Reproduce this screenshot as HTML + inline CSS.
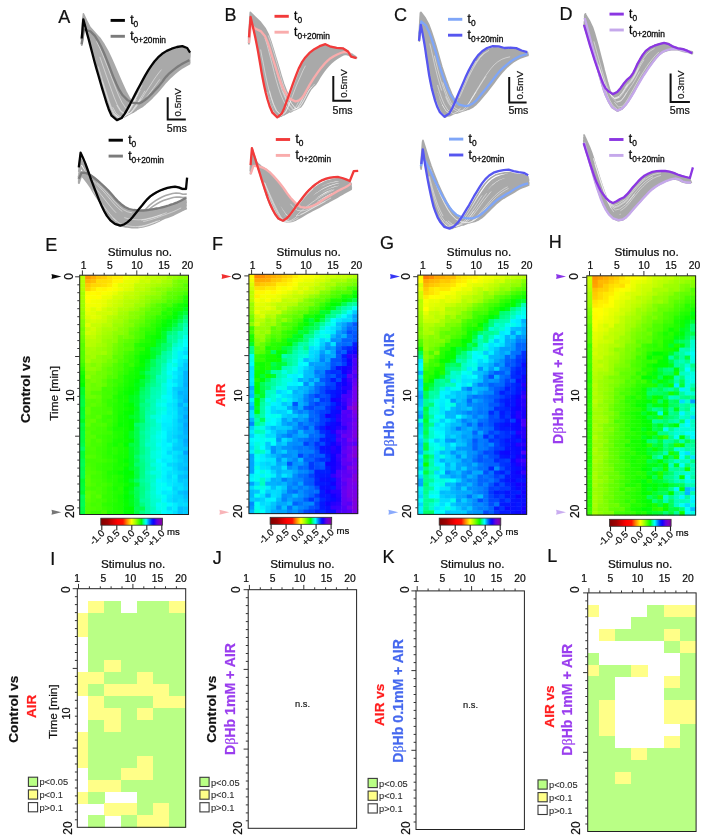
<!DOCTYPE html>
<html><head><meta charset="utf-8"><title>figure</title>
<style>
html,body{margin:0;padding:0;background:#fff}
svg{display:block;font-family:"Liberation Sans", sans-serif;will-change:transform}
text{stroke-width:.22px}
.h rect{width:5.94px;height:4.44px}
</style></head><body>
<svg width="706" height="840" viewBox="0 0 706 840">
<path d="M82 39.2L82.5 32.8L83.1 26.2L83.6 19.6L85.5 26.5L87.4 33.2L89.3 40L91.2 46.7L93.1 53.4L94.9 60.2L96.8 67L98.7 73.9L100.7 80.8L102.7 87.7L104.7 94.7L106.9 101.8L109.2 108.8L112.2 115.5L117.4 120L122.1 118.1L125.3 113.8L128 109.2L130.7 104.5L133.2 99.6L135.8 94.7L138.3 89.8L140.9 84.9L143.5 80L146.2 75.1L149 70.4L152 65.9L155.3 61.6L158.8 57.6L162.8 54.2L167.4 51.5L172.2 49.4L177.3 47.9L182.5 47.2L187.3 49.1L190.1 53.5M81.7 39L82.2 32.2L82.7 25.3L83.2 18.5L85.2 25.4L87.1 32.4L89.2 39.2L91.3 46.1L93.3 53.1L95.3 60.2L97.3 67.2L99.4 74.2L101.5 81.2L103.6 88.1L105.8 95L108 101.8L110.5 108.5L113.6 114.9L118.9 119.1L123.6 116.9L126.7 112.6L129.4 108L132 103.4L134.4 98.8L136.9 94.1L139.4 89.6L141.8 85L144.4 80.5L146.9 76L149.6 71.6L152.5 67.3L155.6 63.2L159.1 59.3L163 55.8L167.4 53L172.1 50.7L177.1 48.9L182.2 47.9L187 49.3L189.9 53.3M81.7 39.4L82.3 32.4L82.8 25.5L83.3 18.6L85.3 25.5L87.4 32.4L89.6 39.2L91.9 45.9L94 52.8L96 59.7L98.1 66.6L100.1 73.5L102.3 80.5L104.4 87.3L106.6 94.2L108.8 101.1L111.3 107.8L114.5 114.3L119.8 118.5L124.4 116.5L127.4 112.3L130.1 108L132.7 103.5L135.2 99L137.6 94.5L140.1 89.9L142.6 85.4L145.1 80.9L147.6 76.5L150.3 72.1L153.2 67.8L156.3 63.7L159.8 59.9L163.6 56.4L167.9 53.7L172.6 51.5L177.4 49.8L182.5 48.7L187.1 50.2L190 54M81.7 39.7L82.3 32.6L82.8 25.5L83.4 18.4L85.5 25.4L87.6 32.2L90 38.9L92.4 45.6L94.6 52.4L96.7 59.2L98.8 66.1L100.9 73L103.1 79.8L105.3 86.7L107.5 93.6L109.8 100.5L112.3 107.2L115.5 113.7L120.9 117.9L125.3 115.9L128.4 111.9L131 107.7L133.6 103.4L136.1 99L138.5 94.6L141 90.2L143.5 85.8L146 81.4L148.5 77L151.1 72.6L154 68.5L157.1 64.5L160.5 60.7L164.2 57.3L168.5 54.6L173 52.4L177.7 50.8L182.6 49.7L187.1 51L190 54.6M81.7 39.8L82.2 32.6L82.8 25.4L83.3 18.2L85.5 25.1L87.7 32L90.2 38.7L92.7 45.3L95 52.1L97.2 59L99.4 65.9L101.5 72.7L103.7 79.6L106 86.4L108.2 93.2L110.5 100.1L113.1 106.8L116.4 113.1L121.8 117.3L126.2 115.3L129.2 111.5L131.8 107.3L134.4 103.1L136.8 98.9L139.2 94.6L141.7 90.3L144.1 86.1L146.6 81.8L149.1 77.5L151.7 73.3L154.5 69.2L157.6 65.2L160.9 61.5L164.6 58.1L168.8 55.4L173.2 53.2L177.9 51.5L182.7 50.4L187.1 51.5L190 54.9M81.4 39.5L81.9 32L82.4 24.5L82.9 17.2L85.1 24.2L87.4 31.2L90 38.1L92.6 44.9L95 52L97.4 59.1L99.6 66.2L101.9 73.2L104.2 80.1L106.6 86.9L109 93.6L111.4 100.2L114 106.7L117.5 112.8L122.9 116.6L127.2 114.5L130.2 110.5L132.8 106.3L135.3 102.2L137.7 98.1L140 94L142.4 90L144.7 86.1L147.1 82.1L149.5 78.2L152 74.2L154.7 70.4L157.7 66.5L160.9 62.9L164.6 59.5L168.6 56.5L173 54.1L177.6 52.1L182.4 50.7L186.8 51.6L189.7 54.5M82 41L82.5 33.2L82.9 25.3L83.4 17.5L85.5 24.1L87.7 30.8L90.4 37.2L93 43.7L95.4 50.5L97.7 57.5L99.9 64.6L102.2 71.8L104.4 79L106.8 86.1L109.1 93.2L111.6 100.2L114.3 107L117.9 113.3L123.5 117.2L127.8 115.1L130.8 111.1L133.5 106.9L136.1 102.5L138.6 98.2L141.1 93.9L143.5 89.6L145.9 85.5L148.4 81.4L150.8 77.5L153.3 73.7L156 70L158.9 66.5L162 63.3L165.5 60.3L169.4 57.8L173.6 55.7L177.9 54L182.4 52.7L186.7 53.4L189.4 56M81.6 40.3L82.2 32.8L82.8 25.3L83.3 17.7L85.6 24.7L88 31.6L90.8 38.2L93.6 44.7L96.1 51.4L98.5 58.2L100.7 65L103 71.8L105.3 78.6L107.6 85.4L109.9 92.2L112.4 99L115 105.6L118.5 111.9L124 116L128.1 114.1L131 110.5L133.6 106.7L136.1 102.8L138.5 98.8L140.9 94.8L143.3 90.8L145.7 86.7L148.2 82.7L150.6 78.6L153.2 74.5L155.9 70.6L158.9 66.8L162.1 63.2L165.7 59.9L169.7 57.2L173.9 55L178.3 53.3L182.9 52.1L187.1 53L190 55.8M81.8 41L82.4 33.3L83 25.6L83.5 17.8L85.8 24.7L88.2 31.4L91.1 37.8L93.9 44.2L96.5 50.8L98.9 57.5L101.1 64.3L103.4 71.1L105.7 78L108 84.9L110.4 91.8L112.8 98.7L115.5 105.4L119 111.8L124.6 115.9L128.7 114.1L131.6 110.6L134.2 106.8L136.7 102.9L139.2 98.9L141.6 94.8L144 90.8L146.5 86.7L148.9 82.6L151.4 78.6L153.9 74.5L156.6 70.7L159.6 67L162.8 63.6L166.3 60.5L170.1 58L174.2 55.9L178.5 54.3L183 53.2L187.1 54L189.9 56.6M82 41.6L82.5 33.7L83.1 25.7L83.7 17.7L86 24.5L88.4 31.2L91.4 37.4L94.4 43.6L97 50.1L99.4 56.8L101.8 63.5L104.1 70.4L106.4 77.3L108.7 84.3L111.1 91.2L113.6 98.2L116.3 105.1L119.9 111.5L125.5 115.5L129.6 113.8L132.5 110.4L135.1 106.7L137.7 102.8L140.1 98.9L142.5 94.9L145 90.8L147.4 86.8L149.9 82.8L152.3 78.8L154.8 74.9L157.5 71.1L160.4 67.6L163.5 64.4L166.9 61.4L170.7 59L174.7 57.1L178.8 55.5L183.1 54.4L187.1 55L189.8 57.4M81.9 41.6L82.4 33.4L82.9 25.3L83.4 17.1L85.8 23.8L88.2 30.5L91.3 36.7L94.3 43L97 49.7L99.5 56.5L101.9 63.5L104.3 70.5L106.7 77.5L109.1 84.6L111.5 91.5L114.1 98.5L117 105.2L120.7 111.4L126.3 115.3L130.4 113.4L133.3 109.9L135.9 106.1L138.4 102.2L140.9 98.2L143.3 94.3L145.7 90.4L148.1 86.6L150.4 82.8L152.8 79L155.2 75.4L157.9 71.9L160.7 68.5L163.7 65.4L167 62.5L170.7 60.1L174.6 58L178.6 56.3L182.8 55L186.8 55.4L189.6 57.3M81.8 41.4L82.3 33.4L82.9 25.3L83.5 17.3L85.9 24.1L88.4 30.9L91.6 37.2L94.7 43.5L97.5 50.1L100 56.8L102.4 63.6L104.8 70.4L107.2 77.2L109.6 84.1L112 90.9L114.5 97.7L117.3 104.5L121 110.7L126.6 114.7L130.6 113L133.4 109.6L136 106.1L138.5 102.4L140.9 98.6L143.3 94.9L145.6 91.1L148 87.2L150.4 83.4L152.8 79.6L155.3 75.8L158 72.1L160.8 68.6L163.9 65.3L167.2 62.3L170.9 59.8L174.8 57.7L178.9 56L183.1 54.9L187.1 55.3L189.8 57.4M81.8 41.8L82.3 33.4L82.9 25.1L83.4 16.7L85.8 23.5L88.4 30.2L91.6 36.5L94.9 42.7L97.7 49.4L100.3 56.2L102.8 63.1L105.3 70.1L107.7 77L110.2 84L112.7 90.9L115.3 97.7L118.2 104.4L122 110.5L127.7 114.3L131.6 112.5L134.5 109.1L137.1 105.5L139.6 101.9L142 98.2L144.3 94.5L146.7 90.8L149 87.1L151.4 83.5L153.7 79.9L156.1 76.3L158.7 72.9L161.4 69.6L164.4 66.5L167.6 63.6L171.2 61.2L175 59.1L178.9 57.3L183 55.9L186.8 56.1L189.6 57.8M81.8 41.9L82.3 33.4L82.8 25L83.4 16.6L85.8 23.4L88.4 30.1L91.8 36.3L95.1 42.6L98 49.2L100.7 56L103.2 62.9L105.7 69.9L108.2 76.8L110.6 83.7L113.2 90.6L115.8 97.4L118.8 104.1L122.6 110.2L128.4 113.9L132.2 112.1L135 108.8L137.6 105.3L140.1 101.7L142.5 98.1L144.8 94.5L147.1 90.9L149.5 87.3L151.8 83.8L154.1 80.2L156.5 76.7L159.1 73.3L161.8 70.1L164.7 67L167.9 64.2L171.4 61.7L175.1 59.6L179 57.8L183 56.4L186.8 56.5L189.6 58M81.6 41.8L82.2 33.3L82.8 24.9L83.3 16.4L85.9 23.3L88.6 30.1L92 36.4L95.5 42.6L98.5 49.2L101.2 56L103.8 62.9L106.3 69.7L108.9 76.5L111.4 83.4L113.9 90.1L116.6 96.9L119.6 103.4L123.4 109.5L129.2 113.2L132.9 111.5L135.7 108.3L138.2 105L140.6 101.6L143 98.2L145.3 94.7L147.6 91.3L149.9 87.8L152.2 84.4L154.5 80.9L156.9 77.4L159.4 74L162.1 70.7L165.1 67.6L168.2 64.7L171.7 62.2L175.4 60L179.2 58.1L183.2 56.8L186.9 56.8L189.7 58.2M81.7 42L82.2 33.2L82.7 24.5L83.2 15.8L85.7 22.5L88.3 29.3L91.8 35.5L95.4 41.8L98.4 48.6L101.2 55.6L103.8 62.7L106.4 69.8L109 76.8L111.6 83.7L114.2 90.6L117 97.3L120 103.8L124 109.8L129.8 113.2L133.6 111.3L136.4 108L139 104.5L141.4 101L143.7 97.5L146 94L148.3 90.7L150.6 87.4L152.8 84.1L155.1 80.9L157.3 77.7L159.8 74.6L162.4 71.5L165.2 68.6L168.3 65.8L171.7 63.3L175.2 61.1L179 59.1L182.9 57.5L186.6 57.2L189.3 58.3M82.2 43.2L82.7 34.4L83.2 25.6L83.7 16.6L86.2 23.2L88.9 29.6L92.4 35.4L96 41.3L99 47.8L101.7 54.4L104.2 61.3L106.7 68.3L109.2 75.4L111.7 82.5L114.3 89.6L117.1 96.7L120.1 103.6L124.1 109.8L130 113.6L133.7 111.9L136.5 108.8L139.2 105.4L141.7 101.8L144.1 98.2L146.5 94.5L148.9 90.9L151.3 87.3L153.6 83.8L155.9 80.3L158.3 77L160.8 73.9L163.4 71L166.2 68.2L169.2 65.8L172.5 63.6L175.9 61.8L179.5 60.2L183.2 58.9L186.8 58.7L189.4 59.7M81.9 42.8L82.4 33.8L82.9 24.9L83.4 16L85.9 22.6L88.6 29.2L92.2 35.2L95.9 41.3L98.9 47.9L101.7 54.8L104.3 61.8L106.9 68.8L109.5 75.9L112.1 83L114.8 89.9L117.5 96.8L120.6 103.5L124.6 109.5L130.5 113.1L134.2 111.3L137.1 108.1L139.6 104.7L142.1 101.2L144.5 97.7L146.8 94.2L149.1 90.8L151.4 87.4L153.7 84.1L155.9 80.9L158.2 77.7L160.7 74.7L163.3 71.8L166 69L169 66.4L172.3 64.1L175.7 62L179.3 60.2L183 58.7L186.6 58.4L189.3 59.2M81.7 42.6L82.3 33.8L82.9 24.9L83.4 16.1L86.1 22.9L88.9 29.6L92.6 35.7L96.4 41.7L99.5 48.3L102.4 55L105 61.8L107.6 68.6L110.2 75.5L112.8 82.3L115.5 89.2L118.2 95.9L121.3 102.6L125.3 108.6L131.1 112.3L134.7 110.6L137.4 107.7L140 104.6L142.4 101.3L144.7 98.1L147 94.8L149.3 91.5L151.6 88.2L153.9 84.9L156.1 81.6L158.5 78.3L160.9 75.1L163.6 72.1L166.4 69.1L169.4 66.4L172.6 64L176.1 62L179.6 60.2L183.3 58.8L186.9 58.5L189.6 59.4M81.5 42.3L82.1 33.4L82.7 24.5L83.3 15.7L86 22.7L88.9 29.5L92.8 35.7L96.7 41.8L100 48.4L103 55.1L105.8 61.9L108.4 68.6L111.1 75.4L113.7 82.1L116.4 88.7L119.2 95.3L122.3 101.8L126.3 107.7L132.2 111.3L135.6 109.6L138.3 106.9L140.8 103.9L143.1 101L145.4 98L147.6 94.9L149.8 91.9L152.1 88.8L154.3 85.7L156.5 82.5L158.8 79.3L161.3 76.1L163.9 73L166.7 70L169.6 67.2L172.9 64.7L176.2 62.4L179.8 60.5L183.4 59L186.9 58.6L189.7 59.3M82 43.6L82.6 34.4L83.1 25.2L83.6 15.9L86.3 22.5L89.1 29L93 34.8L96.9 40.6L100.1 47L103.1 53.7L105.8 60.6L108.4 67.5L111.1 74.5L113.7 81.6L116.4 88.6L119.2 95.6L122.4 102.3L126.5 108.4L132.5 112L136 110.4L138.8 107.5L141.3 104.4L143.8 101.2L146.2 97.9L148.5 94.6L150.8 91.3L153.1 88.1L155.4 84.9L157.6 81.7L159.9 78.6L162.3 75.7L164.8 73L167.5 70.4L170.3 68L173.4 65.8L176.6 63.9L179.9 62.2L183.4 60.8L186.7 60.2L189.4 60.6M81.6 43L82.2 33.7L82.7 24.5L83.3 15.3L86 22.1L89 28.8L93 34.9L97 40.9L100.3 47.5L103.4 54.3L106.2 61.2L108.9 68.1L111.6 75L114.3 81.8L117.1 88.6L119.9 95.3L123.1 101.8L127.3 107.7L133.3 111.1L136.7 109.4L139.4 106.6L141.9 103.6L144.2 100.6L146.5 97.6L148.8 94.5L151 91.6L153.2 88.6L155.4 85.6L157.6 82.6L159.8 79.6L162.2 76.7L164.7 73.9L167.4 71.1L170.2 68.5L173.3 66.1L176.5 64L179.8 62.1L183.3 60.4L186.7 59.8L189.5 60M81.7 43.2L82.3 34.1L82.9 25L83.5 15.8L86.4 22.7L89.4 29.4L93.5 35.3L97.6 41.2L101 47.5L104.1 54L106.9 60.7L109.6 67.4L112.3 74.1L115 80.8L117.7 87.5L120.5 94.3L123.7 100.9L127.8 106.9L133.7 110.5L137 109.1L139.7 106.6L142.1 103.9L144.4 101.1L146.7 98.2L149 95.3L151.3 92.3L153.5 89.3L155.8 86.2L158 83L160.3 79.9L162.7 76.8L165.3 73.8L168 71L170.8 68.4L173.9 66.1L177 64L180.4 62.3L183.8 60.8L187.1 60.3L189.8 60.6M81.8 43.7L82.5 34.6L83.1 25.3L83.7 16.1L86.6 22.9L89.6 29.5L93.8 35.2L97.9 40.9L101.3 47.1L104.4 53.5L107.2 60.1L109.9 66.7L112.5 73.5L115.2 80.3L117.9 87.1L120.7 94L123.9 100.7L128 106.8L134 110.5L137.3 109.2L139.9 106.8L142.4 104.2L144.7 101.4L147 98.5L149.3 95.5L151.7 92.4L154 89.3L156.2 86.1L158.5 82.9L160.8 79.7L163.2 76.6L165.8 73.8L168.4 71L171.3 68.6L174.2 66.4L177.4 64.5L180.6 62.9L183.9 61.5L187.1 61L189.8 61.3M81.7 43.6L82.4 34.4L83 25.2L83.7 15.9L86.6 22.8L89.7 29.5L94 35.3L98.2 41L101.7 47.2L104.8 53.6L107.7 60.1L110.4 66.7L113.1 73.3L115.7 80L118.4 86.7L121.3 93.5L124.4 100.2L128.6 106.3L134.6 109.9L137.8 108.6L140.4 106.4L142.8 103.9L145.1 101.3L147.4 98.5L149.7 95.7L152 92.8L154.2 89.7L156.5 86.6L158.7 83.4L161 80.2L163.4 77.2L166 74.2L168.7 71.5L171.5 68.9L174.4 66.7L177.5 64.7L180.7 63L184 61.7L187.2 61.2L189.9 61.3M81.9 44.1L82.5 34.5L83 24.8L83.5 15.1L86.3 21.7L89.3 28.2L93.5 33.9L97.8 39.7L101.3 46.1L104.4 52.8L107.2 59.7L110 66.7L112.8 73.7L115.5 80.8L118.4 87.7L121.3 94.6L124.7 101.2L129 107.2L135.1 110.6L138.4 108.9L141.1 106.3L143.6 103.4L146 100.5L148.3 97.5L150.6 94.5L152.9 91.5L155.1 88.6L157.3 85.8L159.4 82.9L161.6 80.2L163.9 77.5L166.3 75L168.8 72.6L171.5 70.4L174.3 68.2L177.2 66.3L180.3 64.4L183.5 62.8L186.6 61.9L189.3 61.5M81.7 43.9L82.3 34.3L82.9 24.7L83.5 15.1L86.3 21.8L89.4 28.5L93.7 34.2L98.1 40L101.6 46.4L104.8 53L107.7 59.9L110.5 66.7L113.3 73.6L116 80.5L118.9 87.3L121.8 94L125.1 100.6L129.5 106.5L135.5 109.9L138.8 108.4L141.4 105.9L143.8 103.2L146.2 100.4L148.5 97.6L150.7 94.8L152.9 92L155.2 89.2L157.3 86.4L159.5 83.5L161.7 80.7L164 78L166.4 75.4L168.9 72.8L171.6 70.4L174.4 68.2L177.4 66.2L180.5 64.3L183.6 62.7L186.8 61.8L189.4 61.4M81.9 44.3L82.5 34.8L83.2 25.3L83.8 15.7L86.7 22.5L89.9 29.1L94.3 34.7L98.7 40.2L102.3 46.4L105.5 52.7L108.4 59.3L111.1 65.9L113.9 72.6L116.5 79.4L119.3 86.2L122.2 93.1L125.5 99.8L129.8 105.9L135.8 109.5L138.9 108.3L141.5 106.1L143.9 103.7L146.3 101.1L148.6 98.4L150.9 95.6L153.1 92.7L155.4 89.8L157.7 86.8L159.9 83.7L162.1 80.7L164.5 77.8L167 75.1L169.5 72.5L172.2 70.1L175 68L178 66.2L181 64.5L184.1 63.2L187.1 62.4L189.8 62.2M81.9 44.5L82.5 34.8L83.1 25L83.6 15.1L86.6 21.8L89.7 28.3L94.1 33.9L98.6 39.5L102.2 45.7L105.5 52.3L108.4 59L111.2 65.9L114 72.8L116.8 79.7L119.6 86.6L122.6 93.5L126 100.1L130.4 106.1L136.5 109.5L139.6 108.1L142.2 105.7L144.7 103.2L147.1 100.5L149.4 97.8L151.6 95L153.9 92.2L156.1 89.4L158.3 86.6L160.4 83.7L162.6 81L164.9 78.4L167.3 75.9L169.8 73.5L172.3 71.2L175.1 69.2L177.9 67.3L180.8 65.5L183.8 64L186.8 62.9L189.4 62.3M81.8 44.6L82.5 34.8L83.1 25L83.7 15.1L86.7 21.9L90 28.4L94.5 34L99.1 39.5L102.9 45.7L106.2 52.1L109.2 58.7L112 65.4L114.8 72.2L117.6 79L120.5 85.8L123.5 92.7L126.8 99.3L131.3 105.3L137.4 108.7L140.4 107.4L143 105.3L145.4 103L147.7 100.5L150 98L152.2 95.4L154.5 92.7L156.7 90L158.9 87.2L161 84.4L163.2 81.6L165.5 78.9L167.8 76.4L170.3 74L172.9 71.8L175.5 69.7L178.3 67.8L181.1 66L184.1 64.6L187 63.5L189.6 62.7M81.5 44L82.1 34.3L82.8 24.6L83.5 14.8L86.6 21.8L89.9 28.6L94.6 34.3L99.3 40L103.2 46.2L106.6 52.7L109.6 59.2L112.5 65.8L115.4 72.4L118.2 79L121.1 85.6L124.1 92.2L127.5 98.6L131.9 104.4L137.9 107.8L140.9 106.6L143.4 104.6L145.7 102.5L147.9 100.3L150.1 98L152.3 95.6L154.5 93.2L156.7 90.7L158.8 88L160.9 85.3L163.1 82.5L165.3 79.7L167.7 77L170.2 74.4L172.8 71.9L175.5 69.6L178.3 67.5L181.2 65.7L184.1 64.1L187.1 63L189.8 62.3M81.9 45.1L82.5 35L83.1 24.8L83.7 14.6L86.7 21.3L90 27.7L94.6 33.2L99.3 38.7L103.2 44.9L106.5 51.4L109.6 58.2L112.5 65L115.4 71.9L118.2 78.9L121.2 85.8L124.2 92.6L127.7 99.3L132.3 105.2L138.5 108.5L141.5 107.1L144 104.9L146.5 102.6L148.8 100.1L151.1 97.6L153.3 95L155.5 92.4L157.7 89.8L159.9 87.2L162 84.6L164.1 82.1L166.3 79.7L168.5 77.4L170.9 75.2L173.3 73.1L175.9 71.1L178.4 69.2L181.1 67.4L183.9 65.8L186.7 64.4L189.3 63.3M81.4 44.2L82.1 34.3L82.8 24.5L83.5 14.7L86.6 21.7L90.1 28.5L94.9 34.2L99.7 39.7L103.7 46L107.2 52.4L110.3 58.9L113.2 65.4L116.1 72L119 78.5L121.9 85.1L124.9 91.6L128.3 98.1L132.8 103.9L138.9 107.2L141.7 106L144.2 104.2L146.5 102.2L148.7 100.1L150.8 98L153 95.8L155.2 93.4L157.3 91L159.5 88.5L161.5 85.8L163.7 83L165.9 80.3L168.3 77.7L170.8 75.1L173.3 72.7L175.9 70.4L178.6 68.3L181.4 66.4L184.3 64.8L187.1 63.6L189.8 62.7M81.8 45.1L82.4 34.9L83 24.8L83.6 14.5L86.7 21.2L90.1 27.8L94.8 33.2L99.7 38.7L103.5 44.9L107 51.4L110.1 58.1L113 64.9L115.9 71.7L118.8 78.5L121.7 85.4L124.8 92.2L128.3 98.7L132.9 104.6L139.1 107.9L142 106.6L144.5 104.5L146.9 102.3L149.2 100L151.5 97.6L153.7 95.2L155.9 92.7L158.1 90.2L160.2 87.7L162.3 85.1L164.4 82.6L166.6 80.1L168.9 77.8L171.2 75.6L173.6 73.5L176.1 71.4L178.7 69.5L181.3 67.7L184 66.1L186.8 64.7L189.4 63.4M81.8 45.1L82.3 34.7L82.8 24.2L83.4 13.8L86.5 20.5L89.8 27L94.7 32.5L99.6 38.1L103.5 44.5L107 51.2L110.2 58.1L113.2 65L116.2 72L119.1 78.9L122.2 85.7L125.3 92.5L128.9 98.9L133.6 104.6L139.9 107.7L142.8 106.2L145.3 104L147.7 101.7L150 99.3L152.3 96.9L154.4 94.6L156.6 92.3L158.7 90L160.8 87.7L162.8 85.4L164.8 83.1L166.9 80.9L169.1 78.8L171.3 76.7L173.7 74.6L176.1 72.5L178.5 70.5L181.1 68.5L183.8 66.7L186.5 65L189.1 63.4M81.7 45.2L82.4 35L83 24.7L83.7 14.5L86.8 21.2L90.3 27.8L95.2 33.2L100.2 38.6L104.2 44.8L107.8 51.2L110.9 57.7L113.9 64.4L116.8 71.1L119.7 77.9L122.7 84.6L125.8 91.4L129.3 97.9L133.9 103.8L140.2 107.1L143 105.8L145.4 104L147.8 102L150 99.9L152.2 97.8L154.4 95.5L156.6 93.2L158.8 90.8L160.9 88.3L163 85.8L165 83.3L167.2 80.9L169.5 78.5L171.8 76.3L174.2 74.1L176.6 72.1L179.1 70.2L181.6 68.4L184.3 66.8L186.9 65.3L189.6 63.8" fill="none" stroke="#a9a9a9" stroke-width="1.6" stroke-linejoin="round" stroke-linecap="round"/>
<path d="M116.7 105L120.3 111.2L125.9 115.1L129.9 113.3L132.8 109.8L135.4 106.1L137.9 102.4L140.3 98.5L142.7 94.7L145 90.8M143.9 101L146.2 98L148.5 94.9L150.8 91.8L153 88.7L155.3 85.6L157.5 82.4L159.8 79.3M127.8 114.1L131.7 112.3L134.5 109.1L137.1 105.6L139.5 102L141.9 98.4L144.2 94.7L146.6 91.1L148.9 87.4L151.3 83.8L153.6 80.1L156.1 76.5L158.7 73L161.5 69.6M99.8 56.9L102.2 63.7L104.6 70.6L107 77.5L109.4 84.3L111.9 91.2L114.4 98L117.2 104.7L120.9 110.9L126.5 114.8L130.5 113L133.4 109.6L136 105.9L138.4 102.2L140.8 98.5M96.6 41.5L99.8 48L102.7 54.7L105.4 61.5L108.1 68.3L110.7 75.2L113.3 82L115.9 88.8L118.7 95.6L121.8 102.2L125.8 108.3M101.9 80.7L104 87.6L106.2 94.4L108.4 101.3L110.8 108.1L114 114.5L119.3 118.8L123.8 116.8L126.9 112.6L129.6 108.1L132.2 103.6L134.7 99.1L137.2 94.5L139.6 89.9L142.1 85.3M112.6 107.1L116 113.5L121.4 117.6L125.8 115.7L128.8 111.7L131.4 107.5L134 103.2L136.5 98.9M98.2 66.5L100.3 73.4L102.4 80.3L104.6 87.2L106.8 94.1L109 100.9L111.5 107.7L114.7 114.1L120 118.3L124.5 116.4L127.6 112.3L130.3 107.9L132.9 103.5L135.3 99L137.8 94.5L140.3 90M114.7 114.1L120 118.4L124.5 116.4L127.6 112.3L130.3 107.9L132.8 103.5L135.3 99L137.8 94.5" fill="none" stroke="#fff" stroke-opacity="0.75" stroke-width="0.6" stroke-linejoin="round"/>
<path d="M81.7 44.2L82.5 39.3L83.2 34.4L84 29.5L90.3 31.3L94.9 35.9L98.4 41.5L101.4 47.3L104.1 53.3L106.6 59.4L109 65.5L111.3 71.6L113.7 77.8L116.3 83.8L119.1 89.7L122.7 95.3L127.3 99.9L133.1 102.9L139.5 103.3L142.3 101.9L144.9 100L147.4 98L149.7 95.8L151.9 93.6L154.1 91.3L156.3 88.9L158.4 86.6L160.4 84.1L162.4 81.6L164.2 79L166.2 76.6L168.4 74.2L170.8 72.1L173.2 70.1L175.7 68.2L178.3 66.3L181 64.6L183.7 63L186.6 61.5L189.4 60.1" fill="none" stroke="#7b7b7b" stroke-width="2.3" stroke-linejoin="round" stroke-linecap="butt"/>
<path d="M81.7 38.5L82.3 32.1L82.8 25.7L83.3 19.3L85.2 26.2L87 33.2L88.9 40.1L90.7 47.1L92.5 54L94.3 61L96.2 67.9L98.2 74.8L100.2 81.7L102.2 88.6L104.3 95.5L106.4 102.4L108.7 109.2L111.6 115.7L116.9 120.1L121.6 118L124.8 113.6L127.5 108.9L130.1 104.1L132.6 99.2L135.1 94.4L137.6 89.5L140.2 84.7L142.8 79.9L145.4 75.1L148.2 70.4L151.2 65.9L154.4 61.5L158 57.4L162.1 53.8L166.7 50.9L171.7 48.7L176.9 47L182.3 46.1L187.2 48L190.1 52.6" fill="none" stroke="#050505" stroke-width="2.3" stroke-linejoin="round" stroke-linecap="butt"/>
<path d="M78.9 167.9L79.6 163.1L80.2 158.2L80.8 153.2L83.2 158.3L85.4 163.5L87.3 168.7L89.2 174L91.1 179.2L93.1 184.5L95.1 189.8L97.2 195.1L99.3 200.4L101.5 205.8L104 211L106.9 216L110.4 220.6L114.9 224.2L120.2 225.9L123.9 224.8L127.2 222.8L130.1 220.3L132.7 217.4L135.2 214.3L137.6 211.2L140.1 208.1L142.6 205.1L145.1 202L147.6 199.1L150.5 196.4L153.6 194.2L156.9 192.2L160.4 190.6L164 189.3L167.6 188.3L171.4 187.5L175.1 187.2L178.9 188L182.4 189.5L186 189.5M78.7 171.3L79.4 167.1L80.1 163L80.9 158.8L83.5 163.7L86 168.7L88.2 173.7L90.2 178.8L92.3 183.8L94.5 188.6L96.7 193.5L99 198.2L101.3 203L103.7 207.8L106.4 212.5L109.3 217L112.9 221.1L117.3 224.2L122.5 225.8L125.9 225.1L129 223.8L131.9 222.1L134.5 220L137 217.7L139.5 215.3L142 212.8L144.5 210.3L147.1 207.7L149.7 205.2L152.5 202.8L155.6 200.6L158.8 198.7L162.1 197L165.5 195.6L169 194.4L172.5 193.5L176.1 193L179.6 193.3L182.9 194.3L186.2 194.1M78.9 173.8L79.7 169.9L80.4 165.9L81.1 161.9L83.8 166.4L86.3 171.1L88.5 175.8L90.6 180.6L92.7 185.4L95 190.1L97.3 194.8L99.6 199.5L102 204.3L104.5 209L107.2 213.7L110.2 218.2L113.9 222.1L118.4 225L123.5 226.5L126.9 226L130 224.9L132.9 223.4L135.6 221.5L138.2 219.4L140.8 217.1L143.4 214.8L146 212.4L148.6 210.1L151.2 207.7L154 205.6L157 203.7L160.1 202L163.3 200.6L166.5 199.4L169.8 198.4L173.1 197.5L176.5 197L179.8 197.1L182.9 197.6L186.1 197.2M78.8 177.2L79.5 173.6L80.2 170L80.9 166.5L83.8 170.7L86.5 175.1L88.9 179.6L91.1 184.4L93.4 189.1L95.8 193.7L98.4 198.3L100.9 202.9L103.6 207.4L106.4 211.8L109.3 216.1L112.5 220.2L116.3 223.6L120.9 225.8L125.9 226.9L129.1 226.5L132.2 225.7L135.1 224.6L137.8 223.2L140.5 221.7L143.1 220L145.7 218.3L148.3 216.6L150.9 214.9L153.5 213.2L156.2 211.6L159 210.2L161.8 208.8L164.8 207.6L167.8 206.5L170.8 205.4L173.9 204.3L176.9 203.3L179.9 202.7L182.9 202.4L185.8 201.5M78.4 177L79.2 173.6L80 170.3L80.8 167L83.7 171.5L86.5 176L89 180.7L91.3 185.6L93.7 190.3L96.2 194.9L98.8 199.4L101.5 203.7L104.2 208L107 212.1L109.9 216.2L113.1 220L116.9 223.2L121.5 225.2L126.4 226.2L129.5 225.9L132.5 225.3L135.3 224.5L138 223.4L140.6 222.2L143.1 220.8L145.7 219.3L148.2 217.9L150.8 216.3L153.4 214.7L156.1 213L158.9 211.5L161.8 209.9L164.8 208.5L167.8 207.1L170.9 205.8L174 204.5L177.1 203.4L180.1 202.7L183.1 202.4L186.1 201.5M78.6 180.5L79.4 177.5L80.1 174.6L81 171.7L84 175.7L86.9 179.9L89.6 184.3L91.9 188.9L94.4 193.3L97.1 197.7L99.8 201.9L102.6 206.1L105.5 210.1L108.5 214.1L111.5 217.9L114.8 221.5L118.8 224.4L123.4 226.1L128.2 226.8L131.2 226.9L134.1 226.6L136.9 226.2L139.7 225.6L142.4 224.7L145.1 223.7L147.7 222.6L150.3 221.5L152.9 220.4L155.5 219.2L158.2 217.9L160.9 216.6L163.6 215.4L166.4 214.2L169.3 213L172.1 211.7L174.9 210.5L177.7 209.2L180.5 208.1L183.2 207.1L186 205.9M78.7 182.7L79.6 180.1L80.4 177.5L81.3 174.9L84.4 178.7L87.5 182.6L90.2 186.7L92.6 191L95.1 195.1L97.8 199.1L100.6 203.1L103.4 207L106.3 210.8L109.3 214.6L112.4 218.3L115.7 221.9L119.6 224.7L124.2 226.4L129 227.2L131.9 227.6L134.7 227.7L137.6 227.6L140.4 227.3L143.2 226.7L145.9 225.9L148.6 224.9L151.3 223.9L154 222.8L156.7 221.6L159.4 220.3L162.1 219.1L164.8 217.9L167.6 216.8L170.3 215.7L173 214.5L175.7 213.4L178.3 212.2L181 211L183.6 209.9L186.1 208.7M78.6 182.7L79.5 180.3L80.4 177.9L81.3 175.5L84.6 179.3L87.7 183.2L90.5 187.3L93 191.5L95.6 195.5L98.4 199.4L101.2 203.2L104.1 206.9L107 210.6L110 214.2L113.1 217.7L116.4 221.1L120.3 223.9L124.9 225.4L129.6 226.3L132.4 226.7L135.2 227.1L138 227.2L140.8 227.1L143.5 226.7L146.2 226L148.9 225.2L151.6 224.2L154.3 223.2L157 222L159.7 220.7L162.4 219.4L165.1 218.1L167.8 216.9L170.6 215.7L173.3 214.5L176 213.3L178.6 212.1L181.2 211L183.8 209.8L186.3 208.7M78.7 182.9L79.6 180.3L80.4 177.7L81.3 175.1L84.5 178.7L87.6 182.4L90.3 186.4L92.8 190.6L95.4 194.7L98.2 198.8L101 202.8L103.9 206.7L106.9 210.6L109.9 214.4L113.1 218.1L116.5 221.5L120.4 224.3L125.1 225.7L129.9 226.4L132.7 226.7L135.5 226.8L138.4 226.7L141.2 226.4L144 225.8L146.7 225L149.4 224.2L152.1 223.3L154.7 222.3L157.4 221.3L160 220.2L162.6 219.2L165.2 218.1L167.9 217.1L170.6 216.1L173.2 215L175.8 213.8L178.3 212.5L180.9 211.2L183.4 209.9L186 208.6M78.7 182.7L79.5 179.9L80.3 177.1L81 174.3L84.3 177.7L87.4 181.3L90.2 185.3L92.7 189.6L95.3 193.9L98.2 198.1L101 202.3L104 206.5L107 210.5L110.2 214.4L113.4 218.2L116.9 221.6L121 224.2L125.7 225.4L130.5 225.9L133.4 225.9L136.2 225.8L139.1 225.4L141.9 224.9L144.6 224.3L147.3 223.5L150 222.7L152.6 222L155.2 221.3L157.7 220.5L160.2 219.7L162.8 218.9L165.3 218.1L167.9 217.2L170.4 216.3L173 215.2L175.5 213.9L178 212.5L180.6 210.9L183.1 209.4L185.6 207.8M79 183.2L79.9 180.6L80.7 178L81.5 175.3L84.8 178.6L88 182L90.8 185.8L93.3 189.7L95.9 193.6L98.6 197.5L101.4 201.4L104.2 205.3L107.2 209.3L110.2 213.2L113.3 217L116.7 220.6L120.7 223.4L125.3 225.1L130.2 225.9L133 226.2L135.8 226.3L138.7 226.1L141.5 225.7L144.3 225L147.1 224.1L149.8 223.1L152.5 222L155.2 221L157.9 219.9L160.5 218.8L163.1 217.8L165.7 216.9L168.4 216L171 215.1L173.6 214.2L176.1 213.2L178.6 212.1L181 211L183.5 209.8L185.9 208.5M78.6 182.2L79.4 179.5L80.2 176.9L81.1 174.4L84.4 177.7L87.7 181.4L90.5 185.4L93.2 189.6L95.9 193.8L98.8 197.9L101.7 201.9L104.7 205.9L107.7 209.7L110.8 213.5L114 217L117.5 220.3L121.5 222.8L126.2 224.1L131 224.6L133.7 224.7L136.5 224.7L139.3 224.6L142 224.3L144.7 223.8L147.4 223.2L150 222.5L152.6 221.8L155.1 221L157.7 220.2L160.2 219.3L162.8 218.3L165.4 217.3L168 216.3L170.6 215.2L173.2 214L175.7 212.7L178.3 211.3L180.8 209.9L183.3 208.5L185.9 207.1M78.7 182.2L79.6 179.7L80.4 177.2L81.3 174.7L84.7 177.9L88 181.5L90.9 185.3L93.6 189.4L96.3 193.4L99.2 197.3L102.1 201.2L105 205L108 208.8L111.1 212.5L114.3 216.1L117.7 219.4L121.7 222L126.3 223.4L131.1 224.1L133.9 224.3L136.6 224.4L139.4 224.3L142.1 224L144.8 223.6L147.5 222.9L150.1 222.1L152.7 221.3L155.3 220.4L157.9 219.5L160.5 218.5L163.1 217.4L165.7 216.4L168.3 215.4L170.9 214.3L173.5 213.2L176 212.1L178.5 210.8L181 209.6L183.5 208.3L186 207M79 182.8L79.8 180L80.6 177.3L81.4 174.5L84.7 177.4L87.9 180.7L90.8 184.4L93.4 188.4L96.1 192.4L98.9 196.4L101.8 200.5L104.7 204.6L107.7 208.6L110.8 212.6L114 216.4L117.5 219.9L121.6 222.6L126.3 224L131.2 224.6L134 224.7L136.8 224.5L139.7 224.2L142.5 223.6L145.2 222.9L147.9 222L150.6 221.1L153.2 220.2L155.8 219.4L158.4 218.6L160.9 217.8L163.4 217L165.9 216.2L168.5 215.5L171 214.7L173.5 213.8L175.9 212.7L178.4 211.5L180.8 210.2L183.2 208.7L185.6 207.2M78.8 182.2L79.6 179.5L80.4 176.8L81.2 174.2L84.6 177.1L87.9 180.5L90.8 184.2L93.5 188.3L96.3 192.4L99.2 196.4L102.1 200.5L105 204.6L108.1 208.6L111.2 212.4L114.5 216.1L118 219.4L122.1 222L126.8 223.3L131.6 223.7L134.4 223.8L137.2 223.7L140 223.3L142.7 222.9L145.4 222.2L148.1 221.5L150.7 220.7L153.3 220L155.8 219.3L158.3 218.5L160.8 217.8L163.3 217L165.8 216.2L168.4 215.3L170.9 214.4L173.4 213.4L175.9 212.2L178.3 210.9L180.8 209.5L183.2 208L185.7 206.5M78.6 181.6L79.5 179.1L80.4 176.8L81.3 174.4L84.9 177.4L88.3 180.9L91.3 184.7L94.1 188.6L97 192.5L100 196.4L102.9 200.2L105.9 203.9L108.9 207.6L112 211.2L115.2 214.6L118.7 217.8L122.7 220.2L127.3 221.6L132 222.2L134.7 222.4L137.4 222.6L140.1 222.5L142.7 222.3L145.4 222L148 221.4L150.5 220.8L153.1 220L155.7 219.2L158.2 218.3L160.8 217.3L163.3 216.3L165.9 215.2L168.5 214.2L171.1 213L173.6 211.9L176.2 210.7L178.7 209.5L181.2 208.2L183.6 206.9L186.1 205.7M78.7 181.7L79.5 179.2L80.4 176.7L81.3 174.2L84.8 177.1L88.2 180.4L91.2 184.2L94 188.1L96.9 192.1L99.8 196L102.8 199.9L105.7 203.8L108.8 207.6L111.9 211.3L115.1 214.8L118.6 218.1L122.7 220.5L127.3 221.8L132.1 222.4L134.8 222.6L137.6 222.5L140.3 222.4L143 222L145.6 221.6L148.2 220.9L150.8 220.2L153.4 219.5L155.9 218.8L158.4 217.9L161 217.1L163.5 216.2L166 215.2L168.5 214.3L171.1 213.3L173.6 212.2L176.1 211L178.6 209.8L181 208.4L183.5 207.1L185.9 205.8M78.6 181.4L79.5 179L80.4 176.6L81.3 174.2L85 176.9L88.4 180.3L91.5 184L94.4 187.9L97.3 191.8L100.3 195.6L103.2 199.4L106.2 203.2L109.2 206.9L112.4 210.5L115.6 214L119.1 217.1L123.2 219.6L127.8 220.8L132.5 221.4L135.2 221.6L137.9 221.7L140.5 221.6L143.2 221.3L145.8 220.9L148.4 220.3L151 219.7L153.5 219L156 218.2L158.6 217.4L161.1 216.5L163.6 215.5L166.1 214.6L168.7 213.5L171.2 212.5L173.7 211.4L176.2 210.2L178.7 209L181.1 207.7L183.6 206.4L186 205.2M78.8 181.6L79.7 179.2L80.6 176.8L81.5 174.4L85.2 176.9L88.7 180.1L91.8 183.7L94.6 187.4L97.5 191.1L100.5 194.8L103.5 198.6L106.4 202.3L109.4 206.1L112.5 209.8L115.7 213.3L119.2 216.6L123.3 219.1L127.9 220.4L132.7 221.1L135.3 221.4L138 221.4L140.7 221.3L143.4 221L146 220.5L148.6 219.9L151.2 219.1L153.8 218.3L156.3 217.5L158.9 216.6L161.4 215.6L163.9 214.7L166.4 213.7L169 212.8L171.5 211.9L174 210.9L176.4 209.9L178.9 208.8L181.3 207.6L183.6 206.4L186 205.2M79 181.9L79.8 179.4L80.7 176.8L81.5 174.3L85.2 176.6L88.6 179.7L91.7 183.1L94.6 186.8L97.5 190.5L100.4 194.3L103.4 198.1L106.3 202L109.3 205.9L112.4 209.7L115.7 213.4L119.2 216.7L123.3 219.3L128 220.6L132.8 221.3L135.5 221.4L138.2 221.4L140.9 221.1L143.6 220.7L146.3 220.1L148.9 219.3L151.5 218.5L154.1 217.6L156.6 216.8L159.1 216L161.6 215.1L164.1 214.3L166.6 213.5L169.1 212.8L171.6 212L174 211.1L176.4 210.1L178.8 209L181.1 207.8L183.5 206.5L185.8 205.2M78.8 181.3L79.7 178.9L80.6 176.5L81.5 174.1L85.3 176.5L88.8 179.6L92 183.1L94.9 186.8L97.9 190.5L100.9 194.1L103.9 197.9L106.9 201.6L109.9 205.4L113 209L116.3 212.5L119.8 215.7L123.9 218.1L128.5 219.5L133.3 220.1L135.9 220.3L138.5 220.3L141.2 220.2L143.8 219.9L146.4 219.4L149 218.8L151.6 218.1L154.1 217.4L156.6 216.6L159.1 215.7L161.6 214.9L164.1 213.9L166.6 213L169.1 212.1L171.6 211.2L174.1 210.2L176.5 209.2L178.9 208.1L181.3 206.9L183.6 205.6L186 204.4M79 181.6L79.9 179.2L80.7 176.6L81.6 174.1L85.4 176.1L88.9 179L92 182.3L94.9 185.9L97.9 189.6L100.9 193.3L103.9 197.1L106.8 201L109.8 204.9L112.9 208.7L116.2 212.4L119.8 215.7L124 218.2L128.6 219.6L133.4 220.2L136.1 220.3L138.8 220.2L141.5 219.9L144.2 219.4L146.8 218.8L149.4 218L152 217.2L154.5 216.4L157.1 215.6L159.6 214.8L162 214L164.5 213.3L166.9 212.6L169.3 211.9L171.8 211.1L174.2 210.3L176.5 209.4L178.9 208.3L181.2 207.1L183.4 205.8L185.7 204.5M78.9 181.3L79.8 179L80.8 176.7L81.7 174.3L85.5 176.5L89.1 179.4L92.4 182.7L95.4 186.2L98.3 189.7L101.4 193.3L104.4 196.9L107.3 200.6L110.3 204.3L113.4 207.9L116.6 211.4L120.2 214.7L124.3 217.2L128.8 218.6L133.6 219.3L136.2 219.6L138.8 219.7L141.5 219.6L144.1 219.3L146.7 218.8L149.3 218.1L151.8 217.3L154.4 216.5L156.9 215.7L159.5 214.7L162 213.8L164.5 212.9L167 212L169.4 211.1L171.9 210.2L174.4 209.3L176.8 208.4L179.1 207.4L181.5 206.4L183.8 205.2L186.1 204.1M79.2 181.7L80.1 179.4L81 177L81.9 174.6L85.8 176.4L89.3 179.1L92.6 182.3L95.5 185.6L98.5 189L101.5 192.4L104.5 196L107.4 199.8L110.3 203.5L113.4 207.3L116.6 211L120.1 214.4L124.3 217L128.8 218.5L133.6 219.3L136.2 219.7L138.9 219.7L141.6 219.5L144.2 219.1L146.9 218.5L149.5 217.6L152.1 216.7L154.7 215.8L157.3 214.8L159.8 213.8L162.3 212.9L164.8 212L167.3 211.2L169.8 210.5L172.2 209.8L174.6 209.1L176.9 208.4L179.2 207.5L181.5 206.5L183.7 205.5L186 204.3M78.8 180.8L79.7 178.4L80.6 176.1L81.5 173.8L85.4 175.8L89.1 178.7L92.4 182.1L95.5 185.7L98.5 189.3L101.6 192.9L104.7 196.6L107.7 200.3L110.7 204L113.9 207.6L117.2 211.1L120.8 214.2L124.9 216.5L129.5 217.7L134.2 218.3L136.8 218.5L139.4 218.5L142 218.3L144.6 218L147.1 217.6L149.7 217L152.2 216.4L154.7 215.7L157.1 215L159.6 214.3L162.1 213.5L164.5 212.6L166.9 211.7L169.4 210.9L171.8 209.9L174.3 209L176.7 207.9L179 206.8L181.3 205.6L183.7 204.4L186 203.2M78.6 180.2L79.5 177.9L80.4 175.7L81.4 173.5L85.4 175.5L89.1 178.4L92.5 181.8L95.7 185.5L98.8 189.1L102 192.7L105.1 196.4L108.2 200.1L111.2 203.7L114.4 207.2L117.7 210.5L121.3 213.4L125.5 215.6L130.1 216.7L134.8 217.2L137.3 217.3L139.9 217.3L142.4 217.2L144.9 217L147.4 216.7L149.9 216.3L152.3 215.8L154.8 215.3L157.2 214.7L159.7 214L162.1 213.2L164.5 212.3L166.9 211.4L169.4 210.4L171.8 209.4L174.2 208.4L176.6 207.2L179 206L181.4 204.8L183.7 203.5L186 202.3M78.8 180.6L79.8 178.3L80.7 176.1L81.6 173.8L85.7 175.6L89.4 178.4L92.8 181.6L95.9 185L99 188.5L102.2 192L105.3 195.6L108.3 199.2L111.3 202.9L114.4 206.5L117.7 209.9L121.3 213L125.4 215.3L130 216.6L134.7 217.2L137.3 217.4L139.9 217.5L142.4 217.3L145 217L147.5 216.6L150 216.1L152.5 215.4L155 214.7L157.5 214L160 213.2L162.4 212.3L164.8 211.5L167.3 210.6L169.7 209.7L172.1 208.9L174.5 208L176.9 207L179.2 206L181.5 204.9L183.8 203.7L186 202.6M78.8 180.4L79.8 178.3L80.8 176.2L81.8 174.1L85.9 175.8L89.7 178.5L93.1 181.6L96.3 184.9L99.5 188.3L102.6 191.6L105.7 195L108.7 198.5L111.7 202.1L114.8 205.6L118 208.9L121.6 212L125.7 214.4L130.3 215.7L134.9 216.4L137.5 216.8L140 217L142.5 216.9L145 216.7L147.6 216.4L150.1 215.8L152.6 215.2L155.1 214.4L157.6 213.6L160.1 212.7L162.5 211.7L165 210.8L167.5 209.8L169.9 208.9L172.3 208L174.8 207.1L177.1 206.2L179.5 205.3L181.7 204.3L184 203.3L186.2 202.3M78.6 179.8L79.5 177.5L80.4 175.2L81.3 173L85.4 174.8L89.2 177.6L92.7 181L96 184.5L99.2 188.2L102.4 191.8L105.6 195.5L108.7 199.2L111.8 202.9L115 206.3L118.4 209.6L122 212.5L126.2 214.5L130.8 215.6L135.5 216L138.1 216L140.6 215.9L143.1 215.7L145.6 215.5L148 215.2L150.5 214.8L152.9 214.4L155.3 213.9L157.7 213.4L160 212.9L162.4 212.2L164.8 211.4L167.2 210.6L169.5 209.7L171.9 208.7L174.3 207.6L176.7 206.5L179 205.2L181.3 203.9L183.6 202.6L185.9 201.4M78.9 180.3L79.7 177.8L80.5 175.3L81.4 172.8L85.5 174.2L89.3 176.8L92.7 179.9L95.9 183.4L99.1 187L102.3 190.7L105.5 194.6L108.6 198.5L111.7 202.4L114.9 206.1L118.3 209.6L122 212.6L126.3 214.8L131 215.8L135.8 216.1L138.4 216L140.9 215.7L143.5 215.3L146.1 214.8L148.6 214.2L151 213.7L153.4 213.1L155.8 212.6L158.2 212.2L160.6 211.7L162.9 211.2L165.2 210.7L167.5 210.1L169.8 209.5L172.1 208.7L174.4 207.9L176.6 206.8L178.9 205.6L181.1 204.3L183.3 202.8L185.6 201.4M78.8 180L79.7 177.8L80.7 175.6L81.6 173.4L85.8 174.9L89.6 177.5L93.1 180.6L96.4 183.9L99.6 187.4L102.9 190.8L106 194.4L109 198L112.1 201.6L115.3 205.2L118.6 208.5L122.3 211.5L126.4 213.7L131 214.9L135.7 215.4L138.3 215.6L140.8 215.6L143.3 215.4L145.8 215.1L148.3 214.7L150.7 214.2L153.2 213.7L155.6 213.1L158 212.4L160.4 211.7L162.8 211L165.2 210.2L167.6 209.4L170 208.6L172.3 207.7L174.7 206.8L177 205.9L179.3 204.8L181.5 203.7L183.7 202.5L186 201.3M78.7 179.7L79.7 177.6L80.6 175.4L81.6 173.2L85.9 174.6L89.8 177.1L93.3 180.2L96.7 183.5L100 186.9L103.2 190.3L106.4 193.8L109.5 197.4L112.5 201L115.7 204.5L119.1 207.8L122.7 210.8L126.9 212.9L131.5 214L136.2 214.5L138.7 214.7L141.2 214.6L143.6 214.5L146.1 214.2L148.6 213.9L151 213.4L153.4 212.9L155.8 212.4L158.2 211.8L160.6 211.1L163 210.4L165.4 209.6L167.7 208.8L170.1 208L172.4 207.1L174.7 206.2L177.1 205.2L179.3 204.1L181.6 203L183.8 201.8L186 200.7M79.1 180.4L80.1 178.4L81.1 176.3L82.1 174L86.4 175.1L90.3 177.4L93.8 180.2L97.1 183.1L100.4 186.2L103.6 189.3L106.7 192.6L109.6 196.1L112.6 199.7L115.7 203.3L119 206.8L122.6 210L126.7 212.4L131.3 213.8L136 214.6L138.5 214.9L141 215.1L143.5 214.9L146 214.6L148.5 214.1L151 213.5L153.5 212.7L156 211.8L158.5 211L161 210L163.4 209.1L165.9 208.3L168.3 207.5L170.6 206.8L173 206.1L175.3 205.4L177.6 204.8L179.8 204L181.9 203.2L184 202.3L186.1 201.3M78.8 179.6L79.7 177.5L80.7 175.3L81.6 173.2L86 174.4L89.9 176.8L93.5 179.8L96.9 183L100.2 186.4L103.5 189.7L106.7 193.2L109.8 196.8L112.8 200.4L116 203.9L119.4 207.2L123.1 210.1L127.3 212.2L131.9 213.3L136.6 213.9L139 214L141.5 214L143.9 213.8L146.4 213.5L148.8 213.2L151.3 212.7L153.7 212.2L156.1 211.7L158.5 211.1L160.8 210.4L163.2 209.7L165.6 209L167.9 208.2L170.2 207.4L172.6 206.5L174.9 205.6L177.2 204.7L179.4 203.7L181.6 202.6L183.8 201.4L186 200.3M78.8 179.5L79.7 177.1L80.6 174.8L81.4 172.5L85.8 173.5L89.7 175.9L93.3 178.9L96.7 182.2L100.1 185.7L103.4 189.2L106.6 192.9L109.8 196.7L112.9 200.5L116.1 204.1L119.6 207.4L123.3 210.3L127.6 212.3L132.3 213.3L137 213.6L139.5 213.5L142 213.2L144.5 212.9L147 212.4L149.4 212L151.8 211.5L154.1 211.1L156.5 210.7L158.8 210.3L161.1 209.8L163.4 209.4L165.7 208.9L167.9 208.3L170.2 207.6L172.4 206.8L174.7 206L176.9 204.9L179.1 203.8L181.3 202.5L183.5 201.1L185.7 199.7M78.7 179.1L79.6 176.8L80.5 174.5L81.4 172.3L85.8 173.2L89.8 175.6L93.4 178.6L96.9 182L100.3 185.5L103.7 189L106.9 192.7L110.1 196.5L113.2 200.2L116.5 203.8L119.9 207L123.7 209.8L128 211.7L132.7 212.6L137.4 212.9L139.9 212.7L142.4 212.5L144.8 212.1L147.2 211.7L149.6 211.3L152 211L154.3 210.6L156.6 210.3L158.9 209.9L161.2 209.5L163.5 209.1L165.7 208.6L168 208L170.2 207.3L172.4 206.5L174.7 205.5L176.9 204.5L179.1 203.2L181.3 201.9L183.5 200.5L185.7 199.2M78.4 178.4L79.3 176.4L80.3 174.4L81.3 172.4L85.9 173.6L90 176.2L93.7 179.3L97.3 182.6L100.8 186.1L104.2 189.5L107.5 192.9L110.7 196.4L113.8 199.8L117.1 203.1L120.5 206.1L124.2 208.7L128.5 210.5L133 211.3L137.7 211.7L140 211.7L142.4 211.7L144.7 211.7L147.1 211.6L149.4 211.4L151.7 211.3L154 211.1L156.3 210.8L158.6 210.4L160.9 209.9L163.2 209.3L165.5 208.5L167.8 207.6L170.1 206.7L172.5 205.6L174.8 204.5L177.1 203.3L179.4 202.1L181.6 200.9L183.9 199.7L186.1 198.5M78.6 178.6L79.6 176.6L80.6 174.7L81.6 172.7L86.2 173.6L90.3 176L94.1 178.9L97.7 182.1L101.2 185.3L104.6 188.6L107.9 191.9L111 195.3L114.1 198.8L117.3 202L120.7 205.1L124.5 207.8L128.7 209.7L133.2 210.7L137.9 211.2L140.2 211.3L142.6 211.3L144.9 211.3L147.3 211.1L149.6 211L151.9 210.7L154.3 210.4L156.6 210L158.9 209.5L161.2 208.9L163.6 208.2L165.9 207.4L168.2 206.6L170.5 205.7L172.8 204.7L175.1 203.7L177.4 202.7L179.6 201.7L181.8 200.6L184 199.5L186.1 198.4M78.7 178.8L79.7 176.8L80.7 174.8L81.7 172.7L86.3 173.4L90.5 175.6L94.3 178.4L97.9 181.4L101.3 184.6L104.8 187.8L108 191.1L111.1 194.6L114.2 198.1L117.4 201.5L120.9 204.7L124.6 207.5L128.8 209.4L133.4 210.4L138.1 210.9L140.4 211.1L142.8 211L145.2 210.9L147.5 210.7L149.9 210.4L152.2 210L154.6 209.6L156.9 209.2L159.3 208.6L161.6 208.1L163.9 207.4L166.2 206.7L168.5 205.9L170.7 205.2L173 204.3L175.3 203.5L177.5 202.6L179.7 201.6L181.8 200.5L183.9 199.4L186 198.3M78.8 178.8L79.7 176.5L80.6 174.2L81.5 172L86 172.5L90.1 174.7L93.9 177.5L97.5 180.7L101 184L104.4 187.5L107.7 191.1L110.9 194.8L114 198.6L117.3 202.1L120.8 205.4L124.7 208.2L129 210L133.7 210.8L138.4 211.1L140.8 210.9L143.3 210.6L145.7 210.2L148 209.8L150.4 209.4L152.7 209L155 208.6L157.3 208.3L159.6 208L161.8 207.7L164 207.4L166.2 206.9L168.4 206.4L170.6 205.8L172.8 205.1L175 204.2L177.1 203.2L179.3 202L181.4 200.7L183.5 199.4L185.6 198" fill="none" stroke="#a9a9a9" stroke-width="1.6" stroke-linejoin="round" stroke-linecap="round"/>
<path d="M93.1 180.6L96.4 183.9L99.6 187.4L102.9 190.8L106 194.3L109.1 198L112.1 201.6L115.3 205.2L118.6 208.5L122.3 211.5M138.3 227L141.1 226.6L143.9 226.1L146.6 225.3L149.3 224.4L152 223.4L154.7 222.4L157.3 221.4L160 220.3M124.2 217.6L128.8 218.9L133.6 219.5L136.2 219.7L138.8 219.8L141.4 219.6L144.1 219.3L146.7 218.8L149.2 218.2L151.8 217.6L154.3 216.8L156.8 216.1L159.3 215.2L161.8 214.4L164.3 213.5L166.7 212.6M141.2 220.1L143.9 219.8L146.5 219.3L149 218.7L151.6 218L154.1 217.3L156.7 216.5L159.2 215.7L161.7 214.8M97 182.7L100.4 186L103.7 189.4L106.9 192.8L110 196.4L113 200L116.2 203.5L119.6 206.8L123.3 209.7L127.5 211.8L132.1 212.9M92.9 190.5L95.5 194.6L98.3 198.6L101.1 202.6L104 206.5L106.9 210.4L110 214.1L113.1 217.9L116.5 221.3M91.9 183.2L94.8 187L97.7 190.7L100.8 194.4L103.8 198.1L106.7 201.9L109.7 205.6L112.8 209.3L116.1 212.8M143.2 221.5L145.8 221L148.4 220.3L151 219.6L153.6 218.8L156.2 218L158.7 217.1L161.2 216.1L163.8 215.2L166.3 214.3L168.8 213.3L171.4 212.4L173.9 211.4L176.3 210.3L178.8 209.1L181.2 207.9M113.2 217.7L116.6 221.2L120.6 223.9L125.2 225.4L130 226.2L132.8 226.5L135.7 226.6L138.5 226.4L141.3 226.1L144.1 225.5L146.8 224.8L149.5 223.9L152.2 223L154.8 222L157.5 221" fill="none" stroke="#fff" stroke-opacity="0.75" stroke-width="0.6" stroke-linejoin="round"/>
<path d="M78.8 178.7L79.8 176.7L80.7 174.6L81.7 172.6L86.4 173.1L90.6 175.2L94.4 178L98 180.9L101.5 184L105 187.3L108.3 190.6L111.4 194.1L114.4 197.6L117.7 201.1L121.1 204.2L124.9 207L129.1 209L133.7 210L138.4 210.5L140.8 210.5L143.1 210.5L145.5 210.3L147.8 210L150.2 209.7L152.5 209.4L154.9 208.9L157.2 208.5L159.5 208L161.8 207.4L164.1 206.8L166.4 206.2L168.6 205.5L170.9 204.7L173.1 204L175.3 203.1L177.5 202.3L179.7 201.3L181.8 200.2L183.9 199.1L186 198" fill="none" stroke="#7b7b7b" stroke-width="2.3" stroke-linejoin="round" stroke-linecap="butt"/>
<path d="M78.8 167.4L79.4 162.5L80 157.6L80.6 152.7L83 157.9L85.2 163.1L87.2 168.5L89.1 173.9L91 179.3L93 184.6L95.1 190L97.2 195.3L99.3 200.6L101.6 205.8L104.1 211L106.9 215.9L110.4 220.4L114.9 223.9L120.3 225.6L123.9 224.5L127.2 222.4L130.1 219.9L132.7 217L135.1 214L137.5 211L139.9 207.9L142.4 205L144.8 202L147.4 199.1L150.2 196.4L153.3 194.2L156.6 192.2L160.1 190.5L163.7 189.1L167.4 187.9L171.2 187.1L175 186.7L178.8 187.4L182.4 188.9L186 188.9L187.1 177.6" fill="none" stroke="#050505" stroke-width="2.3" stroke-linejoin="round" stroke-linecap="butt"/>
<path d="M248.8 37.2L249.3 30.4L249.9 23.5L250.5 16.7L252.2 23.7L254 30.6L255.7 37.5L257.3 44.4L258.7 51.4L259.9 58.3L261.2 65.2L262.4 72L263.7 78.8L265.1 85.5L266.7 92.2L268.5 98.9L270.6 105.5L273.4 111.8L278.2 116.6L282.5 113L285 107.6L287.1 102.1L289 96.5L291 91L293 85.5L295.1 80L297.2 74.4L299.5 68.9L302.3 63.5L305.7 58.5L309.8 54L314.6 50.2L319.8 47L325.5 44.9L330.9 46.9L336.7 47.8L342.7 48.2L347.9 51.2L351.2 56.1L356.6 57.7M248.9 37.9L249.4 30.5L249.8 23.2L250.3 16L252.2 22.6L254 29.3L255.8 36.1L257.4 43.1L258.8 50.2L260.1 57.4L261.4 64.6L262.7 71.7L264 78.8L265.6 85.8L267.3 92.7L269.2 99.4L271.4 106L274.4 112.2L279.3 116.8L283.6 113L286.2 107.4L288.3 101.7L290.3 96L292.3 90.3L294.3 84.8L296.4 79.3L298.5 74L300.8 68.8L303.4 63.7L306.7 59.1L310.6 55L315.2 51.5L320.2 48.6L325.6 46.6L330.8 48.5L336.4 49.3L342.2 49.4L347.3 51.9L350.6 56.3L355.9 57.6M248.8 38L249.4 30.9L250 23.9L250.6 16.8L252.8 23.6L255 30.3L257.1 37.1L258.8 43.8L260.3 50.6L261.7 57.3L263 64L264.3 70.7L265.6 77.3L267 84L268.6 90.7L270.4 97.4L272.5 104L275.4 110.5L280.1 115.5L284.3 112.4L286.7 107.4L288.7 102.3L290.7 97.1L292.6 91.8L294.7 86.6L296.8 81.3L299 75.9L301.3 70.5L304.1 65.2L307.4 60.2L311.3 55.6L315.9 51.7L320.9 48.5L326.3 46.2L331.5 47.8L337.1 48.5L342.8 48.7L347.8 51.3L351.2 55.8L356.3 57.6M249.1 38.7L249.5 31.1L250 23.6L250.5 16.1L252.7 22.6L254.9 29L256.8 35.7L258.6 42.5L260.1 49.4L261.4 56.5L262.7 63.5L264.1 70.5L265.4 77.6L267 84.6L268.7 91.5L270.6 98.3L272.8 105L275.8 111.3L280.7 116.1L284.9 112.7L287.4 107.5L289.6 102L291.6 96.5L293.6 91L295.6 85.6L297.8 80.3L300 75.1L302.3 69.8L304.9 64.8L308.1 60.2L311.9 56L316.3 52.6L321.1 49.6L326.3 47.6L331.3 49.3L336.8 49.8L342.3 49.9L347.3 52.2L350.6 56.2L355.7 57.7M249.3 39.4L249.8 31.7L250.3 24L250.7 16.3L253 22.6L255.3 28.8L257.4 35.3L259.2 41.9L260.7 48.7L262 55.7L263.3 62.7L264.6 69.7L266 76.8L267.5 83.9L269.2 90.9L271.1 97.9L273.4 104.7L276.4 111.2L281.3 116.1L285.5 112.9L288 107.7L290.2 102.3L292.2 96.8L294.3 91.3L296.4 85.9L298.6 80.6L300.9 75.3L303.2 70.1L305.8 65.1L309 60.5L312.7 56.4L317 52.9L321.7 50.1L326.8 48.2L331.7 49.8L336.9 50.4L342.4 50.5L347.2 52.7L350.5 56.5L355.4 58M249.1 39.3L249.7 31.7L250.2 24L250.7 16.3L253.2 22.6L255.6 28.9L257.8 35.3L259.7 42L261.3 48.8L262.7 55.7L264 62.6L265.4 69.5L266.8 76.4L268.3 83.4L270 90.3L271.9 97.2L274.2 103.9L277.2 110.4L282 115.4L286.1 112.4L288.6 107.4L290.7 102.2L292.7 96.9L294.7 91.7L296.8 86.4L299.1 81.2L301.3 76.1L303.6 70.9L306.2 65.9L309.4 61.3L313 57.1L317.3 53.6L322 50.6L327 48.6L331.8 49.9L337 50.3L342.4 50.3L347.2 52.4L350.5 56.1L355.5 57.7M248.6 38.4L249.1 30.7L249.7 23.1L250.3 15.6L252.9 22.2L255.6 28.8L258 35.6L260 42.6L261.7 49.6L263.2 56.5L264.7 63.4L266.2 70.2L267.7 76.9L269.3 83.5L271 90.1L272.9 96.6L275.2 103L278.2 109.3L282.9 114.1L286.9 111.1L289.3 106.3L291.3 101.3L293.2 96.4L295.1 91.5L297.1 86.7L299.2 81.9L301.4 77.2L303.6 72.3L306.1 67.4L309.2 62.8L312.9 58.5L317.1 54.8L321.7 51.5L326.7 49.1L331.6 49.9L336.8 49.9L342.3 49.6L347.1 51.4L350.6 54.9L355.6 56.6M249.1 39.7L249.6 31.7L250.1 23.7L250.6 15.8L253.3 21.9L256 28.1L258.4 34.6L260.5 41.3L262.1 48.1L263.6 55.1L265 62L266.5 69L267.9 76L269.5 82.9L271.3 89.9L273.3 96.7L275.6 103.4L278.7 109.8L283.4 114.8L287.5 111.8L290 106.9L292.1 101.9L294.1 96.7L296.1 91.6L298.1 86.5L300.4 81.6L302.7 76.8L304.9 71.8L307.4 67.1L310.5 62.6L314 58.6L318.1 55.1L322.5 52.2L327.3 50.1L331.9 51L337 51.2L342.2 50.9L346.9 52.6L350.2 55.8L355.1 57.3M249.1 39.8L249.5 31.6L250 23.4L250.4 15.3L253.2 21.3L255.9 27.5L258.4 34L260.4 40.7L262.1 47.7L263.6 54.8L265.1 62L266.6 69.1L268.1 76.2L269.8 83.2L271.6 90.2L273.6 97L276.1 103.6L279.2 109.9L284 114.8L288.1 111.6L290.6 106.7L292.7 101.5L294.7 96.3L296.6 91.2L298.7 86.1L300.9 81.3L303.2 76.6L305.4 71.9L307.9 67.3L310.8 63L314.2 59.2L318.2 55.9L322.5 53L327.2 50.9L331.8 51.7L336.8 51.7L341.9 51.4L346.5 52.8L349.9 55.7L354.7 57.1M248.9 39.7L249.5 31.7L250 23.7L250.6 15.7L253.5 21.9L256.4 28.1L259 34.5L261.1 41.2L262.9 48L264.4 54.9L265.9 61.8L267.4 68.7L268.9 75.5L270.5 82.4L272.3 89.2L274.3 95.9L276.7 102.6L279.7 109L284.4 114L288.4 111.2L290.8 106.6L292.9 101.7L294.8 96.8L296.8 91.9L298.8 87.1L301.1 82.4L303.4 77.7L305.6 72.8L308.1 68.1L311.1 63.6L314.5 59.6L318.5 56L322.8 53L327.5 50.7L332.1 51.3L337.1 51.3L342.2 50.9L346.8 52.4L350.2 55.4L355 57M249.3 40.7L249.8 32.5L250.4 24.2L250.9 15.9L253.9 21.8L256.9 27.7L259.5 33.9L261.7 40.3L263.4 47L264.9 53.8L266.4 60.7L267.8 67.6L269.3 74.6L270.9 81.7L272.7 88.7L274.7 95.7L277.1 102.6L280.2 109.1L284.9 114.3L288.9 111.7L291.5 107.1L293.6 102.2L295.6 97.3L297.6 92.2L299.7 87.2L302 82.4L304.4 77.6L306.7 72.8L309.2 68L312.1 63.7L315.5 59.7L319.4 56.3L323.6 53.5L328.1 51.4L332.5 52L337.3 52.1L342.2 51.8L346.7 53.2L350.1 56L354.7 57.5M249.1 40.6L249.6 32.1L250.1 23.6L250.6 15.2L253.7 21.1L256.9 27L259.6 33.3L261.9 39.9L263.7 46.8L265.3 53.8L266.8 60.8L268.4 67.8L270 74.9L271.7 81.9L273.5 88.8L275.6 95.7L278.1 102.3L281.2 108.7L285.9 113.7L289.9 111L292.4 106.4L294.5 101.6L296.5 96.7L298.4 91.8L300.5 87L302.8 82.5L305.1 78L307.3 73.4L309.7 68.9L312.5 64.7L315.8 60.9L319.5 57.6L323.6 54.7L328 52.5L332.3 52.8L337 52.6L341.9 52L346.4 53.1L349.8 55.5L354.4 56.9M249.1 40.6L249.6 32.3L250.2 24L250.7 15.6L254 21.6L257.2 27.5L260 33.8L262.3 40.3L264.1 47L265.7 53.8L267.3 60.6L268.8 67.5L270.4 74.3L272 81.2L273.8 88.1L275.8 95L278.3 101.7L281.3 108.2L286 113.4L289.9 110.9L292.4 106.5L294.5 101.9L296.4 97.2L298.3 92.4L300.4 87.7L302.7 83.1L305.1 78.6L307.4 73.9L309.8 69.3L312.7 64.9L316 60.9L319.7 57.4L323.8 54.4L328.2 52.1L332.6 52.4L337.3 52.2L342.1 51.7L346.6 52.9L350 55.4L354.6 57M249.1 40.8L249.5 32.1L250 23.4L250.5 14.7L253.7 20.6L257 26.4L259.8 32.7L262.2 39.4L264.1 46.3L265.7 53.4L267.3 60.5L268.9 67.6L270.6 74.7L272.3 81.8L274.2 88.8L276.3 95.6L278.9 102.2L282.1 108.5L286.8 113.4L290.8 110.7L293.3 106.1L295.4 101.3L297.3 96.4L299.2 91.6L301.3 87L303.6 82.5L306 78.2L308.1 73.8L310.5 69.5L313.2 65.5L316.3 61.8L319.9 58.6L323.9 55.7L328.1 53.5L332.3 53.6L336.9 53.2L341.7 52.5L346.1 53.2L349.5 55.3L354.1 56.6M249 40.8L249.5 32.1L250 23.5L250.5 14.8L253.9 20.7L257.3 26.6L260.3 32.9L262.7 39.5L264.6 46.4L266.3 53.4L267.9 60.4L269.6 67.4L271.2 74.4L272.9 81.3L274.8 88.2L276.9 94.9L279.5 101.5L282.6 107.8L287.3 112.9L291.2 110.3L293.7 105.9L295.7 101.3L297.7 96.6L299.6 92L301.6 87.5L303.9 83.2L306.3 78.9L308.5 74.5L310.8 70.2L313.5 66.1L316.6 62.3L320.2 59L324.1 56L328.3 53.7L332.5 53.6L337 53.1L341.8 52.3L346.1 53L349.6 55L354.1 56.4M249.3 41.6L249.9 33.1L250.4 24.4L251 15.7L254.5 21.5L258.1 27.1L261.2 33.1L263.7 39.4L265.6 46L267.2 52.6L268.8 59.3L270.3 66.1L271.9 72.9L273.6 79.9L275.3 86.8L277.4 93.8L279.9 100.7L283 107.3L287.6 112.8L291.4 110.6L293.9 106.6L296 102.2L297.9 97.7L299.9 93.1L302 88.5L304.4 84.1L306.9 79.7L309.2 75L311.6 70.4L314.3 66.1L317.5 62.2L321.1 58.7L324.9 55.7L329 53.5L333.2 53.4L337.6 53L342.2 52.5L346.5 53.4L349.9 55.4L354.3 57.1M249 41.1L249.5 32.4L250 23.6L250.6 14.9L254.2 20.7L257.8 26.5L260.9 32.8L263.4 39.3L265.4 46.1L267.1 53L268.8 59.9L270.5 66.8L272.1 73.7L273.9 80.6L275.7 87.4L277.8 94.2L280.4 100.8L283.6 107.1L288.2 112.3L292 110L294.4 105.8L296.5 101.4L298.4 96.9L300.3 92.4L302.3 88L304.6 83.8L307.1 79.7L309.3 75.3L311.6 71L314.2 66.9L317.3 63.1L320.8 59.7L324.6 56.7L328.7 54.2L332.8 53.9L337.2 53.3L341.8 52.5L346.1 53L349.7 54.8L354.1 56.3M248.9 41.2L249.5 32.4L250 23.6L250.6 14.8L254.3 20.6L258 26.4L261.2 32.6L263.8 39.2L265.8 46L267.6 52.8L269.2 59.7L270.9 66.5L272.6 73.4L274.3 80.2L276.2 87.1L278.4 93.8L280.9 100.4L284.1 106.8L288.7 112L292.5 109.7L294.9 105.7L296.9 101.3L298.8 97L300.7 92.6L302.7 88.2L305.1 84.1L307.5 80.1L309.7 75.8L312 71.5L314.6 67.4L317.7 63.6L321.1 60.2L324.8 57.1L328.8 54.6L332.9 54.2L337.3 53.4L341.8 52.6L346.1 53L349.6 54.7L354 56.2M248.6 40.9L249.2 32L249.8 23.3L250.4 14.5L254.3 20.5L258.2 26.4L261.6 32.7L264.3 39.4L266.4 46.2L268.3 53.1L270 59.9L271.8 66.6L273.5 73.3L275.3 80L277.2 86.6L279.3 93.1L281.9 99.6L285.1 105.9L289.6 111.1L293.3 108.9L295.6 105L297.6 100.9L299.4 96.8L301.2 92.7L303.2 88.7L305.5 84.8L307.9 81L310.1 76.9L312.3 72.7L314.9 68.6L317.9 64.7L321.3 61.1L324.9 57.9L328.9 55.2L332.9 54.4L337.2 53.3L341.7 52.3L346 52.5L349.6 54L354 55.6M248.9 41.6L249.5 32.7L250.1 23.7L250.6 14.8L254.6 20.5L258.5 26.2L261.9 32.3L264.6 38.8L266.7 45.5L268.5 52.3L270.2 59.1L272 65.9L273.7 72.7L275.4 79.5L277.3 86.3L279.5 93L282.1 99.6L285.3 106.1L289.8 111.4L293.5 109.3L295.9 105.4L297.9 101.3L299.8 97.1L301.7 92.9L303.7 88.8L306.1 84.8L308.6 80.9L310.7 76.7L313 72.5L315.6 68.4L318.5 64.6L321.8 61.2L325.4 58.1L329.2 55.5L333.2 54.8L337.4 53.8L341.8 52.9L346 53.1L349.6 54.5L353.8 56.1M249 41.8L249.5 32.5L249.9 23.3L250.4 14.1L254.4 19.6L258.3 25.2L261.7 31.4L264.5 38L266.6 44.9L268.4 51.9L270.2 59L272 66L273.8 73L275.6 80L277.6 86.9L279.8 93.6L282.6 100.2L285.8 106.4L290.4 111.6L294.2 109.3L296.6 105.2L298.6 100.9L300.5 96.6L302.4 92.3L304.4 88.1L306.8 84.2L309.3 80.5L311.4 76.5L313.6 72.6L316 68.8L318.8 65.3L322 62.1L325.4 59.1L329.2 56.7L333 55.8L337.1 54.7L341.4 53.6L345.5 53.5L349.1 54.5L353.3 55.8M249.3 42.7L249.9 33.4L250.3 24.1L250.8 14.7L254.8 20L258.8 25.3L262.2 31.2L264.9 37.5L266.9 44.2L268.7 51L270.4 58L272.2 65L273.9 72.1L275.7 79.2L277.6 86.3L279.8 93.3L282.5 100.1L285.8 106.6L290.4 112L294.1 109.9L296.6 105.9L298.7 101.6L300.7 97.2L302.7 92.8L304.7 88.4L307.2 84.4L309.8 80.4L312 76.3L314.2 72.2L316.7 68.3L319.5 64.8L322.6 61.7L326 58.9L329.7 56.6L333.4 55.9L337.4 55.1L341.6 54.1L345.6 54.2L349.2 55.2L353.3 56.6M248.9 42L249.5 32.8L250 23.6L250.6 14.4L254.7 20L258.9 25.6L262.4 31.6L265.3 38.1L267.4 44.9L269.3 51.7L271.1 58.6L272.9 65.4L274.7 72.2L276.5 79.1L278.4 85.9L280.6 92.6L283.3 99.2L286.5 105.5L291 110.9L294.7 108.9L297.1 105.1L299.1 101.1L300.9 97L302.8 93L304.8 88.9L307.2 85.2L309.7 81.5L311.9 77.4L314.1 73.4L316.5 69.5L319.4 65.8L322.5 62.4L325.9 59.3L329.5 56.7L333.3 55.7L337.4 54.5L341.6 53.4L345.7 53.3L349.3 54.3L353.4 55.8M249.1 42.4L249.6 33.1L250.1 23.8L250.7 14.5L254.9 20L259.1 25.4L262.7 31.4L265.5 37.8L267.7 44.5L269.5 51.3L271.3 58.1L273.1 65L274.9 71.9L276.7 78.8L278.6 85.7L280.8 92.5L283.6 99.1L286.8 105.6L291.3 111L295 109L297.4 105.3L299.4 101.3L301.3 97.2L303.2 93.1L305.2 89L307.7 85.2L310.2 81.5L312.4 77.5L314.5 73.4L317 69.5L319.8 65.9L322.9 62.6L326.2 59.6L329.8 57.1L333.5 56L337.5 54.9L341.6 53.7L345.6 53.6L349.2 54.5L353.3 56M249.1 42.7L249.6 33.3L250.2 23.8L250.7 14.3L255 19.6L259.3 25L263 30.9L265.9 37.2L268.1 44L270 50.8L271.8 57.7L273.6 64.6L275.4 71.5L277.2 78.5L279.2 85.4L281.5 92.3L284.2 99L287.5 105.4L292 110.8L295.7 108.9L298.1 105.2L300.1 101.2L302 97.2L303.9 93.1L306 89.1L308.4 85.4L311 81.7L313.1 77.8L315.3 73.9L317.7 70.1L320.4 66.6L323.3 63.3L326.5 60.4L330 57.9L333.6 56.7L337.5 55.4L341.5 54.2L345.4 53.9L349 54.5L353 55.9M249 42.6L249.6 33.4L250.3 24.2L250.9 14.8L255.3 20.4L259.7 25.7L263.5 31.6L266.4 37.9L268.7 44.4L270.6 51L272.4 57.6L274.2 64.2L275.9 70.9L277.7 77.7L279.6 84.5L281.8 91.3L284.5 98L287.6 104.6L292.1 110.2L295.6 108.6L298 105.3L300 101.6L301.8 97.8L303.7 93.9L305.7 90L308.2 86.3L310.8 82.6L313 78.5L315.2 74.3L317.7 70.3L320.4 66.5L323.5 63.1L326.7 59.9L330.2 57.3L333.9 56L337.8 54.7L341.9 53.6L345.8 53.5L349.4 54.2L353.4 56M248.9 42.5L249.4 33.1L250 23.6L250.6 14.2L255.1 19.7L259.7 25.1L263.5 31.1L266.6 37.5L268.9 44.2L270.8 51L272.7 57.7L274.6 64.4L276.5 71.2L278.3 77.9L280.2 84.7L282.5 91.4L285.3 97.9L288.5 104.3L292.9 109.8L296.4 108.1L298.8 104.7L300.8 101L302.6 97.2L304.4 93.5L306.4 89.7L308.9 86.3L311.4 82.9L313.6 79L315.7 75.1L318 71.2L320.7 67.6L323.6 64.2L326.8 61L330.2 58.2L333.7 56.7L337.6 55.2L341.6 53.8L345.5 53.4L349.2 53.8L353.1 55.4M248.6 42.1L249.1 32.4L249.6 22.8L250.2 13.3L254.7 18.8L259.3 24.4L263.2 30.6L266.4 37.2L268.7 44.2L270.8 51.3L272.8 58.2L274.8 65.1L276.7 71.9L278.6 78.6L280.7 85.3L283 91.8L285.9 98.1L289.1 104.2L293.6 109.4L297.1 107.5L299.5 103.9L301.4 100.1L303.2 96.4L305 92.7L306.9 89.2L309.3 86L311.8 82.8L313.8 79.3L315.8 75.7L318.1 72.1L320.6 68.6L323.4 65.3L326.5 62.1L329.8 59.2L333.3 57.4L337.1 55.6L341.1 54L345.1 53.1L348.8 53.3L352.8 54.7M249.1 43.3L249.6 33.5L250.1 23.7L250.6 13.8L255.3 19L260 24.2L263.9 30L267.1 36.3L269.4 43.1L271.4 49.9L273.3 56.8L275.2 63.7L277.1 70.7L279 77.6L281 84.6L283.4 91.4L286.2 98L289.6 104.4L294 109.8L297.6 108.2L300 104.7L302 100.9L303.9 97.1L305.7 93.3L307.8 89.5L310.3 86.1L312.9 82.8L315 79.2L317 75.4L319.2 71.8L321.7 68.5L324.5 65.3L327.4 62.4L330.5 59.7L333.9 58L337.5 56.4L341.3 54.9L345.1 54.1L348.7 54.1L352.6 55.5M248.8 43L249.3 33L249.8 23.1L250.3 13.2L255.1 18.4L259.9 23.7L263.9 29.7L267.1 36.2L269.5 43.1L271.6 50.2L273.6 57.2L275.6 64.1L277.6 71L279.5 77.9L281.6 84.7L284 91.4L286.9 97.8L290.3 104L294.7 109.3L298.2 107.5L300.6 104L302.6 100.3L304.4 96.6L306.2 92.9L308.2 89.4L310.7 86.2L313.2 83.2L315.3 79.7L317.2 76.2L319.4 72.8L321.8 69.5L324.4 66.3L327.3 63.3L330.4 60.5L333.7 58.5L337.3 56.7L341 54.9L344.8 53.8L348.5 53.5L352.4 54.9M249.1 43.6L249.6 33.4L250 23.3L250.5 13.3L255.2 18.3L259.9 23.4L263.9 29.2L267.1 35.6L269.4 42.5L271.5 49.5L273.4 56.6L275.4 63.7L277.4 70.8L279.3 77.9L281.4 84.9L283.8 91.7L286.8 98.2L290.2 104.5L294.7 109.8L298.2 108L300.7 104.5L302.7 100.6L304.6 96.7L306.5 92.8L308.5 89.1L311 85.8L313.6 82.7L315.6 79.2L317.6 75.7L319.7 72.3L322.1 69.2L324.7 66.2L327.5 63.3L330.5 60.8L333.8 58.9L337.3 57.2L341 55.5L344.7 54.4L348.4 54.1L352.2 55.3M248.6 42.7L249.1 32.8L249.7 23L250.3 13.3L255.2 18.8L260.2 24.2L264.4 30.2L267.8 36.8L270.2 43.6L272.4 50.5L274.4 57.3L276.5 64L278.4 70.7L280.4 77.3L282.4 83.9L284.8 90.4L287.6 96.7L290.9 102.9L295.3 108.3L298.7 106.8L301 103.6L302.9 100.2L304.6 96.8L306.4 93.5L308.3 90.2L310.8 87.2L313.3 84.3L315.4 80.8L317.4 77.2L319.5 73.6L321.9 70.1L324.6 66.7L327.4 63.4L330.5 60.4L333.8 58.2L337.4 56.1L341.2 54.3L345 53.2L348.8 52.9L352.6 54.5M249 43.7L249.6 33.8L250.2 23.8L250.7 13.9L255.7 19.1L260.6 24.1L264.8 29.9L268.1 36.1L270.5 42.8L272.5 49.5L274.5 56.2L276.5 63L278.4 69.8L280.3 76.6L282.3 83.5L284.6 90.3L287.5 96.9L290.8 103.4L295.2 109L298.6 107.6L301 104.5L303 101L304.8 97.5L306.7 93.9L308.7 90.3L311.2 87.1L313.9 84L316 80.3L318 76.6L320.2 73L322.6 69.5L325.2 66.3L328 63.2L331 60.5L334.2 58.4L337.7 56.6L341.4 55.1L345.1 54L348.8 53.8L352.5 55.3M249 43.9L249.5 33.6L250 23.4L250.5 13.1L255.5 18.1L260.6 23.1L264.9 28.9L268.3 35.3L270.7 42.1L272.9 49L274.9 56L277 62.9L279 69.9L280.9 76.8L283 83.7L285.5 90.5L288.5 97L291.9 103.3L296.3 108.8L299.7 107.2L302.1 104L304.1 100.5L305.9 96.9L307.8 93.3L309.8 89.9L312.3 86.9L314.9 84L317 80.7L318.9 77.3L320.9 73.9L323.2 70.7L325.6 67.7L328.2 64.7L331 62L334.1 59.7L337.5 57.6L341 55.8L344.6 54.3L348.3 53.6L352 54.9M248.7 43.5L249.3 33.2L249.8 22.9L250.3 12.7L255.4 17.9L260.5 23L264.9 28.9L268.3 35.4L270.8 42.4L273 49.4L275.1 56.4L277.2 63.3L279.3 70.2L281.3 77.1L283.4 83.8L285.9 90.4L288.9 96.8L292.3 102.9L296.7 108.3L300.1 106.7L302.4 103.5L304.4 100L306.2 96.6L307.9 93.1L309.9 89.9L312.4 87L315 84.3L317 81.1L318.9 77.8L320.9 74.5L323.1 71.3L325.5 68.2L328.1 65.1L330.9 62.3L334 59.8L337.3 57.5L340.8 55.5L344.5 54L348.3 53.1L352 54.4M248.9 43.9L249.3 33.4L249.8 22.8L250.3 12.4L255.4 17.4L260.6 22.4L265 28.2L268.4 34.7L270.9 41.7L273.1 48.8L275.2 55.9L277.4 63L279.5 70.1L281.5 77.1L283.7 84L286.2 90.6L289.3 97L292.8 103.1L297.2 108.4L300.7 106.8L303.1 103.5L305 99.9L306.8 96.3L308.7 92.9L310.6 89.6L313.1 86.7L315.7 84.1L317.7 81L319.5 77.9L321.5 74.8L323.6 71.8L325.9 68.8L328.3 65.9L331 63.1L334 60.6L337.2 58.3L340.6 56.2L344.2 54.4L348 53.3L351.6 54.4" fill="none" stroke="#a9a9a9" stroke-width="1.6" stroke-linejoin="round" stroke-linecap="round"/>
<path d="M285 90.5L287.9 97.1L291.3 103.4L295.7 108.9L299.2 107.4L301.5 104.2L303.5 100.7L305.4 97.1L307.2 93.5L309.2 90L311.7 86.9M288.1 97L291.5 103.3L295.9 108.8L299.4 107.4L301.7 104.1L303.7 100.7L305.6 97.1L307.4 93.5L309.4 90L311.9 87L314.6 84M272.6 57.4L274.6 64.3L276.4 71.2L278.3 78.1L280.3 85L282.6 91.8L285.4 98.3L288.7 104.7L293.2 110.1L296.8 108.3L299.2 104.7L301.2 100.9L303 97L304.9 93.1M268.3 35.5L270.7 42.3L272.8 49.1L274.9 56L276.9 62.9L278.9 69.8L280.8 76.7L282.9 83.6L285.3 90.4L288.3 96.9M266.7 92.2L268.5 99L270.6 105.7L273.5 112.1L278.4 116.9L282.7 113.4L285.2 107.9L287.3 102.3L289.3 96.7L291.3 91L293.4 85.3L295.5 79.7L297.7 74.1L300 68.6M260.6 49.5L261.9 56.4L263.3 63.3L264.6 70.3L266 77.2L267.5 84.1L269.2 90.9L271.1 97.7L273.3 104.4L276.2 110.8L281.1 115.7L285.2 112.4L287.7 107.4L289.8 102.1M283.3 91.4L286.1 98L289.4 104.3L293.9 109.8L297.4 108.1L299.8 104.6L301.8 100.8L303.7 97L305.5 93.2L307.5 89.5L310 86.1M265 38.1L267.1 44.9L268.9 51.7L270.7 58.6L272.5 65.5L274.2 72.4L276 79.4L278 86.2L280.2 93L282.9 99.6L286.1 106L290.7 111.3L294.4 109.2L296.8 105.3L298.8 101.2M269.5 90.7L271.4 97.5L273.7 104.2L276.7 110.6L281.5 115.5L285.6 112.3L288.1 107.3L290.2 102L292.2 96.7L294.2 91.4L296.2 86.2L298.4 81L300.7 75.9L302.9 70.7L305.5 65.7" fill="none" stroke="#fff" stroke-opacity="0.75" stroke-width="0.6" stroke-linejoin="round"/>
<path d="M249 43.1L249.6 37L250.2 31L250.8 24.9L255.6 28.8L261.1 31.4L265 36.2L267.5 41.9L269.5 47.7L271.3 53.6L273.1 59.5L275 65.4L276.9 71.3L278.8 77.2L280.9 83L283.2 88.8L286.2 94.2L290.1 98.9L295.5 101.5L299 100.3L301.9 97.9L304.1 94.8L305.9 91.5L307.7 88.2L309.6 84.9L311.6 81.6L313.6 78.4L315.7 75.3L317.9 72.2L320.1 69.1L322.5 66.2L325 63.3L327.7 60.6L330.6 58.2L333.8 56.2L337.2 54.5L340.7 53L344.3 51.9L348 52.1L351 54.4" fill="none" stroke="#f9acac" stroke-width="2.3" stroke-linejoin="round" stroke-linecap="butt"/>
<path d="M249 37.4L249.5 30.6L250.1 23.8L250.6 17L252.2 23.8L253.8 30.7L255.3 37.5L256.7 44.4L258 51.3L259.2 58.2L260.4 65.2L261.5 72.1L262.8 79L264.2 85.9L265.7 92.7L267.5 99.5L269.6 106.2L272.4 112.7L277.3 117.4L281.7 113.7L284.2 108.2L286.3 102.4L288.4 96.6L290.4 90.8L292.4 85.1L294.5 79.3L296.7 73.6L299 67.9L301.8 62.4L305.3 57.4L309.4 52.9L314.3 49.2L319.6 46.2L325.4 44.2L330.8 46.7L336.7 47.8L342.8 48.3L348 51.5L351.2 56.6L356.6 58.2" fill="none" stroke="#f23a3a" stroke-width="2.3" stroke-linejoin="round" stroke-linecap="butt"/>
<path d="M250.7 165.4L251.1 159.6L251.6 153.9L252 148.1L253.5 153.2L255.1 158.2L256.6 163.3L258.2 168.5L259.8 173.6L261.4 178.8L263 184L264.6 189.2L266.3 194.5L268.1 199.7L270.1 204.8L272.5 209.7L275.1 214.4L278.3 218.8L283 220.9L286.4 218.8L289.3 215.8L291.9 212.5L294.3 209.1L296.6 205.6L299.1 202.2L301.6 198.9L304.1 195.6L306.7 192.5L309.4 189.5L312.4 186.8L315.5 184.3L318.9 182.1L322.5 180.2L326.2 178.9L330.2 178L334.2 177.4L338.2 177.3L342.2 178.3L346 179.7L349.7 181.2M250.6 165.7L251.1 160.1L251.6 154.4L252 148.8L253.7 153.9L255.3 159L257 164.2L258.6 169.3L260.2 174.4L261.9 179.5L263.6 184.7L265.3 189.8L267.1 194.9L268.9 199.9L270.9 205L273.3 209.8L275.9 214.5L279.1 218.9L283.8 220.8L287.2 218.9L290 216.1L292.7 213.1L295.1 209.9L297.5 206.8L299.9 203.6L302.5 200.6L305 197.5L307.7 194.6L310.5 191.8L313.4 189.1L316.6 186.7L319.9 184.5L323.4 182.6L327.1 181.1L331 180.1L334.9 179.3L338.8 179L342.6 179.7L346.3 180.8L350 181.9M250.7 166.1L251.2 160.5L251.6 154.8L252.1 149.2L253.8 154.3L255.5 159.4L257.1 164.4L258.8 169.5L260.4 174.6L262.1 179.6L263.8 184.7L265.5 189.8L267.3 194.9L269.2 200L271.2 205.1L273.5 210L276.2 214.7L279.3 219.1L284.1 221L287.5 219.2L290.4 216.5L293 213.5L295.5 210.4L297.9 207.3L300.4 204.2L303 201.2L305.6 198.2L308.2 195.3L311.1 192.6L314 190L317.2 187.6L320.5 185.4L324 183.6L327.6 182.1L331.4 181.1L335.2 180.4L339.1 180L342.8 180.6L346.4 181.5L350 182.5M250.6 166.2L251.2 160.6L251.7 155.1L252.2 149.5L253.9 154.6L255.6 159.7L257.3 164.7L258.9 169.8L260.6 174.8L262.3 179.8L264 184.9L265.7 189.9L267.5 194.9L269.4 200L271.4 205L273.7 209.9L276.3 214.6L279.5 219L284.2 220.9L287.6 219.2L290.5 216.6L293.1 213.8L295.6 210.8L298 207.7L300.5 204.7L303.1 201.7L305.7 198.8L308.4 195.9L311.3 193.1L314.3 190.5L317.4 188.1L320.8 185.9L324.2 184L327.9 182.6L331.6 181.5L335.4 180.7L339.3 180.3L343 180.9L346.6 181.8L350.2 182.8M250.9 167.1L251.4 161.5L251.9 155.8L252.4 150.1L254.1 155L255.8 159.8L257.4 164.7L259.1 169.6L260.7 174.6L262.4 179.6L264.1 184.6L265.8 189.8L267.6 195L269.5 200.2L271.6 205.4L273.9 210.4L276.6 215.3L279.8 219.8L284.6 221.6L288 220L291 217.4L293.7 214.6L296.2 211.5L298.8 208.4L301.4 205.3L304.1 202.3L306.7 199.4L309.5 196.5L312.4 193.9L315.4 191.4L318.5 189.2L321.7 187.3L325.1 185.6L328.6 184.3L332.3 183.4L335.9 182.7L339.6 182.3L343.1 182.6L346.6 183.2L350 183.9M250.5 166.4L251.1 160.9L251.6 155.3L252.1 149.8L253.9 155L255.6 160.1L257.4 165.2L259.1 170.3L260.9 175.4L262.7 180.5L264.5 185.5L266.3 190.6L268.1 195.6L270.1 200.6L272.2 205.5L274.5 210.3L277.1 214.9L280.3 219.2L285.1 220.9L288.5 219.2L291.3 216.8L294 214.1L296.5 211.3L298.9 208.4L301.5 205.7L304.1 203L306.7 200.3L309.4 197.7L312.3 195.2L315.2 192.7L318.4 190.5L321.6 188.3L325 186.5L328.5 184.9L332.2 183.7L335.9 182.7L339.6 182.1L343.2 182.3L346.7 182.7L350.2 183.3M250.7 167.1L251.2 161.5L251.7 155.9L252.2 150.3L254 155.3L255.7 160.3L257.5 165.3L259.2 170.4L261 175.4L262.8 180.5L264.6 185.7L266.5 190.8L268.4 195.9L270.4 201L272.5 206L274.9 210.9L277.6 215.6L280.8 219.9L285.6 221.3L289 219.7L292 217.3L294.7 214.7L297.2 211.8L299.8 209L302.4 206.3L305 203.7L307.7 201.2L310.5 198.7L313.3 196.3L316.3 194.1L319.4 192.1L322.5 190.1L325.8 188.4L329.3 187L332.8 185.8L336.3 184.7L339.9 184L343.4 183.9L346.8 184L350.2 184.2M250.8 167.6L251.4 162.3L252 157L252.6 151.6L254.5 156.6L256.3 161.5L258.1 166.4L259.9 171.2L261.7 175.9L263.5 180.7L265.2 185.5L267 190.3L268.9 195.2L270.8 200.2L272.9 205.2L275.1 210.2L277.7 215.1L280.9 219.7L285.7 221.3L289 220.2L291.9 218.1L294.6 215.8L297.2 213.2L299.8 210.6L302.5 207.9L305.3 205.2L308.1 202.6L310.9 199.9L313.9 197.3L317 194.9L320.1 192.6L323.4 190.5L326.7 188.7L330.1 187.3L333.6 186.1L337.1 185.2L340.6 184.7L344 184.7L347.4 185L350.6 185.2M250.9 168.2L251.5 162.8L252.1 157.4L252.7 151.9L254.5 156.7L256.4 161.6L258.2 166.4L260 171.1L261.8 175.9L263.5 180.7L265.3 185.6L267.2 190.6L269.1 195.6L271.1 200.6L273.2 205.7L275.5 210.7L278.1 215.7L281.3 220.2L286.2 221.7L289.5 220.6L292.5 218.6L295.3 216.2L297.9 213.6L300.5 211L303.3 208.3L306.1 205.8L308.9 203.2L311.8 200.7L314.8 198.3L317.8 196L320.9 194L324.1 192.1L327.4 190.4L330.7 189L334.1 187.9L337.5 187L340.8 186.3L344.1 186.1L347.4 186L350.5 185.9M250.4 167.4L250.9 161.8L251.5 156.2L252 150.7L253.9 155.8L255.8 160.9L257.6 166.1L259.6 171.4L261.5 176.6L263.4 181.8L265.4 187L267.4 192.2L269.5 197.2L271.7 202.2L273.9 207L276.4 211.7L279 216.1L282.3 220.2L287.3 221.1L290.6 219.7L293.5 217.5L296.3 215.1L298.9 212.6L301.4 210.2L304.1 208L306.8 205.9L309.5 203.9L312.2 202L315 200.1L318 198.3L321 196.5L324 194.7L327.2 192.9L330.4 191.3L333.7 189.8L337.1 188.3L340.4 187L343.8 186.2L347 185.6L350.3 185.1M250.6 168L251.2 162.5L251.7 157L252.3 151.5L254.2 156.5L256.1 161.5L258 166.5L259.9 171.6L261.8 176.7L263.7 181.7L265.7 186.8L267.7 191.9L269.7 196.9L271.9 201.9L274.1 206.8L276.5 211.6L279.2 216.3L282.4 220.5L287.4 221.5L290.7 220.2L293.7 218.2L296.5 215.9L299.1 213.5L301.7 211.1L304.5 208.9L307.2 206.7L310 204.7L312.8 202.7L315.7 200.7L318.7 198.9L321.7 197.1L324.8 195.3L327.9 193.6L331.1 192.1L334.3 190.7L337.6 189.3L340.9 188.1L344.1 187.3L347.3 186.6L350.4 186M250.9 168.8L251.5 163.6L252.2 158.2L252.8 152.7L254.7 157.6L256.6 162.5L258.5 167.2L260.4 172L262.3 176.7L264.2 181.5L266.1 186.4L268 191.3L270 196.2L272 201.2L274.2 206.2L276.5 211.2L279.1 216.1L282.4 220.6L287.3 221.8L290.6 220.9L293.6 219.2L296.4 217.1L299.1 214.8L301.8 212.4L304.7 210.1L307.6 207.8L310.5 205.6L313.4 203.4L316.4 201.2L319.4 199.2L322.5 197.3L325.6 195.5L328.8 193.9L332 192.4L335.1 191.2L338.3 190L341.5 189L344.7 188.4L347.7 187.8L350.7 187.2M250.6 168.5L251.2 163L251.7 157.5L252.3 152.1L254.3 157L256.2 162L258.2 167L260.1 172.1L262.1 177.2L264.1 182.3L266.1 187.4L268.2 192.4L270.3 197.5L272.5 202.4L274.8 207.3L277.3 212.1L279.9 216.7L283.2 220.8L288.3 221.6L291.6 220.5L294.6 218.6L297.4 216.5L300.1 214.2L302.7 212L305.5 210L308.3 208.1L311.2 206.3L314 204.5L316.9 202.8L319.9 201.1L322.9 199.5L325.9 197.9L328.9 196.2L332 194.7L335.1 193.1L338.2 191.6L341.3 190.2L344.4 189L347.5 187.9L350.5 186.8M250.6 168.8L251.1 163.2L251.7 157.6L252.2 152L254.2 156.9L256.1 161.9L258.1 166.9L260.1 172L262.1 177.2L264.1 182.4L266.2 187.7L268.3 192.9L270.5 198L272.8 203L275.1 207.9L277.6 212.7L280.3 217.2L283.7 221.3L288.8 221.8L292.1 220.7L295.2 218.7L298 216.6L300.7 214.3L303.4 212.1L306.2 210.2L309 208.4L311.9 206.8L314.7 205.2L317.6 203.7L320.5 202.3L323.4 200.9L326.4 199.4L329.3 197.9L332.3 196.3L335.3 194.7L338.3 193.1L341.4 191.5L344.4 190.1L347.4 188.6L350.4 187.2M250.4 168.8L251 163.3L251.6 157.8L252.2 152.4L254.2 157.3L256.2 162.4L258.3 167.5L260.3 172.6L262.4 177.8L264.5 183L266.6 188.2L268.7 193.3L271 198.3L273.3 203.2L275.7 208L278.1 212.7L280.8 217.1L284.2 221.1L289.3 221.6L292.6 220.5L295.6 218.8L298.4 216.8L301.1 214.7L303.8 212.7L306.6 211L309.5 209.4L312.3 208L315.2 206.5L318.1 205.1L321 203.7L323.9 202.3L326.8 200.8L329.8 199.1L332.7 197.5L335.7 195.8L338.7 194L341.7 192.3L344.6 190.6L347.6 189L350.6 187.5M250.3 168.5L250.9 163.1L251.5 157.8L252.2 152.6L254.3 157.7L256.3 162.9L258.4 168.1L260.5 173.2L262.6 178.4L264.8 183.5L266.9 188.5L269.1 193.5L271.3 198.3L273.6 203L276 207.7L278.4 212.2L281.1 216.7L284.4 220.7L289.4 221.1L292.7 220.2L295.6 218.6L298.4 216.9L301.1 215L303.8 213.2L306.5 211.6L309.4 210.1L312.2 208.7L315.1 207.3L318 205.8L320.9 204.3L323.9 202.8L326.9 201.1L329.8 199.3L332.8 197.5L335.8 195.7L338.8 193.8L341.9 192.1L344.9 190.4L347.9 188.9L350.8 187.4M250.5 169.5L251.2 164.4L252 159.3L252.7 154.1L254.9 159.2L257 164.2L259.1 169.1L261.3 174L263.4 178.8L265.4 183.6L267.5 188.3L269.7 193L271.9 197.7L274.1 202.4L276.4 207.1L278.8 211.8L281.4 216.5L284.6 220.8L289.6 221.4L292.8 221L295.8 219.8L298.7 218.3L301.4 216.6L304.2 215L307.1 213.4L310 211.9L313 210.4L316 208.8L319.1 207.2L322.1 205.6L325.1 203.9L328.1 202.2L331.1 200.4L334 198.6L337 196.9L339.9 195.3L342.8 193.6L345.6 192L348.4 190.5L351.3 188.9M250.7 169.9L251.4 164.8L252.1 159.7L252.9 154.5L255 159.4L257.1 164.2L259.3 169L261.4 173.8L263.5 178.5L265.6 183.2L267.6 188L269.8 192.7L272 197.4L274.2 202.2L276.5 207L278.9 211.8L281.4 216.6L284.7 220.9L289.8 221.6L293 221.1L296 219.9L298.8 218.4L301.6 216.7L304.4 215L307.3 213.3L310.3 211.7L313.3 210.1L316.4 208.5L319.4 206.9L322.4 205.2L325.4 203.6L328.4 202L331.4 200.3L334.3 198.6L337.1 197L340 195.4L342.9 193.9L345.7 192.3L348.5 190.8L351.2 189.2M250.7 170.4L251.4 165.2L252.1 160L252.7 154.8L255 159.2L257.3 163.7L259.5 168.3L261.7 173L263.9 177.8L266 182.7L268.2 187.6L270.4 192.5L272.7 197.4L275.1 202.2L277.5 207L280 211.8L282.7 216.4L286.1 220.4L291.2 220.9L294.4 220.2L297.4 218.7L300.3 217.1L303.1 215.2L305.8 213.3L308.7 211.6L311.6 210.1L314.5 208.6L317.4 207.2L320.3 205.8L323.2 204.4L326 203.1L328.8 201.7L331.6 200.3L334.4 198.8L337.2 197.2L339.9 195.6L342.7 194L345.4 192.3L348.1 190.5L350.8 188.6M250.6 170.2L251.4 165.3L252.1 160.4L252.9 155.4L255.2 159.9L257.6 164.5L259.9 169.1L262.1 173.7L264.3 178.4L266.5 183L268.7 187.6L270.9 192.3L273.1 196.9L275.4 201.6L277.7 206.2L280.2 210.9L282.8 215.5L286.1 219.7L291.2 220.3L294.3 219.9L297.2 218.7L300.1 217.3L302.8 215.6L305.5 213.9L308.3 212.3L311.2 210.8L314.2 209.3L317.1 207.7L320.1 206.1L323 204.5L325.9 202.9L328.9 201.3L331.7 199.6L334.6 198L337.4 196.4L340.2 194.8L343 193.3L345.8 191.8L348.5 190.2L351.2 188.6M250.8 170.7L251.5 165.8L252.2 160.8L252.9 155.8L255.3 159.9L257.7 164.2L260.1 168.6L262.4 173.1L264.6 177.7L266.8 182.4L269 187.1L271.2 191.9L273.5 196.7L275.8 201.5L278.3 206.2L280.8 210.9L283.5 215.5L286.9 219.5L292 220.1L295.1 219.5L298.1 218.2L300.9 216.6L303.7 214.8L306.4 213L309.3 211.3L312.1 209.7L315 208.1L317.9 206.6L320.7 205.1L323.6 203.7L326.5 202.3L329.3 200.9L332 199.5L334.8 198L337.5 196.5L340.2 195.1L342.9 193.5L345.6 191.9L348.3 190.2L350.9 188.5M250.4 170.2L251.2 165.6L252 161L252.9 156.4L255.5 160.7L258.1 165.1L260.6 169.6L263.1 174.1L265.4 178.6L267.7 183.1L270 187.5L272.2 191.9L274.5 196.3L276.8 200.8L279.2 205.2L281.7 209.6L284.4 214L287.7 218L292.6 218.6L295.6 218.3L298.5 217.3L301.2 216L303.8 214.6L306.5 213.1L309.2 211.7L312 210.3L314.8 208.8L317.7 207.3L320.6 205.7L323.4 204L326.3 202.3L329.2 200.5L332 198.8L334.9 197L337.7 195.3L340.5 193.8L343.3 192.2L346 190.8L348.7 189.3L351.4 187.8M250.5 170.6L251.2 165.7L251.9 160.8L252.6 155.9L255.2 159.8L257.8 163.9L260.3 168.3L262.8 172.9L265.2 177.7L267.5 182.5L269.8 187.3L272.2 192.1L274.6 196.9L277.1 201.6L279.6 206.1L282.3 210.5L285.1 214.8L288.6 218.4L293.7 218.7L296.8 217.9L299.7 216.5L302.4 214.8L305.1 213L307.7 211.3L310.4 209.8L313.1 208.4L315.9 207.2L318.6 205.9L321.3 204.7L324 203.5L326.7 202.3L329.4 201L332.1 199.5L334.7 198L337.4 196.4L340.1 194.7L342.8 193L345.4 191.2L348.1 189.3L350.7 187.3M250.2 170.3L251 165.8L251.8 161.4L252.7 157.1L255.6 160.9L258.4 165.1L261.1 169.5L263.8 174L266.3 178.5L268.7 183L271.1 187.4L273.5 191.8L275.9 196.2L278.3 200.4L280.8 204.7L283.4 208.8L286.2 212.9L289.7 216.5L294.6 217L297.5 216.5L300.2 215.4L302.9 214.2L305.4 212.8L308 211.4L310.6 210.2L313.2 208.9L315.9 207.7L318.6 206.3L321.3 204.9L324.1 203.4L326.8 201.8L329.6 200.2L332.3 198.4L335 196.6L337.8 194.9L340.5 193.2L343.3 191.5L346 189.9L348.6 188.3L351.2 186.7M250.5 170.9L251.3 166.4L252 162L252.8 157.5L255.7 161.1L258.6 165L261.3 169.1L264 173.4L266.5 177.8L268.9 182.3L271.3 186.8L273.7 191.3L276.1 195.8L278.5 200.2L281 204.6L283.7 208.8L286.6 213L290 216.6L295 217.1L297.9 216.5L300.7 215.4L303.4 214L306 212.5L308.5 210.9L311.2 209.5L313.8 208.1L316.5 206.8L319.2 205.4L321.9 204L324.6 202.6L327.3 201.2L330 199.7L332.6 198.1L335.3 196.6L337.9 195L340.6 193.4L343.3 191.9L345.9 190.3L348.5 188.6L351 186.9M250.7 171.6L251.4 167L252.1 162.4L252.8 157.9L255.8 160.9L258.7 164.4L261.5 168.3L264.2 172.5L266.7 177L269.2 181.6L271.6 186.2L274.1 190.9L276.5 195.6L279 200.2L281.7 204.7L284.4 209L287.4 213.1L291 216.5L296 216.9L299 216.1L301.8 214.7L304.5 213.1L307.1 211.4L309.7 209.7L312.3 208.1L314.9 206.7L317.5 205.3L320.1 204.1L322.7 202.9L325.3 201.8L327.9 200.6L330.4 199.4L332.9 198.1L335.5 196.7L338 195.3L340.6 193.8L343.1 192.3L345.7 190.5L348.1 188.7L350.6 186.7M250.5 171.3L251.3 167.1L252.2 162.9L253 158.7L256.1 161.9L259.2 165.5L262.1 169.3L264.8 173.4L267.4 177.7L269.9 182L272.4 186.3L274.8 190.6L277.2 195L279.6 199.3L282.2 203.6L284.9 207.8L287.8 211.9L291.3 215.4L296.1 216L299 215.5L301.8 214.4L304.4 213.2L306.9 211.7L309.4 210.3L312 208.9L314.6 207.5L317.3 206.1L319.9 204.6L322.5 203.2L325.2 201.8L327.8 200.3L330.5 198.7L333.1 197.2L335.7 195.7L338.3 194.2L341 192.7L343.6 191.3L346.2 189.8L348.7 188.2L351.1 186.6M250.5 171.5L251.3 167.3L252.1 163.1L252.9 158.9L256.1 161.9L259.3 165.3L262.2 169.1L265 173.2L267.7 177.4L270.2 181.8L272.7 186.1L275.2 190.5L277.7 194.9L280.1 199.3L282.8 203.5L285.5 207.7L288.5 211.6L292 215L296.9 215.5L299.8 214.9L302.5 213.8L305.1 212.5L307.6 211L310.1 209.5L312.7 208.1L315.2 206.7L317.8 205.4L320.4 204L323 202.7L325.5 201.4L328.1 200L330.7 198.6L333.2 197.1L335.8 195.6L338.4 194.2L340.9 192.7L343.5 191.2L346.1 189.6L348.5 188L350.9 186.3M250.8 172.5L251.6 168.3L252.4 164.2L253.2 159.9L256.5 162.3L259.7 165.3L262.8 168.7L265.6 172.5L268.2 176.6L270.8 180.8L273.3 185.2L275.8 189.6L278.3 194.1L280.7 198.6L283.4 203L286.2 207.2L289.2 211.3L292.8 214.7L297.7 215.2L300.6 214.6L303.4 213.5L306 212.1L308.6 210.4L311.1 208.8L313.7 207.2L316.2 205.6L318.8 204.1L321.3 202.7L323.8 201.4L326.4 200.1L328.9 198.9L331.4 197.6L333.8 196.4L336.3 195.2L338.7 193.9L341.2 192.7L343.7 191.4L346.1 189.9L348.5 188.2L350.8 186.4M250.5 172.1L251.4 168.2L252.2 164.3L253.1 160.3L256.6 162.7L259.9 165.8L263.1 169.2L266.1 173.1L268.9 177.1L271.5 181.3L274.1 185.5L276.7 189.7L279.2 194L281.7 198.2L284.4 202.4L287.2 206.4L290.2 210.2L293.8 213.4L298.7 213.9L301.5 213.4L304.1 212.4L306.7 211.1L309.1 209.7L311.6 208.3L314 206.9L316.5 205.5L319 204.2L321.4 202.9L323.9 201.5L326.4 200.2L328.9 198.9L331.4 197.5L333.8 196L336.3 194.6L338.8 193.2L341.3 191.9L343.8 190.5L346.3 189L348.6 187.4L350.9 185.7M250.6 172.4L251.4 168.3L252.2 164.2L252.9 160.2L256.4 162.3L259.8 165.1L263.1 168.5L266 172.3L268.8 176.5L271.5 180.9L274.2 185.3L276.8 189.7L279.4 194.2L281.9 198.6L284.7 202.8L287.6 206.8L290.8 210.5L294.5 213.6L299.4 213.9L302.2 213.1L304.9 211.8L307.5 210.3L310 208.8L312.4 207.2L314.8 205.7L317.2 204.4L319.7 203.1L322 202L324.4 200.9L326.8 199.8L329.2 198.7L331.6 197.6L333.9 196.4L336.3 195.1L338.7 193.8L341.1 192.4L343.5 190.9L345.9 189.2L348.3 187.3L350.6 185.4M250.8 172.9L251.7 169.1L252.5 165.4L253.4 161.5L257 163.5L260.5 166.2L263.8 169.3L266.8 172.8L269.6 176.6L272.2 180.6L274.8 184.6L277.4 188.8L279.9 193L282.4 197.3L285 201.6L287.9 205.7L290.9 209.6L294.6 212.9L299.4 213.5L302.1 213.1L304.8 212.1L307.3 210.9L309.8 209.4L312.3 207.9L314.8 206.4L317.2 204.9L319.7 203.3L322.2 201.9L324.6 200.4L327.1 199.1L329.6 197.7L332 196.4L334.4 195.1L336.8 193.9L339.3 192.7L341.7 191.5L344.1 190.3L346.5 189L348.7 187.5L350.9 185.9M250.8 173.2L251.7 169.5L252.5 165.9L253.4 162.2L257.2 163.8L260.8 166.2L264.2 169.2L267.3 172.6L270.2 176.4L272.9 180.3L275.6 184.3L278.2 188.4L280.7 192.7L283.3 196.9L286 201.1L288.9 205.1L292 208.9L295.8 212L300.5 212.6L303.2 212.1L305.9 211.1L308.4 209.9L310.8 208.5L313.2 207L315.6 205.5L318 204L320.4 202.5L322.8 201.1L325.2 199.8L327.6 198.4L330 197.2L332.4 195.9L334.7 194.7L337.1 193.5L339.4 192.3L341.8 191.2L344.2 190L346.5 188.6L348.7 187.1L350.9 185.4M250.6 173L251.5 169.6L252.5 166.3L253.4 163L257.4 164.6L261.2 167L264.8 170L268 173.3L271 176.9L273.8 180.6L276.5 184.4L279.2 188.2L281.7 192.2L284.2 196.2L286.9 200.1L289.8 203.9L292.9 207.6L296.6 210.7L301.2 211.3L303.9 211L306.4 210.3L308.8 209.3L311.2 208.2L313.5 206.9L315.8 205.6L318.2 204.2L320.5 202.8L322.9 201.3L325.3 199.8L327.7 198.3L330.1 196.8L332.5 195.4L334.9 193.9L337.2 192.5L339.7 191.3L342.1 190.1L344.5 189L346.9 187.7L349.1 186.4L351.2 184.9M250.7 173.3L251.6 170L252.6 166.7L253.5 163.3L257.5 164.7L261.4 167L264.9 169.8L268.2 173L271.1 176.6L274 180.3L276.7 184.1L279.4 187.9L281.9 191.9L284.4 196L287.1 200L290 203.8L293.2 207.5L296.9 210.6L301.6 211.3L304.2 210.9L306.7 210.2L309.1 209.1L311.5 207.9L313.9 206.6L316.2 205.2L318.6 203.7L320.9 202.3L323.3 200.8L325.6 199.3L328 197.9L330.4 196.5L332.7 195.1L335.1 193.7L337.4 192.4L339.8 191.3L342.2 190.2L344.5 189.1L346.8 187.9L349 186.5L351.1 185M250.7 173.5L251.6 170.3L252.6 167.1L253.5 163.8L257.7 165.1L261.6 167.2L265.3 169.9L268.6 173L271.6 176.5L274.5 180.1L277.2 183.8L279.9 187.6L282.5 191.6L285 195.6L287.8 199.5L290.7 203.3L293.9 206.9L297.6 210L302.2 210.6L304.8 210.3L307.3 209.6L309.7 208.6L312.1 207.5L314.4 206.2L316.7 204.8L319 203.3L321.3 201.9L323.6 200.4L326 198.9L328.3 197.5L330.6 196L333 194.6L335.3 193.3L337.6 192L340 190.9L342.3 189.8L344.7 188.7L346.9 187.6L349.1 186.2L351.1 184.7M250.6 173.6L251.6 170.6L252.5 167.6L253.5 164.5L257.8 165.5L262 167.5L265.8 170L269.2 173.1L272.4 176.5L275.3 180.1L278.2 183.7L280.9 187.4L283.5 191.3L286.1 195.1L288.9 198.9L291.9 202.5L295.1 206L298.9 208.8L303.5 209.4L306 209.1L308.4 208.4L310.8 207.5L313.1 206.5L315.3 205.3L317.6 204L319.8 202.6L322 201.2L324.2 199.8L326.5 198.4L328.7 197L331 195.6L333.3 194.2L335.5 192.8L337.8 191.5L340.1 190.3L342.5 189.2L344.8 188.1L347 186.9L349.1 185.6L351.1 184.1M250.6 173.8L251.5 170.8L252.5 167.8L253.5 164.8L257.9 165.5L262.1 167.3L266 169.8L269.5 172.9L272.6 176.3L275.6 179.9L278.5 183.6L281.4 187.3L284 191.2L286.6 195.1L289.5 198.8L292.5 202.4L295.8 205.7L299.6 208.4L304.2 209L306.7 208.6L309.1 207.8L311.5 206.8L313.7 205.7L316 204.5L318.2 203.3L320.3 201.9L322.5 200.6L324.7 199.3L326.9 198L329.1 196.6L331.3 195.3L333.4 194L335.7 192.7L337.9 191.4L340.2 190.3L342.4 189.1L344.7 188L346.9 186.8L349 185.3L351 183.8M250.5 173.6L251.4 170.6L252.4 167.6L253.4 164.7L257.8 165.5L262 167.3L266 169.8L269.5 172.9L272.7 176.4L275.7 180.1L278.7 183.7L281.5 187.5L284.2 191.3L286.8 195.1L289.7 198.8L292.7 202.3L296 205.5L299.9 208.2L304.5 208.7L306.9 208.2L309.3 207.5L311.6 206.5L313.9 205.5L316.1 204.3L318.3 203.1L320.4 201.9L322.5 200.6L324.7 199.3L326.9 198.1L329 196.8L331.2 195.4L333.4 194.1L335.6 192.8L337.8 191.4L340.1 190.2L342.4 189L344.7 187.8L346.9 186.6L349 185.1L351 183.5M250.4 173.7L251.3 170.7L252.3 167.8L253.2 164.9L257.8 165.4L262.1 167.1L266.2 169.5L269.8 172.6L273 176.2L276.2 179.9L279.2 183.6L282.1 187.4L284.8 191.3L287.5 195.1L290.5 198.7L293.6 202.1L297 205.2L300.9 207.6L305.5 207.9L308 207.4L310.3 206.5L312.6 205.5L314.9 204.4L317 203.3L319.1 202.1L321.2 200.9L323.2 199.8L325.3 198.7L327.4 197.5L329.4 196.4L331.5 195.2L333.6 194L335.7 192.7L337.9 191.4L340.1 190.2L342.3 188.9L344.6 187.7L346.8 186.3L348.8 184.7L350.8 183" fill="none" stroke="#a9a9a9" stroke-width="1.6" stroke-linejoin="round" stroke-linecap="round"/>
<path d="M264.1 182.1L266.1 187.1L268.1 192.1L270.2 197L272.3 201.9L274.5 206.8L276.9 211.6L279.6 216.2L282.8 220.5L287.8 221.5L291.1 220.4L294.1 218.6L296.9 216.5M296.1 215.9L298.7 213.4L301.3 211L304 208.7L306.8 206.5L309.6 204.4L312.4 202.2L315.3 200.2L318.3 198.2L321.4 196.3L324.5 194.4L327.6 192.7L330.9 191.1L334.2 189.7M257 164.3L258.7 169.5L260.4 174.6L262.1 179.7L263.8 184.8L265.5 189.9L267.3 195L269.1 200.1L271.2 205L273.5 209.9L276.1 214.6L279.3 218.9L284 220.8L287.4 218.9L290.3 216.2M296.5 215.8L299.4 215.3L302.2 214.2L304.8 212.8L307.4 211.3L309.9 209.8L312.5 208.4L315 206.9L317.6 205.6L320.3 204.2L322.9 202.8L325.5 201.4M300.5 214.3L303.2 213.2L305.8 211.9L308.3 210.5L310.8 209L313.3 207.6L315.8 206.2L318.4 204.8L320.9 203.4L323.5 202L326 200.7L328.6 199.3L331.1 197.9M264.9 183L266.9 187.9L269.1 192.9L271.3 197.7L273.5 202.6L275.8 207.4L278.2 212.2L280.9 216.9L284.2 221.1L289.2 221.7L292.5 220.9L295.5 219.4L298.4 217.7M275.8 214.4L279 218.8L283.7 220.8L287.1 218.8L289.9 216L292.5 213L294.9 209.8L297.3 206.6L299.8 203.5L302.3 200.4L304.8 197.3L307.5 194.3L310.3 191.5L313.3 188.8M268.3 195.7L270.3 200.7L272.4 205.7L274.8 210.5L277.4 215.2L280.6 219.5L285.4 221.1L288.8 219.5M290.5 203.9L293.6 207.4L297.4 210.4L302.1 210.9L304.7 210.4L307.2 209.6L309.6 208.5L312 207.3L314.3 206L316.6 204.6L318.9 203.3L321.2 201.9" fill="none" stroke="#fff" stroke-opacity="0.75" stroke-width="0.6" stroke-linejoin="round"/>
<path d="M250.6 174.2L251.6 171.4L252.5 168.6L253.5 165.8L258.2 166.1L262.6 167.6L266.6 169.8L270.3 172.7L273.5 176L276.6 179.5L279.6 183.1L282.5 186.7L285.2 190.5L287.8 194.3L290.7 198L293.9 201.4L297.2 204.6L301.1 207.2L305.7 207.7L308.1 207.3L310.4 206.6L312.7 205.7L315 204.7L317.2 203.5L319.3 202.2L321.4 200.9L323.4 199.6L325.5 198.3L327.7 197L329.8 195.7L331.9 194.4L334 193.2L336.1 191.9L338.3 190.7L340.5 189.6L342.7 188.5L344.9 187.5L347.1 186.3L349.1 184.8L351 183.3" fill="none" stroke="#f9acac" stroke-width="2.3" stroke-linejoin="round" stroke-linecap="butt"/>
<path d="M250.6 165.1L251 159.5L251.5 153.8L251.9 148.1L253.5 153.3L255.1 158.4L256.7 163.6L258.3 168.8L259.9 173.9L261.5 179.1L263.1 184.2L264.8 189.3L266.5 194.5L268.3 199.6L270.3 204.6L272.6 209.5L275.2 214.2L278.4 218.5L283 220.7L286.4 218.6L289.3 215.6L291.8 212.4L294.2 209.1L296.5 205.7L298.9 202.4L301.4 199.2L303.9 195.9L306.5 192.8L309.3 189.8L312.3 187L315.4 184.4L318.8 182.1L322.4 180.1L326.2 178.7L330.2 177.7L334.2 177.1L338.3 177L342.2 178L346.1 179.4L349.8 181L353.7 171.2L358.2 170.8" fill="none" stroke="#f23a3a" stroke-width="2.3" stroke-linejoin="round" stroke-linecap="butt"/>
<path d="M419.3 41.1L419.8 35.4L420.3 29.7L420.8 24L422.1 30L423.4 36.1L424.5 42.3L425.5 48.7L426.4 55.1L427.3 61.6L428.3 68.2L429.4 74.9L430.6 81.5L432 88.1L433.7 94.6L435.5 101L437.8 107.1L440.8 112.8L445.4 117.1L450.1 114.1L453.2 108.9L455.8 103.3L458.2 97.7L460.6 92.1L463 86.5L465.4 81L467.7 75.7L470.3 70.5L473 65.5L476 60.7L479.3 56.3L483.3 52.4L488.1 49.5L493.5 47.9L499.2 48.1L504.7 49.6L510.4 49.2L516.1 49.4L521.3 51.4L526.9 52.6M419.2 40.6L419.8 34.9L420.3 29.1L420.9 23.4L422.4 29.5L423.9 35.7L425.1 42L426.2 48.4L427.3 54.8L428.3 61.3L429.3 67.8L430.4 74.3L431.7 80.8L433.2 87.3L434.9 93.7L436.8 100L439 106.2L442.1 112L446.8 116.2L451.4 113.5L454.5 108.6L457.1 103.4L459.5 98.1L461.8 92.8L464.2 87.5L466.6 82.3L469 77L471.5 71.9L474.3 67L477.3 62.2L480.6 57.7L484.6 53.7L489.2 50.6L494.5 48.9L500 48.8L505.4 50L511 49.5L516.5 49.6L521.7 51.5L527.2 52.7M419.1 40.1L419.7 34.4L420.3 28.7L420.8 23L422.6 29.2L424.2 35.5L425.5 41.9L426.7 48.3L427.8 54.7L428.9 61.2L430 67.6L431.2 74L432.5 80.4L434 86.8L435.7 93.1L437.6 99.4L439.9 105.5L443 111.3L447.7 115.5L452.2 113L455.3 108.4L457.9 103.5L460.2 98.4L462.6 93.3L465 88.2L467.3 83.1L469.7 78L472.3 72.9L475 68L478 63.2L481.3 58.6L485.3 54.5L489.9 51.3L495.1 49.4L500.6 49.2L505.9 50.1L511.4 49.6L516.9 49.7L522 51.5L527.4 52.7M419.5 40.7L420 34.7L420.6 28.6L421.1 22.4L422.9 28.4L424.5 34.4L425.9 40.6L427.1 46.9L428.2 53.3L429.2 59.7L430.3 66.3L431.5 72.9L432.8 79.6L434.4 86.3L436.1 92.9L438.1 99.5L440.5 105.9L443.8 111.8L448.7 116L453.3 113.5L456.4 109L459.1 104L461.6 98.8L464 93.6L466.5 88.3L469 83.1L471.4 78L474 73L476.7 68.1L479.7 63.5L482.9 59.2L486.7 55.4L491.2 52.5L496.2 50.8L501.4 50.7L506.5 51.6L511.7 51.1L517 51.1L522 52.6L527.2 53.5M419.3 40.2L419.9 34.2L420.4 28.1L421 22L422.9 28.1L424.6 34.3L426.1 40.6L427.3 47L428.5 53.4L429.6 59.9L430.8 66.4L432 73L433.3 79.5L434.9 86.1L436.7 92.6L438.7 99.1L441.1 105.4L444.4 111.2L449.4 115.4L453.9 113L457 108.6L459.7 103.8L462.1 98.8L464.5 93.8L467 88.7L469.4 83.7L471.8 78.7L474.4 73.7L477.1 69L480 64.3L483.3 60L487.1 56.1L491.5 53.1L496.4 51.2L501.6 50.9L506.7 51.6L511.9 51L517.2 50.9L522.1 52.4L527.3 53.3M419.4 40.2L419.9 33.9L420.4 27.5L420.9 21.2L422.9 27.1L424.6 33.2L426.1 39.6L427.3 46L428.5 52.6L429.7 59.2L430.9 66L432.1 72.8L433.6 79.5L435.3 86.3L437.1 92.9L439.2 99.5L441.7 105.8L445.1 111.5L450.2 115.5L454.8 113L458 108.5L460.7 103.6L463.2 98.5L465.6 93.5L468.1 88.4L470.5 83.5L472.9 78.6L475.4 73.9L478.1 69.3L481 64.9L484.1 60.8L487.8 57.2L492 54.3L496.8 52.5L501.9 52.1L506.8 52.7L511.9 51.9L517 51.6L521.9 52.8L527.1 53.4M418.9 38.8L419.5 32.7L420.1 26.6L420.7 20.6L423 26.9L425 33.4L426.6 40.1L428.1 46.8L429.5 53.4L430.8 60L432.1 66.5L433.5 72.9L435 79.3L436.7 85.6L438.5 91.9L440.6 98.1L443.1 104.2L446.5 109.8L451.6 113.7L455.9 111.6L459 107.6L461.6 103.2L464 98.8L466.3 94.2L468.7 89.7L471 85.2L473.4 80.6L475.9 76L478.6 71.5L481.5 66.9L484.6 62.5L488.3 58.5L492.6 55.2L497.4 52.9L502.4 52L507.3 52.2L512.5 51.2L517.6 50.8L522.5 52L527.7 52.7M419.1 39L419.7 32.8L420.3 26.7L420.9 20.5L423.3 26.8L425.4 33.2L427 39.8L428.5 46.3L429.9 52.8L431.2 59.3L432.5 65.8L433.9 72.2L435.4 78.6L437.1 85L438.9 91.4L441 97.7L443.5 103.9L447 109.7L452.1 113.7L456.4 111.7L459.6 107.9L462.2 103.7L464.6 99.3L467 94.8L469.4 90.2L471.8 85.7L474.2 81L476.8 76.4L479.5 71.7L482.4 67.2L485.5 62.8L489.2 58.8L493.4 55.6L498.1 53.4L503 52.5L507.8 52.6L512.8 51.7L517.9 51.4L522.7 52.5L527.7 53.2M419.3 39.3L419.9 33.1L420.5 26.8L421.1 20.5L423.6 26.7L425.7 33L427.3 39.4L428.8 45.8L430.2 52.3L431.5 58.7L432.8 65.1L434.1 71.5L435.6 78L437.3 84.5L439.2 91L441.3 97.5L443.8 103.8L447.3 109.7L452.5 113.8L456.8 112L460 108.3L462.6 104.1L465.1 99.7L467.5 95.2L470 90.6L472.5 85.9L474.9 81.2L477.5 76.5L480.2 71.9L483.1 67.3L486.3 63L489.9 59.1L494.1 55.9L498.7 53.7L503.5 52.9L508.2 53.1L513.2 52.2L518.1 51.9L522.8 53L527.8 53.7M418.9 38.4L419.4 31.9L420 25.6L420.6 19.2L423.2 25.5L425.3 32.1L427.1 38.9L428.7 45.6L430.2 52.4L431.6 59.1L433 65.7L434.5 72.3L436.1 78.8L437.9 85.2L439.9 91.5L442.1 97.7L444.7 103.8L448.2 109.4L453.5 113.1L457.8 111.1L461 107.3L463.6 103.2L466 98.8L468.3 94.5L470.7 90.2L473.1 85.9L475.4 81.6L477.9 77.3L480.6 72.9L483.4 68.6L486.4 64.4L489.9 60.6L494 57.3L498.5 54.9L503.3 53.8L508 53.5L512.9 52.3L517.8 51.7L522.6 52.4L527.6 52.9M419.3 39.1L419.9 32.8L420.5 26.4L421.1 20L423.8 26.2L426 32.5L427.8 38.9L429.3 45.3L430.7 51.7L432.1 58.1L433.4 64.5L434.8 71L436.3 77.4L438 83.9L439.9 90.5L442.1 97L444.6 103.4L448.2 109.4L453.5 113.4L457.8 111.7L461 108.3L463.7 104.3L466.1 100.1L468.6 95.7L471.1 91.2L473.6 86.6L476 82L478.6 77.3L481.4 72.7L484.3 68.2L487.4 63.9L490.9 60L495 56.8L499.5 54.6L504.2 53.7L508.8 53.7L513.6 52.8L518.4 52.4L523 53.4L527.9 54M419.2 38.8L419.7 32.1L420.2 25.4L420.7 18.7L423.4 24.7L425.6 31.1L427.4 37.7L429 44.4L430.4 51.1L431.9 57.9L433.3 64.6L434.8 71.4L436.4 78.2L438.3 84.8L440.3 91.4L442.6 97.9L445.3 104.1L449 109.8L454.4 113.4L458.8 111.4L462 107.7L464.8 103.5L467.3 99.1L469.7 94.7L472.1 90.3L474.6 85.9L477 81.6L479.5 77.3L482.1 73.1L484.8 69L487.8 65.1L491.2 61.5L495.1 58.5L499.4 56.3L504 55.2L508.5 54.9L513.2 53.6L517.9 52.9L522.6 53.4L527.4 53.5M418.8 37.7L419.3 31L419.9 24.4L420.4 17.9L423.3 24.3L425.7 31L427.6 37.8L429.3 44.8L430.9 51.7L432.5 58.5L434 65.2L435.6 71.8L437.3 78.3L439.2 84.7L441.3 91L443.6 97.2L446.3 103.2L450 108.7L455.4 112.2L459.7 110.3L462.9 106.9L465.5 102.9L467.9 98.9L470.2 94.9L472.6 90.9L475 86.9L477.3 82.8L479.8 78.7L482.3 74.6L485.1 70.5L488 66.5L491.4 62.7L495.3 59.3L499.6 56.8L504.1 55.3L508.7 54.6L513.4 53.2L518.1 52.2L522.8 52.6L527.7 52.8M419.1 38.2L419.6 31.4L420.1 24.6L420.7 17.9L423.6 24L426 30.5L427.8 37.2L429.5 43.9L431.1 50.7L432.6 57.5L434.1 64.3L435.6 71.1L437.4 77.7L439.3 84.3L441.4 90.9L443.7 97.3L446.5 103.5L450.3 109.1L455.8 112.7L460 110.8L463.3 107.4L466 103.4L468.5 99.3L470.9 95.1L473.4 90.9L475.8 86.8L478.2 82.6L480.7 78.5L483.3 74.4L486 70.4L488.9 66.5L492.2 62.9L496 59.7L500.2 57.4L504.6 56L509 55.4L513.6 54.1L518.2 53.1L522.8 53.4L527.5 53.5M419.3 38.4L419.8 31.5L420.3 24.5L420.8 17.6L423.8 23.6L426.2 30L428.1 36.6L429.8 43.3L431.4 50.1L432.9 56.9L434.4 63.7L436 70.5L437.7 77.2L439.6 83.9L441.8 90.6L444.1 97.1L446.9 103.4L450.8 109.1L456.4 112.7L460.6 111L464 107.6L466.7 103.7L469.3 99.6L471.7 95.4L474.2 91.2L476.6 87.1L479.1 82.9L481.6 78.8L484.2 74.7L486.9 70.7L489.8 66.9L493.1 63.4L496.8 60.3L500.9 58.1L505.2 56.7L509.4 56.1L513.9 54.7L518.4 53.8L522.9 54L527.5 53.9M419.6 39L420.2 32.1L420.7 25.1L421.2 18.1L424.2 23.9L426.6 30.1L428.5 36.5L430.1 42.9L431.7 49.4L433.1 56.1L434.6 62.8L436.1 69.5L437.7 76.4L439.6 83.2L441.7 90L444 96.8L446.8 103.4L450.7 109.4L456.4 113.1L460.6 111.6L464 108.4L466.9 104.5L469.4 100.3L472 96L474.5 91.7L477.1 87.3L479.6 82.9L482.1 78.6L484.8 74.4L487.6 70.3L490.5 66.5L493.8 63L497.4 60.1L501.5 58L505.7 56.8L509.9 56.4L514.3 55.2L518.7 54.5L523 54.8L527.6 54.7M419.7 38.9L420.2 31.9L420.7 24.8L421.2 17.6L424.3 23.4L426.8 29.6L428.7 36L430.4 42.5L432 49L433.5 55.7L434.9 62.4L436.5 69.3L438.2 76.1L440.1 83L442.2 89.9L444.6 96.7L447.4 103.3L451.4 109.2L457.1 112.9L461.4 111.4L464.8 108.3L467.6 104.5L470.2 100.4L472.8 96.2L475.3 91.9L477.9 87.6L480.4 83.3L483 79.1L485.6 74.9L488.3 71L491.2 67.2L494.4 63.8L498 60.9L502 58.8L506.1 57.5L510.2 56.9L514.4 55.7L518.8 54.8L523.1 55L527.5 54.8M419.3 37.9L419.8 30.8L420.3 23.6L420.8 16.4L424.1 22.4L426.7 28.8L428.7 35.5L430.5 42.3L432.2 49.1L433.8 56L435.4 62.9L437.1 69.7L438.9 76.5L440.9 83.3L443.1 90L445.6 96.5L448.5 102.9L452.5 108.6L458.3 112L462.5 110.5L465.9 107.4L468.7 103.8L471.3 99.9L473.7 95.9L476.2 92L478.7 88L481.1 84.1L483.6 80.1L486.2 76.3L488.8 72.5L491.6 68.8L494.8 65.3L498.3 62.3L502.1 59.9L506.2 58.3L510.2 57.3L514.4 55.8L518.8 54.6L523.1 54.5L527.6 54.2M419.4 38L419.9 31L420.4 23.9L421 16.7L424.3 22.8L426.9 29.1L428.9 35.8L430.7 42.5L432.4 49.1L434.1 55.9L435.6 62.6L437.2 69.4L439 76.1L441 82.8L443.2 89.5L445.6 96.2L448.5 102.6L452.5 108.4L458.3 112L462.4 110.5L465.8 107.6L468.6 104.1L471.2 100.3L473.7 96.3L476.2 92.4L478.7 88.4L481.1 84.3L483.7 80.3L486.3 76.3L489 72.4L491.8 68.6L495 65.1L498.5 62L502.4 59.7L506.4 58.1L510.5 57.1L514.7 55.7L519 54.6L523.3 54.6L527.7 54.4M419.4 38L419.9 30.8L420.4 23.5L420.9 16.3L424.3 22.2L427 28.6L429 35.2L430.8 42L432.5 48.7L434.2 55.5L435.8 62.4L437.4 69.2L439.2 76.1L441.3 82.9L443.5 89.6L445.9 96.3L448.9 102.7L453 108.5L458.8 111.9L463 110.5L466.4 107.6L469.2 104L471.8 100.2L474.3 96.2L476.8 92.3L479.3 88.4L481.8 84.4L484.3 80.5L486.9 76.6L489.5 72.8L492.3 69.1L495.4 65.7L498.9 62.7L502.7 60.4L506.6 58.7L510.6 57.7L514.7 56.2L519 55L523.2 54.8L527.6 54.5M419.1 37.2L419.6 30L420.2 23L420.8 15.9L424.3 22.1L427.2 28.7L429.4 35.5L431.3 42.4L433.1 49.1L434.9 55.9L436.5 62.6L438.3 69.3L440.1 75.9L442.2 82.4L444.4 88.9L446.9 95.4L449.8 101.7L453.9 107.4L459.7 110.9L463.8 109.6L467.1 107L469.9 103.8L472.4 100.3L474.8 96.8L477.3 93.1L479.7 89.5L482.2 85.7L484.7 81.8L487.3 78L489.9 74.1L492.7 70.2L495.8 66.6L499.3 63.4L503.1 60.7L507 58.8L511 57.4L515.1 55.8L519.3 54.6L523.6 54.3L528 54.1M419.4 37.8L419.9 30.2L420.3 22.7L420.8 15.2L424.3 21.1L427.1 27.4L429.2 34.1L431 41L432.8 47.9L434.5 54.9L436.2 61.9L437.9 68.9L439.9 75.9L442 82.8L444.3 89.6L446.9 96.3L449.9 102.8L454.1 108.4L460.1 111.7L464.3 110.2L467.7 107.4L470.7 103.8L473.3 100L475.8 96.2L478.3 92.3L480.8 88.6L483.2 84.8L485.7 81.1L488.2 77.5L490.8 73.9L493.5 70.4L496.5 67.2L499.8 64.3L503.3 62L507.1 60.2L510.9 58.9L514.9 57.1L519 55.7L523.1 55.2L527.4 54.5M419.4 37.5L419.8 30L420.3 22.6L420.8 15.1L424.4 21.1L427.3 27.5L429.5 34.3L431.4 41.1L433.2 48L435 54.9L436.7 61.8L438.4 68.7L440.4 75.6L442.5 82.4L444.8 89.1L447.3 95.8L450.4 102.2L454.6 107.9L460.6 111.2L464.7 109.9L468.1 107.3L471 103.9L473.6 100.3L476.1 96.6L478.6 92.9L481.1 89.2L483.5 85.5L486 81.8L488.6 78.1L491.2 74.5L493.9 70.9L496.9 67.6L500.1 64.6L503.7 62.1L507.4 60.2L511.2 58.8L515.2 57L519.2 55.6L523.4 55.1L527.6 54.5M419.3 37.3L419.8 29.8L420.3 22.4L420.8 14.9L424.5 20.9L427.5 27.4L429.7 34.2L431.6 41L433.5 47.9L435.3 54.7L437 61.6L438.8 68.5L440.7 75.3L442.8 82.1L445.2 88.9L447.7 95.5L450.8 101.9L455 107.6L461 110.9L465.1 109.7L468.5 107.2L471.4 104L474 100.5L476.5 96.8L479 93.2L481.5 89.6L483.9 85.9L486.4 82.2L489 78.6L491.6 74.9L494.3 71.4L497.2 68L500.5 65L504 62.4L507.7 60.4L511.5 58.9L515.4 57.1L519.4 55.7L523.5 55.2L527.7 54.6M419.1 36.6L419.5 28.9L420 21.3L420.4 13.7L424.2 19.8L427.2 26.4L429.5 33.4L431.5 40.6L433.5 47.7L435.3 54.9L437.2 62L439 69L441.1 75.9L443.4 82.7L445.8 89.3L448.4 95.8L451.6 102L456 107.5L462.1 110.4L466.1 109L469.5 106.4L472.4 103.2L475 99.7L477.4 96.2L479.9 92.9L482.3 89.5L484.7 86.1L487.1 82.8L489.5 79.5L492 76.1L494.6 72.7L497.5 69.4L500.6 66.4L504 63.7L507.6 61.5L511.3 59.6L515.2 57.5L519.2 55.7L523.3 54.8L527.5 53.9M419.5 37.3L419.9 29.7L420.4 22L420.9 14.4L424.7 20.3L427.7 26.6L429.9 33.4L431.9 40.2L433.8 47.1L435.6 54L437.4 61L439.2 68L441.1 74.9L443.3 81.8L445.7 88.7L448.3 95.4L451.5 101.9L455.8 107.7L461.9 110.9L466 109.7L469.5 107.3L472.4 104.1L475 100.6L477.6 97L480.1 93.4L482.6 89.8L485.1 86.2L487.6 82.6L490.1 79.1L492.7 75.5L495.4 72.1L498.2 68.9L501.3 66L504.7 63.5L508.3 61.4L511.9 59.8L515.6 58L519.5 56.4L523.5 55.7L527.6 54.9M419.5 37.3L419.9 29.3L420.3 21.3L420.7 13.4L424.5 19.2L427.5 25.5L429.8 32.3L431.7 39.3L433.7 46.4L435.5 53.5L437.3 60.8L439.2 68L441.3 75.2L443.5 82.3L446 89.2L448.7 96L452 102.5L456.5 108L462.7 111L466.8 109.7L470.4 107.1L473.4 103.7L476 100.1L478.6 96.5L481.1 92.9L483.6 89.4L486 85.9L488.5 82.6L490.9 79.3L493.4 76.1L496 73L498.7 70L501.7 67.2L504.9 64.8L508.3 62.7L511.8 60.9L515.4 58.8L519.2 57L523.2 55.9L527.3 54.8M419.4 36.8L419.9 29.1L420.3 21.3L420.8 13.5L424.8 19.4L428 25.9L430.3 32.8L432.4 39.7L434.4 46.6L436.3 53.6L438.1 60.6L440 67.6L442.1 74.5L444.3 81.4L446.7 88.2L449.4 95L452.6 101.4L457.1 107.1L463.3 110.2L467.3 109.2L470.8 107L473.8 104L476.4 100.7L478.9 97.4L481.4 94L483.9 90.6L486.4 87.2L488.9 83.7L491.4 80.3L493.9 76.9L496.5 73.5L499.3 70.3L502.3 67.3L505.5 64.7L508.9 62.4L512.4 60.5L516 58.5L519.8 56.8L523.7 55.8L527.7 54.9M419 36.1L419.5 28.2L419.9 20.5L420.4 12.9L424.5 19L427.7 25.7L430.1 32.8L432.3 40L434.4 47.2L436.3 54.3L438.2 61.4L440.2 68.4L442.3 75.2L444.7 81.9L447.1 88.5L449.8 95L453.1 101.2L457.5 106.6L463.7 109.5L467.7 108.4L471.1 106.2L474 103.3L476.6 100.1L479 97L481.4 93.8L483.9 90.7L486.3 87.5L488.7 84.3L491.1 81.1L493.6 77.7L496.2 74.4L498.9 71.1L501.9 67.9L505.2 65L508.6 62.5L512.1 60.3L515.8 58.1L519.6 56.2L523.6 55.1L527.8 54.1M419.4 36.7L419.9 28.8L420.3 20.9L420.8 13L424.9 19L428.2 25.4L430.6 32.3L432.7 39.3L434.7 46.2L436.6 53.2L438.5 60.3L440.4 67.3L442.5 74.3L444.8 81.2L447.3 88L450 94.8L453.2 101.2L457.7 106.9L464.1 109.9L468 109L471.5 106.9L474.5 104.1L477.2 100.9L479.7 97.5L482.2 94.2L484.7 90.9L487.2 87.6L489.7 84.2L492.2 80.9L494.7 77.6L497.2 74.3L500 71.1L502.9 68.1L506 65.4L509.3 63.1L512.7 61L516.2 58.9L519.9 57.2L523.8 56L527.7 55M419.2 36.3L419.8 28.6L420.3 20.9L420.9 13.2L425.1 19.3L428.5 25.9L431 32.8L433.1 39.7L435.2 46.6L437.2 53.5L439.1 60.3L441 67.1L443.1 73.8L445.4 80.5L447.8 87.2L450.5 93.9L453.7 100.4L458.1 106.1L464.4 109.3L468.3 108.6L471.8 106.8L474.7 104.2L477.3 101.3L479.8 98.2L482.3 95.1L484.8 91.9L487.3 88.6L489.8 85.1L492.3 81.7L494.9 78.2L497.5 74.6L500.2 71.3L503.2 68.1L506.4 65.2L509.7 62.7L513.1 60.5L516.6 58.5L520.3 56.8L524.2 55.8L528.1 54.9M419.4 36.4L419.9 28.5L420.4 20.5L420.9 12.5L425.2 18.5L428.5 25L431 31.9L433.2 38.8L435.3 45.8L437.3 52.8L439.2 59.8L441.1 66.8L443.3 73.7L445.6 80.6L448.1 87.4L450.8 94.2L454.1 100.7L458.7 106.4L465.1 109.4L469.1 108.7L472.6 106.8L475.6 104.2L478.2 101.2L480.8 98L483.3 94.9L485.8 91.7L488.3 88.4L490.8 85.2L493.3 81.9L495.8 78.6L498.3 75.3L501 72.1L503.8 69.1L506.8 66.3L510 63.8L513.3 61.5L516.7 59.4L520.2 57.6L524 56.3L527.9 55.2M419.6 36.8L420.1 28.9L420.6 20.8L421 12.8L425.3 18.6L428.7 24.9L431.1 31.7L433.3 38.5L435.3 45.4L437.3 52.3L439.1 59.3L441.1 66.3L443.2 73.3L445.5 80.3L448 87.3L450.7 94.2L454 100.9L458.6 106.7L465 109.8L469 109.1L472.5 107.3L475.6 104.6L478.2 101.5L480.8 98.2L483.4 94.9L486 91.6L488.5 88.2L491 84.9L493.6 81.5L496.1 78.2L498.6 74.9L501.2 71.8L504.1 68.9L507.1 66.3L510.2 63.9L513.4 61.8L516.8 59.7L520.3 58L524 56.7L527.8 55.6M419.3 36.1L419.8 28.1L420.4 20.2L420.9 12.2L425.4 18.3L428.9 24.9L431.4 31.8L433.7 38.8L435.9 45.7L437.9 52.6L439.8 59.5L441.8 66.4L444 73.2L446.3 80L448.8 86.8L451.6 93.5L454.9 100.1L459.5 105.8L465.9 108.9L469.8 108.3L473.3 106.7L476.2 104.3L478.9 101.5L481.4 98.6L483.9 95.6L486.5 92.5L489 89.3L491.5 86.1L494 82.8L496.5 79.4L499 76L501.7 72.8L504.5 69.7L507.4 66.8L510.5 64.1L513.7 61.6L517.1 59.5L520.6 57.6L524.3 56.3L528.1 55.2" fill="none" stroke="#a9a9a9" stroke-width="1.6" stroke-linejoin="round" stroke-linecap="round"/>
<path d="M465.7 107.4L468.5 103.8L471.1 99.9L473.6 96L476 92L478.5 88.1L480.9 84.1L483.4 80.2L486 76.3M429.8 43.6L431.4 50.3L432.9 57L434.4 63.8L436 70.5L437.7 77.2L439.6 83.9L441.7 90.5M442.7 82.3L445 89L447.6 95.7L450.6 102.1L454.9 107.8L460.9 111L465 109.8L468.4 107.2M445.5 96.5L448.4 102.8L452.4 108.5L458.2 112L462.3 110.4L465.7 107.4L468.5 103.8L471.1 99.9L473.5 96L476 92M470.7 99.9L473.1 95.9L475.6 91.9L478 87.9L480.5 83.9L483 79.9L485.6 75.9L488.3 72L491.1 68.3L494.3 64.7L497.9 61.7L501.8 59.3L505.9 57.8L510.1 56.8M434.3 55.6L436 62.5L437.7 69.3L439.5 76.1L441.6 82.9L443.8 89.5L446.3 96.2L449.3 102.5L453.4 108.2M459.1 98.1L461.5 92.9L463.8 87.7L466.2 82.5L468.6 77.3L471.1 72.2L473.9 67.1L476.9 62.2L480.2 57.6L484.2 53.5L489 50.3M437.5 85L439.4 91.5L441.6 98L444.2 104.2L447.7 109.9L453 113.7L457.4 111.7L460.6 107.9M435.8 100.1L438 106.2L440.9 112L445.5 116.3L450.1 113.5L453.1 108.6L455.6 103.3L457.9 97.9L460.2 92.6L462.6 87.3L464.9 81.9L467.3 76.6L469.8 71.3L472.6 66.2L475.6 61.2" fill="none" stroke="#fff" stroke-opacity="0.75" stroke-width="0.6" stroke-linejoin="round"/>
<path d="M419.4 34L420.1 29.8L420.7 25.7L421.3 21.5L426.2 25.9L429 31.9L431.3 38.1L433.4 44.4L435.4 50.8L437.2 57.2L438.9 63.6L440.8 70L443 76.3L445.2 82.5L447.7 88.7L450.5 94.7L454.1 100.2L459.1 104.6L465.5 106.1L469.3 105.3L472.8 103.5L475.8 100.9L478.4 97.9L480.9 94.8L483.4 91.8L485.9 88.7L488.3 85.6L490.8 82.5L493.2 79.4L495.6 76.2L498.1 73.1L500.7 70.1L503.5 67.4L506.5 64.8L509.6 62.3L512.8 60.1L516.2 58L519.7 56.2L523.5 55L527.3 53.9" fill="none" stroke="#7fa6f8" stroke-width="2.3" stroke-linejoin="round" stroke-linecap="butt"/>
<path d="M419 40.8L419.6 35.5L420.2 30.2L420.8 24.9L422.1 31.2L423.3 37.5L424.4 43.8L425.4 50.1L426.3 56.5L427.3 62.8L428.2 69.2L429.2 75.5L430.4 81.8L431.7 88.1L433.3 94.3L435 100.4L437.1 106.5L439.9 112.2L444.4 116.7L449 113.8L452 108.7L454.5 103.2L456.8 97.8L459.1 92.3L461.4 86.9L463.8 81.4L466.1 75.9L468.7 70.6L471.5 65.3L474.5 60.2L478 55.4L482.2 51.2L487.1 48L492.8 46.2L498.7 46.4L504.4 48L510.3 47.7L516.2 48.1L521.6 50.5L527.3 52.1" fill="none" stroke="#5656f0" stroke-width="2.3" stroke-linejoin="round" stroke-linecap="butt"/>
<path d="M421.6 165.2L422.1 159.6L422.6 154.1L423 148.4L423.9 154L424.8 159.6L425.7 165.2L426.7 170.9L427.9 176.6L429 182.4L430.3 188.3L431.6 194.2L433 200.1L434.6 206L436.7 211.8L439.1 217.4L442.3 222.5L446.3 226.9L451.9 228.5L456.4 226.4L460 222.8L463.1 218.8L465.9 214.4L468.7 210L471.3 205.6L473.9 201.1L476.4 196.7L479.1 192.4L481.8 188.3L484.6 184.3L487.7 180.7L491.3 177.6L495.4 175.1L500 173.7L504.8 172.9L509.6 172.5L514.2 173.7L518.9 174.5L523.8 174.9L528 176.9M421.1 164.8L421.6 158.9L422.2 152.9L422.7 147L423.7 152.9L424.7 158.8L425.8 164.7L427 170.7L428.4 176.7L429.7 182.6L431.2 188.6L432.7 194.5L434.4 200.4L436.2 206.1L438.4 211.7L441.1 217.1L444.4 221.9L448.7 225.8L454.4 227.2L458.7 225.1L462.2 221.7L465.2 218L468 214L470.6 210L473.1 206L475.6 202L478 198L480.6 194.2L483.2 190.4L485.9 186.7L489 183.3L492.5 180.2L496.5 177.7L500.9 176L505.5 174.9L510.1 174.1L514.6 174.8L519.2 175.2L523.9 175.3L528.1 177M421.3 165.5L421.8 159.2L422.3 152.9L422.8 146.7L423.9 152.4L425 158.3L426.1 164.1L427.3 170L428.7 176L430.1 181.9L431.6 187.9L433.2 193.9L435 199.9L436.9 205.8L439.2 211.5L442 216.9L445.4 221.9L449.9 225.7L455.7 227.1L459.9 225.1L463.4 221.9L466.5 218.2L469.2 214.3L471.9 210.3L474.4 206.3L476.9 202.3L479.4 198.4L481.9 194.6L484.5 190.9L487.3 187.4L490.3 184.1L493.7 181.3L497.6 178.9L501.8 177.4L506.2 176.3L510.7 175.5L515 176.1L519.4 176.5L524 176.5L528.1 177.9M421.5 166.2L422.1 159.9L422.7 153.5L423.2 147.1L424.4 152.8L425.5 158.6L426.7 164.3L428 169.9L429.4 175.6L430.8 181.3L432.3 187.1L433.9 192.9L435.7 198.8L437.6 204.7L439.9 210.5L442.7 216.1L446.2 221.2L450.7 225.3L456.5 226.8L460.7 225.2L464.1 222.4L467.2 219L470 215.3L472.6 211.4L475.2 207.4L477.8 203.3L480.3 199.3L483 195.4L485.7 191.5L488.5 187.8L491.5 184.5L495 181.6L498.8 179.3L503 177.8L507.3 176.9L511.6 176.2L515.8 176.9L520.1 177.5L524.4 177.7L528.4 179.1M421.1 165.8L421.7 159.2L422.3 152.7L422.9 146.1L424.2 152.1L425.5 158L426.8 164L428.2 169.9L429.7 175.8L431.4 181.6L433 187.5L434.8 193.3L436.7 199.1L438.8 204.8L441.2 210.4L444.1 215.8L447.8 220.7L452.4 224.4L458.3 225.8L462.3 224.2L465.7 221.5L468.6 218.3L471.3 214.9L473.9 211.3L476.4 207.7L478.9 204L481.4 200.3L483.9 196.7L486.6 193.1L489.3 189.6L492.3 186.3L495.7 183.5L499.5 181.1L503.5 179.4L507.7 178.2L511.9 177.2L516 177.6L520.2 177.8L524.6 177.8L528.5 179.1M421.2 166.2L421.8 159.3L422.3 152.4L422.9 145.4L424.1 151.3L425.4 157.3L426.7 163.2L428.2 169.2L429.7 175.1L431.4 181.1L433.1 187.1L434.9 193.1L436.9 199.1L439.1 205L441.6 210.7L444.7 216.2L448.5 221.1L453.3 224.7L459.2 225.9L463.3 224.2L466.6 221.4L469.6 218.2L472.3 214.7L474.9 211.1L477.5 207.4L479.9 203.8L482.4 200.2L484.9 196.7L487.5 193.3L490.2 190.1L493.1 187.1L496.4 184.5L500 182.3L504 180.7L508 179.5L512 178.5L516.1 178.7L520.2 178.8L524.4 178.6L528.2 179.5M420.9 165.8L421.5 158.8L422.1 151.8L422.7 144.8L424.1 151L425.5 157.2L426.9 163.3L428.5 169.5L430.2 175.5L431.9 181.6L433.8 187.5L435.7 193.4L437.8 199.2L440.1 204.9L442.7 210.4L445.8 215.7L449.7 220.3L454.5 223.7L460.5 224.9L464.4 223.3L467.7 220.7L470.6 217.8L473.2 214.6L475.7 211.3L478.2 208L480.6 204.7L483 201.3L485.5 198L488 194.7L490.7 191.5L493.7 188.5L496.9 185.8L500.5 183.4L504.4 181.6L508.4 180.2L512.4 179L516.4 178.9L520.5 178.8L524.6 178.5L528.5 179.4M421 166.2L421.7 159.2L422.3 152.1L422.9 145L424.3 151.2L425.7 157.2L427.2 163.3L428.8 169.3L430.5 175.2L432.3 181.1L434.1 187L436.1 192.8L438.1 198.6L440.4 204.3L443.1 209.9L446.1 215.3L450 220.1L455 223.6L461 224.8L464.8 223.4L468.1 221.1L471 218.2L473.7 215.1L476.2 211.8L478.7 208.5L481.1 205.1L483.6 201.7L486.1 198.3L488.7 194.9L491.4 191.7L494.4 188.7L497.7 185.9L501.2 183.6L505 181.9L508.9 180.6L512.9 179.5L516.8 179.5L520.8 179.4L524.8 179.3L528.6 180.1M421.1 166.6L421.8 159.4L422.4 152.1L423 144.8L424.5 151L426 157L427.5 163L429.1 169L430.8 174.9L432.6 180.7L434.5 186.6L436.5 192.4L438.7 198.2L441 204L443.7 209.6L446.8 215.1L450.8 219.9L455.9 223.4L461.9 224.6L465.7 223.3L469 221.1L471.9 218.4L474.5 215.4L477.1 212.2L479.6 208.9L482 205.5L484.5 202.2L487 198.8L489.6 195.5L492.4 192.3L495.3 189.3L498.5 186.7L502 184.5L505.8 182.8L509.5 181.5L513.3 180.4L517.1 180.3L521 180.2L525 180L528.6 180.7M420.9 166.3L421.5 158.9L422.2 151.5L422.8 144.1L424.3 150.3L425.7 156.5L427.3 162.7L428.9 168.8L430.7 174.9L432.6 180.9L434.6 186.9L436.7 192.8L438.9 198.7L441.4 204.4L444.1 210L447.3 215.3L451.4 220L456.5 223.2L462.6 224.3L466.4 222.9L469.6 220.6L472.5 217.9L475.1 214.9L477.6 211.8L480.1 208.6L482.5 205.5L484.9 202.3L487.4 199.1L489.9 196L492.6 193L495.5 190.2L498.6 187.6L502.1 185.4L505.7 183.6L509.5 182.1L513.2 180.9L517 180.6L520.9 180.3L524.8 179.9L528.5 180.5M421.4 167.5L422 159.8L422.6 152.1L423.1 144.3L424.6 150.2L426 156.1L427.5 162L429.1 167.9L430.9 173.8L432.7 179.8L434.7 185.8L436.7 191.8L439 197.9L441.4 203.9L444.2 209.8L447.5 215.5L451.7 220.4L457 223.8L463.2 224.9L466.9 223.6L470.2 221.3L473.2 218.6L475.9 215.4L478.5 212.1L481 208.7L483.5 205.3L486 202L488.5 198.7L491.1 195.6L493.8 192.7L496.6 190.1L499.8 187.8L503.1 185.9L506.6 184.5L510.2 183.3L513.8 182.2L517.3 182L521 181.8L524.8 181.4L528.3 181.7M420.8 166.4L421.4 158.6L422 150.8L422.6 143.1L424.1 149.4L425.6 155.7L427.3 162L429 168.3L430.9 174.5L432.9 180.7L435 186.9L437.3 192.9L439.6 198.9L442.2 204.6L445.1 210.2L448.5 215.5L452.7 219.9L458 222.9L464.2 223.7L467.9 222.3L471.1 220.1L474 217.4L476.6 214.5L479 211.6L481.4 208.6L483.8 205.7L486.1 202.8L488.5 199.9L491 197.1L493.6 194.3L496.4 191.8L499.5 189.4L502.8 187.2L506.3 185.4L509.9 183.8L513.5 182.3L517.1 181.7L520.9 181.1L524.8 180.5L528.4 180.7M421 167.1L421.5 158.9L422.1 150.7L422.6 142.6L424.2 148.7L425.7 154.8L427.3 161.1L429 167.3L431 173.6L433 180L435.2 186.3L437.4 192.5L439.9 198.6L442.6 204.6L445.6 210.4L449.1 215.8L453.5 220.3L459 223.3L465.3 224L469 222.5L472.2 220.2L475.1 217.5L477.8 214.5L480.2 211.4L482.7 208.4L485 205.5L487.4 202.7L489.8 199.9L492.2 197.3L494.8 194.8L497.5 192.5L500.5 190.4L503.7 188.5L507 186.8L510.4 185.4L513.8 183.9L517.3 183.2L520.9 182.4L524.6 181.6L528.1 181.5M420.7 166.6L421.3 158.4L421.9 150.3L422.5 142.3L424 148.6L425.6 154.9L427.3 161.3L429.1 167.8L431.1 174.1L433.2 180.5L435.4 186.7L437.8 192.9L440.3 198.9L443 204.7L446 210.3L449.5 215.5L453.9 219.9L459.4 222.7L465.7 223.3L469.3 221.9L472.5 219.7L475.3 217.1L477.9 214.3L480.3 211.5L482.7 208.6L485 205.9L487.3 203.2L489.7 200.6L492.1 198L494.7 195.5L497.4 193.1L500.4 190.8L503.6 188.8L507 187L510.4 185.3L513.8 183.7L517.3 182.8L521 182L524.7 181.2L528.3 181.1M421 167.2L421.7 159.3L422.4 151.4L423 143.4L424.7 149.7L426.3 155.9L428 162.1L429.9 168.1L431.8 174.1L433.9 180L436.1 185.9L438.3 191.7L440.7 197.5L443.3 203.3L446.3 208.9L449.7 214.4L454 219.1L459.5 222.2L465.7 223.2L469.3 222.3L472.4 220.5L475.2 218.3L477.8 215.7L480.3 212.9L482.7 210L485.2 207.1L487.6 204.1L490.1 201L492.6 198.1L495.3 195.2L498.2 192.6L501.3 190.2L504.5 188.1L507.9 186.3L511.3 184.8L514.7 183.5L518.2 182.9L521.7 182.5L525.4 182.1L528.8 182.2M420.8 167.2L421.5 158.9L422.1 150.7L422.8 142.5L424.4 148.8L426.1 155.1L427.9 161.4L429.7 167.6L431.8 173.8L433.9 180L436.2 186L438.6 192L441.1 198L443.8 203.8L446.9 209.4L450.4 214.8L454.9 219.3L460.5 222.2L466.8 223L470.3 221.8L473.4 220L476.3 217.7L478.9 215.1L481.3 212.4L483.7 209.6L486.1 206.9L488.4 204.2L490.8 201.4L493.3 198.7L495.9 196.2L498.7 193.7L501.7 191.5L504.8 189.5L508.1 187.7L511.4 186.1L514.7 184.6L518.1 183.7L521.6 183L525.1 182.3L528.6 182.2M420.8 167.2L421.4 158.8L422.1 150.5L422.7 142.2L424.4 148.5L426.1 154.9L427.9 161.2L429.8 167.5L431.9 173.8L434.1 179.9L436.4 186L438.9 192L441.4 198L444.2 203.7L447.4 209.4L450.9 214.7L455.5 219.1L461.1 221.9L467.5 222.7L470.9 221.6L474.1 219.8L476.9 217.6L479.4 215.1L481.8 212.4L484.2 209.8L486.6 207.2L488.9 204.5L491.3 201.8L493.8 199.2L496.4 196.7L499.1 194.4L502.1 192.2L505.2 190.1L508.4 188.3L511.6 186.6L514.9 185.1L518.2 184.1L521.7 183.3L525.2 182.5L528.6 182.3M420.9 167.6L421.6 159.2L422.3 150.8L422.9 142.4L424.6 148.6L426.3 154.9L428.1 161.1L430 167.3L432.1 173.4L434.3 179.5L436.6 185.6L439 191.6L441.6 197.5L444.4 203.4L447.5 209.1L451.1 214.5L455.6 219.1L461.3 222L467.7 222.8L471.1 221.8L474.2 220.1L477.1 217.9L479.7 215.4L482.1 212.8L484.5 210.1L486.9 207.3L489.3 204.6L491.7 201.9L494.2 199.2L496.8 196.7L499.6 194.3L502.6 192.2L505.6 190.2L508.8 188.5L512 186.9L515.2 185.4L518.5 184.5L521.8 183.8L525.3 183.1L528.6 182.8M420.7 167.3L421.3 158.6L422 150.1L422.6 141.5L424.4 147.9L426.1 154.3L428 160.8L429.9 167.2L432.1 173.5L434.4 179.8L436.8 185.9L439.3 192L442 198L444.9 203.8L448.1 209.4L451.8 214.7L456.4 219.1L462.2 221.7L468.6 222.3L472 221.2L475.1 219.4L477.9 217.3L480.4 214.9L482.8 212.4L485.1 209.8L487.5 207.4L489.8 204.9L492.2 202.4L494.6 200L497.2 197.6L499.9 195.4L502.8 193.3L505.8 191.4L508.9 189.5L512 187.8L515.1 186.1L518.4 184.9L521.7 183.9L525.2 183L528.5 182.5M421.2 168.4L421.8 159.6L422.4 150.7L423 141.8L424.7 147.9L426.4 154L428.2 160.2L430.1 166.3L432.2 172.5L434.4 178.6L436.8 184.8L439.3 191L441.9 197.2L444.8 203.3L448.1 209.2L451.8 214.8L456.5 219.4L462.4 222.3L468.9 223L472.3 222L475.5 220.3L478.4 218.1L481 215.5L483.5 212.8L485.9 210L488.3 207.3L490.8 204.6L493.2 201.9L495.6 199.5L498.2 197.2L500.9 195.1L503.8 193.3L506.7 191.6L509.7 190.1L512.7 188.6L515.7 187.2L518.7 186.2L521.9 185.3L525.2 184.4L528.4 183.8M420.8 167.9L421.5 159.2L422.3 150.5L422.9 141.7L424.8 148.1L426.6 154.5L428.5 160.8L430.6 167L432.8 173.1L435.1 179.2L437.5 185.2L440.1 191.1L442.8 197L445.7 202.8L448.9 208.5L452.7 213.9L457.4 218.4L463.3 221.2L469.7 221.9L473 221.2L476 219.8L478.8 217.9L481.4 215.7L483.8 213.3L486.1 210.9L488.5 208.4L490.9 205.8L493.3 203.2L495.8 200.7L498.4 198.3L501.2 196.1L504.1 194L507 192L510 190.2L513 188.5L516 187L519.1 185.8L522.3 184.9L525.6 184.1L528.8 183.7M420.9 168L421.5 159.1L422.2 150.3L422.9 141.4L424.7 147.8L426.5 154.1L428.4 160.4L430.4 166.7L432.6 172.9L435 179L437.4 185.2L440 191.2L442.7 197.2L445.7 203.1L449 208.8L452.7 214.2L457.5 218.7L463.4 221.4L469.9 222.1L473.2 221.2L476.3 219.7L479.1 217.8L481.6 215.5L484.1 213.1L486.4 210.6L488.8 208.1L491.2 205.6L493.6 203.1L496 200.7L498.6 198.4L501.3 196.3L504.2 194.3L507.1 192.4L510 190.7L513 189L516 187.4L519 186.2L522.2 185.2L525.5 184.3L528.6 183.7M420.7 167.8L421.4 158.9L422.1 150L422.8 141.2L424.7 147.7L426.6 154.2L428.6 160.7L430.7 167L433 173.2L435.4 179.3L437.9 185.3L440.5 191.3L443.3 197.1L446.3 202.8L449.6 208.4L453.4 213.7L458.2 218.1L464.2 220.7L470.7 221.4L473.9 220.7L476.9 219.4L479.6 217.7L482.1 215.6L484.5 213.4L486.8 211.1L489.2 208.8L491.5 206.4L493.9 203.9L496.4 201.5L499 199.2L501.7 197L504.5 194.9L507.4 193L510.4 191.1L513.3 189.2L516.3 187.5L519.3 186.2L522.5 185.2L525.7 184.3L528.9 183.7M421.1 168.7L421.7 159.4L422.3 150L422.9 140.6L424.7 146.8L426.5 153.1L428.4 159.3L430.5 165.6L432.7 171.9L435.1 178.2L437.6 184.5L440.3 190.8L443.1 197.1L446.2 203.2L449.6 209.1L453.5 214.7L458.5 219.2L464.7 221.7L471.3 222.2L474.6 221.3L477.7 219.8L480.5 217.7L483.1 215.4L485.6 212.8L488 210.3L490.4 207.9L492.7 205.5L495.1 203.2L497.5 201L500 199.1L502.6 197.3L505.3 195.7L508.1 194.1L510.8 192.5L513.6 190.9L516.3 189.3L519.2 187.9L522.2 186.7L525.3 185.5L528.3 184.5M420.8 168.2L421.5 159L422.1 149.9L422.8 140.7L424.7 147.1L426.6 153.5L428.6 159.9L430.7 166.3L433 172.6L435.5 178.8L438 184.9L440.7 191L443.6 197L446.7 202.9L450.1 208.6L454 214L458.9 218.4L465 220.9L471.6 221.4L474.8 220.7L477.8 219.4L480.6 217.6L483.1 215.5L485.5 213.3L487.8 211L490.2 208.7L492.5 206.4L494.9 204.1L497.3 201.8L499.9 199.7L502.6 197.8L505.3 195.9L508.1 194.1L510.9 192.3L513.7 190.5L516.5 188.8L519.4 187.3L522.5 186.2L525.6 185.1L528.7 184.2M421 168.9L421.7 159.6L422.4 150.2L423.1 140.8L425 147.1L426.9 153.4L428.9 159.6L431 165.8L433.3 172L435.7 178.1L438.2 184.2L440.9 190.3L443.8 196.4L446.9 202.4L450.3 208.3L454.3 213.9L459.2 218.5L465.4 221.1L472.1 221.7L475.3 221L478.3 219.8L481.1 218.1L483.7 216L486.1 213.6L488.5 211.2L490.9 208.9L493.3 206.4L495.7 204.1L498.1 201.8L500.7 199.7L503.4 197.8L506.1 196.1L508.8 194.4L511.6 192.8L514.3 191.2L517 189.6L519.7 188.2L522.7 187.1L525.7 186.1L528.7 185.1M421.1 169.1L421.8 159.6L422.4 150L423 140.4L424.9 146.6L426.8 152.8L428.7 159.1L430.8 165.3L433.1 171.6L435.6 177.8L438.1 184.1L440.9 190.4L443.8 196.6L447 202.8L450.5 208.7L454.4 214.3L459.5 218.9L465.8 221.4L472.5 221.9L475.7 221.1L478.8 219.7L481.6 217.9L484.2 215.7L486.6 213.3L489 210.9L491.4 208.5L493.8 206.2L496.1 203.9L498.6 201.8L501.1 199.9L503.7 198.2L506.4 196.6L509 195.1L511.7 193.6L514.3 192L516.9 190.3L519.6 188.8L522.5 187.6L525.5 186.4L528.4 185.2" fill="none" stroke="#a9a9a9" stroke-width="1.6" stroke-linejoin="round" stroke-linecap="round"/>
<path d="M464.6 223.5L467.9 221L470.8 218.1L473.5 214.8L476 211.5L478.5 208.1L480.9 204.7L483.4 201.3L485.9 198L488.5 194.7L491.2 191.5M468 222.7L471.4 221.7L474.5 220L477.3 217.8L479.9 215.3L482.3 212.7L484.7 210L487.1 207.3M466 221.3L468.9 218.2L471.6 214.7L474.2 211.2L476.7 207.6L479.1 204L481.6 200.4L484.1 196.8L486.7 193.3M430 167.3L432.1 173.4L434.2 179.6L436.6 185.6L439 191.7L441.6 197.6L444.4 203.5L447.5 209.2L451.1 214.6L455.7 219.1L461.4 222L467.8 222.8M428.7 176.7L430.1 182.5L431.6 188.3L433.1 194.1L434.7 199.9L436.6 205.6L438.8 211.2L441.4 216.5L444.8 221.4L449 225.4L454.7 226.9L459 225L462.4 221.9M447.8 220.8L452.5 224.5L458.3 225.8L462.3 224.1L465.7 221.4L468.7 218.2L471.4 214.7L473.9 211.1M446 221.2L450.4 225.1L456.2 226.5L460.3 224.7L463.7 221.7L466.7 218.2L469.4 214.6L472.1 210.8L474.6 207L477.1 203.1L479.5 199.2L482.1 195.4M429.3 176.2L430.8 182L432.4 187.9L434.1 193.7L435.9 199.5L437.9 205.2L440.3 210.8L443.1 216.2M434.4 179.5L436.7 185.5L439.2 191.6L441.8 197.6L444.7 203.4L447.8 209.1L451.5 214.5L456.1 219.1L461.9 221.9L468.3 222.6L471.7 221.6L474.8 219.9L477.6 217.8L480.2 215.3L482.6 212.7M472.6 220.3L475.5 217.9L478.1 215.2L480.5 212.3L482.9 209.5L485.4 206.6L487.8 203.7L490.2 200.8L492.7 198L495.3 195.4L498.1 192.9L501.2 190.6L504.3 188.5L507.7 186.8M470.9 221.8L474.1 220L476.9 217.8L479.5 215.3L481.9 212.6L484.3 209.9L486.7 207.2L489.1 204.4L491.5 201.7L494 199.1L496.6 196.5L499.4 194.2L502.3 192.1L505.4 190.1L508.6 188.3M464.2 218.3L467 214.4L469.6 210.3L472.2 206.2L474.7 202.1L477.2 198L479.8 193.9L482.5 189.9L485.3 185.9L488.4 182.3" fill="none" stroke="#fff" stroke-opacity="0.75" stroke-width="0.6" stroke-linejoin="round"/>
<path d="M420.8 166.3L421.6 163.2L422.3 160.2L423.1 157.2L425.8 162.1L428.4 167L430.8 172L433.1 177L435.5 182.1L437.9 187.1L440.4 192.1L443 197L445.8 201.8L448.9 206.5L452.3 210.9L456.3 214.7L461.3 217.1L466.7 218.4L472.3 218.4L475.3 217.5L478.2 216.2L480.9 214.5L483.3 212.5L485.7 210.3L488 208.2L490.4 206L492.7 203.9L495.1 201.7L497.5 199.7L500.1 197.9L502.9 196.2L505.6 194.6L508.4 193.1L511.1 191.4L513.7 189.6L516.4 187.9L519.2 186.4L522.2 185.2L525.2 184.2L528.2 183.3" fill="none" stroke="#7fa6f8" stroke-width="2.3" stroke-linejoin="round" stroke-linecap="butt"/>
<path d="M421.3 164L421.8 159.1L422.3 154.2L422.8 149.3L423.7 155L424.5 160.8L425.4 166.5L426.4 172.3L427.4 178L428.5 183.7L429.6 189.4L430.8 195.1L432.1 200.8L433.5 206.4L435.4 211.9L437.6 217.3L440.5 222.3L444.2 226.8L449.6 228.6L454.2 226.3L457.8 222.6L460.8 218.5L463.6 214.1L466.3 209.7L469 205.3L471.5 200.8L474 196.2L476.7 191.8L479.4 187.4L482.2 183.1L485.4 179.1L489.2 175.5L493.6 172.7L498.4 171.1L503.5 170.2L508.6 169.7L513.6 171.1L518.6 172.2L523.7 172.8L528.2 175.3" fill="none" stroke="#5656f0" stroke-width="2.3" stroke-linejoin="round" stroke-linecap="butt"/>
<path d="M584 24.8L584.2 25.5L584.4 26.2L584.6 26.9L586 31.7L587.4 36.5L588.8 41.3L590.2 46.1L591.7 50.8L593.2 55.5L594.7 60.1L596.3 64.8L598 69.4L599.6 74L601.3 78.6L603.1 83.2L605.4 87.6L608.6 91.4L612.8 93.9L617.1 91.9L620.4 88.2L623.3 84.2L626.5 80.4L630.3 77.1L633.2 73L635.4 68.5L637.5 63.9L640 59.4L642.6 55.1L645.7 51L649.7 47.8L654.3 45.6L659.2 44.1L664.1 42.7L668.9 43.9L673.3 46.5L678.1 48L683.1 48.9L687.8 50.8L692.3 53.2M584.3 24.1L584.4 24.8L584.6 25.4L584.7 25.9L586.3 30.8L587.8 35.6L589.2 40.4L590.7 45.2L592.1 50L593.6 54.9L595.2 59.7L596.7 64.5L598.3 69.3L600 74.2L601.7 79.1L603.5 83.9L605.8 88.5L609 92.5L613.2 95.2L617.6 93.3L620.9 89.6L623.8 85.4L626.9 81.5L630.6 78L633.5 73.8L635.7 69.2L637.9 64.6L640.4 60.1L643.1 55.8L646.2 51.7L650.1 48.6L654.5 46.2L659.3 44.6L664.1 43.3L668.9 44.4L673.3 46.8L678.1 48.4L683.1 49.3L687.7 51.1L692.2 53.4M584.4 23.5L584.4 23.8L584.5 24.2L584.6 24.6L586.2 29.3L587.7 34.2L589.2 39.2L590.6 44.2L592.1 49.3L593.6 54.5L595.2 59.7L596.8 64.9L598.5 70L600.2 75.1L602 80.1L603.9 85L606.2 89.6L609.5 93.5L613.8 96.2L618.2 94.1L621.5 90.1L624.4 85.7L627.6 81.6L631.2 77.9L634 73.7L636.2 69.2L638.4 64.7L640.8 60.4L643.4 56.3L646.4 52.5L650.2 49.6L654.5 47.4L659.1 45.8L663.8 44.4L668.5 45.4L672.9 47.5L677.7 48.9L682.6 49.6L687.3 51.2L691.8 53.2M584.3 22.9L584.4 23.3L584.5 23.8L584.7 24.3L586.4 29.2L588 34.2L589.5 39.2L591 44.3L592.5 49.5L594 54.6L595.6 59.7L597.2 64.8L598.9 69.9L600.6 75L602.3 79.9L604.2 84.8L606.5 89.5L609.8 93.5L614 96.4L618.4 94.4L621.7 90.5L624.5 86.2L627.6 82.2L631.1 78.6L633.9 74.4L636.2 70L638.3 65.5L640.8 61.2L643.4 57L646.4 53.1L650.2 50L654.5 47.6L659 45.8L663.7 44.3L668.5 45.1L673 47.2L677.8 48.5L682.8 49.3L687.5 51L692 53.1M584.5 22.9L584.6 23.3L584.7 23.7L584.8 24.1L586.5 28.8L588.2 33.7L589.7 38.7L591.1 43.8L592.6 48.9L594.1 54.1L595.7 59.4L597.2 64.6L598.9 69.8L600.6 75L602.3 80.2L604.2 85.2L606.6 90L609.8 94.2L614.1 97.1L618.5 95.2L621.8 91.2L624.7 86.8L627.8 82.6L631.3 78.9L634.1 74.6L636.4 70L638.6 65.5L641 61.2L643.7 57L646.7 53.1L650.4 50.1L654.7 47.7L659.2 46L663.8 44.6L668.6 45.4L673 47.5L677.8 48.9L682.7 49.7L687.4 51.3L691.9 53.4M584.4 21.8L584.6 22.3L584.7 22.8L584.8 23.4L586.8 28.4L588.5 33.4L590.1 38.6L591.7 43.9L593.2 49.1L594.7 54.3L596.3 59.5L597.9 64.7L599.6 69.9L601.3 75L603 80.1L604.8 85.2L607.1 90L610.3 94.3L614.5 97.5L618.8 95.7L622.1 91.8L624.9 87.6L627.9 83.6L631.3 79.9L634 75.7L636.3 71.3L638.5 66.8L641 62.4L643.7 58.2L646.7 54.2L650.4 50.9L654.6 48.3L659.1 46.3L663.7 44.6L668.5 45.2L673.1 47.1L677.9 48.4L682.8 49.3L687.6 51L692.1 53.1M584.5 21.3L584.7 21.9L584.8 22.5L585 23L587 28L588.9 33.2L590.5 38.4L592 43.6L593.6 48.8L595.1 54.1L596.7 59.3L598.3 64.5L599.9 69.7L601.6 74.9L603.3 80.1L605.1 85.3L607.4 90.3L610.5 94.7L614.6 98.1L619 96.4L622.2 92.6L625 88.4L628 84.4L631.3 80.7L634.1 76.5L636.4 72L638.7 67.4L641.2 63L643.8 58.7L646.9 54.7L650.6 51.3L654.7 48.6L659.1 46.5L663.7 44.7L668.6 45.2L673.1 47L678 48.4L682.9 49.3L687.6 51.1L692.2 53.2M584.8 21L584.9 21.5L585.1 22.1L585.2 22.5L587.4 27.5L589.3 32.6L590.9 37.8L592.4 43L593.9 48.3L595.5 53.5L597 58.8L598.5 64.2L600.1 69.5L601.8 74.9L603.5 80.3L605.3 85.7L607.6 90.9L610.7 95.5L614.8 99.1L619.2 97.6L622.5 93.7L625.2 89.5L628.2 85.3L631.5 81.5L634.3 77.2L636.6 72.6L638.9 68L641.5 63.5L644.2 59.1L647.2 55.1L650.9 51.7L654.9 48.9L659.3 46.7L663.8 44.9L668.6 45.4L673.2 47.2L678 48.6L682.9 49.7L687.6 51.4L692.2 53.6M584.7 19.8L584.8 20.4L585 21L585.2 21.6L587.5 26.7L589.5 32L591.2 37.4L592.8 42.8L594.4 48.3L596 53.7L597.6 59.1L599.1 64.4L600.8 69.8L602.4 75.2L604.1 80.6L606 85.9L608.2 91.1L611.3 95.8L615.4 99.6L619.7 98.1L622.9 94.3L625.6 90.1L628.5 86L631.7 82.2L634.3 78L636.7 73.5L639 69.1L641.5 64.7L644.2 60.4L647.2 56.3L650.8 52.7L654.8 49.8L659.1 47.3L663.6 45.3L668.4 45.5L673.1 47L678 48.3L682.9 49.3L687.7 51.1L692.3 53.2M584.8 19.9L584.9 20.2L584.9 20.5L585 20.8L587.2 25.8L589.2 31L590.9 36.4L592.4 41.9L594 47.6L595.6 53.2L597.2 59L598.8 64.7L600.4 70.4L602.2 76L604 81.5L605.9 86.9L608.3 92.1L611.4 96.7L615.6 100.2L620 98.5L623.3 94.3L626.1 89.8L629 85.5L632.2 81.5L634.8 77.2L637.1 72.7L639.4 68.3L641.9 64.1L644.5 60.1L647.5 56.3L650.9 53L654.8 50.4L659 48.1L663.4 46.2L668.2 46.5L672.8 47.9L677.6 49L682.5 49.9L687.2 51.3L691.8 53.1M584.7 19L584.8 19.3L584.9 19.6L585 20L587.3 25.2L589.4 30.6L591.2 36.2L592.8 41.9L594.4 47.6L596 53.4L597.6 59.2L599.3 64.9L601 70.6L602.7 76.2L604.5 81.7L606.5 87.1L608.8 92.2L611.9 96.9L616 100.5L620.4 98.9L623.6 94.8L626.3 90.3L629.1 86.1L632.2 82.2L634.9 77.9L637.2 73.6L639.4 69.3L641.9 65.1L644.6 61.1L647.4 57.3L650.9 53.9L654.7 51L658.8 48.6L663.2 46.5L668 46.5L672.7 47.7L677.6 48.7L682.5 49.5L687.2 51L691.9 52.8M584.7 18L584.9 18.6L585.1 19.1L585.2 19.7L587.8 25L590.1 30.5L591.9 36.2L593.6 42L595.2 47.7L596.8 53.3L598.5 59L600.1 64.6L601.7 70.2L603.4 75.7L605.1 81.3L607 86.8L609.3 92.1L612.2 97.1L616.3 101.1L620.6 99.8L623.8 95.9L626.4 91.7L629.1 87.6L632.1 83.7L634.7 79.5L637 75.1L639.4 70.8L641.9 66.5L644.6 62.2L647.6 58.2L651 54.5L654.8 51.3L658.9 48.5L663.3 46.2L668.2 46L673 47.1L677.9 48.2L682.8 49.3L687.6 50.9L692.2 52.9M585 18.2L585.2 18.7L585.3 19.2L585.4 19.6L588.1 24.8L590.3 30.2L592.1 35.7L593.7 41.4L595.3 47L596.9 52.7L598.5 58.5L600 64.2L601.7 69.9L603.3 75.7L605.1 81.4L606.9 87.1L609.2 92.7L612.2 97.8L616.3 101.9L620.6 100.6L623.8 96.7L626.5 92.4L629.2 88.1L632.2 84.1L634.9 79.7L637.3 75.2L639.7 70.7L642.2 66.3L645 62.1L647.9 58L651.3 54.4L655.1 51.3L659.1 48.6L663.5 46.4L668.3 46.2L673 47.5L677.9 48.6L682.8 49.8L687.5 51.4L692.1 53.3M585 17.5L585.1 17.9L585.3 18.4L585.4 18.8L588.1 24.1L590.5 29.6L592.3 35.3L594 41.1L595.6 46.9L597.2 52.7L598.8 58.5L600.4 64.4L602 70.2L603.7 76L605.5 81.8L607.4 87.5L609.6 93L612.6 98.2L616.6 102.4L621 101.1L624.2 97.2L626.8 92.8L629.5 88.5L632.4 84.5L635 80.2L637.4 75.7L639.8 71.3L642.4 67L645.1 62.8L648 58.8L651.4 55.1L655 51.9L659 49.1L663.3 46.8L668.1 46.5L672.9 47.5L677.8 48.6L682.7 49.7L687.4 51.3L692.1 53.1M585.4 17.7L585.6 18.1L585.7 18.4L585.8 18.7L588.5 23.7L590.9 29L592.7 34.6L594.3 40.2L595.8 46L597.4 51.8L598.9 57.7L600.4 63.7L602 69.7L603.7 75.8L605.4 81.9L607.3 88L609.6 93.8L612.6 99.2L616.6 103.7L621.1 102.5L624.3 98.5L627 94.1L629.7 89.6L632.6 85.2L635.3 80.7L637.7 76L640.2 71.4L642.8 66.9L645.6 62.7L648.5 58.6L651.8 55L655.4 51.9L659.3 49.1L663.5 47L668.3 46.8L673.1 48L677.9 49.2L682.7 50.4L687.4 52L692 53.8M585.2 16.4L585.3 17L585.5 17.5L585.7 18L588.6 23.4L591.1 29L593 34.8L594.7 40.6L596.3 46.5L598 52.4L599.6 58.2L601.1 64.1L602.7 70L604.4 75.9L606.1 81.8L608 87.7L610.2 93.5L613.1 98.9L617.1 103.5L621.4 102.5L624.6 98.6L627.1 94.4L629.7 90.1L632.5 86L635.1 81.6L637.5 77.2L640 72.7L642.6 68.3L645.3 64L648.3 59.8L651.6 56L655.2 52.5L659 49.5L663.3 47L668.2 46.5L673 47.3L678 48.4L682.8 49.7L687.6 51.3L692.3 53.2M585.1 15.6L585.2 15.9L585.3 16.3L585.4 16.6L588.4 22L591 27.7L592.9 33.7L594.6 39.8L596.3 46L597.9 52.2L599.6 58.4L601.2 64.6L602.9 70.8L604.7 76.8L606.5 82.8L608.4 88.7L610.7 94.4L613.7 99.8L617.7 104.3L622.1 103L625.2 98.9L627.8 94.4L630.4 90L633.1 85.8L635.6 81.4L638 77.1L640.4 72.9L642.9 68.7L645.6 64.7L648.4 60.8L651.6 57.1L655 53.7L658.8 50.6L662.9 48.1L667.8 47.3L672.6 48L677.5 48.8L682.4 49.8L687.2 51.2L691.9 52.8M585.2 15.2L585.4 15.7L585.5 16.2L585.7 16.6L588.8 22.1L591.4 27.8L593.4 33.8L595.1 39.8L596.8 45.9L598.5 52L600.1 58.1L601.7 64.2L603.3 70.3L605 76.4L606.8 82.5L608.6 88.5L610.9 94.4L613.8 99.9L617.7 104.7L622.1 103.7L625.2 99.8L627.8 95.4L630.3 91.1L632.9 86.8L635.4 82.5L637.9 78.1L640.4 73.7L643 69.4L645.7 65.2L648.6 61.1L651.8 57.3L655.2 53.7L658.9 50.4L663.1 47.7L668 47L672.9 47.6L677.8 48.5L682.7 49.7L687.5 51.3L692.2 53.1M585.2 14.6L585.4 15.1L585.6 15.6L585.7 16.2L589 21.7L591.7 27.5L593.7 33.6L595.5 39.8L597.2 45.9L598.9 52L600.5 58.1L602.1 64.2L603.7 70.3L605.4 76.4L607.1 82.5L609 88.5L611.2 94.5L614.1 100.2L618 105.1L622.3 104.2L625.4 100.3L627.9 96L630.4 91.7L633 87.5L635.4 83.2L637.9 78.8L640.4 74.5L643 70.2L645.7 65.9L648.6 61.8L651.8 57.8L655.2 54.1L658.9 50.6L663.1 47.8L667.9 46.9L672.9 47.4L677.9 48.3L682.8 49.6L687.6 51.2L692.3 53M585.7 14.5L585.8 14.7L585.8 14.9L585.9 15.1L589.2 20.4L591.9 26.1L593.9 32.1L595.6 38.3L597.2 44.6L598.9 50.9L600.5 57.4L602 63.9L603.6 70.5L605.4 77L607.2 83.4L609.1 89.8L611.4 96L614.3 101.8L618.3 106.9L622.8 105.9L625.9 101.7L628.5 97.1L631 92.4L633.6 87.8L636.1 83.2L638.6 78.7L641.1 74.3L643.7 70.1L646.4 66L649.3 62L652.3 58.3L655.5 54.7L659 51.5L663 48.9L667.8 48L672.7 48.5L677.6 49.3L682.4 50.5L687.1 51.9L691.8 53.4M585.5 13.8L585.7 14.4L585.9 15L586.1 15.5L589.5 21.1L592.4 27L594.4 33.1L596.2 39.2L597.9 45.3L599.5 51.5L601.1 57.6L602.7 63.8L604.2 70L605.9 76.3L607.6 82.6L609.5 88.9L611.7 95.2L614.4 101.2L618.3 106.6L622.6 105.9L625.7 102.1L628.2 97.8L630.6 93.5L633.1 89.1L635.6 84.7L638.1 80.2L640.7 75.8L643.4 71.3L646.2 66.9L649.1 62.6L652.2 58.5L655.5 54.5L659 50.9L663.2 48L668.1 47L673.1 47.4L678.1 48.4L682.9 49.8L687.7 51.5L692.4 53.3M585.4 14.1L585.5 14.5L585.7 15L585.8 15.4L589.1 21L591.8 26.9L593.9 33.1L595.6 39.4L597.3 45.7L599 52L600.6 58.3L602.2 64.6L603.8 71L605.5 77.3L607.3 83.6L609.2 89.8L611.5 96L614.4 101.9L618.4 106.9L622.8 106L625.9 102.1L628.4 97.7L630.9 93.3L633.4 88.9L635.8 84.5L638.3 80.1L640.8 75.8L643.5 71.5L646.2 67.2L649.1 63.1L652.2 59.1L655.4 55.3L658.9 51.7L663 48.8L667.8 47.6L672.8 47.8L677.8 48.6L682.6 49.9L687.4 51.4L692.2 53.1M585.6 14.7L585.8 15.1L585.9 15.6L586 16L589.2 21.5L591.9 27.3L593.9 33.3L595.6 39.4L597.2 45.6L598.9 51.8L600.4 58L602 64.4L603.5 70.7L605.2 77.1L607 83.5L608.9 90L611.2 96.2L614 102.3L618.1 107.4L622.5 106.5L625.7 102.7L628.3 98.3L630.8 93.9L633.3 89.4L635.8 84.8L638.3 80.3L640.9 75.8L643.6 71.3L646.4 67L649.3 62.8L652.4 58.8L655.6 54.9L659.1 51.4L663.2 48.6L668 47.6L673 47.9L677.9 48.8L682.7 50.3L687.5 51.9L692.2 53.5M585.3 14.4L585.4 14.9L585.6 15.3L585.7 15.8L588.8 21.5L591.4 27.4L593.4 33.7L595.2 40L596.9 46.3L598.5 52.6L600.2 59L601.8 65.3L603.4 71.6L605.1 77.9L606.9 84.2L608.9 90.5L611.2 96.6L614.2 102.4L618.3 107.3L622.7 106.2L625.9 102.3L628.5 98L630.9 93.6L633.4 89.3L635.9 84.9L638.3 80.5L640.9 76.2L643.5 71.9L646.3 67.7L649.1 63.5L652.2 59.5L655.4 55.7L658.9 52L662.9 49.1L667.8 47.9L672.8 47.9L677.7 48.6L682.6 50L687.4 51.4L692.2 52.9M585.1 14.3L585.3 14.8L585.4 15.2L585.5 15.7L588.6 21.6L591.2 27.6L593.2 34L595 40.4L596.7 46.8L598.4 53.2L600 59.5L601.6 65.9L603.3 72.2L605.1 78.4L606.9 84.6L608.9 90.7L611.3 96.7L614.2 102.5L618.4 107.2L622.8 106L626 102.2L628.5 97.9L631 93.6L633.4 89.3L635.9 85L638.3 80.7L640.8 76.5L643.4 72.3L646.2 68.1L649 64L652 60L655.2 56.1L658.7 52.4L662.8 49.4L667.6 48L672.6 47.9L677.6 48.5L682.5 49.7L687.4 51.1L692.2 52.6M585.3 14.8L585.4 15.2L585.5 15.6L585.7 16L588.6 21.8L591.2 27.8L593.2 34L594.9 40.3L596.6 46.6L598.2 53L599.9 59.3L601.5 65.7L603.1 72L604.8 78.3L606.7 84.6L608.7 90.9L611 97L614 102.8L618.2 107.6L622.7 106.4L625.8 102.6L628.5 98.3L630.9 93.9L633.4 89.5L635.9 85.1L638.4 80.7L640.9 76.4L643.6 72.1L646.3 67.9L649.2 63.8L652.2 59.8L655.4 55.9L658.9 52.3L662.9 49.3L667.8 48.1L672.7 48L677.7 48.7L682.6 50L687.4 51.4L692.2 52.9M585.3 15.3L585.5 16L585.6 16.5L585.8 17.1L588.7 23L591.2 29L593.1 35.1L594.9 41.3L596.5 47.4L598.1 53.5L599.7 59.7L601.2 65.9L602.8 72.1L604.5 78.3L606.3 84.6L608.2 90.9L610.6 97.1L613.6 103.1L617.9 107.9L622.3 106.8L625.5 103.2L628.1 99.1L630.6 94.9L633.2 90.5L635.7 86.1L638.2 81.6L640.8 77.1L643.5 72.7L646.3 68.3L649.2 63.9L652.3 59.7L655.6 55.7L659.1 51.9L663.2 49L668 47.7L673 47.6L678 48.4L682.9 50L687.7 51.6L692.5 53.2M584.8 14.7L585 15.3L585.2 15.9L585.3 16.5L588.1 22.7L590.6 28.9L592.6 35.4L594.4 41.9L596.2 48.3L597.9 54.6L599.5 60.8L601.2 67L602.9 73.2L604.6 79.2L606.5 85.3L608.5 91.3L610.9 97.2L613.9 102.9L618.3 107.4L622.6 106.1L625.8 102.5L628.4 98.4L630.9 94.3L633.3 90.2L635.7 86L638.1 81.8L640.6 77.6L643.3 73.4L646 69.2L648.9 65L651.9 60.8L655.2 56.7L658.6 52.8L662.7 49.5L667.6 47.9L672.7 47.6L677.7 48L682.6 49.4L687.5 50.8L692.4 52.3M585.3 15.9L585.4 16.2L585.5 16.4L585.6 16.7L588.2 22.4L590.5 28.3L592.4 34.5L594.1 40.8L595.7 47.1L597.3 53.6L598.8 60L600.4 66.6L602.1 73.1L603.9 79.6L605.8 86L607.9 92.4L610.4 98.5L613.5 104.3L618 108.7L622.5 107.3L625.8 103.4L628.6 99L631.2 94.4L633.7 89.9L636.2 85.4L638.7 80.9L641.3 76.5L643.9 72.2L646.7 68.1L649.5 64.1L652.5 60.2L655.6 56.5L659 53L663 50.2L667.7 48.9L672.6 48.7L677.5 49.3L682.3 50.6L687.1 51.9L691.9 53.1M585.2 15.7L585.3 16.3L585.5 16.8L585.6 17.3L588.3 23.3L590.7 29.4L592.6 35.6L594.3 41.8L595.9 48L597.5 54.2L599.1 60.4L600.7 66.7L602.3 72.9L604.1 79.2L605.9 85.4L607.9 91.7L610.3 97.8L613.4 103.7L617.8 108.3L622.3 107.1L625.5 103.4L628.2 99.3L630.8 95.1L633.3 90.7L635.8 86.3L638.3 81.9L640.9 77.4L643.6 73L646.4 68.7L649.3 64.4L652.3 60.3L655.6 56.3L659 52.5L663.1 49.5L667.9 48.1L672.9 47.9L677.9 48.6L682.7 50.1L687.6 51.5L692.4 53M585.3 16.4L585.3 16.6L585.4 16.7L585.4 16.9L587.8 22.7L590 28.7L591.8 34.9L593.5 41.2L595.1 47.7L596.7 54.2L598.3 60.7L599.9 67.3L601.6 73.9L603.4 80.4L605.3 86.9L607.5 93.2L610.1 99.3L613.3 105L617.9 109.2L622.5 107.6L625.9 103.6L628.7 99.2L631.3 94.6L633.9 90.1L636.4 85.6L638.8 81.1L641.4 76.7L644 72.5L646.7 68.5L649.6 64.5L652.5 60.7L655.6 57L658.9 53.6L662.9 50.7L667.6 49.4L672.5 49L677.4 49.5L682.2 50.7L687 51.9L691.8 53M585.2 16.6L585.4 17.1L585.5 17.5L585.6 17.9L588 23.9L590.2 29.9L592 36L593.7 42.2L595.3 48.4L596.8 54.7L598.4 60.9L600 67.3L601.6 73.6L603.3 80L605.2 86.4L607.3 92.7L609.8 98.9L612.9 104.8L617.6 109.2L622.1 107.8L625.5 104.1L628.3 99.9L630.9 95.6L633.5 91.2L636 86.7L638.5 82.1L641.1 77.6L643.8 73.2L646.6 68.8L649.5 64.6L652.6 60.5L655.7 56.6L659.1 53L663.1 50L667.9 48.7L672.8 48.3L677.8 49L682.6 50.5L687.4 51.9L692.2 53.2M585.1 16.6L585.2 16.9L585.2 17.3L585.3 17.6L587.6 23.6L589.7 29.7L591.5 36L593.2 42.3L594.8 48.7L596.4 55.1L598 61.6L599.7 68L601.4 74.4L603.1 80.8L605.1 87.2L607.2 93.4L609.8 99.5L613 105.2L617.8 109.3L622.3 107.7L625.7 103.9L628.5 99.6L631.1 95.2L633.7 90.8L636.2 86.4L638.6 82L641.2 77.6L643.9 73.4L646.6 69.2L649.5 65.1L652.5 61.2L655.6 57.3L658.9 53.7L662.9 50.7L667.6 49.2L672.6 48.7L677.5 49.1L682.4 50.4L687.2 51.7L692.1 52.8M584.8 16.4L584.9 16.8L585 17.2L585.1 17.6L587.3 23.8L589.4 30.1L591.2 36.6L592.9 43L594.6 49.5L596.2 56L597.9 62.4L599.5 68.8L601.3 75.2L603.1 81.4L605 87.6L607.2 93.7L609.8 99.6L613.1 105.2L617.9 109.1L622.4 107.4L625.8 103.7L628.6 99.5L631.2 95.2L633.7 91L636.1 86.7L638.5 82.4L641 78.2L643.7 74L646.4 69.9L649.3 65.9L652.2 61.8L655.4 57.9L658.7 54.1L662.7 50.9L667.5 49.2L672.4 48.5L677.4 48.8L682.3 50L687.2 51.2L692.1 52.3M584.6 16L584.7 16.4L584.8 16.9L584.9 17.5L587.2 23.9L589.3 30.4L591.2 36.9L593 43.5L594.7 50.1L596.3 56.5L598 62.9L599.7 69.2L601.5 75.4L603.3 81.5L605.2 87.5L607.4 93.5L610 99.3L613.2 104.8L618.1 108.6L622.5 106.9L625.8 103.3L628.6 99.2L631.1 95.1L633.6 91L636 86.9L638.4 82.8L640.8 78.6L643.5 74.5L646.2 70.4L649 66.3L652 62.2L655.1 58.1L658.5 54.1L662.6 50.8L667.4 49L672.4 48.1L677.5 48.3L682.4 49.5L687.3 50.7L692.3 51.9M584.9 17.2L585.1 17.8L585.3 18.4L585.4 18.9L587.6 25.1L589.6 31.4L591.4 37.6L593.1 43.8L594.7 50L596.2 56.2L597.8 62.3L599.4 68.5L601 74.7L602.8 80.9L604.6 87.2L606.7 93.4L609.3 99.5L612.5 105.4L617.4 109.5L621.9 108L625.3 104.6L628.1 100.6L630.7 96.5L633.3 92.2L635.8 87.8L638.3 83.3L640.9 78.8L643.6 74.4L646.5 70L649.4 65.6L652.5 61.3L655.7 57.2L659.1 53.4L663.1 50.3L667.9 48.6L672.9 48L677.9 48.6L682.7 50.2L687.6 51.6L692.5 53M584.7 17.1L584.8 17.5L584.9 17.8L584.9 18.2L586.9 24.5L588.8 30.9L590.6 37.3L592.3 43.8L593.9 50.3L595.6 56.8L597.2 63.3L598.9 69.7L600.6 76L602.5 82.3L604.4 88.5L606.7 94.6L609.4 100.5L612.7 106.1L617.7 109.8L622.3 107.9L625.7 104.2L628.6 100L631.2 95.8L633.8 91.5L636.2 87.2L638.6 82.9L641.1 78.7L643.8 74.5L646.5 70.4L649.4 66.3L652.3 62.3L655.4 58.4L658.7 54.6L662.7 51.4L667.4 49.6L672.4 48.7L677.4 48.9L682.3 50.2L687.2 51.3L692.1 52.3M584.8 17.4L584.9 17.9L585 18.4L585.1 18.9L587.1 25.3L589 31.6L590.8 38L592.5 44.3L594.1 50.7L595.7 57L597.3 63.2L598.9 69.5L600.6 75.7L602.4 81.9L604.3 88.1L606.5 94.3L609.1 100.3L612.4 106L617.5 109.8L622 108.1L625.4 104.6L628.3 100.6L630.9 96.5L633.5 92.2L636 87.9L638.4 83.5L641 79.1L643.7 74.8L646.5 70.5L649.4 66.2L652.4 62.1L655.6 58L658.9 54.1L662.9 50.9L667.7 49.1L672.6 48.3L677.7 48.6L682.5 50.1L687.4 51.4L692.4 52.6M584.8 17.8L584.9 18.2L585 18.6L585.1 19L587 25.2L588.8 31.5L590.5 37.9L592.2 44.2L593.8 50.6L595.3 56.9L596.9 63.3L598.6 69.7L600.3 76L602.1 82.4L604 88.7L606.2 94.9L609 100.9L612.3 106.6L617.5 110.3L622 108.4L625.5 104.8L628.4 100.7L631.1 96.5L633.7 92.1L636.2 87.7L638.6 83.3L641.2 78.9L643.9 74.6L646.7 70.4L649.5 66.2L652.5 62.2L655.6 58.2L659 54.4L662.9 51.3L667.6 49.6L672.6 48.7L677.6 49L682.4 50.4L687.3 51.6L692.2 52.7M585 18.6L585.1 18.8L585.1 18.9L585.1 19.1L586.8 25.2L588.4 31.4L590 37.6L591.6 43.9L593.2 50.3L594.7 56.8L596.2 63.4L597.9 69.9L599.6 76.5L601.5 83.1L603.4 89.6L605.8 95.9L608.6 102L612 107.6L617.3 111.2L621.9 109.1L625.6 105.3L628.6 101L631.4 96.6L634 92L636.5 87.4L639 82.9L641.6 78.5L644.2 74.2L647 70.1L649.9 66.1L652.8 62.3L655.8 58.5L659.1 54.9L662.9 52L667.6 50.4L672.4 49.5L677.4 49.7L682.1 51.1L687 52.2L691.9 52.9" fill="none" stroke="#a9a9a9" stroke-width="1.6" stroke-linejoin="round" stroke-linecap="round"/>
<path d="M592 43.6L593.5 48.9L595.1 54.1L596.7 59.3L598.2 64.6L599.9 69.8L601.6 75L603.3 80.2L605.1 85.3L607.4 90.3L610.5 94.7L614.7 98L619 96.4L622.3 92.5L625 88.3L628 84.3M614.8 98.3L619.1 96.7L622.4 92.8L625.1 88.6L628.1 84.6L631.4 80.9L634.2 76.7L636.5 72.2L638.7 67.7M614.3 102.1L618.4 107.1L622.8 106.1L625.9 102.1L628.5 97.8L630.9 93.4L633.4 89.1L635.8 84.7L638.3 80.3L640.8 75.9L643.5 71.7L646.2 67.5L649.1 63.3L652.2 59.3L655.4 55.5L658.9 51.9M611 95.4L615.1 99L619.5 97.4L622.7 93.6L625.4 89.3L628.3 85.2L631.6 81.5L634.3 77.3L636.6 72.8L638.9 68.3L641.4 63.9L644.1 59.7M598.6 64.5L600.2 69.8L601.9 75.1L603.6 80.4L605.5 85.7L607.8 90.7L610.9 95.3L615 98.8L619.4 97.2M624.8 87.8L627.8 83.8L631.2 80.1L634 75.9L636.3 71.4L638.5 66.9L641 62.5L643.7 58.3L646.7 54.2L650.4 50.9L654.6 48.3M593.9 41.4L595.5 47.1L597.1 52.9L598.7 58.6L600.3 64.4L601.9 70.1L603.6 75.8L605.3 81.5L607.2 87.2L609.5 92.7L612.4 97.8L616.5 102L620.8 100.7L624 96.8L626.6 92.5M616.6 102.3L621 101L624.1 97.1L626.7 92.8L629.4 88.6L632.3 84.6L634.9 80.3L637.3 75.8L639.7 71.4M599.3 68.7L601 75.1L602.8 81.4L604.7 87.7L606.9 93.9L609.5 99.9L612.8 105.6L617.7 109.5L622.2 107.9L625.6 104.2L628.4 100" fill="none" stroke="#fff" stroke-opacity="0.75" stroke-width="0.6" stroke-linejoin="round"/>
<path d="M584.8 18.1L584.8 18.5L584.9 18.9L585 19.3L586.7 25.6L588.4 32L590.1 38.4L591.8 44.7L593.3 51.1L594.9 57.5L596.5 63.9L598.1 70.3L599.9 76.7L601.7 83L603.7 89.3L605.9 95.5L608.7 101.5L612.1 107.1L617.4 110.6L621.9 108.6L625.5 105L628.4 101L631.2 96.7L633.8 92.4L636.2 88L638.7 83.6L641.2 79.3L643.9 75L646.7 70.8L649.6 66.7L652.5 62.6L655.6 58.6L658.9 54.8L662.9 51.7L667.5 49.8L672.5 48.8L677.5 49L682.3 50.5L687.2 51.6L692.2 52.6" fill="none" stroke="#c5a8eb" stroke-width="2.3" stroke-linejoin="round" stroke-linecap="butt"/>
<path d="M584.1 24.9L584.2 25.5L584.4 26.1L584.5 26.7L585.9 31.5L587.3 36.3L588.7 41.1L590.1 45.8L591.6 50.6L593.1 55.3L594.6 60.1L596.2 64.8L597.8 69.5L599.5 74.2L601.2 78.8L603 83.5L605.3 87.9L608.6 91.6L612.9 94.1L617.2 92L620.5 88.2L623.4 84.1L626.6 80.2L630.4 76.9L633.3 72.8L635.5 68.2L637.6 63.6L640.1 59.2L642.7 54.9L645.8 50.9L649.8 47.8L654.4 45.7L659.2 44.2L664.1 42.9L668.9 44.2L673.2 46.7L678 48.3L683 49.1L687.7 50.9L692.2 53.3" fill="none" stroke="#8b36e2" stroke-width="2.3" stroke-linejoin="round" stroke-linecap="butt"/>
<path d="M583.8 142.8L583.9 143.3L583.9 143.8L584 144.3L585.4 148.6L586.7 152.9L588.1 157.2L589.5 161.5L590.9 165.9L592.3 170.2L593.7 174.5L595.2 178.7L596.9 182.9L598.8 187L600.9 190.9L603.3 194.7L606 198.2L609.2 201.3L613.1 203.3L616.9 201.6L620.5 199.4L624.3 197.4L627.4 194.5L630.1 191.2L632.8 187.9L635.6 184.7L638.5 181.6L641.5 178.6L644.8 176L648.5 174L652.5 172.4L656.6 171.5L660.9 171.2L665.2 171.3L669.4 171.9L673.5 173.1L677.5 174.6L681.5 175.9L685.7 177L689.9 178M583.9 142.5L584 143L584 143.6L584.1 144.1L585.5 148.4L586.9 152.7L588.3 157.1L589.7 161.4L591.1 165.7L592.5 170.1L594 174.4L595.5 178.7L597.1 182.9L599 187.1L601.1 191.1L603.5 195L606.2 198.6L609.4 201.8L613.3 204L617.1 202.4L620.7 200.1L624.4 198.2L627.5 195.2L630.2 191.9L632.9 188.6L635.7 185.3L638.6 182.2L641.6 179.2L644.9 176.5L648.6 174.3L652.6 172.7L656.7 171.8L660.9 171.4L665.2 171.5L669.4 172L673.5 173.2L677.5 174.8L681.6 176.1L685.7 177.2L689.9 178.2M584 142.2L584.2 142.8L584.2 143.3L584.3 143.8L585.8 148.1L587.3 152.5L588.7 156.8L590.1 161.1L591.5 165.4L592.9 169.8L594.4 174.1L595.9 178.5L597.5 182.9L599.4 187.1L601.4 191.4L603.7 195.5L606.4 199.4L609.6 202.8L613.5 205.3L617.3 203.8L620.9 201.6L624.6 199.5L627.7 196.5L630.4 193.1L633.1 189.7L635.9 186.4L638.8 183.1L641.9 180L645.2 177.2L648.9 174.9L652.8 173.1L656.9 172.1L661.1 171.6L665.4 171.7L669.6 172.2L673.7 173.5L677.6 175.2L681.7 176.5L685.8 177.7L689.9 178.7M583.9 141.7L584 142.5L584.2 143.2L584.3 143.9L585.9 148.5L587.5 153L589 157.4L590.4 161.7L591.9 166L593.3 170.3L594.8 174.5L596.3 178.6L597.9 182.8L599.7 186.9L601.8 190.9L604 194.9L606.6 198.8L609.7 202.3L613.6 204.9L617.3 203.6L620.8 201.6L624.5 199.7L627.5 196.9L630.2 193.7L632.8 190.5L635.7 187.2L638.6 183.9L641.6 180.7L644.9 177.8L648.6 175.3L652.6 173.4L656.8 172.1L661 171.4L665.4 171.2L669.7 171.7L673.8 172.8L677.8 174.5L681.9 176L686.1 177.3L690.3 178.5M583.7 140.9L583.8 141.6L584 142.4L584.2 143.2L585.8 147.9L587.4 152.5L589 157.1L590.5 161.7L592.1 166.2L593.6 170.6L595.1 174.9L596.6 179.2L598.3 183.3L600.2 187.4L602.2 191.5L604.5 195.5L607.1 199.3L610.2 202.8L614.1 205.3L617.8 204.1L621.3 202L624.8 200.1L627.8 197.3L630.4 194.2L633.1 191L635.8 187.9L638.7 184.8L641.7 181.7L644.9 178.8L648.6 176.3L652.5 174.3L656.6 172.9L660.8 172.1L665.2 171.7L669.5 172L673.7 173L677.7 174.5L681.9 175.9L686.1 177L690.3 178.2M583.8 140.6L583.9 141.1L584 141.6L584.1 142.1L585.8 146.7L587.4 151.4L589 156L590.5 160.8L592 165.5L593.5 170.2L595.1 174.8L596.7 179.4L598.4 184L600.3 188.4L602.4 192.7L604.8 196.8L607.4 200.8L610.6 204.3L614.6 206.8L618.4 205.5L622 203.1L625.5 200.8L628.4 197.8L631.1 194.5L633.7 191.3L636.4 188.1L639.2 185L642.2 182L645.4 179.3L648.9 177L652.7 175.2L656.7 173.9L660.8 173.2L665 172.9L669.3 173.1L673.4 174L677.4 175.4L681.5 176.6L685.7 177.5L689.9 178.4M584.1 140.7L584.1 141L584.1 141.3L584.2 141.6L585.8 146L587.4 150.5L588.9 155.1L590.4 159.9L591.9 164.7L593.3 169.6L594.9 174.5L596.5 179.4L598.3 184.2L600.2 188.9L602.4 193.5L604.7 197.8L607.5 201.9L610.7 205.5L614.8 208L618.7 206.5L622.3 203.9L625.9 201.4L628.8 198.1L631.5 194.6L634.2 191.2L636.9 187.9L639.7 184.8L642.7 181.8L645.8 179.2L649.2 177.1L652.9 175.4L656.8 174.3L660.9 173.8L665 173.6L669.2 174L673.2 174.9L677.2 176.3L681.2 177.4L685.4 178.1L689.5 178.8M583.9 139.8L584 140.2L584.1 140.7L584.2 141.2L586 145.9L587.7 150.7L589.4 155.5L590.9 160.4L592.5 165.2L594 170.1L595.6 174.9L597.2 179.6L599 184.3L600.9 188.9L603 193.4L605.3 197.8L608 201.9L611.2 205.6L615.2 208.4L619.1 207.1L622.6 204.7L626 202.3L628.9 199.2L631.5 196L634.1 192.7L636.8 189.5L639.6 186.4L642.5 183.4L645.7 180.6L649.1 178.2L652.8 176.3L656.7 174.9L660.8 174L665 173.5L669.2 173.6L673.4 174.5L677.4 175.9L681.5 177L685.7 177.8L689.9 178.7M584.1 140L584.2 140.4L584.3 140.8L584.4 141.2L586.1 145.8L587.8 150.4L589.5 155.1L591 159.9L592.5 164.7L594 169.6L595.6 174.5L597.2 179.4L598.9 184.2L600.8 189L602.9 193.6L605.3 198.2L607.9 202.5L611.1 206.3L615.2 209.2L619.1 208L622.6 205.5L626.1 203L629 199.7L631.7 196.3L634.3 192.9L637.1 189.6L639.9 186.3L642.8 183.3L645.9 180.5L649.4 178.1L653 176.2L656.9 174.8L661 174L665.1 173.7L669.3 173.9L673.4 174.9L677.4 176.3L681.5 177.5L685.6 178.3L689.8 179.1M584.1 139.3L584.2 139.8L584.3 140.3L584.4 140.7L586.3 145.5L588.1 150.3L589.8 155.1L591.4 160L592.9 164.9L594.5 169.8L596.1 174.7L597.7 179.6L599.5 184.4L601.4 189.1L603.4 193.8L605.7 198.4L608.3 202.8L611.5 206.8L615.5 209.8L619.4 208.7L622.9 206.3L626.3 203.8L629.1 200.7L631.8 197.3L634.4 194L637.1 190.7L639.9 187.5L642.8 184.4L646 181.5L649.4 179L653 176.9L656.9 175.4L661 174.4L665.1 173.8L669.3 173.9L673.5 174.8L677.5 176.2L681.6 177.4L685.7 178.3L689.9 179.1M584.1 138.8L584.2 139.1L584.3 139.5L584.4 139.9L586.3 144.6L588.1 149.5L589.9 154.4L591.5 159.4L593.1 164.5L594.6 169.6L596.3 174.7L597.9 179.8L599.7 184.9L601.7 189.9L603.8 194.7L606.1 199.4L608.7 203.9L611.9 208L616 211L620 210L623.5 207.4L626.8 204.7L629.6 201.4L632.2 198L634.9 194.6L637.6 191.3L640.3 188.1L643.2 185.1L646.3 182.3L649.6 179.8L653.1 177.8L656.9 176.3L660.9 175.2L665 174.7L669.2 174.7L673.3 175.5L677.3 176.8L681.4 177.8L685.5 178.6L689.7 179.3M583.8 137.7L583.9 138.3L584.1 139L584.3 139.7L586.3 144.9L588.4 150L590.2 155.2L591.9 160.4L593.6 165.5L595.2 170.5L596.9 175.4L598.6 180.3L600.4 185L602.3 189.7L604.4 194.3L606.6 198.9L609.2 203.3L612.3 207.4L616.3 210.5L620.2 209.7L623.6 207.4L626.7 205L629.4 202L632 198.9L634.6 195.8L637.2 192.7L639.9 189.6L642.8 186.5L645.9 183.6L649.2 180.9L652.8 178.5L656.6 176.6L660.7 175.2L664.9 174.2L669.2 174L673.4 174.6L677.5 175.9L681.7 177L685.9 177.9L690.2 178.8M584.2 138L584.3 138.4L584.4 138.9L584.5 139.3L586.6 144.3L588.5 149.3L590.4 154.3L592 159.4L593.6 164.5L595.2 169.7L596.9 174.8L598.6 179.9L600.4 185L602.3 190L604.4 195L606.6 199.9L609.2 204.6L612.3 208.9L616.5 212.2L620.4 211.3L623.9 208.9L627.1 206.1L629.8 202.9L632.4 199.5L635.1 196.2L637.8 192.9L640.5 189.6L643.4 186.5L646.4 183.5L649.7 180.9L653.2 178.7L657 176.9L661 175.6L665.1 174.9L669.3 174.8L673.4 175.5L677.4 176.9L681.5 178L685.7 178.8L689.9 179.5M584.4 138.2L584.5 138.5L584.6 138.8L584.6 139L586.6 143.8L588.6 148.6L590.4 153.6L592 158.6L593.5 163.8L595.1 169.1L596.7 174.4L598.4 179.7L600.2 185.1L602.1 190.4L604.2 195.6L606.5 200.7L609.1 205.5L612.4 209.9L616.6 213.2L620.6 212.3L624.1 209.7L627.3 206.7L630.1 203.2L632.8 199.6L635.5 196.1L638.2 192.7L640.9 189.3L643.8 186.2L646.8 183.3L650 180.8L653.5 178.7L657.2 177.1L661.1 176L665.1 175.4L669.3 175.5L673.4 176.3L677.3 177.7L681.3 178.7L685.5 179.4L689.6 179.9M584.2 137.2L584.3 137.7L584.4 138.1L584.5 138.6L586.7 143.7L588.8 148.8L590.7 153.9L592.4 159.2L594 164.4L595.7 169.7L597.4 174.9L599.1 180.2L600.9 185.4L602.8 190.5L604.9 195.6L607.1 200.6L609.7 205.4L612.8 209.9L617 213.3L621 212.6L624.4 210.1L627.5 207.3L630.1 204L632.7 200.7L635.4 197.4L638 194.1L640.7 190.8L643.6 187.7L646.6 184.7L649.8 182L653.3 179.6L657 177.7L660.9 176.3L665 175.4L669.2 175.2L673.4 175.8L677.4 177.1L681.5 178.2L685.7 178.9L689.9 179.7M584.1 136.8L584.3 137.4L584.4 138L584.6 138.5L586.8 143.7L589 148.8L590.9 154.1L592.7 159.3L594.3 164.6L596 169.8L597.7 175L599.4 180.2L601.2 185.3L603.1 190.5L605.1 195.5L607.3 200.6L609.9 205.5L613 210L617.1 213.6L621.1 213L624.5 210.6L627.5 207.8L630.1 204.6L632.7 201.3L635.3 198.1L638 194.8L640.7 191.5L643.6 188.3L646.6 185.2L649.8 182.4L653.3 179.9L657 177.8L660.9 176.3L665.1 175.3L669.3 175L673.5 175.6L677.5 177L681.7 178.1L685.9 178.9L690 179.7M584.4 136.7L584.6 137.3L584.8 137.9L584.9 138.4L587.2 143.6L589.5 148.7L591.4 153.8L593.2 159L594.8 164.2L596.4 169.4L598.1 174.6L599.8 179.8L601.6 185.1L603.4 190.4L605.4 195.7L607.5 201L610 206.2L613.1 211.1L617.3 215L621.3 214.7L624.7 212.4L627.6 209.5L630.3 206.2L632.9 202.9L635.6 199.4L638.2 196L641 192.5L643.9 189.1L646.9 185.8L650.1 182.8L653.6 180.2L657.3 178L661.2 176.4L665.3 175.4L669.5 175.2L673.7 175.9L677.8 177.4L681.9 178.6L686 179.6L690.1 180.4M584 135.3L584.1 135.6L584.2 136.1L584.3 136.6L586.7 141.9L589 147.4L591 153L592.9 158.7L594.6 164.4L596.4 170.1L598.2 175.7L600.1 181.2L602 186.6L604 192L606.1 197.2L608.3 202.3L610.9 207.2L614 211.8L618.3 215.3L622.3 214.7L625.7 212.1L628.5 209L631.1 205.7L633.6 202.4L636.1 199.3L638.7 196.2L641.3 193.1L644 190.1L646.8 187.3L649.9 184.5L653.2 182L656.8 179.9L660.6 178.1L664.6 176.8L668.9 176.2L673.1 176.5L677.1 177.6L681.3 178.3L685.6 178.9L689.8 179.4M584.4 136L584.6 136.6L584.7 137.2L584.9 137.7L587.3 143L589.6 148.2L591.6 153.5L593.4 158.8L595.1 164.1L596.7 169.4L598.4 174.7L600.2 180.1L602 185.4L603.8 190.8L605.8 196.2L608 201.6L610.4 206.9L613.5 211.9L617.7 215.9L621.7 215.6L625.1 213.3L628 210.3L630.6 207L633.2 203.6L635.8 200.3L638.5 196.8L641.2 193.4L644.1 190L647.1 186.8L650.2 183.7L653.6 181L657.2 178.7L661.1 177L665.2 175.9L669.5 175.5L673.7 176.2L677.7 177.6L681.8 178.8L686 179.7L690.1 180.5M584.3 135.2L584.5 135.7L584.6 136.1L584.8 136.6L587.2 141.9L589.6 147.3L591.7 152.7L593.5 158.3L595.2 163.9L597 169.5L598.7 175L600.5 180.6L602.4 186.2L604.3 191.7L606.3 197.2L608.5 202.7L611 208.1L614.1 213.1L618.4 217.1L622.4 216.8L625.8 214.3L628.6 211.1L631.1 207.7L633.7 204.3L636.3 201L638.9 197.6L641.6 194.2L644.4 191L647.3 187.9L650.3 184.9L653.6 182.2L657.2 179.9L661 178.1L665 176.8L669.2 176.3L673.4 176.8L677.5 178.1L681.6 179L685.8 179.7L689.9 180.4M584.7 136L584.8 136.4L584.9 136.7L585 136.9L587.3 142L589.6 147.2L591.6 152.5L593.4 157.9L595 163.5L596.7 169.1L598.4 174.8L600.2 180.5L602 186.3L603.9 192.1L605.9 197.9L608.1 203.5L610.7 209.1L613.9 214.1L618.3 218.1L622.4 217.8L625.9 215.1L628.7 211.8L631.3 208.2L634 204.6L636.7 201L639.3 197.5L642 194L644.8 190.7L647.7 187.6L650.8 184.6L654 182.1L657.5 180L661.3 178.3L665.3 177.3L669.4 176.9L673.5 177.5L677.5 178.8L681.5 179.9L685.6 180.5L689.8 181M584 135.1L584.1 135.5L584.3 135.9L584.4 136.5L586.8 142L589.1 147.6L591.3 153.3L593.1 159.1L594.9 164.9L596.7 170.7L598.5 176.4L600.4 182L602.3 187.6L604.3 193L606.4 198.4L608.7 203.6L611.3 208.7L614.5 213.4L618.8 217L622.9 216.6L626.2 214L629 210.8L631.5 207.5L634 204.3L636.5 201.2L639.1 198.1L641.7 195L644.4 192L647.2 189L650.2 186.1L653.5 183.5L657 181.1L660.8 179.2L664.8 177.7L669 176.8L673.2 176.9L677.3 177.9L681.5 178.8L685.7 179.4L690 179.9M584.1 135.3L584.2 135.9L584.4 136.5L584.6 137.1L587 142.7L589.4 148.3L591.5 153.9L593.3 159.6L595.1 165.3L596.8 170.9L598.7 176.4L600.5 181.9L602.4 187.3L604.3 192.7L606.3 198L608.5 203.3L611.1 208.5L614.3 213.3L618.6 217L622.7 216.8L626 214.3L628.7 211.3L631.2 208.1L633.7 204.9L636.3 201.8L638.9 198.6L641.6 195.4L644.3 192.2L647.2 189.1L650.3 186L653.6 183.2L657.2 180.8L661 178.7L665.1 177.2L669.3 176.4L673.5 176.6L677.7 177.7L681.8 178.8L686 179.5L690.2 180.2M584.5 136.7L584.7 137L584.8 137.3L584.8 137.6L587.1 142.8L589.3 148.1L591.2 153.5L593 159L594.6 164.6L596.3 170.2L598 175.9L599.8 181.6L601.6 187.4L603.6 193.1L605.6 198.8L607.9 204.4L610.6 209.7L613.9 214.6L618.4 218.3L622.5 217.9L626 215.2L628.8 211.9L631.5 208.4L634.1 204.9L636.8 201.4L639.5 197.9L642.2 194.5L645 191.3L647.9 188.2L650.9 185.4L654.1 182.8L657.7 180.7L661.4 179L665.4 177.8L669.5 177.3L673.6 177.6L677.6 178.9L681.6 180L685.7 180.7L689.9 181.1M584.3 136.9L584.4 137.2L584.5 137.6L584.7 138L586.9 143.3L589 148.8L591 154.3L592.7 159.9L594.4 165.6L596.1 171.3L597.9 176.9L599.7 182.6L601.5 188.2L603.5 193.8L605.6 199.4L607.9 204.8L610.6 210L614 214.7L618.6 218.1L622.7 217.6L626.1 215.1L628.9 211.8L631.5 208.4L634.1 205L636.8 201.7L639.4 198.4L642.1 195.2L644.9 192L647.8 189L650.8 186.1L654.1 183.5L657.6 181.3L661.4 179.5L665.4 178.2L669.5 177.4L673.7 177.5L677.7 178.6L681.7 179.8L685.9 180.5L690.1 180.9M584.3 137.3L584.4 137.5L584.5 137.8L584.6 138.1L586.7 143.4L588.8 148.9L590.7 154.4L592.4 160.1L594.1 165.8L595.8 171.6L597.5 177.4L599.4 183.1L601.3 188.8L603.2 194.5L605.4 200L607.7 205.4L610.5 210.6L614 215.2L618.7 218.4L622.8 217.8L626.2 215.1L629.1 211.8L631.7 208.3L634.3 204.9L637 201.6L639.7 198.3L642.3 195.1L645.1 192.1L648 189.1L650.9 186.4L654.2 183.9L657.7 181.8L661.5 180L665.4 178.7L669.5 177.9L673.6 177.9L677.7 178.9L681.6 180L685.8 180.6L690 180.9M584.5 137.8L584.6 138.2L584.7 138.6L584.8 138.9L586.9 144.3L589 149.6L590.9 155.1L592.6 160.6L594.2 166.1L595.9 171.7L597.6 177.3L599.4 182.9L601.2 188.5L603.1 194.1L605.2 199.7L607.5 205.2L610.2 210.4L613.7 215.2L618.4 218.5L622.5 218.1L625.9 215.6L628.8 212.5L631.5 209.1L634.1 205.6L636.8 202.2L639.5 198.8L642.3 195.5L645.1 192.3L648 189.1L651.1 186.2L654.4 183.5L658 181.3L661.8 179.5L665.7 178.2L669.8 177.5L674 177.6L678 178.8L682 180.2L686.1 181L690.2 181.4M584.5 138L584.5 138.3L584.6 138.5L584.7 138.7L586.7 144L588.7 149.4L590.6 154.8L592.3 160.4L593.9 166.1L595.6 171.8L597.3 177.6L599.1 183.3L600.9 189.1L602.9 194.8L605 200.4L607.4 205.9L610.2 211L613.8 215.6L618.5 218.8L622.7 218.2L626.2 215.6L629.1 212.2L631.7 208.7L634.4 205.3L637.1 201.9L639.8 198.5L642.5 195.2L645.3 192.1L648.2 189.1L651.2 186.4L654.5 183.9L658 181.8L661.7 180.1L665.6 178.8L669.7 178L673.8 178.1L677.8 179.1L681.7 180.4L685.9 181.1L690 181.3M584.5 138.4L584.5 138.7L584.6 139.1L584.7 139.4L586.8 144.7L588.7 150.1L590.6 155.6L592.3 161.1L593.9 166.7L595.5 172.3L597.2 178L599 183.6L600.9 189.3L602.8 194.9L604.9 200.5L607.3 205.9L610.1 211.1L613.7 215.7L618.4 218.8L622.6 218.3L626 215.8L628.9 212.6L631.6 209.1L634.3 205.7L637 202.4L639.7 199L642.5 195.7L645.3 192.5L648.2 189.4L651.2 186.6L654.5 184L658.1 181.9L661.9 180.1L665.8 178.7L669.9 177.9L674 177.9L678.1 179L682 180.4L686.1 181.2L690.3 181.5M584.6 139.3L584.7 139.7L584.8 140L584.9 140.2L586.8 145.5L588.7 150.7L590.5 156.1L592.1 161.5L593.7 167L595.3 172.5L596.9 178.1L598.7 183.8L600.5 189.5L602.4 195.2L604.5 200.8L606.8 206.4L609.7 211.7L613.4 216.3L618.3 219.4L622.4 218.9L625.9 216.4L628.9 213.2L631.6 209.7L634.3 206.2L637.1 202.7L639.9 199.2L642.7 195.8L645.5 192.5L648.5 189.4L651.6 186.5L654.9 183.9L658.5 181.9L662.2 180.1L666.1 178.9L670.2 178.1L674.3 178.1L678.3 179.3L682.1 180.9L686.2 181.8L690.3 182.1M584 138.1L584.1 138.7L584.3 139.4L584.5 140.1L586.6 145.8L588.6 151.6L590.5 157.3L592.3 163L594 168.6L595.7 174.1L597.5 179.5L599.3 184.8L601.1 190.1L603.1 195.3L605.2 200.5L607.5 205.6L610.3 210.5L613.9 214.9L618.6 217.9L622.6 217.6L626 215.3L628.8 212.5L631.4 209.5L634 206.5L636.6 203.4L639.3 200.3L642 197.2L644.8 194.1L647.8 190.9L650.9 187.8L654.2 184.9L657.9 182.4L661.8 180.2L665.8 178.4L670 177.2L674.2 176.9L678.4 177.9L682.4 179.5L686.6 180.4L690.8 181M584.3 139.2L584.3 139.4L584.4 139.6L584.4 139.9L586.3 145.4L588.1 150.9L589.9 156.5L591.5 162.2L593.2 168L594.9 173.8L596.6 179.6L598.4 185.3L600.3 191L602.3 196.6L604.5 202L607 207.3L610 212.2L613.8 216.5L618.7 219.1L622.9 218.3L626.4 215.7L629.3 212.5L632 209.1L634.6 205.7L637.3 202.5L640 199.3L642.7 196.2L645.5 193.3L648.4 190.4L651.4 187.7L654.7 185.2L658.2 183.2L661.9 181.3L665.8 179.8L669.8 178.7L674 178.3L678.1 179.1L681.9 180.6L686 181.2L690.3 181.3M584.5 140.3L584.6 140.7L584.7 141L584.8 141.3L586.6 146.6L588.4 152L590.1 157.4L591.7 162.9L593.2 168.4L594.8 173.9L596.5 179.5L598.2 185.1L600 190.7L602 196.3L604.1 201.9L606.5 207.3L609.5 212.5L613.3 216.9L618.3 219.6L622.5 219.1L626 216.7L628.9 213.5L631.7 210.1L634.4 206.7L637.2 203.3L640 199.9L642.8 196.6L645.7 193.3L648.6 190.2L651.7 187.3L655.1 184.8L658.7 182.6L662.5 180.8L666.3 179.4L670.4 178.4L674.5 178.2L678.5 179.3L682.3 181.1L686.4 182L690.6 182.2M584.1 139.8L584.2 140.2L584.3 140.7L584.5 141.2L586.3 146.8L588.1 152.4L589.8 158.1L591.5 163.8L593.1 169.4L594.8 175.1L596.5 180.6L598.3 186.2L600.2 191.6L602.2 197L604.3 202.3L606.8 207.5L609.8 212.3L613.6 216.5L618.7 219L622.8 218.4L626.2 216L629.1 213L631.8 209.8L634.4 206.6L637.2 203.5L639.9 200.4L642.6 197.3L645.5 194.2L648.4 191.2L651.4 188.3L654.8 185.7L658.4 183.4L662.2 181.4L666.1 179.7L670.2 178.4L674.4 177.9L678.5 178.7L682.3 180.4L686.5 181.3L690.7 181.6M584.3 140.5L584.4 140.8L584.5 141.2L584.6 141.5L586.4 147L588.1 152.5L589.8 158.1L591.4 163.6L593 169.2L594.6 174.8L596.3 180.4L598 186L599.9 191.6L601.9 197.1L604 202.5L606.5 207.8L609.5 212.8L613.4 217L618.5 219.5L622.6 218.9L626.1 216.5L629.1 213.4L631.8 210.1L634.5 206.8L637.3 203.5L640 200.3L642.8 197.1L645.7 193.9L648.6 190.9L651.7 188L655 185.5L658.7 183.3L662.4 181.4L666.3 179.8L670.3 178.7L674.5 178.2L678.6 179.1L682.4 180.9L686.4 181.8L690.7 182M584.4 140.8L584.5 141.3L584.6 141.7L584.7 142.1L586.4 147.6L588.1 153.2L589.8 158.7L591.4 164.2L593 169.7L594.6 175.2L596.2 180.7L598 186.2L599.8 191.7L601.7 197.2L603.9 202.6L606.3 207.9L609.4 212.8L613.3 217.1L618.4 219.5L622.5 219L626 216.7L629 213.7L631.7 210.4L634.4 207.2L637.2 204L640 200.7L642.8 197.4L645.7 194.2L648.6 191.1L651.8 188.2L655.1 185.5L658.8 183.3L662.6 181.4L666.5 179.7L670.5 178.5L674.7 178.1L678.8 179L682.5 180.9L686.6 182L690.8 182.2M584.3 141.1L584.4 141.6L584.5 142.1L584.6 142.5L586.3 148.1L588 153.7L589.6 159.3L591.2 164.9L592.8 170.4L594.4 175.9L596.1 181.4L597.8 186.8L599.7 192.2L601.6 197.6L603.8 203L606.2 208.2L609.3 213.1L613.3 217.3L618.5 219.5L622.6 219L626.1 216.7L629 213.8L631.7 210.6L634.5 207.4L637.2 204.3L640 201.1L642.8 197.9L645.7 194.7L648.7 191.5L651.8 188.6L655.2 185.9L658.8 183.7L662.6 181.6L666.5 179.9L670.6 178.6L674.8 178L678.9 178.9L682.6 180.9L686.7 182L691 182.2M584.7 142.3L584.7 142.6L584.8 142.8L584.8 142.9L586.3 148.1L587.9 153.4L589.4 158.8L590.8 164.2L592.4 169.7L593.9 175.3L595.5 180.9L597.2 186.6L599 192.4L600.9 198.1L603.1 203.8L605.7 209.3L608.9 214.3L613 218.5L618.3 220.7L622.5 220L626.1 217.5L629.1 214.3L632 210.8L634.8 207.3L637.7 203.8L640.5 200.3L643.4 197L646.3 193.8L649.3 190.8L652.4 188L655.7 185.6L659.3 183.7L663 182L666.8 180.6L670.7 179.5L674.8 179L678.8 180L682.5 182L686.5 183L690.6 183M584.1 141.7L584.3 142.3L584.4 143L584.6 143.6L586.3 149.4L587.9 155.1L589.5 160.7L591.1 166.3L592.7 171.7L594.3 177.1L596 182.4L597.7 187.7L599.5 192.9L601.5 198.1L603.6 203.3L606 208.4L609.2 213.2L613.2 217.3L618.4 219.5L622.5 219L626 216.9L628.8 214.2L631.6 211.2L634.3 208.2L637.1 205.2L639.9 202L642.7 198.8L645.6 195.6L648.6 192.4L651.8 189.2L655.3 186.4L659 184L662.8 181.8L666.8 179.9L670.9 178.4L675.1 177.6L679.3 178.5L683 180.8L687.1 182L691.4 182.3M584.2 142.2L584.3 142.6L584.4 143L584.4 143.4L586 149L587.5 154.7L589.1 160.3L590.6 166L592.2 171.6L593.8 177.1L595.5 182.7L597.2 188.2L599.1 193.7L601.1 199L603.3 204.3L605.8 209.5L609.1 214.2L613.2 218.1L618.6 220L622.7 219.3L626.2 217L629.2 214L631.9 210.8L634.7 207.7L637.5 204.6L640.3 201.4L643.1 198.3L646 195.3L648.9 192.2L652 189.4L655.4 186.8L659.1 184.6L662.8 182.6L666.7 180.8L670.7 179.3L674.9 178.4L679 179.2L682.7 181.3L686.8 182.3L691.1 182.4" fill="none" stroke="#a9a9a9" stroke-width="1.6" stroke-linejoin="round" stroke-linecap="round"/>
<path d="M620.3 210.9L623.7 208.5L626.9 205.8L629.7 202.6L632.3 199.2L634.9 195.9L637.6 192.6L640.4 189.3L643.3 186.2L646.3 183.3L649.6 180.7L653.2 178.4L657 176.6L660.9 175.4M593.5 158.4L595.2 164L596.9 169.7L598.7 175.3L600.5 180.9L602.4 186.5L604.3 192.1L606.4 197.6L608.6 203.1L611.1 208.4M593.5 158.3L595.2 163.9L596.9 169.5L598.7 175.1L600.5 180.7L602.4 186.3L604.3 191.8L606.3 197.3M609.9 203.1L613.9 205.5L617.7 204.1L621.3 201.8L624.9 199.7L627.9 196.7L630.6 193.4L633.3 190L636.1 186.8L638.9 183.6L641.9 180.5L645.2 177.8M610.4 204.3L614.4 206.9L618.2 205.6L621.8 203.3L625.3 201L628.3 198L631 194.6L633.6 191.3L636.4 188.1L639.3 184.9L642.2 181.8L645.5 179L649 176.7L652.8 174.8L656.8 173.6L661 172.9M605.8 198.6L608.4 203L611.6 207L615.6 210L619.5 209L623 206.6L626.4 204.1L629.2 200.9L631.8 197.6L634.5 194.2M626.2 203.6L629 200.4L631.7 197.1L634.3 193.7L637.1 190.5L639.8 187.2L642.8 184.1L645.9 181.3L649.3 178.8L653 176.7M600.5 188.4L602.6 192.8L604.9 197.1L607.5 201.3L610.7 205L614.7 207.7L618.6 206.4L622.1 204.1L625.6 201.8L628.5 198.7M594.9 164L596.6 169.6L598.3 175L600.1 180.5L602 186L603.9 191.4L605.9 196.8L608.1 202.1L610.6 207.3L613.8 212.1" fill="none" stroke="#fff" stroke-opacity="0.75" stroke-width="0.6" stroke-linejoin="round"/>
<path d="M584.3 142.5L584.4 142.8L584.5 143.2L584.5 143.6L586 149.2L587.5 154.8L589.1 160.4L590.6 165.9L592.2 171.5L593.8 177.1L595.4 182.6L597.1 188.1L599 193.6L600.9 199L603.1 204.4L605.7 209.6L608.9 214.4L613.1 218.3L618.5 220.2L622.7 219.5L626.2 217.2L629.2 214.2L631.9 211L634.7 207.8L637.6 204.6L640.4 201.4L643.2 198.3L646.1 195.2L649 192.1L652.2 189.2L655.6 186.7L659.2 184.5L663 182.6L666.8 180.8L670.8 179.4L675 178.5L679.1 179.3L682.7 181.5L686.8 182.5L691 182.6" fill="none" stroke="#c5a8eb" stroke-width="2.3" stroke-linejoin="round" stroke-linecap="butt"/>
<path d="M583.8 143.1L583.9 143.7L584 144.2L584.1 144.7L585.4 149L586.7 153.2L588.1 157.4L589.4 161.7L590.8 165.9L592.2 170.1L593.6 174.3L595.1 178.5L596.7 182.6L598.6 186.6L600.7 190.6L603.1 194.3L605.8 197.8L609 200.9L612.9 203L616.6 201.3L620.2 199L624.1 197.2L627.2 194.2L629.9 190.9L632.6 187.6L635.4 184.4L638.3 181.2L641.4 178.2L644.7 175.5L648.5 173.5L652.5 171.9L656.7 171.1L661 170.8L665.2 171L669.5 171.7L673.6 172.9L677.5 174.5L681.6 175.9L685.8 177L689.9 178L692.9 167.4" fill="none" stroke="#8b36e2" stroke-width="2.3" stroke-linejoin="round" stroke-linecap="butt"/>
<path d="M110.6 20.4h14.3" stroke="#050505" stroke-width="2.9"/>
<path d="M110.6 36.3h14.3" stroke="#7b7b7b" stroke-width="2.9"/>
<text x="130.2" y="24" font-size="12.2" fill="#0a0a0a" stroke="#0a0a0a" style="stroke-width:.3px">t<tspan font-size="8.4" dy="3.2">0</tspan></text>
<text x="130.2" y="39.9" font-size="12.2" fill="#0a0a0a" stroke="#0a0a0a" style="stroke-width:.3px">t<tspan font-size="8.4" dy="3.2">0+20min</tspan></text>
<path d="M108.6 140.2h14.3" stroke="#050505" stroke-width="2.9"/>
<path d="M108.6 156.1h14.3" stroke="#7b7b7b" stroke-width="2.9"/>
<text x="128.2" y="143.8" font-size="12.2" fill="#0a0a0a" stroke="#0a0a0a" style="stroke-width:.3px">t<tspan font-size="8.4" dy="3.2">0</tspan></text>
<text x="128.2" y="159.7" font-size="12.2" fill="#0a0a0a" stroke="#0a0a0a" style="stroke-width:.3px">t<tspan font-size="8.4" dy="3.2">0+20min</tspan></text>
<path d="M274.5 16.3h14.3" stroke="#f23a3a" stroke-width="2.9"/>
<path d="M274.5 32.2h14.3" stroke="#f9acac" stroke-width="2.9"/>
<text x="294.1" y="19.9" font-size="12.2" fill="#0a0a0a" stroke="#0a0a0a" style="stroke-width:.3px">t<tspan font-size="8.4" dy="3.2">0</tspan></text>
<text x="294.1" y="35.8" font-size="12.2" fill="#0a0a0a" stroke="#0a0a0a" style="stroke-width:.3px">t<tspan font-size="8.4" dy="3.2">0+20min</tspan></text>
<path d="M275.8 139.5h14.3" stroke="#f23a3a" stroke-width="2.9"/>
<path d="M275.8 155.4h14.3" stroke="#f9acac" stroke-width="2.9"/>
<text x="295.4" y="143.1" font-size="12.2" fill="#0a0a0a" stroke="#0a0a0a" style="stroke-width:.3px">t<tspan font-size="8.4" dy="3.2">0</tspan></text>
<text x="295.4" y="159" font-size="12.2" fill="#0a0a0a" stroke="#0a0a0a" style="stroke-width:.3px">t<tspan font-size="8.4" dy="3.2">0+20min</tspan></text>
<path d="M448 19.3h14.3" stroke="#7fa6f8" stroke-width="2.9"/>
<path d="M448 35.2h14.3" stroke="#5656f0" stroke-width="2.9"/>
<text x="467.6" y="22.9" font-size="12.2" fill="#0a0a0a" stroke="#0a0a0a" style="stroke-width:.3px">t<tspan font-size="8.4" dy="3.2">0</tspan></text>
<text x="467.6" y="38.8" font-size="12.2" fill="#0a0a0a" stroke="#0a0a0a" style="stroke-width:.3px">t<tspan font-size="8.4" dy="3.2">0+20min</tspan></text>
<path d="M449 139.1h14.3" stroke="#7fa6f8" stroke-width="2.9"/>
<path d="M449 155h14.3" stroke="#5656f0" stroke-width="2.9"/>
<text x="468.6" y="142.7" font-size="12.2" fill="#0a0a0a" stroke="#0a0a0a" style="stroke-width:.3px">t<tspan font-size="8.4" dy="3.2">0</tspan></text>
<text x="468.6" y="158.6" font-size="12.2" fill="#0a0a0a" stroke="#0a0a0a" style="stroke-width:.3px">t<tspan font-size="8.4" dy="3.2">0+20min</tspan></text>
<path d="M609.5 14.1h14.3" stroke="#8b36e2" stroke-width="2.9"/>
<path d="M609.5 30h14.3" stroke="#c5a8eb" stroke-width="2.9"/>
<text x="629.1" y="17.7" font-size="12.2" fill="#0a0a0a" stroke="#0a0a0a" style="stroke-width:.3px">t<tspan font-size="8.4" dy="3.2">0</tspan></text>
<text x="629.1" y="33.6" font-size="12.2" fill="#0a0a0a" stroke="#0a0a0a" style="stroke-width:.3px">t<tspan font-size="8.4" dy="3.2">0+20min</tspan></text>
<path d="M609.2 139.5h14.3" stroke="#8b36e2" stroke-width="2.9"/>
<path d="M609.2 155.4h14.3" stroke="#c5a8eb" stroke-width="2.9"/>
<text x="628.8" y="143.1" font-size="12.2" fill="#0a0a0a" stroke="#0a0a0a" style="stroke-width:.3px">t<tspan font-size="8.4" dy="3.2">0</tspan></text>
<text x="628.8" y="159" font-size="12.2" fill="#0a0a0a" stroke="#0a0a0a" style="stroke-width:.3px">t<tspan font-size="8.4" dy="3.2">0+20min</tspan></text>
<path d="M167.7 97.2V119.6H185.8" fill="none" stroke="#111" stroke-width="2"/>
<text transform="translate(181.3 116.6) rotate(-90)" font-size="9.9" fill="#111" stroke="#111">0.5mV</text>
<text x="166.8" y="131.7" font-size="10.6" fill="#111" stroke="#111">5ms</text>
<path d="M333.3 75.9V100.8H351" fill="none" stroke="#111" stroke-width="2"/>
<text transform="translate(346.9 97.8) rotate(-90)" font-size="9.9" fill="#111" stroke="#111">0.5mV</text>
<text x="332.6" y="113.6" font-size="10.6" fill="#111" stroke="#111">5ms</text>
<path d="M509.2 77V102.4H526.6" fill="none" stroke="#111" stroke-width="2"/>
<text transform="translate(522.8 99.4) rotate(-90)" font-size="9.9" fill="#111" stroke="#111">0.5mV</text>
<text x="508.4" y="113.6" font-size="10.6" fill="#111" stroke="#111">5ms</text>
<path d="M670.6 73.6V102H689.9" fill="none" stroke="#111" stroke-width="2"/>
<text transform="translate(684.2 99) rotate(-90)" font-size="9.9" fill="#111" stroke="#111">0.3mV</text>
<text x="669.8" y="113.6" font-size="10.6" fill="#111" stroke="#111">5ms</text>
<text x="58.3" y="23.2" font-size="18" fill="#111" stroke="#111">A</text>
<text x="224.4" y="21.4" font-size="18" fill="#111" stroke="#111">B</text>
<text x="394" y="20.9" font-size="18" fill="#111" stroke="#111">C</text>
<text x="559.4" y="20" font-size="18" fill="#111" stroke="#111">D</text>
<text x="45.3" y="251.1" font-size="18" fill="#111" stroke="#111">E</text>
<text x="212" y="249.6" font-size="18" fill="#111" stroke="#111">F</text>
<text x="380" y="248.8" font-size="18" fill="#111" stroke="#111">G</text>
<text x="548.7" y="247.9" font-size="18" fill="#111" stroke="#111">H</text>
<text x="50.3" y="564.6" font-size="18" fill="#111" stroke="#111">I</text>
<text x="212.8" y="563.8" font-size="18" fill="#111" stroke="#111">J</text>
<text x="382.5" y="562.8" font-size="18" fill="#111" stroke="#111">K</text>
<text x="547.2" y="561.9" font-size="18" fill="#111" stroke="#111">L</text>
<g class="h" transform="translate(79.7 275.20)"><rect x="0" fill="#bbff00"/><rect x="5.4" fill="#ff9500"/><rect x="10.9" fill="#ffac00"/><rect x="16.3" fill="#ffc300"/><rect x="21.8" fill="#ffcb00"/><rect x="27.2" fill="#ffe000"/><rect x="32.6" fill="#ffed00"/><rect x="38.1" fill="#ffef00"/><rect x="43.5" fill="#f2ff00"/><rect x="49" fill="#e9ff00"/><rect x="54.4" fill="#e5ff00"/><rect x="59.8" fill="#d8ff00"/><rect x="65.3" fill="#c9ff00"/><rect x="70.7" fill="#c4ff00"/><rect x="76.2" fill="#baff00"/><rect x="81.6" fill="#b7ff00"/><rect x="87" fill="#a0ff00"/><rect x="92.5" fill="#97ff00"/><rect x="97.9" fill="#89ff00"/><rect x="103.4" fill="#88ff00"/></g>
<g class="h" transform="translate(79.7 279.19)"><rect x="0" fill="#b4ff00"/><rect x="5.4" fill="#ffb100"/><rect x="10.9" fill="#ffbd00"/><rect x="16.3" fill="#ffdc00"/><rect x="21.8" fill="#ffdd00"/><rect x="27.2" fill="#ffe200"/><rect x="32.6" fill="#fff500"/><rect x="38.1" fill="#fff600"/><rect x="43.5" fill="#e9ff00"/><rect x="49" fill="#e6ff00"/><rect x="54.4" fill="#ddff00"/><rect x="59.8" fill="#c8ff00"/><rect x="65.3" fill="#cdff00"/><rect x="70.7" fill="#b5ff00"/><rect x="76.2" fill="#baff00"/><rect x="81.6" fill="#a8ff00"/><rect x="87" fill="#a0ff00"/><rect x="92.5" fill="#81ff00"/><rect x="97.9" fill="#71ff00"/><rect x="103.4" fill="#71ff00"/></g>
<g class="h" transform="translate(79.7 283.18)"><rect x="0" fill="#b1ff00"/><rect x="5.4" fill="#ffc600"/><rect x="10.9" fill="#ffd700"/><rect x="16.3" fill="#ffda00"/><rect x="21.8" fill="#ffe000"/><rect x="27.2" fill="#ffeb00"/><rect x="32.6" fill="#f9ff00"/><rect x="38.1" fill="#e4ff00"/><rect x="43.5" fill="#e4ff00"/><rect x="49" fill="#deff00"/><rect x="54.4" fill="#c5ff00"/><rect x="59.8" fill="#c3ff00"/><rect x="65.3" fill="#b9ff00"/><rect x="70.7" fill="#adff00"/><rect x="76.2" fill="#a5ff00"/><rect x="81.6" fill="#9aff00"/><rect x="87" fill="#95ff00"/><rect x="92.5" fill="#7bff00"/><rect x="97.9" fill="#70ff00"/><rect x="103.4" fill="#58ff00"/></g>
<g class="h" transform="translate(79.7 287.16)"><rect x="0" fill="#b1ff00"/><rect x="5.4" fill="#ffd300"/><rect x="10.9" fill="#ffe600"/><rect x="16.3" fill="#fff900"/><rect x="21.8" fill="#fff600"/><rect x="27.2" fill="#fffd00"/><rect x="32.6" fill="#f8ff00"/><rect x="38.1" fill="#edff00"/><rect x="43.5" fill="#dfff00"/><rect x="49" fill="#d9ff00"/><rect x="54.4" fill="#beff00"/><rect x="59.8" fill="#beff00"/><rect x="65.3" fill="#b0ff00"/><rect x="70.7" fill="#9cff00"/><rect x="76.2" fill="#8eff00"/><rect x="81.6" fill="#8dff00"/><rect x="87" fill="#7cff00"/><rect x="92.5" fill="#6cff00"/><rect x="97.9" fill="#63ff00"/><rect x="103.4" fill="#5dff00"/></g>
<g class="h" transform="translate(79.7 291.15)"><rect x="0" fill="#a4ff00"/><rect x="5.4" fill="#fffb00"/><rect x="10.9" fill="#fffc00"/><rect x="16.3" fill="#fff800"/><rect x="21.8" fill="#faff00"/><rect x="27.2" fill="#f5ff00"/><rect x="32.6" fill="#e9ff00"/><rect x="38.1" fill="#d6ff00"/><rect x="43.5" fill="#cbff00"/><rect x="49" fill="#c5ff00"/><rect x="54.4" fill="#bbff00"/><rect x="59.8" fill="#afff00"/><rect x="65.3" fill="#a8ff00"/><rect x="70.7" fill="#9cff00"/><rect x="76.2" fill="#91ff00"/><rect x="81.6" fill="#7fff00"/><rect x="87" fill="#62ff00"/><rect x="92.5" fill="#5fff00"/><rect x="97.9" fill="#56ff00"/><rect x="103.4" fill="#46ff00"/></g>
<g class="h" transform="translate(79.7 295.14)"><rect x="0" fill="#a8ff00"/><rect x="5.4" fill="#ffff00"/><rect x="10.9" fill="#fbff00"/><rect x="16.3" fill="#fffd00"/><rect x="21.8" fill="#edff00"/><rect x="27.2" fill="#ebff00"/><rect x="32.6" fill="#d5ff00"/><rect x="38.1" fill="#d3ff00"/><rect x="43.5" fill="#bfff00"/><rect x="49" fill="#c1ff00"/><rect x="54.4" fill="#b5ff00"/><rect x="59.8" fill="#a6ff00"/><rect x="65.3" fill="#94ff00"/><rect x="70.7" fill="#88ff00"/><rect x="76.2" fill="#85ff00"/><rect x="81.6" fill="#6dff00"/><rect x="87" fill="#60ff00"/><rect x="92.5" fill="#55ff00"/><rect x="97.9" fill="#45ff00"/><rect x="103.4" fill="#24ff00"/></g>
<g class="h" transform="translate(79.7 299.13)"><rect x="0" fill="#a0ff00"/><rect x="5.4" fill="#fffd00"/><rect x="10.9" fill="#f3ff00"/><rect x="16.3" fill="#f0ff00"/><rect x="21.8" fill="#e9ff00"/><rect x="27.2" fill="#daff00"/><rect x="32.6" fill="#d1ff00"/><rect x="38.1" fill="#c7ff00"/><rect x="43.5" fill="#b9ff00"/><rect x="49" fill="#b2ff00"/><rect x="54.4" fill="#acff00"/><rect x="59.8" fill="#9dff00"/><rect x="65.3" fill="#90ff00"/><rect x="70.7" fill="#7bff00"/><rect x="76.2" fill="#74ff00"/><rect x="81.6" fill="#69ff00"/><rect x="87" fill="#4dff00"/><rect x="92.5" fill="#48ff00"/><rect x="97.9" fill="#3bff00"/><rect x="103.4" fill="#1bff00"/></g>
<g class="h" transform="translate(79.7 303.12)"><rect x="0" fill="#9dff00"/><rect x="5.4" fill="#f4ff00"/><rect x="10.9" fill="#f3ff00"/><rect x="16.3" fill="#f1ff00"/><rect x="21.8" fill="#e7ff00"/><rect x="27.2" fill="#d9ff00"/><rect x="32.6" fill="#ccff00"/><rect x="38.1" fill="#c4ff00"/><rect x="43.5" fill="#b5ff00"/><rect x="49" fill="#b2ff00"/><rect x="54.4" fill="#9dff00"/><rect x="59.8" fill="#9aff00"/><rect x="65.3" fill="#7fff00"/><rect x="70.7" fill="#68ff00"/><rect x="76.2" fill="#55ff00"/><rect x="81.6" fill="#40ff00"/><rect x="87" fill="#47ff00"/><rect x="92.5" fill="#27ff00"/><rect x="97.9" fill="#14ff00"/><rect x="103.4" fill="#06ff00"/></g>
<g class="h" transform="translate(79.7 307.11)"><rect x="0" fill="#99ff00"/><rect x="5.4" fill="#efff00"/><rect x="10.9" fill="#dfff00"/><rect x="16.3" fill="#ecff00"/><rect x="21.8" fill="#d5ff00"/><rect x="27.2" fill="#c7ff00"/><rect x="32.6" fill="#c5ff00"/><rect x="38.1" fill="#b1ff00"/><rect x="43.5" fill="#afff00"/><rect x="49" fill="#a3ff00"/><rect x="54.4" fill="#96ff00"/><rect x="59.8" fill="#7eff00"/><rect x="65.3" fill="#6fff00"/><rect x="70.7" fill="#57ff00"/><rect x="76.2" fill="#53ff00"/><rect x="81.6" fill="#3cff00"/><rect x="87" fill="#24ff00"/><rect x="92.5" fill="#17ff00"/><rect x="97.9" fill="#13ff00"/><rect x="103.4" fill="#00ff1a"/></g>
<g class="h" transform="translate(79.7 311.09)"><rect x="0" fill="#90ff00"/><rect x="5.4" fill="#e8ff00"/><rect x="10.9" fill="#e1ff00"/><rect x="16.3" fill="#d4ff00"/><rect x="21.8" fill="#d0ff00"/><rect x="27.2" fill="#d0ff00"/><rect x="32.6" fill="#c1ff00"/><rect x="38.1" fill="#a9ff00"/><rect x="43.5" fill="#a3ff00"/><rect x="49" fill="#8cff00"/><rect x="54.4" fill="#84ff00"/><rect x="59.8" fill="#7aff00"/><rect x="65.3" fill="#5cff00"/><rect x="70.7" fill="#57ff00"/><rect x="76.2" fill="#4eff00"/><rect x="81.6" fill="#21ff00"/><rect x="87" fill="#29ff00"/><rect x="92.5" fill="#08ff00"/><rect x="97.9" fill="#00ff1d"/><rect x="103.4" fill="#00ff3c"/></g>
<g class="h" transform="translate(79.7 315.08)"><rect x="0" fill="#93ff00"/><rect x="5.4" fill="#ddff00"/><rect x="10.9" fill="#e4ff00"/><rect x="16.3" fill="#dcff00"/><rect x="21.8" fill="#ccff00"/><rect x="27.2" fill="#baff00"/><rect x="32.6" fill="#b1ff00"/><rect x="38.1" fill="#a1ff00"/><rect x="43.5" fill="#9cff00"/><rect x="49" fill="#8bff00"/><rect x="54.4" fill="#83ff00"/><rect x="59.8" fill="#6cff00"/><rect x="65.3" fill="#55ff00"/><rect x="70.7" fill="#48ff00"/><rect x="76.2" fill="#30ff00"/><rect x="81.6" fill="#26ff00"/><rect x="87" fill="#14ff00"/><rect x="92.5" fill="#00ff05"/><rect x="97.9" fill="#00ff31"/><rect x="103.4" fill="#00ff6e"/></g>
<g class="h" transform="translate(79.7 319.07)"><rect x="0" fill="#81ff00"/><rect x="5.4" fill="#d2ff00"/><rect x="10.9" fill="#d6ff00"/><rect x="16.3" fill="#cfff00"/><rect x="21.8" fill="#c8ff00"/><rect x="27.2" fill="#b7ff00"/><rect x="32.6" fill="#a7ff00"/><rect x="38.1" fill="#a3ff00"/><rect x="43.5" fill="#91ff00"/><rect x="49" fill="#7bff00"/><rect x="54.4" fill="#71ff00"/><rect x="59.8" fill="#63ff00"/><rect x="65.3" fill="#47ff00"/><rect x="70.7" fill="#3aff00"/><rect x="76.2" fill="#26ff00"/><rect x="81.6" fill="#0fff00"/><rect x="87" fill="#00ff0a"/><rect x="92.5" fill="#00ff23"/><rect x="97.9" fill="#00ff52"/><rect x="103.4" fill="#00ff8c"/></g>
<g class="h" transform="translate(79.7 323.06)"><rect x="0" fill="#7eff00"/><rect x="5.4" fill="#e0ff00"/><rect x="10.9" fill="#c6ff00"/><rect x="16.3" fill="#c6ff00"/><rect x="21.8" fill="#b7ff00"/><rect x="27.2" fill="#b7ff00"/><rect x="32.6" fill="#9cff00"/><rect x="38.1" fill="#9aff00"/><rect x="43.5" fill="#89ff00"/><rect x="49" fill="#81ff00"/><rect x="54.4" fill="#67ff00"/><rect x="59.8" fill="#56ff00"/><rect x="65.3" fill="#45ff00"/><rect x="70.7" fill="#2dff00"/><rect x="76.2" fill="#1dff00"/><rect x="81.6" fill="#04ff00"/><rect x="87" fill="#00ff11"/><rect x="92.5" fill="#00ff3d"/><rect x="97.9" fill="#00ff81"/><rect x="103.4" fill="#00ffac"/></g>
<g class="h" transform="translate(79.7 327.05)"><rect x="0" fill="#6fff00"/><rect x="5.4" fill="#c9ff00"/><rect x="10.9" fill="#d0ff00"/><rect x="16.3" fill="#bdff00"/><rect x="21.8" fill="#abff00"/><rect x="27.2" fill="#a9ff00"/><rect x="32.6" fill="#a0ff00"/><rect x="38.1" fill="#8cff00"/><rect x="43.5" fill="#83ff00"/><rect x="49" fill="#6aff00"/><rect x="54.4" fill="#5dff00"/><rect x="59.8" fill="#41ff00"/><rect x="65.3" fill="#35ff00"/><rect x="70.7" fill="#2aff00"/><rect x="76.2" fill="#0fff00"/><rect x="81.6" fill="#00ff0f"/><rect x="87" fill="#00ff2d"/><rect x="92.5" fill="#00ff67"/><rect x="97.9" fill="#00ff7c"/><rect x="103.4" fill="#00ffc5"/></g>
<g class="h" transform="translate(79.7 331.04)"><rect x="0" fill="#77ff00"/><rect x="5.4" fill="#d3ff00"/><rect x="10.9" fill="#c9ff00"/><rect x="16.3" fill="#b9ff00"/><rect x="21.8" fill="#a8ff00"/><rect x="27.2" fill="#a2ff00"/><rect x="32.6" fill="#90ff00"/><rect x="38.1" fill="#8dff00"/><rect x="43.5" fill="#80ff00"/><rect x="49" fill="#60ff00"/><rect x="54.4" fill="#51ff00"/><rect x="59.8" fill="#42ff00"/><rect x="65.3" fill="#26ff00"/><rect x="70.7" fill="#22ff00"/><rect x="76.2" fill="#0cff00"/><rect x="81.6" fill="#00ff2b"/><rect x="87" fill="#00ff73"/><rect x="92.5" fill="#00ff89"/><rect x="97.9" fill="#00ffbf"/><rect x="103.4" fill="#00ffc9"/></g>
<g class="h" transform="translate(79.7 335.02)"><rect x="0" fill="#6bff00"/><rect x="5.4" fill="#c0ff00"/><rect x="10.9" fill="#c1ff00"/><rect x="16.3" fill="#afff00"/><rect x="21.8" fill="#a0ff00"/><rect x="27.2" fill="#9bff00"/><rect x="32.6" fill="#8cff00"/><rect x="38.1" fill="#73ff00"/><rect x="43.5" fill="#77ff00"/><rect x="49" fill="#68ff00"/><rect x="54.4" fill="#51ff00"/><rect x="59.8" fill="#40ff00"/><rect x="65.3" fill="#1cff00"/><rect x="70.7" fill="#10ff00"/><rect x="76.2" fill="#05ff00"/><rect x="81.6" fill="#00ff29"/><rect x="87" fill="#00ff96"/><rect x="92.5" fill="#00ff97"/><rect x="97.9" fill="#00ffb9"/><rect x="103.4" fill="#00ffe8"/></g>
<g class="h" transform="translate(79.7 339.01)"><rect x="0" fill="#64ff00"/><rect x="5.4" fill="#b7ff00"/><rect x="10.9" fill="#b6ff00"/><rect x="16.3" fill="#b0ff00"/><rect x="21.8" fill="#9aff00"/><rect x="27.2" fill="#91ff00"/><rect x="32.6" fill="#8eff00"/><rect x="38.1" fill="#6cff00"/><rect x="43.5" fill="#61ff00"/><rect x="49" fill="#56ff00"/><rect x="54.4" fill="#45ff00"/><rect x="59.8" fill="#2dff00"/><rect x="65.3" fill="#1fff00"/><rect x="70.7" fill="#11ff00"/><rect x="76.2" fill="#00ff22"/><rect x="81.6" fill="#00ff36"/><rect x="87" fill="#00ff8d"/><rect x="92.5" fill="#00ffa2"/><rect x="97.9" fill="#00ffd5"/><rect x="103.4" fill="#00fff8"/></g>
<g class="h" transform="translate(79.7 343.00)"><rect x="0" fill="#57ff00"/><rect x="5.4" fill="#b8ff00"/><rect x="10.9" fill="#b3ff00"/><rect x="16.3" fill="#a7ff00"/><rect x="21.8" fill="#9fff00"/><rect x="27.2" fill="#8eff00"/><rect x="32.6" fill="#78ff00"/><rect x="38.1" fill="#67ff00"/><rect x="43.5" fill="#52ff00"/><rect x="49" fill="#51ff00"/><rect x="54.4" fill="#29ff00"/><rect x="59.8" fill="#1aff00"/><rect x="65.3" fill="#14ff00"/><rect x="70.7" fill="#0eff00"/><rect x="76.2" fill="#00ff31"/><rect x="81.6" fill="#00ff66"/><rect x="87" fill="#00ff7d"/><rect x="92.5" fill="#00ffc3"/><rect x="97.9" fill="#00ffe2"/><rect x="103.4" fill="#00fffe"/></g>
<g class="h" transform="translate(79.7 346.99)"><rect x="0" fill="#5aff00"/><rect x="5.4" fill="#a7ff00"/><rect x="10.9" fill="#a8ff00"/><rect x="16.3" fill="#9cff00"/><rect x="21.8" fill="#95ff00"/><rect x="27.2" fill="#89ff00"/><rect x="32.6" fill="#74ff00"/><rect x="38.1" fill="#61ff00"/><rect x="43.5" fill="#59ff00"/><rect x="49" fill="#53ff00"/><rect x="54.4" fill="#2fff00"/><rect x="59.8" fill="#29ff00"/><rect x="65.3" fill="#0aff00"/><rect x="70.7" fill="#00ff34"/><rect x="76.2" fill="#00ff47"/><rect x="81.6" fill="#00ff65"/><rect x="87" fill="#00ff96"/><rect x="92.5" fill="#00ffde"/><rect x="97.9" fill="#00fff0"/><rect x="103.4" fill="#00e9ff"/></g>
<g class="h" transform="translate(79.7 350.98)"><rect x="0" fill="#53ff00"/><rect x="5.4" fill="#a8ff00"/><rect x="10.9" fill="#a2ff00"/><rect x="16.3" fill="#9eff00"/><rect x="21.8" fill="#a0ff00"/><rect x="27.2" fill="#88ff00"/><rect x="32.6" fill="#6eff00"/><rect x="38.1" fill="#5eff00"/><rect x="43.5" fill="#4aff00"/><rect x="49" fill="#3cff00"/><rect x="54.4" fill="#2aff00"/><rect x="59.8" fill="#12ff00"/><rect x="65.3" fill="#08ff00"/><rect x="70.7" fill="#00ff26"/><rect x="76.2" fill="#00ff41"/><rect x="81.6" fill="#00ff95"/><rect x="87" fill="#00ffb4"/><rect x="92.5" fill="#00ffe4"/><rect x="97.9" fill="#00f1ff"/><rect x="103.4" fill="#00dbff"/></g>
<g class="h" transform="translate(79.7 354.97)"><rect x="0" fill="#55ff00"/><rect x="5.4" fill="#9dff00"/><rect x="10.9" fill="#a3ff00"/><rect x="16.3" fill="#8eff00"/><rect x="21.8" fill="#83ff00"/><rect x="27.2" fill="#82ff00"/><rect x="32.6" fill="#5dff00"/><rect x="38.1" fill="#5aff00"/><rect x="43.5" fill="#3fff00"/><rect x="49" fill="#36ff00"/><rect x="54.4" fill="#1cff00"/><rect x="59.8" fill="#06ff00"/><rect x="65.3" fill="#00ff00"/><rect x="70.7" fill="#00ff26"/><rect x="76.2" fill="#00ff6f"/><rect x="81.6" fill="#00ffa1"/><rect x="87" fill="#00ffbe"/><rect x="92.5" fill="#00ffe5"/><rect x="97.9" fill="#00f1ff"/><rect x="103.4" fill="#00f8ff"/></g>
<g class="h" transform="translate(79.7 358.95)"><rect x="0" fill="#4eff00"/><rect x="5.4" fill="#a5ff00"/><rect x="10.9" fill="#91ff00"/><rect x="16.3" fill="#90ff00"/><rect x="21.8" fill="#85ff00"/><rect x="27.2" fill="#73ff00"/><rect x="32.6" fill="#6aff00"/><rect x="38.1" fill="#4eff00"/><rect x="43.5" fill="#42ff00"/><rect x="49" fill="#2fff00"/><rect x="54.4" fill="#21ff00"/><rect x="59.8" fill="#02ff00"/><rect x="65.3" fill="#00ff1e"/><rect x="70.7" fill="#00ff5a"/><rect x="76.2" fill="#00ff88"/><rect x="81.6" fill="#00ff9a"/><rect x="87" fill="#00ffd4"/><rect x="92.5" fill="#00fffc"/><rect x="97.9" fill="#00e9ff"/><rect x="103.4" fill="#00d7ff"/></g>
<g class="h" transform="translate(79.7 362.94)"><rect x="0" fill="#3eff00"/><rect x="5.4" fill="#90ff00"/><rect x="10.9" fill="#7eff00"/><rect x="16.3" fill="#8aff00"/><rect x="21.8" fill="#74ff00"/><rect x="27.2" fill="#6dff00"/><rect x="32.6" fill="#54ff00"/><rect x="38.1" fill="#45ff00"/><rect x="43.5" fill="#2fff00"/><rect x="49" fill="#39ff00"/><rect x="54.4" fill="#1aff00"/><rect x="59.8" fill="#09ff00"/><rect x="65.3" fill="#00ff2e"/><rect x="70.7" fill="#00ff55"/><rect x="76.2" fill="#00ff85"/><rect x="81.6" fill="#00ffb5"/><rect x="87" fill="#00ffed"/><rect x="92.5" fill="#00ffe2"/><rect x="97.9" fill="#00e6ff"/><rect x="103.4" fill="#00c6ff"/></g>
<g class="h" transform="translate(79.7 366.93)"><rect x="0" fill="#2dff00"/><rect x="5.4" fill="#92ff00"/><rect x="10.9" fill="#90ff00"/><rect x="16.3" fill="#84ff00"/><rect x="21.8" fill="#6cff00"/><rect x="27.2" fill="#5dff00"/><rect x="32.6" fill="#52ff00"/><rect x="38.1" fill="#47ff00"/><rect x="43.5" fill="#30ff00"/><rect x="49" fill="#22ff00"/><rect x="54.4" fill="#0dff00"/><rect x="59.8" fill="#00ff0c"/><rect x="65.3" fill="#00ff34"/><rect x="70.7" fill="#00ff74"/><rect x="76.2" fill="#00ff8a"/><rect x="81.6" fill="#00ffc1"/><rect x="87" fill="#00fff0"/><rect x="92.5" fill="#00ffff"/><rect x="97.9" fill="#00d5ff"/><rect x="103.4" fill="#00caff"/></g>
<g class="h" transform="translate(79.7 370.92)"><rect x="0" fill="#19ff00"/><rect x="5.4" fill="#83ff00"/><rect x="10.9" fill="#82ff00"/><rect x="16.3" fill="#71ff00"/><rect x="21.8" fill="#6eff00"/><rect x="27.2" fill="#62ff00"/><rect x="32.6" fill="#50ff00"/><rect x="38.1" fill="#3cff00"/><rect x="43.5" fill="#2dff00"/><rect x="49" fill="#19ff00"/><rect x="54.4" fill="#0eff00"/><rect x="59.8" fill="#00ff27"/><rect x="65.3" fill="#00ff60"/><rect x="70.7" fill="#00ff78"/><rect x="76.2" fill="#00ff91"/><rect x="81.6" fill="#00ffca"/><rect x="87" fill="#00fff9"/><rect x="92.5" fill="#00ebff"/><rect x="97.9" fill="#00ddff"/><rect x="103.4" fill="#00b4ff"/></g>
<g class="h" transform="translate(79.7 374.91)"><rect x="0" fill="#09ff00"/><rect x="5.4" fill="#90ff00"/><rect x="10.9" fill="#77ff00"/><rect x="16.3" fill="#74ff00"/><rect x="21.8" fill="#6bff00"/><rect x="27.2" fill="#54ff00"/><rect x="32.6" fill="#50ff00"/><rect x="38.1" fill="#34ff00"/><rect x="43.5" fill="#1dff00"/><rect x="49" fill="#15ff00"/><rect x="54.4" fill="#0bff00"/><rect x="59.8" fill="#00ff08"/><rect x="65.3" fill="#00ff46"/><rect x="70.7" fill="#00ff6e"/><rect x="76.2" fill="#00ffbc"/><rect x="81.6" fill="#00ffc8"/><rect x="87" fill="#00ffe8"/><rect x="92.5" fill="#00f2ff"/><rect x="97.9" fill="#00d6ff"/><rect x="103.4" fill="#00b6ff"/></g>
<g class="h" transform="translate(79.7 378.90)"><rect x="0" fill="#0eff00"/><rect x="5.4" fill="#72ff00"/><rect x="10.9" fill="#7aff00"/><rect x="16.3" fill="#71ff00"/><rect x="21.8" fill="#5dff00"/><rect x="27.2" fill="#48ff00"/><rect x="32.6" fill="#39ff00"/><rect x="38.1" fill="#35ff00"/><rect x="43.5" fill="#20ff00"/><rect x="49" fill="#11ff00"/><rect x="54.4" fill="#00ff04"/><rect x="59.8" fill="#00ff35"/><rect x="65.3" fill="#00ff56"/><rect x="70.7" fill="#00ff81"/><rect x="76.2" fill="#00ffb3"/><rect x="81.6" fill="#00ffc4"/><rect x="87" fill="#00f7ff"/><rect x="92.5" fill="#00e2ff"/><rect x="97.9" fill="#00d5ff"/><rect x="103.4" fill="#00b6ff"/></g>
<g class="h" transform="translate(79.7 382.88)"><rect x="0" fill="#00ff00"/><rect x="5.4" fill="#78ff00"/><rect x="10.9" fill="#68ff00"/><rect x="16.3" fill="#70ff00"/><rect x="21.8" fill="#66ff00"/><rect x="27.2" fill="#4aff00"/><rect x="32.6" fill="#3eff00"/><rect x="38.1" fill="#2cff00"/><rect x="43.5" fill="#1bff00"/><rect x="49" fill="#0fff00"/><rect x="54.4" fill="#00ff13"/><rect x="59.8" fill="#00ff2c"/><rect x="65.3" fill="#00ff72"/><rect x="70.7" fill="#00ff8d"/><rect x="76.2" fill="#00ffab"/><rect x="81.6" fill="#00ffdf"/><rect x="87" fill="#00fbff"/><rect x="92.5" fill="#00f4ff"/><rect x="97.9" fill="#00d5ff"/><rect x="103.4" fill="#00b0ff"/></g>
<g class="h" transform="translate(79.7 386.87)"><rect x="0" fill="#00ff2b"/><rect x="5.4" fill="#76ff00"/><rect x="10.9" fill="#6bff00"/><rect x="16.3" fill="#6aff00"/><rect x="21.8" fill="#42ff00"/><rect x="27.2" fill="#44ff00"/><rect x="32.6" fill="#31ff00"/><rect x="38.1" fill="#24ff00"/><rect x="43.5" fill="#14ff00"/><rect x="49" fill="#06ff00"/><rect x="54.4" fill="#00ff0b"/><rect x="59.8" fill="#00ff52"/><rect x="65.3" fill="#00ff7c"/><rect x="70.7" fill="#00ffac"/><rect x="76.2" fill="#00ffb6"/><rect x="81.6" fill="#00ffd9"/><rect x="87" fill="#00f6ff"/><rect x="92.5" fill="#00d1ff"/><rect x="97.9" fill="#00c7ff"/><rect x="103.4" fill="#00baff"/></g>
<g class="h" transform="translate(79.7 390.86)"><rect x="0" fill="#00ff26"/><rect x="5.4" fill="#70ff00"/><rect x="10.9" fill="#57ff00"/><rect x="16.3" fill="#55ff00"/><rect x="21.8" fill="#45ff00"/><rect x="27.2" fill="#3fff00"/><rect x="32.6" fill="#36ff00"/><rect x="38.1" fill="#1cff00"/><rect x="43.5" fill="#0bff00"/><rect x="49" fill="#02ff00"/><rect x="54.4" fill="#00ff1a"/><rect x="59.8" fill="#00ff63"/><rect x="65.3" fill="#00ff7f"/><rect x="70.7" fill="#00ffad"/><rect x="76.2" fill="#00ffbd"/><rect x="81.6" fill="#00ffdb"/><rect x="87" fill="#00f3ff"/><rect x="92.5" fill="#00d9ff"/><rect x="97.9" fill="#00b4ff"/><rect x="103.4" fill="#00b6ff"/></g>
<g class="h" transform="translate(79.7 394.85)"><rect x="0" fill="#00ff38"/><rect x="5.4" fill="#6eff00"/><rect x="10.9" fill="#6bff00"/><rect x="16.3" fill="#62ff00"/><rect x="21.8" fill="#45ff00"/><rect x="27.2" fill="#44ff00"/><rect x="32.6" fill="#26ff00"/><rect x="38.1" fill="#16ff00"/><rect x="43.5" fill="#14ff00"/><rect x="49" fill="#00ff17"/><rect x="54.4" fill="#00ff29"/><rect x="59.8" fill="#00ff6e"/><rect x="65.3" fill="#00ff88"/><rect x="70.7" fill="#00ffb6"/><rect x="76.2" fill="#00ffc2"/><rect x="81.6" fill="#00fff4"/><rect x="87" fill="#00f9ff"/><rect x="92.5" fill="#00dbff"/><rect x="97.9" fill="#00c0ff"/><rect x="103.4" fill="#00b1ff"/></g>
<g class="h" transform="translate(79.7 398.84)"><rect x="0" fill="#00ff3f"/><rect x="5.4" fill="#5eff00"/><rect x="10.9" fill="#55ff00"/><rect x="16.3" fill="#5bff00"/><rect x="21.8" fill="#41ff00"/><rect x="27.2" fill="#34ff00"/><rect x="32.6" fill="#2fff00"/><rect x="38.1" fill="#1aff00"/><rect x="43.5" fill="#18ff00"/><rect x="49" fill="#00ff1a"/><rect x="54.4" fill="#00ff29"/><rect x="59.8" fill="#00ff61"/><rect x="65.3" fill="#00ff9e"/><rect x="70.7" fill="#00ffaf"/><rect x="76.2" fill="#00ffd8"/><rect x="81.6" fill="#00ffe6"/><rect x="87" fill="#00f7ff"/><rect x="92.5" fill="#00e7ff"/><rect x="97.9" fill="#00c8ff"/><rect x="103.4" fill="#00a9ff"/></g>
<g class="h" transform="translate(79.7 402.83)"><rect x="0" fill="#00ff44"/><rect x="5.4" fill="#5bff00"/><rect x="10.9" fill="#60ff00"/><rect x="16.3" fill="#56ff00"/><rect x="21.8" fill="#47ff00"/><rect x="27.2" fill="#33ff00"/><rect x="32.6" fill="#27ff00"/><rect x="38.1" fill="#1cff00"/><rect x="43.5" fill="#0bff00"/><rect x="49" fill="#00ff02"/><rect x="54.4" fill="#00ff31"/><rect x="59.8" fill="#00ff7e"/><rect x="65.3" fill="#00ff8e"/><rect x="70.7" fill="#00ffb7"/><rect x="76.2" fill="#00ffe7"/><rect x="81.6" fill="#00fff6"/><rect x="87" fill="#00e9ff"/><rect x="92.5" fill="#00dfff"/><rect x="97.9" fill="#00b3ff"/><rect x="103.4" fill="#00cbff"/></g>
<g class="h" transform="translate(79.7 406.81)"><rect x="0" fill="#00ff2d"/><rect x="5.4" fill="#67ff00"/><rect x="10.9" fill="#4cff00"/><rect x="16.3" fill="#4cff00"/><rect x="21.8" fill="#44ff00"/><rect x="27.2" fill="#3fff00"/><rect x="32.6" fill="#26ff00"/><rect x="38.1" fill="#1bff00"/><rect x="43.5" fill="#12ff00"/><rect x="49" fill="#07ff00"/><rect x="54.4" fill="#00ff22"/><rect x="59.8" fill="#00ff71"/><rect x="65.3" fill="#00ff9c"/><rect x="70.7" fill="#00ffb9"/><rect x="76.2" fill="#00ffd6"/><rect x="81.6" fill="#00ffe4"/><rect x="87" fill="#00efff"/><rect x="92.5" fill="#00e3ff"/><rect x="97.9" fill="#00c6ff"/><rect x="103.4" fill="#00b0ff"/></g>
<g class="h" transform="translate(79.7 410.80)"><rect x="0" fill="#00ff34"/><rect x="5.4" fill="#65ff00"/><rect x="10.9" fill="#4eff00"/><rect x="16.3" fill="#4aff00"/><rect x="21.8" fill="#46ff00"/><rect x="27.2" fill="#4aff00"/><rect x="32.6" fill="#28ff00"/><rect x="38.1" fill="#17ff00"/><rect x="43.5" fill="#06ff00"/><rect x="49" fill="#00ff00"/><rect x="54.4" fill="#00ff2e"/><rect x="59.8" fill="#00ff6b"/><rect x="65.3" fill="#00ffa6"/><rect x="70.7" fill="#00ffaf"/><rect x="76.2" fill="#00ffda"/><rect x="81.6" fill="#00fff0"/><rect x="87" fill="#00ebff"/><rect x="92.5" fill="#00e9ff"/><rect x="97.9" fill="#00c3ff"/><rect x="103.4" fill="#00baff"/></g>
<g class="h" transform="translate(79.7 414.79)"><rect x="0" fill="#00ff3c"/><rect x="5.4" fill="#58ff00"/><rect x="10.9" fill="#4cff00"/><rect x="16.3" fill="#57ff00"/><rect x="21.8" fill="#39ff00"/><rect x="27.2" fill="#31ff00"/><rect x="32.6" fill="#29ff00"/><rect x="38.1" fill="#11ff00"/><rect x="43.5" fill="#0bff00"/><rect x="49" fill="#00ff24"/><rect x="54.4" fill="#00ff33"/><rect x="59.8" fill="#00ff69"/><rect x="65.3" fill="#00ffaf"/><rect x="70.7" fill="#00ffd8"/><rect x="76.2" fill="#00ffe6"/><rect x="81.6" fill="#00f7ff"/><rect x="87" fill="#00f2ff"/><rect x="92.5" fill="#00e6ff"/><rect x="97.9" fill="#00caff"/><rect x="103.4" fill="#00a7ff"/></g>
<g class="h" transform="translate(79.7 418.78)"><rect x="0" fill="#00ff20"/><rect x="5.4" fill="#5eff00"/><rect x="10.9" fill="#5fff00"/><rect x="16.3" fill="#48ff00"/><rect x="21.8" fill="#39ff00"/><rect x="27.2" fill="#3dff00"/><rect x="32.6" fill="#29ff00"/><rect x="38.1" fill="#11ff00"/><rect x="43.5" fill="#0cff00"/><rect x="49" fill="#01ff00"/><rect x="54.4" fill="#00ff2b"/><rect x="59.8" fill="#00ff5a"/><rect x="65.3" fill="#00ffae"/><rect x="70.7" fill="#00ffbb"/><rect x="76.2" fill="#00ffee"/><rect x="81.6" fill="#00f5ff"/><rect x="87" fill="#00f2ff"/><rect x="92.5" fill="#00deff"/><rect x="97.9" fill="#00c0ff"/><rect x="103.4" fill="#00b5ff"/></g>
<g class="h" transform="translate(79.7 422.77)"><rect x="0" fill="#00ff45"/><rect x="5.4" fill="#64ff00"/><rect x="10.9" fill="#4aff00"/><rect x="16.3" fill="#4eff00"/><rect x="21.8" fill="#4dff00"/><rect x="27.2" fill="#37ff00"/><rect x="32.6" fill="#23ff00"/><rect x="38.1" fill="#0bff00"/><rect x="43.5" fill="#0dff00"/><rect x="49" fill="#01ff00"/><rect x="54.4" fill="#00ff6a"/><rect x="59.8" fill="#00ff83"/><rect x="65.3" fill="#00ffa6"/><rect x="70.7" fill="#00ffbb"/><rect x="76.2" fill="#00ffda"/><rect x="81.6" fill="#00ecff"/><rect x="87" fill="#00edff"/><rect x="92.5" fill="#00deff"/><rect x="97.9" fill="#00cdff"/><rect x="103.4" fill="#00a8ff"/></g>
<g class="h" transform="translate(79.7 426.76)"><rect x="0" fill="#00ff36"/><rect x="5.4" fill="#53ff00"/><rect x="10.9" fill="#4dff00"/><rect x="16.3" fill="#44ff00"/><rect x="21.8" fill="#42ff00"/><rect x="27.2" fill="#2eff00"/><rect x="32.6" fill="#1aff00"/><rect x="38.1" fill="#18ff00"/><rect x="43.5" fill="#10ff00"/><rect x="49" fill="#00ff01"/><rect x="54.4" fill="#00ff4d"/><rect x="59.8" fill="#00ff82"/><rect x="65.3" fill="#00ffac"/><rect x="70.7" fill="#00ffcb"/><rect x="76.2" fill="#00ffd8"/><rect x="81.6" fill="#00f1ff"/><rect x="87" fill="#00e7ff"/><rect x="92.5" fill="#00daff"/><rect x="97.9" fill="#00c6ff"/><rect x="103.4" fill="#00afff"/></g>
<g class="h" transform="translate(79.7 430.75)"><rect x="0" fill="#00ff41"/><rect x="5.4" fill="#5bff00"/><rect x="10.9" fill="#45ff00"/><rect x="16.3" fill="#47ff00"/><rect x="21.8" fill="#40ff00"/><rect x="27.2" fill="#3cff00"/><rect x="32.6" fill="#24ff00"/><rect x="38.1" fill="#1dff00"/><rect x="43.5" fill="#0dff00"/><rect x="49" fill="#00ff22"/><rect x="54.4" fill="#00ff4f"/><rect x="59.8" fill="#00ff94"/><rect x="65.3" fill="#00ffb5"/><rect x="70.7" fill="#00ffca"/><rect x="76.2" fill="#00ffe8"/><rect x="81.6" fill="#00fcff"/><rect x="87" fill="#00e1ff"/><rect x="92.5" fill="#00d9ff"/><rect x="97.9" fill="#00cdff"/><rect x="103.4" fill="#00b1ff"/></g>
<g class="h" transform="translate(79.7 434.73)"><rect x="0" fill="#00ff42"/><rect x="5.4" fill="#57ff00"/><rect x="10.9" fill="#55ff00"/><rect x="16.3" fill="#3fff00"/><rect x="21.8" fill="#38ff00"/><rect x="27.2" fill="#30ff00"/><rect x="32.6" fill="#26ff00"/><rect x="38.1" fill="#1bff00"/><rect x="43.5" fill="#0aff00"/><rect x="49" fill="#00ff22"/><rect x="54.4" fill="#00ff50"/><rect x="59.8" fill="#00ff8a"/><rect x="65.3" fill="#00ffb0"/><rect x="70.7" fill="#00ffd6"/><rect x="76.2" fill="#00fff1"/><rect x="81.6" fill="#00fcff"/><rect x="87" fill="#00dfff"/><rect x="92.5" fill="#00d1ff"/><rect x="97.9" fill="#00c1ff"/><rect x="103.4" fill="#00bbff"/></g>
<g class="h" transform="translate(79.7 438.72)"><rect x="0" fill="#00ff3d"/><rect x="5.4" fill="#5aff00"/><rect x="10.9" fill="#45ff00"/><rect x="16.3" fill="#50ff00"/><rect x="21.8" fill="#3bff00"/><rect x="27.2" fill="#32ff00"/><rect x="32.6" fill="#1dff00"/><rect x="38.1" fill="#15ff00"/><rect x="43.5" fill="#0eff00"/><rect x="49" fill="#00ff07"/><rect x="54.4" fill="#00ff49"/><rect x="59.8" fill="#00ff8f"/><rect x="65.3" fill="#00ffb9"/><rect x="70.7" fill="#00ffd2"/><rect x="76.2" fill="#00ffe9"/><rect x="81.6" fill="#00f5ff"/><rect x="87" fill="#00dcff"/><rect x="92.5" fill="#00e4ff"/><rect x="97.9" fill="#00caff"/><rect x="103.4" fill="#00aaff"/></g>
<g class="h" transform="translate(79.7 442.71)"><rect x="0" fill="#00ff49"/><rect x="5.4" fill="#56ff00"/><rect x="10.9" fill="#45ff00"/><rect x="16.3" fill="#46ff00"/><rect x="21.8" fill="#39ff00"/><rect x="27.2" fill="#26ff00"/><rect x="32.6" fill="#17ff00"/><rect x="38.1" fill="#20ff00"/><rect x="43.5" fill="#04ff00"/><rect x="49" fill="#00ff40"/><rect x="54.4" fill="#00ff4a"/><rect x="59.8" fill="#00ff90"/><rect x="65.3" fill="#00ffc8"/><rect x="70.7" fill="#00ffce"/><rect x="76.2" fill="#00fff5"/><rect x="81.6" fill="#00f4ff"/><rect x="87" fill="#00faff"/><rect x="92.5" fill="#00d6ff"/><rect x="97.9" fill="#00ccff"/><rect x="103.4" fill="#00b2ff"/></g>
<g class="h" transform="translate(79.7 446.70)"><rect x="0" fill="#00ff64"/><rect x="5.4" fill="#4eff00"/><rect x="10.9" fill="#4cff00"/><rect x="16.3" fill="#3eff00"/><rect x="21.8" fill="#37ff00"/><rect x="27.2" fill="#29ff00"/><rect x="32.6" fill="#2cff00"/><rect x="38.1" fill="#1dff00"/><rect x="43.5" fill="#15ff00"/><rect x="49" fill="#00ff29"/><rect x="54.4" fill="#00ff52"/><rect x="59.8" fill="#00ff85"/><rect x="65.3" fill="#00ffae"/><rect x="70.7" fill="#00ffcc"/><rect x="76.2" fill="#00ffe5"/><rect x="81.6" fill="#00f7ff"/><rect x="87" fill="#00ecff"/><rect x="92.5" fill="#00cbff"/><rect x="97.9" fill="#00c8ff"/><rect x="103.4" fill="#00c5ff"/></g>
<g class="h" transform="translate(79.7 450.69)"><rect x="0" fill="#00ff36"/><rect x="5.4" fill="#4aff00"/><rect x="10.9" fill="#47ff00"/><rect x="16.3" fill="#3fff00"/><rect x="21.8" fill="#34ff00"/><rect x="27.2" fill="#26ff00"/><rect x="32.6" fill="#2aff00"/><rect x="38.1" fill="#1aff00"/><rect x="43.5" fill="#13ff00"/><rect x="49" fill="#00ff27"/><rect x="54.4" fill="#00ff4b"/><rect x="59.8" fill="#00ff84"/><rect x="65.3" fill="#00ffad"/><rect x="70.7" fill="#00ffda"/><rect x="76.2" fill="#00ffed"/><rect x="81.6" fill="#00faff"/><rect x="87" fill="#00daff"/><rect x="92.5" fill="#00e4ff"/><rect x="97.9" fill="#00d9ff"/><rect x="103.4" fill="#00a3ff"/></g>
<g class="h" transform="translate(79.7 454.68)"><rect x="0" fill="#00ff3a"/><rect x="5.4" fill="#56ff00"/><rect x="10.9" fill="#4fff00"/><rect x="16.3" fill="#42ff00"/><rect x="21.8" fill="#33ff00"/><rect x="27.2" fill="#2bff00"/><rect x="32.6" fill="#1fff00"/><rect x="38.1" fill="#17ff00"/><rect x="43.5" fill="#12ff00"/><rect x="49" fill="#00ff22"/><rect x="54.4" fill="#00ff6a"/><rect x="59.8" fill="#00ff97"/><rect x="65.3" fill="#00ffb3"/><rect x="70.7" fill="#00ffda"/><rect x="76.2" fill="#00ffe9"/><rect x="81.6" fill="#00f6ff"/><rect x="87" fill="#00f4ff"/><rect x="92.5" fill="#00ddff"/><rect x="97.9" fill="#00cbff"/><rect x="103.4" fill="#00c0ff"/></g>
<g class="h" transform="translate(79.7 458.66)"><rect x="0" fill="#00ff4d"/><rect x="5.4" fill="#45ff00"/><rect x="10.9" fill="#41ff00"/><rect x="16.3" fill="#43ff00"/><rect x="21.8" fill="#3eff00"/><rect x="27.2" fill="#34ff00"/><rect x="32.6" fill="#29ff00"/><rect x="38.1" fill="#15ff00"/><rect x="43.5" fill="#05ff00"/><rect x="49" fill="#00ff20"/><rect x="54.4" fill="#00ff52"/><rect x="59.8" fill="#00ff8c"/><rect x="65.3" fill="#00ffb3"/><rect x="70.7" fill="#00ffc8"/><rect x="76.2" fill="#00feff"/><rect x="81.6" fill="#00ebff"/><rect x="87" fill="#00f1ff"/><rect x="92.5" fill="#00e4ff"/><rect x="97.9" fill="#00d3ff"/><rect x="103.4" fill="#00bfff"/></g>
<g class="h" transform="translate(79.7 462.65)"><rect x="0" fill="#00ff55"/><rect x="5.4" fill="#4bff00"/><rect x="10.9" fill="#42ff00"/><rect x="16.3" fill="#3aff00"/><rect x="21.8" fill="#31ff00"/><rect x="27.2" fill="#2bff00"/><rect x="32.6" fill="#20ff00"/><rect x="38.1" fill="#16ff00"/><rect x="43.5" fill="#13ff00"/><rect x="49" fill="#00ff1a"/><rect x="54.4" fill="#00ff6d"/><rect x="59.8" fill="#00ff83"/><rect x="65.3" fill="#00ffad"/><rect x="70.7" fill="#00ffdb"/><rect x="76.2" fill="#00ffed"/><rect x="81.6" fill="#00fcff"/><rect x="87" fill="#00d9ff"/><rect x="92.5" fill="#00d4ff"/><rect x="97.9" fill="#00c6ff"/><rect x="103.4" fill="#00c6ff"/></g>
<g class="h" transform="translate(79.7 466.64)"><rect x="0" fill="#00ff48"/><rect x="5.4" fill="#50ff00"/><rect x="10.9" fill="#44ff00"/><rect x="16.3" fill="#39ff00"/><rect x="21.8" fill="#31ff00"/><rect x="27.2" fill="#2fff00"/><rect x="32.6" fill="#1eff00"/><rect x="38.1" fill="#1dff00"/><rect x="43.5" fill="#04ff00"/><rect x="49" fill="#00ff27"/><rect x="54.4" fill="#00ff46"/><rect x="59.8" fill="#00ff80"/><rect x="65.3" fill="#00ffb2"/><rect x="70.7" fill="#00ffc1"/><rect x="76.2" fill="#00ffef"/><rect x="81.6" fill="#00f4ff"/><rect x="87" fill="#00f3ff"/><rect x="92.5" fill="#00daff"/><rect x="97.9" fill="#00c3ff"/><rect x="103.4" fill="#00b7ff"/></g>
<g class="h" transform="translate(79.7 470.63)"><rect x="0" fill="#00ff51"/><rect x="5.4" fill="#53ff00"/><rect x="10.9" fill="#4cff00"/><rect x="16.3" fill="#44ff00"/><rect x="21.8" fill="#35ff00"/><rect x="27.2" fill="#21ff00"/><rect x="32.6" fill="#1aff00"/><rect x="38.1" fill="#0bff00"/><rect x="43.5" fill="#00ff02"/><rect x="49" fill="#00ff00"/><rect x="54.4" fill="#00ff48"/><rect x="59.8" fill="#00ff83"/><rect x="65.3" fill="#00ffc0"/><rect x="70.7" fill="#00ffe1"/><rect x="76.2" fill="#00ffe3"/><rect x="81.6" fill="#00f8ff"/><rect x="87" fill="#00e4ff"/><rect x="92.5" fill="#00e0ff"/><rect x="97.9" fill="#00d5ff"/><rect x="103.4" fill="#00c9ff"/></g>
<g class="h" transform="translate(79.7 474.62)"><rect x="0" fill="#00ff4f"/><rect x="5.4" fill="#59ff00"/><rect x="10.9" fill="#42ff00"/><rect x="16.3" fill="#41ff00"/><rect x="21.8" fill="#33ff00"/><rect x="27.2" fill="#26ff00"/><rect x="32.6" fill="#27ff00"/><rect x="38.1" fill="#1bff00"/><rect x="43.5" fill="#05ff00"/><rect x="49" fill="#00ff09"/><rect x="54.4" fill="#00ff3e"/><rect x="59.8" fill="#00ff86"/><rect x="65.3" fill="#00ffb3"/><rect x="70.7" fill="#00ffbf"/><rect x="76.2" fill="#00ffe5"/><rect x="81.6" fill="#00f3ff"/><rect x="87" fill="#00dcff"/><rect x="92.5" fill="#00efff"/><rect x="97.9" fill="#00c2ff"/><rect x="103.4" fill="#00bbff"/></g>
<g class="h" transform="translate(79.7 478.61)"><rect x="0" fill="#00ff2e"/><rect x="5.4" fill="#5dff00"/><rect x="10.9" fill="#47ff00"/><rect x="16.3" fill="#44ff00"/><rect x="21.8" fill="#38ff00"/><rect x="27.2" fill="#2bff00"/><rect x="32.6" fill="#25ff00"/><rect x="38.1" fill="#14ff00"/><rect x="43.5" fill="#05ff00"/><rect x="49" fill="#00ff29"/><rect x="54.4" fill="#00ff67"/><rect x="59.8" fill="#00ff99"/><rect x="65.3" fill="#00ffb3"/><rect x="70.7" fill="#00ffca"/><rect x="76.2" fill="#00fbff"/><rect x="81.6" fill="#00f3ff"/><rect x="87" fill="#00e6ff"/><rect x="92.5" fill="#00e7ff"/><rect x="97.9" fill="#00c8ff"/><rect x="103.4" fill="#00ccff"/></g>
<g class="h" transform="translate(79.7 482.59)"><rect x="0" fill="#00ff38"/><rect x="5.4" fill="#5cff00"/><rect x="10.9" fill="#4dff00"/><rect x="16.3" fill="#41ff00"/><rect x="21.8" fill="#43ff00"/><rect x="27.2" fill="#36ff00"/><rect x="32.6" fill="#23ff00"/><rect x="38.1" fill="#1dff00"/><rect x="43.5" fill="#10ff00"/><rect x="49" fill="#00ff0b"/><rect x="54.4" fill="#00ff30"/><rect x="59.8" fill="#00ff8c"/><rect x="65.3" fill="#00ffa5"/><rect x="70.7" fill="#00ffd5"/><rect x="76.2" fill="#00fff3"/><rect x="81.6" fill="#00fff7"/><rect x="87" fill="#00ebff"/><rect x="92.5" fill="#00e1ff"/><rect x="97.9" fill="#00dcff"/><rect x="103.4" fill="#00c9ff"/></g>
<g class="h" transform="translate(79.7 486.58)"><rect x="0" fill="#00ff3c"/><rect x="5.4" fill="#4eff00"/><rect x="10.9" fill="#43ff00"/><rect x="16.3" fill="#49ff00"/><rect x="21.8" fill="#3bff00"/><rect x="27.2" fill="#2dff00"/><rect x="32.6" fill="#1bff00"/><rect x="38.1" fill="#25ff00"/><rect x="43.5" fill="#00ff00"/><rect x="49" fill="#00ff16"/><rect x="54.4" fill="#00ff61"/><rect x="59.8" fill="#00ff80"/><rect x="65.3" fill="#00ffa6"/><rect x="70.7" fill="#00ffcc"/><rect x="76.2" fill="#00fff5"/><rect x="81.6" fill="#00fbff"/><rect x="87" fill="#00fffa"/><rect x="92.5" fill="#00d5ff"/><rect x="97.9" fill="#00e2ff"/><rect x="103.4" fill="#00d0ff"/></g>
<g class="h" transform="translate(79.7 490.57)"><rect x="0" fill="#00ff2c"/><rect x="5.4" fill="#5fff00"/><rect x="10.9" fill="#52ff00"/><rect x="16.3" fill="#48ff00"/><rect x="21.8" fill="#3dff00"/><rect x="27.2" fill="#30ff00"/><rect x="32.6" fill="#25ff00"/><rect x="38.1" fill="#1fff00"/><rect x="43.5" fill="#09ff00"/><rect x="49" fill="#00ff29"/><rect x="54.4" fill="#00ff56"/><rect x="59.8" fill="#00ff85"/><rect x="65.3" fill="#00ffb5"/><rect x="70.7" fill="#00ffd4"/><rect x="76.2" fill="#00fff6"/><rect x="81.6" fill="#00eaff"/><rect x="87" fill="#00efff"/><rect x="92.5" fill="#00dfff"/><rect x="97.9" fill="#00c3ff"/><rect x="103.4" fill="#00b7ff"/></g>
<g class="h" transform="translate(79.7 494.56)"><rect x="0" fill="#00ff5a"/><rect x="5.4" fill="#63ff00"/><rect x="10.9" fill="#4bff00"/><rect x="16.3" fill="#58ff00"/><rect x="21.8" fill="#34ff00"/><rect x="27.2" fill="#30ff00"/><rect x="32.6" fill="#22ff00"/><rect x="38.1" fill="#16ff00"/><rect x="43.5" fill="#00ff01"/><rect x="49" fill="#00ff13"/><rect x="54.4" fill="#00ff56"/><rect x="59.8" fill="#00ff89"/><rect x="65.3" fill="#00ffb1"/><rect x="70.7" fill="#00ffcf"/><rect x="76.2" fill="#00ffe7"/><rect x="81.6" fill="#00fff6"/><rect x="87" fill="#00e5ff"/><rect x="92.5" fill="#00d6ff"/><rect x="97.9" fill="#00d4ff"/><rect x="103.4" fill="#00c1ff"/></g>
<g class="h" transform="translate(79.7 498.55)"><rect x="0" fill="#00ff4f"/><rect x="5.4" fill="#5bff00"/><rect x="10.9" fill="#4bff00"/><rect x="16.3" fill="#44ff00"/><rect x="21.8" fill="#3fff00"/><rect x="27.2" fill="#2eff00"/><rect x="32.6" fill="#28ff00"/><rect x="38.1" fill="#18ff00"/><rect x="43.5" fill="#06ff00"/><rect x="49" fill="#00ff1d"/><rect x="54.4" fill="#00ff49"/><rect x="59.8" fill="#00ff9c"/><rect x="65.3" fill="#00ffa7"/><rect x="70.7" fill="#00ffcc"/><rect x="76.2" fill="#00ffd7"/><rect x="81.6" fill="#00f8ff"/><rect x="87" fill="#00e1ff"/><rect x="92.5" fill="#00d1ff"/><rect x="97.9" fill="#00daff"/><rect x="103.4" fill="#00ccff"/></g>
<g class="h" transform="translate(79.7 502.54)"><rect x="0" fill="#00ff56"/><rect x="5.4" fill="#53ff00"/><rect x="10.9" fill="#43ff00"/><rect x="16.3" fill="#48ff00"/><rect x="21.8" fill="#2fff00"/><rect x="27.2" fill="#29ff00"/><rect x="32.6" fill="#20ff00"/><rect x="38.1" fill="#1aff00"/><rect x="43.5" fill="#09ff00"/><rect x="49" fill="#00ff19"/><rect x="54.4" fill="#00ff47"/><rect x="59.8" fill="#00ff80"/><rect x="65.3" fill="#00ffa9"/><rect x="70.7" fill="#00ffca"/><rect x="76.2" fill="#00fff4"/><rect x="81.6" fill="#00ffea"/><rect x="87" fill="#00fbff"/><rect x="92.5" fill="#00edff"/><rect x="97.9" fill="#00dbff"/><rect x="103.4" fill="#00dcff"/></g>
<g class="h" transform="translate(79.7 506.52)"><rect x="0" fill="#00ff49"/><rect x="5.4" fill="#52ff00"/><rect x="10.9" fill="#4cff00"/><rect x="16.3" fill="#46ff00"/><rect x="21.8" fill="#38ff00"/><rect x="27.2" fill="#2fff00"/><rect x="32.6" fill="#21ff00"/><rect x="38.1" fill="#1aff00"/><rect x="43.5" fill="#04ff00"/><rect x="49" fill="#01ff00"/><rect x="54.4" fill="#00ff56"/><rect x="59.8" fill="#00ff4d"/><rect x="65.3" fill="#00ffa4"/><rect x="70.7" fill="#00ffba"/><rect x="76.2" fill="#00ffec"/><rect x="81.6" fill="#00ffef"/><rect x="87" fill="#00dbff"/><rect x="92.5" fill="#00edff"/><rect x="97.9" fill="#00c0ff"/><rect x="103.4" fill="#00c7ff"/></g>
<g class="h" transform="translate(79.7 510.51)"><rect x="0" fill="#00ff41"/><rect x="5.4" fill="#4fff00"/><rect x="10.9" fill="#3bff00"/><rect x="16.3" fill="#3bff00"/><rect x="21.8" fill="#48ff00"/><rect x="27.2" fill="#28ff00"/><rect x="32.6" fill="#21ff00"/><rect x="38.1" fill="#20ff00"/><rect x="43.5" fill="#03ff00"/><rect x="49" fill="#00ff01"/><rect x="54.4" fill="#00ff43"/><rect x="59.8" fill="#00ff83"/><rect x="65.3" fill="#00ffa3"/><rect x="70.7" fill="#00ffce"/><rect x="76.2" fill="#00ffd7"/><rect x="81.6" fill="#00fdff"/><rect x="87" fill="#00f4ff"/><rect x="92.5" fill="#00e0ff"/><rect x="97.9" fill="#00c2ff"/><rect x="103.4" fill="#00cbff"/></g>
<rect x="79.7" y="275.2" width="108.8" height="239.3" fill="none" stroke="#222" stroke-width="1"/>
<path d="M82.4 275.2v-4.8M93.3 275.2v-2.4M104.2 275.2v-2.4M115 275.2v-2.4M125.9 275.2v-2.4M136.8 275.2v-4.8M147.7 275.2v-2.4M158.6 275.2v-2.4M169.4 275.2v-2.4M180.3 275.2v-2.4M79.7 276.8h-4.6M79.7 284.8h-2.4M79.7 292.7h-2.4M79.7 300.7h-2.4M79.7 308.7h-2.4M79.7 316.7h-2.4M79.7 324.6h-2.4M79.7 332.6h-2.4M79.7 340.6h-2.4M79.7 348.5h-2.4M79.7 356.5h-4.6M79.7 364.5h-2.4M79.7 372.4h-2.4M79.7 380.4h-2.4M79.7 388.4h-2.4M79.7 396.4h-2.4M79.7 404.3h-2.4M79.7 412.3h-2.4M79.7 420.3h-2.4M79.7 428.2h-2.4M79.7 436.2h-4.6M79.7 444.2h-2.4M79.7 452.1h-2.4M79.7 460.1h-2.4M79.7 468.1h-2.4M79.7 476.1h-2.4M79.7 484h-2.4M79.7 492h-2.4M79.7 500h-2.4M79.7 507.9h-2.4" stroke="#333" stroke-width="1" fill="none"/>
<text x="139.8" y="255.6" font-size="11.7" fill="#0c0c0c" stroke="#0c0c0c" text-anchor="middle">Stimulus no.</text>
<text x="83.5" y="269" font-size="10.3" fill="#0c0c0c" stroke="#0c0c0c" text-anchor="middle">1</text>
<text x="109.8" y="269" font-size="10.3" fill="#0c0c0c" stroke="#0c0c0c" text-anchor="middle">5</text>
<text x="137.1" y="269" font-size="10.3" fill="#0c0c0c" stroke="#0c0c0c" text-anchor="middle">10</text>
<text x="163.9" y="269" font-size="10.3" fill="#0c0c0c" stroke="#0c0c0c" text-anchor="middle">15</text>
<text x="187.4" y="269" font-size="10.3" fill="#0c0c0c" stroke="#0c0c0c" text-anchor="middle">20</text>
<text transform="translate(72.6 276.3) rotate(-90)" font-size="12" fill="#0c0c0c" stroke="#0c0c0c" text-anchor="middle">0</text>
<text transform="translate(73.6 395.6) rotate(-90)" font-size="10.9" fill="#0c0c0c" stroke="#0c0c0c" text-anchor="middle">10</text>
<text transform="translate(73.9 511.3) rotate(-90)" font-size="12" fill="#0c0c0c" stroke="#0c0c0c" text-anchor="middle">20</text>
<path d="M61.4 276.4l-9.9 -2.5l0.5 2.5l-0.5 2.5z" fill="#0a0a0a"/>
<path d="M61.4 512.2l-9.9 -2.5l0.5 2.5l-0.5 2.5z" fill="#777"/>
<linearGradient id="cbE"><stop offset="0%" stop-color="#800000"/><stop offset="11%" stop-color="#a00000"/><stop offset="20%" stop-color="#d80000"/><stop offset="27%" stop-color="#ff0000"/><stop offset="36%" stop-color="#ff1000"/><stop offset="42%" stop-color="#ff8000"/><stop offset="47%" stop-color="#ffd000"/><stop offset="50%" stop-color="#ffff00"/><stop offset="56.5%" stop-color="#a0ff00"/><stop offset="63%" stop-color="#30ff00"/><stop offset="66%" stop-color="#00ff00"/><stop offset="69%" stop-color="#00ff80"/><stop offset="73.5%" stop-color="#00ffff"/><stop offset="78.5%" stop-color="#0080ff"/><stop offset="83%" stop-color="#0020ff"/><stop offset="86%" stop-color="#1000ff"/><stop offset="91%" stop-color="#6000e0"/><stop offset="95.5%" stop-color="#8000c0"/><stop offset="100%" stop-color="#7a0096"/></linearGradient>
<rect x="100.8" y="518.2" width="61.6" height="7" fill="url(#cbE)" stroke="#333" stroke-width="0.8"/>
<path d="M101.8 525.2v5M116.8 525.2v5M131.8 525.2v5M146.8 525.2v5M161.8 525.2v5" stroke="#222" stroke-width="1.1" fill="none"/>
<text transform="translate(105.2 533.8) rotate(-45)" font-size="9.6" fill="#0c0c0c" stroke="#0c0c0c" text-anchor="end">-1.0</text>
<text transform="translate(120.2 533.8) rotate(-45)" font-size="9.6" fill="#0c0c0c" stroke="#0c0c0c" text-anchor="end">-0.5</text>
<text transform="translate(135.2 533.8) rotate(-45)" font-size="9.6" fill="#0c0c0c" stroke="#0c0c0c" text-anchor="end">0.0</text>
<text transform="translate(150.2 533.8) rotate(-45)" font-size="9.6" fill="#0c0c0c" stroke="#0c0c0c" text-anchor="end">+0.5</text>
<text transform="translate(165.2 533.8) rotate(-45)" font-size="9.6" fill="#0c0c0c" stroke="#0c0c0c" text-anchor="end">+1.0</text>
<text x="167.1" y="534.9" font-size="9.6" fill="#0c0c0c" stroke="#0c0c0c">ms</text>
<g class="h" transform="translate(248.9 274.30)"><rect x="0" fill="#fff800"/><rect x="5.4" fill="#ff8700"/><rect x="10.9" fill="#ff8f00"/><rect x="16.3" fill="#ffa000"/><rect x="21.8" fill="#ffad00"/><rect x="27.2" fill="#ffb900"/><rect x="32.6" fill="#ffc900"/><rect x="38.1" fill="#ffd400"/><rect x="43.5" fill="#ffea00"/><rect x="49" fill="#fffa00"/><rect x="54.4" fill="#fffb00"/><rect x="59.8" fill="#f8ff00"/><rect x="65.3" fill="#f0ff00"/><rect x="70.7" fill="#ddff00"/><rect x="76.2" fill="#d2ff00"/><rect x="81.6" fill="#d0ff00"/><rect x="87" fill="#c4ff00"/><rect x="92.5" fill="#c6ff00"/><rect x="97.9" fill="#bcff00"/><rect x="103.4" fill="#afff00"/></g>
<g class="h" transform="translate(248.9 278.29)"><rect x="0" fill="#edff00"/><rect x="5.4" fill="#ffa800"/><rect x="10.9" fill="#ffaa00"/><rect x="16.3" fill="#ffae00"/><rect x="21.8" fill="#ffc500"/><rect x="27.2" fill="#ffcc00"/><rect x="32.6" fill="#ffde00"/><rect x="38.1" fill="#ffea00"/><rect x="43.5" fill="#fffc00"/><rect x="49" fill="#f7ff00"/><rect x="54.4" fill="#ebff00"/><rect x="59.8" fill="#eaff00"/><rect x="65.3" fill="#d8ff00"/><rect x="70.7" fill="#d4ff00"/><rect x="76.2" fill="#c3ff00"/><rect x="81.6" fill="#aaff00"/><rect x="87" fill="#abff00"/><rect x="92.5" fill="#abff00"/><rect x="97.9" fill="#8fff00"/><rect x="103.4" fill="#88ff00"/></g>
<g class="h" transform="translate(248.9 282.28)"><rect x="0" fill="#daff00"/><rect x="5.4" fill="#ffbd00"/><rect x="10.9" fill="#ffc800"/><rect x="16.3" fill="#ffcd00"/><rect x="21.8" fill="#ffd400"/><rect x="27.2" fill="#ffee00"/><rect x="32.6" fill="#ffec00"/><rect x="38.1" fill="#fff700"/><rect x="43.5" fill="#fbff00"/><rect x="49" fill="#e0ff00"/><rect x="54.4" fill="#dcff00"/><rect x="59.8" fill="#daff00"/><rect x="65.3" fill="#cdff00"/><rect x="70.7" fill="#baff00"/><rect x="76.2" fill="#a9ff00"/><rect x="81.6" fill="#acff00"/><rect x="87" fill="#8dff00"/><rect x="92.5" fill="#89ff00"/><rect x="97.9" fill="#80ff00"/><rect x="103.4" fill="#71ff00"/></g>
<g class="h" transform="translate(248.9 286.26)"><rect x="0" fill="#ceff00"/><rect x="5.4" fill="#ffe200"/><rect x="10.9" fill="#ffdf00"/><rect x="16.3" fill="#ffeb00"/><rect x="21.8" fill="#ffe900"/><rect x="27.2" fill="#fffc00"/><rect x="32.6" fill="#f6ff00"/><rect x="38.1" fill="#feff00"/><rect x="43.5" fill="#eeff00"/><rect x="49" fill="#d9ff00"/><rect x="54.4" fill="#e1ff00"/><rect x="59.8" fill="#caff00"/><rect x="65.3" fill="#b6ff00"/><rect x="70.7" fill="#b7ff00"/><rect x="76.2" fill="#9eff00"/><rect x="81.6" fill="#87ff00"/><rect x="87" fill="#71ff00"/><rect x="92.5" fill="#75ff00"/><rect x="97.9" fill="#51ff00"/><rect x="103.4" fill="#49ff00"/></g>
<g class="h" transform="translate(248.9 290.25)"><rect x="0" fill="#bcff00"/><rect x="5.4" fill="#fff700"/><rect x="10.9" fill="#fff800"/><rect x="16.3" fill="#fdff00"/><rect x="21.8" fill="#fff700"/><rect x="27.2" fill="#fcff00"/><rect x="32.6" fill="#f2ff00"/><rect x="38.1" fill="#e6ff00"/><rect x="43.5" fill="#d4ff00"/><rect x="49" fill="#dfff00"/><rect x="54.4" fill="#c8ff00"/><rect x="59.8" fill="#c1ff00"/><rect x="65.3" fill="#b5ff00"/><rect x="70.7" fill="#88ff00"/><rect x="76.2" fill="#81ff00"/><rect x="81.6" fill="#5fff00"/><rect x="87" fill="#52ff00"/><rect x="92.5" fill="#54ff00"/><rect x="97.9" fill="#4cff00"/><rect x="103.4" fill="#18ff00"/></g>
<g class="h" transform="translate(248.9 294.24)"><rect x="0" fill="#beff00"/><rect x="5.4" fill="#fff000"/><rect x="10.9" fill="#f6ff00"/><rect x="16.3" fill="#f4ff00"/><rect x="21.8" fill="#f2ff00"/><rect x="27.2" fill="#e8ff00"/><rect x="32.6" fill="#daff00"/><rect x="38.1" fill="#d2ff00"/><rect x="43.5" fill="#c3ff00"/><rect x="49" fill="#c0ff00"/><rect x="54.4" fill="#b3ff00"/><rect x="59.8" fill="#9bff00"/><rect x="65.3" fill="#8cff00"/><rect x="70.7" fill="#6eff00"/><rect x="76.2" fill="#65ff00"/><rect x="81.6" fill="#4eff00"/><rect x="87" fill="#44ff00"/><rect x="92.5" fill="#17ff00"/><rect x="97.9" fill="#20ff00"/><rect x="103.4" fill="#00ff01"/></g>
<g class="h" transform="translate(248.9 298.23)"><rect x="0" fill="#b8ff00"/><rect x="5.4" fill="#f6ff00"/><rect x="10.9" fill="#ebff00"/><rect x="16.3" fill="#f9ff00"/><rect x="21.8" fill="#e3ff00"/><rect x="27.2" fill="#e8ff00"/><rect x="32.6" fill="#c1ff00"/><rect x="38.1" fill="#c6ff00"/><rect x="43.5" fill="#c6ff00"/><rect x="49" fill="#b0ff00"/><rect x="54.4" fill="#8cff00"/><rect x="59.8" fill="#77ff00"/><rect x="65.3" fill="#66ff00"/><rect x="70.7" fill="#63ff00"/><rect x="76.2" fill="#45ff00"/><rect x="81.6" fill="#1bff00"/><rect x="87" fill="#1dff00"/><rect x="92.5" fill="#03ff00"/><rect x="97.9" fill="#00ff1c"/><rect x="103.4" fill="#00ff4c"/></g>
<g class="h" transform="translate(248.9 302.22)"><rect x="0" fill="#99ff00"/><rect x="5.4" fill="#e8ff00"/><rect x="10.9" fill="#e3ff00"/><rect x="16.3" fill="#daff00"/><rect x="21.8" fill="#ccff00"/><rect x="27.2" fill="#bdff00"/><rect x="32.6" fill="#bfff00"/><rect x="38.1" fill="#b6ff00"/><rect x="43.5" fill="#afff00"/><rect x="49" fill="#88ff00"/><rect x="54.4" fill="#86ff00"/><rect x="59.8" fill="#7dff00"/><rect x="65.3" fill="#5bff00"/><rect x="70.7" fill="#3dff00"/><rect x="76.2" fill="#1cff00"/><rect x="81.6" fill="#02ff00"/><rect x="87" fill="#00ff0e"/><rect x="92.5" fill="#00ff4e"/><rect x="97.9" fill="#00ff8e"/><rect x="103.4" fill="#00ffa4"/></g>
<g class="h" transform="translate(248.9 306.21)"><rect x="0" fill="#9aff00"/><rect x="5.4" fill="#dfff00"/><rect x="10.9" fill="#dcff00"/><rect x="16.3" fill="#e5ff00"/><rect x="21.8" fill="#d6ff00"/><rect x="27.2" fill="#b2ff00"/><rect x="32.6" fill="#bbff00"/><rect x="38.1" fill="#9aff00"/><rect x="43.5" fill="#8aff00"/><rect x="49" fill="#80ff00"/><rect x="54.4" fill="#73ff00"/><rect x="59.8" fill="#4fff00"/><rect x="65.3" fill="#47ff00"/><rect x="70.7" fill="#23ff00"/><rect x="76.2" fill="#06ff00"/><rect x="81.6" fill="#00ff20"/><rect x="87" fill="#00ff77"/><rect x="92.5" fill="#00ffa9"/><rect x="97.9" fill="#00ffc2"/><rect x="103.4" fill="#00ffff"/></g>
<g class="h" transform="translate(248.9 310.19)"><rect x="0" fill="#94ff00"/><rect x="5.4" fill="#ebff00"/><rect x="10.9" fill="#d4ff00"/><rect x="16.3" fill="#cbff00"/><rect x="21.8" fill="#c2ff00"/><rect x="27.2" fill="#c5ff00"/><rect x="32.6" fill="#97ff00"/><rect x="38.1" fill="#86ff00"/><rect x="43.5" fill="#75ff00"/><rect x="49" fill="#62ff00"/><rect x="54.4" fill="#5fff00"/><rect x="59.8" fill="#37ff00"/><rect x="65.3" fill="#2cff00"/><rect x="70.7" fill="#00ff2f"/><rect x="76.2" fill="#00ff24"/><rect x="81.6" fill="#00ff8a"/><rect x="87" fill="#00ff8c"/><rect x="92.5" fill="#00ffc2"/><rect x="97.9" fill="#00fff7"/><rect x="103.4" fill="#00cbff"/></g>
<g class="h" transform="translate(248.9 314.18)"><rect x="0" fill="#79ff00"/><rect x="5.4" fill="#cbff00"/><rect x="10.9" fill="#d9ff00"/><rect x="16.3" fill="#afff00"/><rect x="21.8" fill="#b8ff00"/><rect x="27.2" fill="#8aff00"/><rect x="32.6" fill="#75ff00"/><rect x="38.1" fill="#6fff00"/><rect x="43.5" fill="#5bff00"/><rect x="49" fill="#60ff00"/><rect x="54.4" fill="#19ff00"/><rect x="59.8" fill="#1dff00"/><rect x="65.3" fill="#00ff09"/><rect x="70.7" fill="#00ff15"/><rect x="76.2" fill="#00ff76"/><rect x="81.6" fill="#00ff91"/><rect x="87" fill="#00ffd0"/><rect x="92.5" fill="#00feff"/><rect x="97.9" fill="#00d7ff"/><rect x="103.4" fill="#009eff"/></g>
<g class="h" transform="translate(248.9 318.17)"><rect x="0" fill="#6dff00"/><rect x="5.4" fill="#c0ff00"/><rect x="10.9" fill="#b9ff00"/><rect x="16.3" fill="#97ff00"/><rect x="21.8" fill="#a6ff00"/><rect x="27.2" fill="#7cff00"/><rect x="32.6" fill="#93ff00"/><rect x="38.1" fill="#71ff00"/><rect x="43.5" fill="#4dff00"/><rect x="49" fill="#3cff00"/><rect x="54.4" fill="#00ff09"/><rect x="59.8" fill="#00ff3f"/><rect x="65.3" fill="#02ff00"/><rect x="70.7" fill="#00ff51"/><rect x="76.2" fill="#00ffa5"/><rect x="81.6" fill="#00fffd"/><rect x="87" fill="#00e9ff"/><rect x="92.5" fill="#00d6ff"/><rect x="97.9" fill="#00d7ff"/><rect x="103.4" fill="#00aaff"/></g>
<g class="h" transform="translate(248.9 322.16)"><rect x="0" fill="#8cff00"/><rect x="5.4" fill="#caff00"/><rect x="10.9" fill="#a8ff00"/><rect x="16.3" fill="#98ff00"/><rect x="21.8" fill="#a0ff00"/><rect x="27.2" fill="#77ff00"/><rect x="32.6" fill="#4eff00"/><rect x="38.1" fill="#4fff00"/><rect x="43.5" fill="#41ff00"/><rect x="49" fill="#1cff00"/><rect x="54.4" fill="#06ff00"/><rect x="59.8" fill="#00ff2b"/><rect x="65.3" fill="#00ff60"/><rect x="70.7" fill="#00ff9c"/><rect x="76.2" fill="#00ffd7"/><rect x="81.6" fill="#00fff7"/><rect x="87" fill="#00bfff"/><rect x="92.5" fill="#00a7ff"/><rect x="97.9" fill="#0083ff"/><rect x="103.4" fill="#0058ff"/></g>
<g class="h" transform="translate(248.9 326.15)"><rect x="0" fill="#38ff00"/><rect x="5.4" fill="#99ff00"/><rect x="10.9" fill="#9bff00"/><rect x="16.3" fill="#95ff00"/><rect x="21.8" fill="#5bff00"/><rect x="27.2" fill="#71ff00"/><rect x="32.6" fill="#5cff00"/><rect x="38.1" fill="#4bff00"/><rect x="43.5" fill="#27ff00"/><rect x="49" fill="#0cff00"/><rect x="54.4" fill="#00ff35"/><rect x="59.8" fill="#00ff53"/><rect x="65.3" fill="#00ff67"/><rect x="70.7" fill="#00ffcd"/><rect x="76.2" fill="#00f6ff"/><rect x="81.6" fill="#00e3ff"/><rect x="87" fill="#00c6ff"/><rect x="92.5" fill="#0098ff"/><rect x="97.9" fill="#006aff"/><rect x="103.4" fill="#006aff"/></g>
<g class="h" transform="translate(248.9 330.14)"><rect x="0" fill="#4cff00"/><rect x="5.4" fill="#a7ff00"/><rect x="10.9" fill="#93ff00"/><rect x="16.3" fill="#9dff00"/><rect x="21.8" fill="#60ff00"/><rect x="27.2" fill="#62ff00"/><rect x="32.6" fill="#39ff00"/><rect x="38.1" fill="#29ff00"/><rect x="43.5" fill="#1dff00"/><rect x="49" fill="#00ff3d"/><rect x="54.4" fill="#00ff2a"/><rect x="59.8" fill="#00ff71"/><rect x="65.3" fill="#00ffbf"/><rect x="70.7" fill="#00fff6"/><rect x="76.2" fill="#00f5ff"/><rect x="81.6" fill="#00e7ff"/><rect x="87" fill="#00a1ff"/><rect x="92.5" fill="#0084ff"/><rect x="97.9" fill="#004dff"/><rect x="103.4" fill="#005dff"/></g>
<g class="h" transform="translate(248.9 334.12)"><rect x="0" fill="#1bff00"/><rect x="5.4" fill="#99ff00"/><rect x="10.9" fill="#98ff00"/><rect x="16.3" fill="#6fff00"/><rect x="21.8" fill="#4eff00"/><rect x="27.2" fill="#56ff00"/><rect x="32.6" fill="#3aff00"/><rect x="38.1" fill="#2cff00"/><rect x="43.5" fill="#00ff23"/><rect x="49" fill="#00ff16"/><rect x="54.4" fill="#00ff83"/><rect x="59.8" fill="#00ff8f"/><rect x="65.3" fill="#00ffd9"/><rect x="70.7" fill="#00ffec"/><rect x="76.2" fill="#00ffe5"/><rect x="81.6" fill="#00bcff"/><rect x="87" fill="#0092ff"/><rect x="92.5" fill="#00afff"/><rect x="97.9" fill="#0067ff"/><rect x="103.4" fill="#0052ff"/></g>
<g class="h" transform="translate(248.9 338.11)"><rect x="0" fill="#17ff00"/><rect x="5.4" fill="#86ff00"/><rect x="10.9" fill="#90ff00"/><rect x="16.3" fill="#5cff00"/><rect x="21.8" fill="#37ff00"/><rect x="27.2" fill="#49ff00"/><rect x="32.6" fill="#20ff00"/><rect x="38.1" fill="#00ff1f"/><rect x="43.5" fill="#00ff23"/><rect x="49" fill="#00ff49"/><rect x="54.4" fill="#00ff79"/><rect x="59.8" fill="#00ffca"/><rect x="65.3" fill="#00fff3"/><rect x="70.7" fill="#00d9ff"/><rect x="76.2" fill="#00eeff"/><rect x="81.6" fill="#0091ff"/><rect x="87" fill="#0095ff"/><rect x="92.5" fill="#0062ff"/><rect x="97.9" fill="#0063ff"/><rect x="103.4" fill="#0054ff"/></g>
<g class="h" transform="translate(248.9 342.10)"><rect x="0" fill="#00ff25"/><rect x="5.4" fill="#81ff00"/><rect x="10.9" fill="#66ff00"/><rect x="16.3" fill="#44ff00"/><rect x="21.8" fill="#28ff00"/><rect x="27.2" fill="#23ff00"/><rect x="32.6" fill="#19ff00"/><rect x="38.1" fill="#02ff00"/><rect x="43.5" fill="#00ff5e"/><rect x="49" fill="#00ffa3"/><rect x="54.4" fill="#00ffa5"/><rect x="59.8" fill="#00ffd9"/><rect x="65.3" fill="#00fff7"/><rect x="70.7" fill="#00d1ff"/><rect x="76.2" fill="#00a0ff"/><rect x="81.6" fill="#00e3ff"/><rect x="87" fill="#0075ff"/><rect x="92.5" fill="#0069ff"/><rect x="97.9" fill="#0070ff"/><rect x="103.4" fill="#021dff"/></g>
<g class="h" transform="translate(248.9 346.09)"><rect x="0" fill="#00ff88"/><rect x="5.4" fill="#5aff00"/><rect x="10.9" fill="#67ff00"/><rect x="16.3" fill="#1aff00"/><rect x="21.8" fill="#29ff00"/><rect x="27.2" fill="#1eff00"/><rect x="32.6" fill="#00ff3a"/><rect x="38.1" fill="#00ff4d"/><rect x="43.5" fill="#00ff89"/><rect x="49" fill="#00ffbd"/><rect x="54.4" fill="#00ff8a"/><rect x="59.8" fill="#00e0ff"/><rect x="65.3" fill="#00edff"/><rect x="70.7" fill="#00bfff"/><rect x="76.2" fill="#0091ff"/><rect x="81.6" fill="#009eff"/><rect x="87" fill="#0063ff"/><rect x="92.5" fill="#003aff"/><rect x="97.9" fill="#0028ff"/><rect x="103.4" fill="#0a0cff"/></g>
<g class="h" transform="translate(248.9 350.08)"><rect x="0" fill="#00ff8e"/><rect x="5.4" fill="#65ff00"/><rect x="10.9" fill="#53ff00"/><rect x="16.3" fill="#27ff00"/><rect x="21.8" fill="#00ff5e"/><rect x="27.2" fill="#06ff00"/><rect x="32.6" fill="#00ff16"/><rect x="38.1" fill="#00ff53"/><rect x="43.5" fill="#00ffa7"/><rect x="49" fill="#00ffc9"/><rect x="54.4" fill="#00ffbc"/><rect x="59.8" fill="#00ddff"/><rect x="65.3" fill="#00d5ff"/><rect x="70.7" fill="#00a1ff"/><rect x="76.2" fill="#00cfff"/><rect x="81.6" fill="#00a5ff"/><rect x="87" fill="#004dff"/><rect x="92.5" fill="#0061ff"/><rect x="97.9" fill="#0613ff"/><rect x="103.4" fill="#1100ff"/></g>
<g class="h" transform="translate(248.9 354.07)"><rect x="0" fill="#00fff3"/><rect x="5.4" fill="#38ff00"/><rect x="10.9" fill="#29ff00"/><rect x="16.3" fill="#16ff00"/><rect x="21.8" fill="#14ff00"/><rect x="27.2" fill="#00ff08"/><rect x="32.6" fill="#00ffb1"/><rect x="38.1" fill="#00ff9f"/><rect x="43.5" fill="#00ffb5"/><rect x="49" fill="#00ffd8"/><rect x="54.4" fill="#00ffe0"/><rect x="59.8" fill="#00dfff"/><rect x="65.3" fill="#00ccff"/><rect x="70.7" fill="#008dff"/><rect x="76.2" fill="#00a3ff"/><rect x="81.6" fill="#00adff"/><rect x="87" fill="#0058ff"/><rect x="92.5" fill="#021bff"/><rect x="97.9" fill="#2900fe"/><rect x="103.4" fill="#3200fd"/></g>
<g class="h" transform="translate(248.9 358.06)"><rect x="0" fill="#00ffe7"/><rect x="5.4" fill="#36ff00"/><rect x="10.9" fill="#32ff00"/><rect x="16.3" fill="#14ff00"/><rect x="21.8" fill="#0fff00"/><rect x="27.2" fill="#0cff00"/><rect x="32.6" fill="#00ff7a"/><rect x="38.1" fill="#00ff99"/><rect x="43.5" fill="#00ffb3"/><rect x="49" fill="#00ffeb"/><rect x="54.4" fill="#00beff"/><rect x="59.8" fill="#00d4ff"/><rect x="65.3" fill="#00c2ff"/><rect x="70.7" fill="#0081ff"/><rect x="76.2" fill="#00aaff"/><rect x="81.6" fill="#0052ff"/><rect x="87" fill="#0050ff"/><rect x="92.5" fill="#002bff"/><rect x="97.9" fill="#0f02ff"/><rect x="103.4" fill="#4c00fb"/></g>
<g class="h" transform="translate(248.9 362.04)"><rect x="0" fill="#00fff9"/><rect x="5.4" fill="#17ff00"/><rect x="10.9" fill="#0fff00"/><rect x="16.3" fill="#1dff00"/><rect x="21.8" fill="#00ff4e"/><rect x="27.2" fill="#00ff2b"/><rect x="32.6" fill="#00ff43"/><rect x="38.1" fill="#00ff90"/><rect x="43.5" fill="#00ffb6"/><rect x="49" fill="#00fbff"/><rect x="54.4" fill="#00ffff"/><rect x="59.8" fill="#00a1ff"/><rect x="65.3" fill="#00a5ff"/><rect x="70.7" fill="#00a1ff"/><rect x="76.2" fill="#0087ff"/><rect x="81.6" fill="#0054ff"/><rect x="87" fill="#0061ff"/><rect x="92.5" fill="#003dff"/><rect x="97.9" fill="#0d06ff"/><rect x="103.4" fill="#4700fc"/></g>
<g class="h" transform="translate(248.9 366.03)"><rect x="0" fill="#00e1ff"/><rect x="5.4" fill="#1eff00"/><rect x="10.9" fill="#0fff00"/><rect x="16.3" fill="#1fff00"/><rect x="21.8" fill="#00ff36"/><rect x="27.2" fill="#00ff23"/><rect x="32.6" fill="#00ffb6"/><rect x="38.1" fill="#00ffbf"/><rect x="43.5" fill="#00ffdf"/><rect x="49" fill="#00f1ff"/><rect x="54.4" fill="#00d5ff"/><rect x="59.8" fill="#00b8ff"/><rect x="65.3" fill="#0095ff"/><rect x="70.7" fill="#0091ff"/><rect x="76.2" fill="#0088ff"/><rect x="81.6" fill="#0047ff"/><rect x="87" fill="#0712ff"/><rect x="92.5" fill="#0f03ff"/><rect x="97.9" fill="#1d00fe"/><rect x="103.4" fill="#5000f9"/></g>
<g class="h" transform="translate(248.9 370.02)"><rect x="0" fill="#00e9ff"/><rect x="5.4" fill="#0dff00"/><rect x="10.9" fill="#0bff00"/><rect x="16.3" fill="#00ff3a"/><rect x="21.8" fill="#00ffae"/><rect x="27.2" fill="#00ffaa"/><rect x="32.6" fill="#00ffe2"/><rect x="38.1" fill="#00ffbd"/><rect x="43.5" fill="#00ffe1"/><rect x="49" fill="#00edff"/><rect x="54.4" fill="#00c2ff"/><rect x="59.8" fill="#00b7ff"/><rect x="65.3" fill="#0077ff"/><rect x="70.7" fill="#0084ff"/><rect x="76.2" fill="#003dff"/><rect x="81.6" fill="#002eff"/><rect x="87" fill="#0034ff"/><rect x="92.5" fill="#0f01ff"/><rect x="97.9" fill="#2800fe"/><rect x="103.4" fill="#6000f5"/></g>
<g class="h" transform="translate(248.9 374.01)"><rect x="0" fill="#00e7ff"/><rect x="5.4" fill="#09ff00"/><rect x="10.9" fill="#00ff2f"/><rect x="16.3" fill="#12ff00"/><rect x="21.8" fill="#00ff2d"/><rect x="27.2" fill="#00ffab"/><rect x="32.6" fill="#00ffc3"/><rect x="38.1" fill="#00f8ff"/><rect x="43.5" fill="#00f1ff"/><rect x="49" fill="#00fffb"/><rect x="54.4" fill="#00bdff"/><rect x="59.8" fill="#00bcff"/><rect x="65.3" fill="#008eff"/><rect x="70.7" fill="#0079ff"/><rect x="76.2" fill="#004cff"/><rect x="81.6" fill="#005cff"/><rect x="87" fill="#002aff"/><rect x="92.5" fill="#021cff"/><rect x="97.9" fill="#5700f8"/><rect x="103.4" fill="#4a00fb"/></g>
<g class="h" transform="translate(248.9 378.00)"><rect x="0" fill="#00eeff"/><rect x="5.4" fill="#20ff00"/><rect x="10.9" fill="#00ff08"/><rect x="16.3" fill="#00ff58"/><rect x="21.8" fill="#00ffa9"/><rect x="27.2" fill="#00ffbf"/><rect x="32.6" fill="#00ffe2"/><rect x="38.1" fill="#00ffe4"/><rect x="43.5" fill="#00edff"/><rect x="49" fill="#00b1ff"/><rect x="54.4" fill="#00bcff"/><rect x="59.8" fill="#0095ff"/><rect x="65.3" fill="#00b8ff"/><rect x="70.7" fill="#005aff"/><rect x="76.2" fill="#0046ff"/><rect x="81.6" fill="#031aff"/><rect x="87" fill="#0047ff"/><rect x="92.5" fill="#1500ff"/><rect x="97.9" fill="#3900fd"/><rect x="103.4" fill="#5f00f5"/></g>
<g class="h" transform="translate(248.9 381.99)"><rect x="0" fill="#00e5ff"/><rect x="5.4" fill="#06ff00"/><rect x="10.9" fill="#00ff58"/><rect x="16.3" fill="#00ff86"/><rect x="21.8" fill="#00ff9f"/><rect x="27.2" fill="#00ffc5"/><rect x="32.6" fill="#00ffdc"/><rect x="38.1" fill="#00f8ff"/><rect x="43.5" fill="#00f3ff"/><rect x="49" fill="#00fffe"/><rect x="54.4" fill="#008cff"/><rect x="59.8" fill="#00c6ff"/><rect x="65.3" fill="#007cff"/><rect x="70.7" fill="#007dff"/><rect x="76.2" fill="#004bff"/><rect x="81.6" fill="#0041ff"/><rect x="87" fill="#080fff"/><rect x="92.5" fill="#0f02ff"/><rect x="97.9" fill="#2b00fe"/><rect x="103.4" fill="#6700f3"/></g>
<g class="h" transform="translate(248.9 385.97)"><rect x="0" fill="#00adff"/><rect x="5.4" fill="#01ff00"/><rect x="10.9" fill="#00ff4d"/><rect x="16.3" fill="#00ff71"/><rect x="21.8" fill="#00ffb8"/><rect x="27.2" fill="#00ffeb"/><rect x="32.6" fill="#00ffe5"/><rect x="38.1" fill="#00d3ff"/><rect x="43.5" fill="#00d4ff"/><rect x="49" fill="#00b4ff"/><rect x="54.4" fill="#00b6ff"/><rect x="59.8" fill="#009aff"/><rect x="65.3" fill="#006dff"/><rect x="70.7" fill="#004fff"/><rect x="76.2" fill="#0034ff"/><rect x="81.6" fill="#003aff"/><rect x="87" fill="#0713ff"/><rect x="92.5" fill="#2300fe"/><rect x="97.9" fill="#2800fe"/><rect x="103.4" fill="#7600ed"/></g>
<g class="h" transform="translate(248.9 389.96)"><rect x="0" fill="#00c8ff"/><rect x="5.4" fill="#04ff00"/><rect x="10.9" fill="#00ff37"/><rect x="16.3" fill="#00ffc2"/><rect x="21.8" fill="#00ffc4"/><rect x="27.2" fill="#00d8ff"/><rect x="32.6" fill="#00ebff"/><rect x="38.1" fill="#00fff5"/><rect x="43.5" fill="#00b3ff"/><rect x="49" fill="#00c1ff"/><rect x="54.4" fill="#00acff"/><rect x="59.8" fill="#008aff"/><rect x="65.3" fill="#006fff"/><rect x="70.7" fill="#004aff"/><rect x="76.2" fill="#0023ff"/><rect x="81.6" fill="#0417ff"/><rect x="87" fill="#090eff"/><rect x="92.5" fill="#1300ff"/><rect x="97.9" fill="#4200fc"/><rect x="103.4" fill="#7200ef"/></g>
<g class="h" transform="translate(248.9 393.95)"><rect x="0" fill="#00b7ff"/><rect x="5.4" fill="#00ff4e"/><rect x="10.9" fill="#00ff2a"/><rect x="16.3" fill="#00ffbe"/><rect x="21.8" fill="#00ffd7"/><rect x="27.2" fill="#00fff5"/><rect x="32.6" fill="#00e3ff"/><rect x="38.1" fill="#00d8ff"/><rect x="43.5" fill="#00c2ff"/><rect x="49" fill="#00b9ff"/><rect x="54.4" fill="#0089ff"/><rect x="59.8" fill="#0062ff"/><rect x="65.3" fill="#003fff"/><rect x="70.7" fill="#0055ff"/><rect x="76.2" fill="#0045ff"/><rect x="81.6" fill="#021bff"/><rect x="87" fill="#0b0aff"/><rect x="92.5" fill="#4500fc"/><rect x="97.9" fill="#4900fc"/><rect x="103.4" fill="#7300ef"/></g>
<g class="h" transform="translate(248.9 397.94)"><rect x="0" fill="#00f3ff"/><rect x="5.4" fill="#02ff00"/><rect x="10.9" fill="#00ff84"/><rect x="16.3" fill="#00fff8"/><rect x="21.8" fill="#00ffd6"/><rect x="27.2" fill="#00e7ff"/><rect x="32.6" fill="#00ffe5"/><rect x="38.1" fill="#00eaff"/><rect x="43.5" fill="#00caff"/><rect x="49" fill="#00aeff"/><rect x="54.4" fill="#0081ff"/><rect x="59.8" fill="#0067ff"/><rect x="65.3" fill="#0087ff"/><rect x="70.7" fill="#0037ff"/><rect x="76.2" fill="#0041ff"/><rect x="81.6" fill="#1000ff"/><rect x="87" fill="#1a00fe"/><rect x="92.5" fill="#3b00fd"/><rect x="97.9" fill="#5600f8"/><rect x="103.4" fill="#7500ee"/></g>
<g class="h" transform="translate(248.9 401.93)"><rect x="0" fill="#00ceff"/><rect x="5.4" fill="#00ff08"/><rect x="10.9" fill="#00ffa3"/><rect x="16.3" fill="#00ffd9"/><rect x="21.8" fill="#00f6ff"/><rect x="27.2" fill="#00eeff"/><rect x="32.6" fill="#00c5ff"/><rect x="38.1" fill="#00d9ff"/><rect x="43.5" fill="#0054ff"/><rect x="49" fill="#00b1ff"/><rect x="54.4" fill="#0097ff"/><rect x="59.8" fill="#005dff"/><rect x="65.3" fill="#0041ff"/><rect x="70.7" fill="#0054ff"/><rect x="76.2" fill="#004bff"/><rect x="81.6" fill="#0028ff"/><rect x="87" fill="#0c07ff"/><rect x="92.5" fill="#2d00fd"/><rect x="97.9" fill="#5800f7"/><rect x="103.4" fill="#7d00e1"/></g>
<g class="h" transform="translate(248.9 405.92)"><rect x="0" fill="#00b0ff"/><rect x="5.4" fill="#00ff29"/><rect x="10.9" fill="#00ffaa"/><rect x="16.3" fill="#00fff5"/><rect x="21.8" fill="#00ddff"/><rect x="27.2" fill="#00ecff"/><rect x="32.6" fill="#00e9ff"/><rect x="38.1" fill="#00abff"/><rect x="43.5" fill="#0082ff"/><rect x="49" fill="#00a9ff"/><rect x="54.4" fill="#0059ff"/><rect x="59.8" fill="#0049ff"/><rect x="65.3" fill="#0063ff"/><rect x="70.7" fill="#0064ff"/><rect x="76.2" fill="#0030ff"/><rect x="81.6" fill="#0516ff"/><rect x="87" fill="#2200fe"/><rect x="92.5" fill="#1f00fe"/><rect x="97.9" fill="#7a00e7"/><rect x="103.4" fill="#8600d0"/></g>
<g class="h" transform="translate(248.9 409.90)"><rect x="0" fill="#00e2ff"/><rect x="5.4" fill="#00ff0c"/><rect x="10.9" fill="#00ffa2"/><rect x="16.3" fill="#00ffef"/><rect x="21.8" fill="#00d9ff"/><rect x="27.2" fill="#00cfff"/><rect x="32.6" fill="#00d5ff"/><rect x="38.1" fill="#00f4ff"/><rect x="43.5" fill="#009bff"/><rect x="49" fill="#0080ff"/><rect x="54.4" fill="#008fff"/><rect x="59.8" fill="#0069ff"/><rect x="65.3" fill="#0056ff"/><rect x="70.7" fill="#0042ff"/><rect x="76.2" fill="#003aff"/><rect x="81.6" fill="#0a0dff"/><rect x="87" fill="#0b09ff"/><rect x="92.5" fill="#5500f8"/><rect x="97.9" fill="#5000fa"/><rect x="103.4" fill="#7b00e5"/></g>
<g class="h" transform="translate(248.9 413.89)"><rect x="0" fill="#00e3ff"/><rect x="5.4" fill="#00ff8c"/><rect x="10.9" fill="#00ffae"/><rect x="16.3" fill="#00fffa"/><rect x="21.8" fill="#00ffee"/><rect x="27.2" fill="#00fff1"/><rect x="32.6" fill="#00d3ff"/><rect x="38.1" fill="#00c3ff"/><rect x="43.5" fill="#00d0ff"/><rect x="49" fill="#00a8ff"/><rect x="54.4" fill="#00b2ff"/><rect x="59.8" fill="#006bff"/><rect x="65.3" fill="#0061ff"/><rect x="70.7" fill="#003aff"/><rect x="76.2" fill="#1100ff"/><rect x="81.6" fill="#090dff"/><rect x="87" fill="#2400fe"/><rect x="92.5" fill="#4c00fb"/><rect x="97.9" fill="#5d00f6"/><rect x="103.4" fill="#7200ef"/></g>
<g class="h" transform="translate(248.9 417.88)"><rect x="0" fill="#00b6ff"/><rect x="5.4" fill="#00ffb3"/><rect x="10.9" fill="#00ff5c"/><rect x="16.3" fill="#00ffed"/><rect x="21.8" fill="#00fbff"/><rect x="27.2" fill="#00e9ff"/><rect x="32.6" fill="#00a4ff"/><rect x="38.1" fill="#00c4ff"/><rect x="43.5" fill="#008bff"/><rect x="49" fill="#00a1ff"/><rect x="54.4" fill="#008dff"/><rect x="59.8" fill="#005bff"/><rect x="65.3" fill="#0068ff"/><rect x="70.7" fill="#003cff"/><rect x="76.2" fill="#0033ff"/><rect x="81.6" fill="#0418ff"/><rect x="87" fill="#2c00fd"/><rect x="92.5" fill="#4d00fb"/><rect x="97.9" fill="#5000fa"/><rect x="103.4" fill="#6b00f1"/></g>
<g class="h" transform="translate(248.9 421.87)"><rect x="0" fill="#0087ff"/><rect x="5.4" fill="#00ff93"/><rect x="10.9" fill="#00ffb5"/><rect x="16.3" fill="#00f5ff"/><rect x="21.8" fill="#00fffc"/><rect x="27.2" fill="#00deff"/><rect x="32.6" fill="#00aaff"/><rect x="38.1" fill="#0095ff"/><rect x="43.5" fill="#00a5ff"/><rect x="49" fill="#006dff"/><rect x="54.4" fill="#0083ff"/><rect x="59.8" fill="#006fff"/><rect x="65.3" fill="#0054ff"/><rect x="70.7" fill="#003dff"/><rect x="76.2" fill="#0515ff"/><rect x="81.6" fill="#0c09ff"/><rect x="87" fill="#1400ff"/><rect x="92.5" fill="#4900fc"/><rect x="97.9" fill="#5a00f7"/><rect x="103.4" fill="#7500ee"/></g>
<g class="h" transform="translate(248.9 425.86)"><rect x="0" fill="#00d2ff"/><rect x="5.4" fill="#00ffda"/><rect x="10.9" fill="#00ffe7"/><rect x="16.3" fill="#00d9ff"/><rect x="21.8" fill="#00baff"/><rect x="27.2" fill="#00d0ff"/><rect x="32.6" fill="#00cfff"/><rect x="38.1" fill="#00c4ff"/><rect x="43.5" fill="#0095ff"/><rect x="49" fill="#0076ff"/><rect x="54.4" fill="#0058ff"/><rect x="59.8" fill="#0087ff"/><rect x="65.3" fill="#003dff"/><rect x="70.7" fill="#021dff"/><rect x="76.2" fill="#1400ff"/><rect x="81.6" fill="#0c08ff"/><rect x="87" fill="#2400fe"/><rect x="92.5" fill="#2e00fd"/><rect x="97.9" fill="#5800f7"/><rect x="103.4" fill="#6f00f0"/></g>
<g class="h" transform="translate(248.9 429.85)"><rect x="0" fill="#00ebff"/><rect x="5.4" fill="#00ffb2"/><rect x="10.9" fill="#00ffbd"/><rect x="16.3" fill="#00f7ff"/><rect x="21.8" fill="#00d4ff"/><rect x="27.2" fill="#00b5ff"/><rect x="32.6" fill="#00bcff"/><rect x="38.1" fill="#008cff"/><rect x="43.5" fill="#007cff"/><rect x="49" fill="#00b4ff"/><rect x="54.4" fill="#0081ff"/><rect x="59.8" fill="#0083ff"/><rect x="65.3" fill="#0067ff"/><rect x="70.7" fill="#002cff"/><rect x="76.2" fill="#031aff"/><rect x="81.6" fill="#1d00fe"/><rect x="87" fill="#4a00fb"/><rect x="92.5" fill="#5000f9"/><rect x="97.9" fill="#6200f4"/><rect x="103.4" fill="#7900e7"/></g>
<g class="h" transform="translate(248.9 433.83)"><rect x="0" fill="#00ceff"/><rect x="5.4" fill="#00fff3"/><rect x="10.9" fill="#00ffe4"/><rect x="16.3" fill="#00dcff"/><rect x="21.8" fill="#00dfff"/><rect x="27.2" fill="#00a7ff"/><rect x="32.6" fill="#008fff"/><rect x="38.1" fill="#0077ff"/><rect x="43.5" fill="#009aff"/><rect x="49" fill="#00acff"/><rect x="54.4" fill="#00a6ff"/><rect x="59.8" fill="#006aff"/><rect x="65.3" fill="#006fff"/><rect x="70.7" fill="#0054ff"/><rect x="76.2" fill="#021bff"/><rect x="81.6" fill="#0713ff"/><rect x="87" fill="#3600fd"/><rect x="92.5" fill="#6800f2"/><rect x="97.9" fill="#6400f4"/><rect x="103.4" fill="#7d00e1"/></g>
<g class="h" transform="translate(248.9 437.82)"><rect x="0" fill="#00f9ff"/><rect x="5.4" fill="#00fff5"/><rect x="10.9" fill="#00ffef"/><rect x="16.3" fill="#00fff8"/><rect x="21.8" fill="#00fff5"/><rect x="27.2" fill="#0094ff"/><rect x="32.6" fill="#00dfff"/><rect x="38.1" fill="#00c4ff"/><rect x="43.5" fill="#0093ff"/><rect x="49" fill="#007cff"/><rect x="54.4" fill="#006fff"/><rect x="59.8" fill="#005eff"/><rect x="65.3" fill="#0060ff"/><rect x="70.7" fill="#021dff"/><rect x="76.2" fill="#0613ff"/><rect x="81.6" fill="#0517ff"/><rect x="87" fill="#4800fc"/><rect x="92.5" fill="#4900fc"/><rect x="97.9" fill="#7600ee"/><rect x="103.4" fill="#6e00f1"/></g>
<g class="h" transform="translate(248.9 441.81)"><rect x="0" fill="#00edff"/><rect x="5.4" fill="#00ffdf"/><rect x="10.9" fill="#00fff0"/><rect x="16.3" fill="#00c9ff"/><rect x="21.8" fill="#00fffe"/><rect x="27.2" fill="#00bbff"/><rect x="32.6" fill="#00cdff"/><rect x="38.1" fill="#0093ff"/><rect x="43.5" fill="#008cff"/><rect x="49" fill="#0092ff"/><rect x="54.4" fill="#0041ff"/><rect x="59.8" fill="#0061ff"/><rect x="65.3" fill="#0031ff"/><rect x="70.7" fill="#004aff"/><rect x="76.2" fill="#0517ff"/><rect x="81.6" fill="#0e04ff"/><rect x="87" fill="#2e00fd"/><rect x="92.5" fill="#4a00fc"/><rect x="97.9" fill="#5d00f6"/><rect x="103.4" fill="#5600f8"/></g>
<g class="h" transform="translate(248.9 445.80)"><rect x="0" fill="#00daff"/><rect x="5.4" fill="#00ffd5"/><rect x="10.9" fill="#00ffff"/><rect x="16.3" fill="#00cdff"/><rect x="21.8" fill="#0094ff"/><rect x="27.2" fill="#00b0ff"/><rect x="32.6" fill="#0093ff"/><rect x="38.1" fill="#008fff"/><rect x="43.5" fill="#007dff"/><rect x="49" fill="#0074ff"/><rect x="54.4" fill="#007bff"/><rect x="59.8" fill="#0067ff"/><rect x="65.3" fill="#0042ff"/><rect x="70.7" fill="#0810ff"/><rect x="76.2" fill="#0a0cff"/><rect x="81.6" fill="#2500fe"/><rect x="87" fill="#1600ff"/><rect x="92.5" fill="#5300f9"/><rect x="97.9" fill="#6f00f0"/><rect x="103.4" fill="#7f00dd"/></g>
<g class="h" transform="translate(248.9 449.79)"><rect x="0" fill="#00eeff"/><rect x="5.4" fill="#00ffba"/><rect x="10.9" fill="#00ffc6"/><rect x="16.3" fill="#00efff"/><rect x="21.8" fill="#008fff"/><rect x="27.2" fill="#00b7ff"/><rect x="32.6" fill="#00d0ff"/><rect x="38.1" fill="#0096ff"/><rect x="43.5" fill="#0099ff"/><rect x="49" fill="#007dff"/><rect x="54.4" fill="#007eff"/><rect x="59.8" fill="#007dff"/><rect x="65.3" fill="#0055ff"/><rect x="70.7" fill="#021cff"/><rect x="76.2" fill="#0811ff"/><rect x="81.6" fill="#1f00fe"/><rect x="87" fill="#1b00fe"/><rect x="92.5" fill="#5f00f5"/><rect x="97.9" fill="#6a00f2"/><rect x="103.4" fill="#7d00e1"/></g>
<g class="h" transform="translate(248.9 453.78)"><rect x="0" fill="#00a3ff"/><rect x="5.4" fill="#00fff0"/><rect x="10.9" fill="#00eeff"/><rect x="16.3" fill="#00d0ff"/><rect x="21.8" fill="#00bdff"/><rect x="27.2" fill="#00a5ff"/><rect x="32.6" fill="#0089ff"/><rect x="38.1" fill="#008fff"/><rect x="43.5" fill="#009bff"/><rect x="49" fill="#0046ff"/><rect x="54.4" fill="#0073ff"/><rect x="59.8" fill="#0054ff"/><rect x="65.3" fill="#0059ff"/><rect x="70.7" fill="#005bff"/><rect x="76.2" fill="#021dff"/><rect x="81.6" fill="#0f03ff"/><rect x="87" fill="#3800fd"/><rect x="92.5" fill="#5100f9"/><rect x="97.9" fill="#7600ee"/><rect x="103.4" fill="#8200d7"/></g>
<g class="h" transform="translate(248.9 457.76)"><rect x="0" fill="#00a8ff"/><rect x="5.4" fill="#00fff6"/><rect x="10.9" fill="#00f2ff"/><rect x="16.3" fill="#00e7ff"/><rect x="21.8" fill="#00e6ff"/><rect x="27.2" fill="#0093ff"/><rect x="32.6" fill="#00ceff"/><rect x="38.1" fill="#009fff"/><rect x="43.5" fill="#0087ff"/><rect x="49" fill="#00baff"/><rect x="54.4" fill="#0060ff"/><rect x="59.8" fill="#0064ff"/><rect x="65.3" fill="#0041ff"/><rect x="70.7" fill="#002eff"/><rect x="76.2" fill="#002bff"/><rect x="81.6" fill="#0f01ff"/><rect x="87" fill="#3100fd"/><rect x="92.5" fill="#5f00f5"/><rect x="97.9" fill="#7100ef"/><rect x="103.4" fill="#6b00f1"/></g>
<g class="h" transform="translate(248.9 461.75)"><rect x="0" fill="#00a4ff"/><rect x="5.4" fill="#00f0ff"/><rect x="10.9" fill="#00deff"/><rect x="16.3" fill="#00d2ff"/><rect x="21.8" fill="#00e1ff"/><rect x="27.2" fill="#00abff"/><rect x="32.6" fill="#00b5ff"/><rect x="38.1" fill="#0054ff"/><rect x="43.5" fill="#0094ff"/><rect x="49" fill="#009cff"/><rect x="54.4" fill="#0079ff"/><rect x="59.8" fill="#003aff"/><rect x="65.3" fill="#0053ff"/><rect x="70.7" fill="#005fff"/><rect x="76.2" fill="#0f02ff"/><rect x="81.6" fill="#1100ff"/><rect x="87" fill="#2700fe"/><rect x="92.5" fill="#5c00f6"/><rect x="97.9" fill="#5d00f6"/><rect x="103.4" fill="#7300ef"/></g>
<g class="h" transform="translate(248.9 465.74)"><rect x="0" fill="#00a6ff"/><rect x="5.4" fill="#00ffe8"/><rect x="10.9" fill="#00e4ff"/><rect x="16.3" fill="#00dfff"/><rect x="21.8" fill="#00b5ff"/><rect x="27.2" fill="#00b6ff"/><rect x="32.6" fill="#00e4ff"/><rect x="38.1" fill="#0088ff"/><rect x="43.5" fill="#009aff"/><rect x="49" fill="#0069ff"/><rect x="54.4" fill="#006dff"/><rect x="59.8" fill="#0039ff"/><rect x="65.3" fill="#004dff"/><rect x="70.7" fill="#0056ff"/><rect x="76.2" fill="#0516ff"/><rect x="81.6" fill="#1500ff"/><rect x="87" fill="#2a00fe"/><rect x="92.5" fill="#4b00fb"/><rect x="97.9" fill="#7a00e6"/><rect x="103.4" fill="#7b00e4"/></g>
<g class="h" transform="translate(248.9 469.73)"><rect x="0" fill="#00a2ff"/><rect x="5.4" fill="#00fffd"/><rect x="10.9" fill="#00ffe1"/><rect x="16.3" fill="#00f9ff"/><rect x="21.8" fill="#00d4ff"/><rect x="27.2" fill="#00b0ff"/><rect x="32.6" fill="#00c0ff"/><rect x="38.1" fill="#00c2ff"/><rect x="43.5" fill="#00a8ff"/><rect x="49" fill="#008bff"/><rect x="54.4" fill="#0085ff"/><rect x="59.8" fill="#0068ff"/><rect x="65.3" fill="#021dff"/><rect x="70.7" fill="#001fff"/><rect x="76.2" fill="#021cff"/><rect x="81.6" fill="#0f03ff"/><rect x="87" fill="#4b00fb"/><rect x="92.5" fill="#5b00f6"/><rect x="97.9" fill="#6900f2"/><rect x="103.4" fill="#7000f0"/></g>
<g class="h" transform="translate(248.9 473.72)"><rect x="0" fill="#00eeff"/><rect x="5.4" fill="#00ffef"/><rect x="10.9" fill="#00f4ff"/><rect x="16.3" fill="#00fff1"/><rect x="21.8" fill="#00f0ff"/><rect x="27.2" fill="#00b9ff"/><rect x="32.6" fill="#00e7ff"/><rect x="38.1" fill="#00cbff"/><rect x="43.5" fill="#008dff"/><rect x="49" fill="#006fff"/><rect x="54.4" fill="#0068ff"/><rect x="59.8" fill="#0042ff"/><rect x="65.3" fill="#0020ff"/><rect x="70.7" fill="#0418ff"/><rect x="76.2" fill="#0515ff"/><rect x="81.6" fill="#3200fd"/><rect x="87" fill="#4d00fa"/><rect x="92.5" fill="#6000f5"/><rect x="97.9" fill="#5f00f5"/><rect x="103.4" fill="#7e00de"/></g>
<g class="h" transform="translate(248.9 477.71)"><rect x="0" fill="#00f7ff"/><rect x="5.4" fill="#00fff0"/><rect x="10.9" fill="#00ffc2"/><rect x="16.3" fill="#00e9ff"/><rect x="21.8" fill="#00aeff"/><rect x="27.2" fill="#00b7ff"/><rect x="32.6" fill="#007cff"/><rect x="38.1" fill="#009aff"/><rect x="43.5" fill="#0088ff"/><rect x="49" fill="#0083ff"/><rect x="54.4" fill="#0062ff"/><rect x="59.8" fill="#005aff"/><rect x="65.3" fill="#0027ff"/><rect x="70.7" fill="#090fff"/><rect x="76.2" fill="#090dff"/><rect x="81.6" fill="#090fff"/><rect x="87" fill="#3b00fd"/><rect x="92.5" fill="#6700f3"/><rect x="97.9" fill="#7500ee"/><rect x="103.4" fill="#7e00df"/></g>
<g class="h" transform="translate(248.9 481.69)"><rect x="0" fill="#00a1ff"/><rect x="5.4" fill="#00ddff"/><rect x="10.9" fill="#00ffbf"/><rect x="16.3" fill="#00b2ff"/><rect x="21.8" fill="#00b3ff"/><rect x="27.2" fill="#00a9ff"/><rect x="32.6" fill="#00b7ff"/><rect x="38.1" fill="#0092ff"/><rect x="43.5" fill="#007aff"/><rect x="49" fill="#00a3ff"/><rect x="54.4" fill="#005cff"/><rect x="59.8" fill="#0056ff"/><rect x="65.3" fill="#0020ff"/><rect x="70.7" fill="#0319ff"/><rect x="76.2" fill="#0613ff"/><rect x="81.6" fill="#1001ff"/><rect x="87" fill="#3d00fd"/><rect x="92.5" fill="#5600f8"/><rect x="97.9" fill="#7400ef"/><rect x="103.4" fill="#7800eb"/></g>
<g class="h" transform="translate(248.9 485.68)"><rect x="0" fill="#00dcff"/><rect x="5.4" fill="#00ffea"/><rect x="10.9" fill="#00ffe5"/><rect x="16.3" fill="#00f1ff"/><rect x="21.8" fill="#00beff"/><rect x="27.2" fill="#00e3ff"/><rect x="32.6" fill="#00c9ff"/><rect x="38.1" fill="#0083ff"/><rect x="43.5" fill="#0098ff"/><rect x="49" fill="#007bff"/><rect x="54.4" fill="#008cff"/><rect x="59.8" fill="#0070ff"/><rect x="65.3" fill="#0049ff"/><rect x="70.7" fill="#090eff"/><rect x="76.2" fill="#0a0cff"/><rect x="81.6" fill="#0615ff"/><rect x="87" fill="#3a00fd"/><rect x="92.5" fill="#6100f4"/><rect x="97.9" fill="#7600ee"/><rect x="103.4" fill="#7200ef"/></g>
<g class="h" transform="translate(248.9 489.67)"><rect x="0" fill="#00baff"/><rect x="5.4" fill="#00c5ff"/><rect x="10.9" fill="#00fff5"/><rect x="16.3" fill="#00d1ff"/><rect x="21.8" fill="#00ddff"/><rect x="27.2" fill="#00d8ff"/><rect x="32.6" fill="#00b2ff"/><rect x="38.1" fill="#007bff"/><rect x="43.5" fill="#006cff"/><rect x="49" fill="#0091ff"/><rect x="54.4" fill="#0077ff"/><rect x="59.8" fill="#006cff"/><rect x="65.3" fill="#0072ff"/><rect x="70.7" fill="#031aff"/><rect x="76.2" fill="#1200ff"/><rect x="81.6" fill="#2900fe"/><rect x="87" fill="#2b00fe"/><rect x="92.5" fill="#6700f2"/><rect x="97.9" fill="#7900e9"/><rect x="103.4" fill="#7a00e6"/></g>
<g class="h" transform="translate(248.9 493.66)"><rect x="0" fill="#00b7ff"/><rect x="5.4" fill="#00fff2"/><rect x="10.9" fill="#00e6ff"/><rect x="16.3" fill="#00a7ff"/><rect x="21.8" fill="#00e1ff"/><rect x="27.2" fill="#00d5ff"/><rect x="32.6" fill="#008dff"/><rect x="38.1" fill="#0095ff"/><rect x="43.5" fill="#00bdff"/><rect x="49" fill="#0094ff"/><rect x="54.4" fill="#007fff"/><rect x="59.8" fill="#0064ff"/><rect x="65.3" fill="#0039ff"/><rect x="70.7" fill="#0615ff"/><rect x="76.2" fill="#0712ff"/><rect x="81.6" fill="#1200ff"/><rect x="87" fill="#2600fe"/><rect x="92.5" fill="#6400f4"/><rect x="97.9" fill="#7a00e6"/><rect x="103.4" fill="#7a00e5"/></g>
<g class="h" transform="translate(248.9 497.65)"><rect x="0" fill="#00caff"/><rect x="5.4" fill="#00c5ff"/><rect x="10.9" fill="#00d2ff"/><rect x="16.3" fill="#00f2ff"/><rect x="21.8" fill="#00f5ff"/><rect x="27.2" fill="#00bbff"/><rect x="32.6" fill="#0083ff"/><rect x="38.1" fill="#00a5ff"/><rect x="43.5" fill="#008eff"/><rect x="49" fill="#0085ff"/><rect x="54.4" fill="#005bff"/><rect x="59.8" fill="#0034ff"/><rect x="65.3" fill="#005dff"/><rect x="70.7" fill="#0027ff"/><rect x="76.2" fill="#0712ff"/><rect x="81.6" fill="#0c07ff"/><rect x="87" fill="#1f00fe"/><rect x="92.5" fill="#6100f4"/><rect x="97.9" fill="#6f00f0"/><rect x="103.4" fill="#8100d9"/></g>
<g class="h" transform="translate(248.9 501.64)"><rect x="0" fill="#0089ff"/><rect x="5.4" fill="#00fff5"/><rect x="10.9" fill="#00dcff"/><rect x="16.3" fill="#00e3ff"/><rect x="21.8" fill="#00c7ff"/><rect x="27.2" fill="#00a8ff"/><rect x="32.6" fill="#00a8ff"/><rect x="38.1" fill="#00bfff"/><rect x="43.5" fill="#0062ff"/><rect x="49" fill="#0074ff"/><rect x="54.4" fill="#0086ff"/><rect x="59.8" fill="#008aff"/><rect x="65.3" fill="#0040ff"/><rect x="70.7" fill="#0418ff"/><rect x="76.2" fill="#0e04ff"/><rect x="81.6" fill="#2400fe"/><rect x="87" fill="#2e00fd"/><rect x="92.5" fill="#5f00f5"/><rect x="97.9" fill="#5700f8"/><rect x="103.4" fill="#7d00e0"/></g>
<g class="h" transform="translate(248.9 505.62)"><rect x="0" fill="#0098ff"/><rect x="5.4" fill="#00ffee"/><rect x="10.9" fill="#00efff"/><rect x="16.3" fill="#00d4ff"/><rect x="21.8" fill="#00c0ff"/><rect x="27.2" fill="#0087ff"/><rect x="32.6" fill="#00c1ff"/><rect x="38.1" fill="#0071ff"/><rect x="43.5" fill="#00a9ff"/><rect x="49" fill="#0088ff"/><rect x="54.4" fill="#007bff"/><rect x="59.8" fill="#0056ff"/><rect x="65.3" fill="#004aff"/><rect x="70.7" fill="#031aff"/><rect x="76.2" fill="#080fff"/><rect x="81.6" fill="#3800fd"/><rect x="87" fill="#3c00fd"/><rect x="92.5" fill="#5200f9"/><rect x="97.9" fill="#7300ef"/><rect x="103.4" fill="#8000db"/></g>
<g class="h" transform="translate(248.9 509.61)"><rect x="0" fill="#00b6ff"/><rect x="5.4" fill="#00ffdf"/><rect x="10.9" fill="#00fffe"/><rect x="16.3" fill="#00d1ff"/><rect x="21.8" fill="#00acff"/><rect x="27.2" fill="#00a3ff"/><rect x="32.6" fill="#00a4ff"/><rect x="38.1" fill="#0084ff"/><rect x="43.5" fill="#0093ff"/><rect x="49" fill="#0070ff"/><rect x="54.4" fill="#0047ff"/><rect x="59.8" fill="#0039ff"/><rect x="65.3" fill="#001fff"/><rect x="70.7" fill="#0027ff"/><rect x="76.2" fill="#0a0dff"/><rect x="81.6" fill="#0b0bff"/><rect x="87" fill="#4600fc"/><rect x="92.5" fill="#5000f9"/><rect x="97.9" fill="#5a00f6"/><rect x="103.4" fill="#7900e8"/></g>
<rect x="248.9" y="274.3" width="108.8" height="239.3" fill="none" stroke="#222" stroke-width="1"/>
<path d="M251.6 274.3v-4.8M262.5 274.3v-2.4M273.4 274.3v-2.4M284.2 274.3v-2.4M295.1 274.3v-2.4M306 274.3v-4.8M316.9 274.3v-2.4M327.8 274.3v-2.4M338.6 274.3v-2.4M349.5 274.3v-2.4M248.9 275.9h-4.6M248.9 283.9h-2.4M248.9 291.8h-2.4M248.9 299.8h-2.4M248.9 307.8h-2.4M248.9 315.8h-2.4M248.9 323.7h-2.4M248.9 331.7h-2.4M248.9 339.7h-2.4M248.9 347.6h-2.4M248.9 355.6h-4.6M248.9 363.6h-2.4M248.9 371.5h-2.4M248.9 379.5h-2.4M248.9 387.5h-2.4M248.9 395.5h-2.4M248.9 403.4h-2.4M248.9 411.4h-2.4M248.9 419.4h-2.4M248.9 427.3h-2.4M248.9 435.3h-4.6M248.9 443.3h-2.4M248.9 451.2h-2.4M248.9 459.2h-2.4M248.9 467.2h-2.4M248.9 475.2h-2.4M248.9 483.1h-2.4M248.9 491.1h-2.4M248.9 499.1h-2.4M248.9 507h-2.4" stroke="#333" stroke-width="1" fill="none"/>
<text x="308.7" y="255.6" font-size="11.7" fill="#0c0c0c" stroke="#0c0c0c" text-anchor="middle">Stimulus no.</text>
<text x="252.5" y="269" font-size="10.3" fill="#0c0c0c" stroke="#0c0c0c" text-anchor="middle">1</text>
<text x="278.8" y="269" font-size="10.3" fill="#0c0c0c" stroke="#0c0c0c" text-anchor="middle">5</text>
<text x="306" y="269" font-size="10.3" fill="#0c0c0c" stroke="#0c0c0c" text-anchor="middle">10</text>
<text x="332.9" y="269" font-size="10.3" fill="#0c0c0c" stroke="#0c0c0c" text-anchor="middle">15</text>
<text x="356.4" y="269" font-size="10.3" fill="#0c0c0c" stroke="#0c0c0c" text-anchor="middle">20</text>
<text transform="translate(240.8 276.3) rotate(-90)" font-size="12" fill="#0c0c0c" stroke="#0c0c0c" text-anchor="middle">0</text>
<text transform="translate(241.8 395.6) rotate(-90)" font-size="10.9" fill="#0c0c0c" stroke="#0c0c0c" text-anchor="middle">10</text>
<text transform="translate(242.1 511.3) rotate(-90)" font-size="12" fill="#0c0c0c" stroke="#0c0c0c" text-anchor="middle">20</text>
<path d="M231.5 276.4l-9.9 -2.5l0.5 2.5l-0.5 2.5z" fill="#f03030"/>
<path d="M229.3 512.2l-9.9 -2.5l0.5 2.5l-0.5 2.5z" fill="#f8b4b8"/>
<linearGradient id="cbF"><stop offset="0%" stop-color="#800000"/><stop offset="11%" stop-color="#a00000"/><stop offset="20%" stop-color="#d80000"/><stop offset="27%" stop-color="#ff0000"/><stop offset="36%" stop-color="#ff1000"/><stop offset="42%" stop-color="#ff8000"/><stop offset="47%" stop-color="#ffd000"/><stop offset="50%" stop-color="#ffff00"/><stop offset="56.5%" stop-color="#a0ff00"/><stop offset="63%" stop-color="#30ff00"/><stop offset="66%" stop-color="#00ff00"/><stop offset="69%" stop-color="#00ff80"/><stop offset="73.5%" stop-color="#00ffff"/><stop offset="78.5%" stop-color="#0080ff"/><stop offset="83%" stop-color="#0020ff"/><stop offset="86%" stop-color="#1000ff"/><stop offset="91%" stop-color="#6000e0"/><stop offset="95.5%" stop-color="#8000c0"/><stop offset="100%" stop-color="#7a0096"/></linearGradient>
<rect x="270.1" y="517.3" width="61.6" height="7" fill="url(#cbF)" stroke="#333" stroke-width="0.8"/>
<path d="M271.1 524.3v5M286.1 524.3v5M301.1 524.3v5M316.1 524.3v5M331.1 524.3v5" stroke="#222" stroke-width="1.1" fill="none"/>
<text transform="translate(274.5 532.9) rotate(-45)" font-size="9.6" fill="#0c0c0c" stroke="#0c0c0c" text-anchor="end">-1.0</text>
<text transform="translate(289.5 532.9) rotate(-45)" font-size="9.6" fill="#0c0c0c" stroke="#0c0c0c" text-anchor="end">-0.5</text>
<text transform="translate(304.5 532.9) rotate(-45)" font-size="9.6" fill="#0c0c0c" stroke="#0c0c0c" text-anchor="end">0.0</text>
<text transform="translate(319.5 532.9) rotate(-45)" font-size="9.6" fill="#0c0c0c" stroke="#0c0c0c" text-anchor="end">+0.5</text>
<text transform="translate(334.5 532.9) rotate(-45)" font-size="9.6" fill="#0c0c0c" stroke="#0c0c0c" text-anchor="end">+1.0</text>
<text x="336.4" y="534" font-size="9.6" fill="#0c0c0c" stroke="#0c0c0c">ms</text>
<g class="h" transform="translate(417.8 275.10)"><rect x="0" fill="#fdff00"/><rect x="5.4" fill="#ff7900"/><rect x="10.9" fill="#ff8b00"/><rect x="16.3" fill="#ffa700"/><rect x="21.8" fill="#ffad00"/><rect x="27.2" fill="#ffb800"/><rect x="32.6" fill="#ffbc00"/><rect x="38.1" fill="#ffdd00"/><rect x="43.5" fill="#ffe700"/><rect x="49" fill="#fff000"/><rect x="54.4" fill="#fff100"/><rect x="59.8" fill="#fbff00"/><rect x="65.3" fill="#f1ff00"/><rect x="70.7" fill="#efff00"/><rect x="76.2" fill="#e5ff00"/><rect x="81.6" fill="#ddff00"/><rect x="87" fill="#ccff00"/><rect x="92.5" fill="#c5ff00"/><rect x="97.9" fill="#bbff00"/><rect x="103.4" fill="#b7ff00"/></g>
<g class="h" transform="translate(417.8 279.09)"><rect x="0" fill="#feff00"/><rect x="5.4" fill="#ffa700"/><rect x="10.9" fill="#ffb600"/><rect x="16.3" fill="#ffbc00"/><rect x="21.8" fill="#ffcb00"/><rect x="27.2" fill="#ffc800"/><rect x="32.6" fill="#ffd800"/><rect x="38.1" fill="#ffe800"/><rect x="43.5" fill="#fff000"/><rect x="49" fill="#f6ff00"/><rect x="54.4" fill="#feff00"/><rect x="59.8" fill="#f1ff00"/><rect x="65.3" fill="#e7ff00"/><rect x="70.7" fill="#dfff00"/><rect x="76.2" fill="#caff00"/><rect x="81.6" fill="#d1ff00"/><rect x="87" fill="#b1ff00"/><rect x="92.5" fill="#a7ff00"/><rect x="97.9" fill="#9eff00"/><rect x="103.4" fill="#86ff00"/></g>
<g class="h" transform="translate(417.8 283.08)"><rect x="0" fill="#d9ff00"/><rect x="5.4" fill="#ffb900"/><rect x="10.9" fill="#ffc700"/><rect x="16.3" fill="#ffcf00"/><rect x="21.8" fill="#ffda00"/><rect x="27.2" fill="#ffdc00"/><rect x="32.6" fill="#ffe600"/><rect x="38.1" fill="#fffc00"/><rect x="43.5" fill="#ffff00"/><rect x="49" fill="#eaff00"/><rect x="54.4" fill="#e0ff00"/><rect x="59.8" fill="#dfff00"/><rect x="65.3" fill="#d1ff00"/><rect x="70.7" fill="#c6ff00"/><rect x="76.2" fill="#bcff00"/><rect x="81.6" fill="#a7ff00"/><rect x="87" fill="#a2ff00"/><rect x="92.5" fill="#91ff00"/><rect x="97.9" fill="#92ff00"/><rect x="103.4" fill="#6cff00"/></g>
<g class="h" transform="translate(417.8 287.06)"><rect x="0" fill="#e9ff00"/><rect x="5.4" fill="#ffcc00"/><rect x="10.9" fill="#ffe500"/><rect x="16.3" fill="#ffef00"/><rect x="21.8" fill="#ffe700"/><rect x="27.2" fill="#ffe900"/><rect x="32.6" fill="#fdff00"/><rect x="38.1" fill="#f8ff00"/><rect x="43.5" fill="#e8ff00"/><rect x="49" fill="#eaff00"/><rect x="54.4" fill="#cdff00"/><rect x="59.8" fill="#c0ff00"/><rect x="65.3" fill="#ccff00"/><rect x="70.7" fill="#b9ff00"/><rect x="76.2" fill="#abff00"/><rect x="81.6" fill="#91ff00"/><rect x="87" fill="#99ff00"/><rect x="92.5" fill="#76ff00"/><rect x="97.9" fill="#66ff00"/><rect x="103.4" fill="#58ff00"/></g>
<g class="h" transform="translate(417.8 291.05)"><rect x="0" fill="#ceff00"/><rect x="5.4" fill="#ffd600"/><rect x="10.9" fill="#ffe300"/><rect x="16.3" fill="#fff000"/><rect x="21.8" fill="#faff00"/><rect x="27.2" fill="#fbff00"/><rect x="32.6" fill="#f5ff00"/><rect x="38.1" fill="#e1ff00"/><rect x="43.5" fill="#dfff00"/><rect x="49" fill="#d5ff00"/><rect x="54.4" fill="#c7ff00"/><rect x="59.8" fill="#b7ff00"/><rect x="65.3" fill="#99ff00"/><rect x="70.7" fill="#a9ff00"/><rect x="76.2" fill="#8dff00"/><rect x="81.6" fill="#80ff00"/><rect x="87" fill="#6fff00"/><rect x="92.5" fill="#4eff00"/><rect x="97.9" fill="#3fff00"/><rect x="103.4" fill="#2bff00"/></g>
<g class="h" transform="translate(417.8 295.04)"><rect x="0" fill="#cfff00"/><rect x="5.4" fill="#ffee00"/><rect x="10.9" fill="#feff00"/><rect x="16.3" fill="#fcff00"/><rect x="21.8" fill="#f7ff00"/><rect x="27.2" fill="#e5ff00"/><rect x="32.6" fill="#ebff00"/><rect x="38.1" fill="#dcff00"/><rect x="43.5" fill="#c5ff00"/><rect x="49" fill="#c0ff00"/><rect x="54.4" fill="#adff00"/><rect x="59.8" fill="#adff00"/><rect x="65.3" fill="#91ff00"/><rect x="70.7" fill="#8cff00"/><rect x="76.2" fill="#65ff00"/><rect x="81.6" fill="#57ff00"/><rect x="87" fill="#47ff00"/><rect x="92.5" fill="#2aff00"/><rect x="97.9" fill="#1fff00"/><rect x="103.4" fill="#12ff00"/></g>
<g class="h" transform="translate(417.8 299.03)"><rect x="0" fill="#b6ff00"/><rect x="5.4" fill="#f8ff00"/><rect x="10.9" fill="#e9ff00"/><rect x="16.3" fill="#ebff00"/><rect x="21.8" fill="#dbff00"/><rect x="27.2" fill="#e6ff00"/><rect x="32.6" fill="#deff00"/><rect x="38.1" fill="#d5ff00"/><rect x="43.5" fill="#b7ff00"/><rect x="49" fill="#c0ff00"/><rect x="54.4" fill="#b0ff00"/><rect x="59.8" fill="#9eff00"/><rect x="65.3" fill="#7cff00"/><rect x="70.7" fill="#65ff00"/><rect x="76.2" fill="#5cff00"/><rect x="81.6" fill="#36ff00"/><rect x="87" fill="#27ff00"/><rect x="92.5" fill="#0aff00"/><rect x="97.9" fill="#00ff1d"/><rect x="103.4" fill="#00ff33"/></g>
<g class="h" transform="translate(417.8 303.02)"><rect x="0" fill="#bbff00"/><rect x="5.4" fill="#f0ff00"/><rect x="10.9" fill="#e3ff00"/><rect x="16.3" fill="#deff00"/><rect x="21.8" fill="#d8ff00"/><rect x="27.2" fill="#cbff00"/><rect x="32.6" fill="#c5ff00"/><rect x="38.1" fill="#b3ff00"/><rect x="43.5" fill="#afff00"/><rect x="49" fill="#a0ff00"/><rect x="54.4" fill="#81ff00"/><rect x="59.8" fill="#6eff00"/><rect x="65.3" fill="#57ff00"/><rect x="70.7" fill="#47ff00"/><rect x="76.2" fill="#38ff00"/><rect x="81.6" fill="#1eff00"/><rect x="87" fill="#09ff00"/><rect x="92.5" fill="#06ff00"/><rect x="97.9" fill="#00ff45"/><rect x="103.4" fill="#00ffb6"/></g>
<g class="h" transform="translate(417.8 307.01)"><rect x="0" fill="#b6ff00"/><rect x="5.4" fill="#feff00"/><rect x="10.9" fill="#dcff00"/><rect x="16.3" fill="#d2ff00"/><rect x="21.8" fill="#d8ff00"/><rect x="27.2" fill="#aeff00"/><rect x="32.6" fill="#adff00"/><rect x="38.1" fill="#a4ff00"/><rect x="43.5" fill="#a2ff00"/><rect x="49" fill="#86ff00"/><rect x="54.4" fill="#6cff00"/><rect x="59.8" fill="#5bff00"/><rect x="65.3" fill="#53ff00"/><rect x="70.7" fill="#30ff00"/><rect x="76.2" fill="#19ff00"/><rect x="81.6" fill="#00ff02"/><rect x="87" fill="#00ff1b"/><rect x="92.5" fill="#00ff80"/><rect x="97.9" fill="#00ffac"/><rect x="103.4" fill="#00ffe1"/></g>
<g class="h" transform="translate(417.8 311.00)"><rect x="0" fill="#a9ff00"/><rect x="5.4" fill="#e6ff00"/><rect x="10.9" fill="#c7ff00"/><rect x="16.3" fill="#c1ff00"/><rect x="21.8" fill="#cdff00"/><rect x="27.2" fill="#b8ff00"/><rect x="32.6" fill="#b2ff00"/><rect x="38.1" fill="#a1ff00"/><rect x="43.5" fill="#80ff00"/><rect x="49" fill="#6fff00"/><rect x="54.4" fill="#47ff00"/><rect x="59.8" fill="#48ff00"/><rect x="65.3" fill="#40ff00"/><rect x="70.7" fill="#19ff00"/><rect x="76.2" fill="#1eff00"/><rect x="81.6" fill="#00ff70"/><rect x="87" fill="#00ff80"/><rect x="92.5" fill="#00ffac"/><rect x="97.9" fill="#00ffd3"/><rect x="103.4" fill="#00ffec"/></g>
<g class="h" transform="translate(417.8 314.98)"><rect x="0" fill="#a2ff00"/><rect x="5.4" fill="#d5ff00"/><rect x="10.9" fill="#cbff00"/><rect x="16.3" fill="#baff00"/><rect x="21.8" fill="#c0ff00"/><rect x="27.2" fill="#95ff00"/><rect x="32.6" fill="#a6ff00"/><rect x="38.1" fill="#7eff00"/><rect x="43.5" fill="#80ff00"/><rect x="49" fill="#70ff00"/><rect x="54.4" fill="#44ff00"/><rect x="59.8" fill="#2fff00"/><rect x="65.3" fill="#1eff00"/><rect x="70.7" fill="#04ff00"/><rect x="76.2" fill="#00ff23"/><rect x="81.6" fill="#00ff83"/><rect x="87" fill="#00ff97"/><rect x="92.5" fill="#00ffc8"/><rect x="97.9" fill="#00f8ff"/><rect x="103.4" fill="#00fffc"/></g>
<g class="h" transform="translate(417.8 318.97)"><rect x="0" fill="#9dff00"/><rect x="5.4" fill="#caff00"/><rect x="10.9" fill="#c4ff00"/><rect x="16.3" fill="#c3ff00"/><rect x="21.8" fill="#abff00"/><rect x="27.2" fill="#98ff00"/><rect x="32.6" fill="#89ff00"/><rect x="38.1" fill="#8bff00"/><rect x="43.5" fill="#5aff00"/><rect x="49" fill="#41ff00"/><rect x="54.4" fill="#31ff00"/><rect x="59.8" fill="#27ff00"/><rect x="65.3" fill="#0fff00"/><rect x="70.7" fill="#00ff75"/><rect x="76.2" fill="#00ff9e"/><rect x="81.6" fill="#00ffad"/><rect x="87" fill="#00ffb4"/><rect x="92.5" fill="#00f6ff"/><rect x="97.9" fill="#00ecff"/><rect x="103.4" fill="#00b0ff"/></g>
<g class="h" transform="translate(417.8 322.96)"><rect x="0" fill="#91ff00"/><rect x="5.4" fill="#b3ff00"/><rect x="10.9" fill="#b3ff00"/><rect x="16.3" fill="#a1ff00"/><rect x="21.8" fill="#a3ff00"/><rect x="27.2" fill="#7dff00"/><rect x="32.6" fill="#7bff00"/><rect x="38.1" fill="#6eff00"/><rect x="43.5" fill="#46ff00"/><rect x="49" fill="#31ff00"/><rect x="54.4" fill="#38ff00"/><rect x="59.8" fill="#05ff00"/><rect x="65.3" fill="#00ff37"/><rect x="70.7" fill="#00ff79"/><rect x="76.2" fill="#00ffd0"/><rect x="81.6" fill="#00ffbd"/><rect x="87" fill="#00ffef"/><rect x="92.5" fill="#00ffed"/><rect x="97.9" fill="#00f0ff"/><rect x="103.4" fill="#00c4ff"/></g>
<g class="h" transform="translate(417.8 326.95)"><rect x="0" fill="#81ff00"/><rect x="5.4" fill="#b1ff00"/><rect x="10.9" fill="#9fff00"/><rect x="16.3" fill="#94ff00"/><rect x="21.8" fill="#7eff00"/><rect x="27.2" fill="#7dff00"/><rect x="32.6" fill="#5fff00"/><rect x="38.1" fill="#5cff00"/><rect x="43.5" fill="#37ff00"/><rect x="49" fill="#1dff00"/><rect x="54.4" fill="#12ff00"/><rect x="59.8" fill="#1fff00"/><rect x="65.3" fill="#00ff4a"/><rect x="70.7" fill="#00ffd2"/><rect x="76.2" fill="#00ffba"/><rect x="81.6" fill="#00ffd6"/><rect x="87" fill="#00f5ff"/><rect x="92.5" fill="#00c1ff"/><rect x="97.9" fill="#00b9ff"/><rect x="103.4" fill="#00abff"/></g>
<g class="h" transform="translate(417.8 330.94)"><rect x="0" fill="#8aff00"/><rect x="5.4" fill="#aaff00"/><rect x="10.9" fill="#acff00"/><rect x="16.3" fill="#8dff00"/><rect x="21.8" fill="#68ff00"/><rect x="27.2" fill="#5cff00"/><rect x="32.6" fill="#5fff00"/><rect x="38.1" fill="#50ff00"/><rect x="43.5" fill="#41ff00"/><rect x="49" fill="#0eff00"/><rect x="54.4" fill="#00ff20"/><rect x="59.8" fill="#00ff69"/><rect x="65.3" fill="#00ff90"/><rect x="70.7" fill="#00ff8f"/><rect x="76.2" fill="#00ffa4"/><rect x="81.6" fill="#00ebff"/><rect x="87" fill="#00f9ff"/><rect x="92.5" fill="#009fff"/><rect x="97.9" fill="#00e0ff"/><rect x="103.4" fill="#00b0ff"/></g>
<g class="h" transform="translate(417.8 334.93)"><rect x="0" fill="#7dff00"/><rect x="5.4" fill="#98ff00"/><rect x="10.9" fill="#86ff00"/><rect x="16.3" fill="#8eff00"/><rect x="21.8" fill="#68ff00"/><rect x="27.2" fill="#72ff00"/><rect x="32.6" fill="#4fff00"/><rect x="38.1" fill="#44ff00"/><rect x="43.5" fill="#24ff00"/><rect x="49" fill="#0eff00"/><rect x="54.4" fill="#00ff40"/><rect x="59.8" fill="#00ffd1"/><rect x="65.3" fill="#00ff7f"/><rect x="70.7" fill="#00ffc1"/><rect x="76.2" fill="#00fffc"/><rect x="81.6" fill="#00f0ff"/><rect x="87" fill="#00b5ff"/><rect x="92.5" fill="#00d2ff"/><rect x="97.9" fill="#008fff"/><rect x="103.4" fill="#009aff"/></g>
<g class="h" transform="translate(417.8 338.91)"><rect x="0" fill="#59ff00"/><rect x="5.4" fill="#8fff00"/><rect x="10.9" fill="#81ff00"/><rect x="16.3" fill="#82ff00"/><rect x="21.8" fill="#82ff00"/><rect x="27.2" fill="#60ff00"/><rect x="32.6" fill="#2cff00"/><rect x="38.1" fill="#26ff00"/><rect x="43.5" fill="#01ff00"/><rect x="49" fill="#09ff00"/><rect x="54.4" fill="#00ff78"/><rect x="59.8" fill="#00ffaf"/><rect x="65.3" fill="#00ff83"/><rect x="70.7" fill="#00ffe9"/><rect x="76.2" fill="#00ceff"/><rect x="81.6" fill="#00f1ff"/><rect x="87" fill="#00adff"/><rect x="92.5" fill="#00aaff"/><rect x="97.9" fill="#007dff"/><rect x="103.4" fill="#0081ff"/></g>
<g class="h" transform="translate(417.8 342.90)"><rect x="0" fill="#4cff00"/><rect x="5.4" fill="#8fff00"/><rect x="10.9" fill="#80ff00"/><rect x="16.3" fill="#76ff00"/><rect x="21.8" fill="#64ff00"/><rect x="27.2" fill="#2bff00"/><rect x="32.6" fill="#30ff00"/><rect x="38.1" fill="#24ff00"/><rect x="43.5" fill="#0aff00"/><rect x="49" fill="#00ff61"/><rect x="54.4" fill="#00ff2f"/><rect x="59.8" fill="#00ffbe"/><rect x="65.3" fill="#00ffec"/><rect x="70.7" fill="#00e6ff"/><rect x="76.2" fill="#00f5ff"/><rect x="81.6" fill="#00e2ff"/><rect x="87" fill="#00b0ff"/><rect x="92.5" fill="#0098ff"/><rect x="97.9" fill="#0064ff"/><rect x="103.4" fill="#0067ff"/></g>
<g class="h" transform="translate(417.8 346.89)"><rect x="0" fill="#16ff00"/><rect x="5.4" fill="#94ff00"/><rect x="10.9" fill="#72ff00"/><rect x="16.3" fill="#5eff00"/><rect x="21.8" fill="#31ff00"/><rect x="27.2" fill="#2bff00"/><rect x="32.6" fill="#01ff00"/><rect x="38.1" fill="#00ff36"/><rect x="43.5" fill="#00ff1a"/><rect x="49" fill="#00ff4a"/><rect x="54.4" fill="#00ff95"/><rect x="59.8" fill="#00ffc5"/><rect x="65.3" fill="#00ffd9"/><rect x="70.7" fill="#00e0ff"/><rect x="76.2" fill="#00c7ff"/><rect x="81.6" fill="#009fff"/><rect x="87" fill="#009dff"/><rect x="92.5" fill="#0097ff"/><rect x="97.9" fill="#0067ff"/><rect x="103.4" fill="#006aff"/></g>
<g class="h" transform="translate(417.8 350.88)"><rect x="0" fill="#00ff4f"/><rect x="5.4" fill="#80ff00"/><rect x="10.9" fill="#4dff00"/><rect x="16.3" fill="#83ff00"/><rect x="21.8" fill="#28ff00"/><rect x="27.2" fill="#0eff00"/><rect x="32.6" fill="#07ff00"/><rect x="38.1" fill="#00ff3d"/><rect x="43.5" fill="#00ff74"/><rect x="49" fill="#00ffc3"/><rect x="54.4" fill="#00fff8"/><rect x="59.8" fill="#00ffe8"/><rect x="65.3" fill="#00cbff"/><rect x="70.7" fill="#00f0ff"/><rect x="76.2" fill="#00bbff"/><rect x="81.6" fill="#00a3ff"/><rect x="87" fill="#00b7ff"/><rect x="92.5" fill="#0075ff"/><rect x="97.9" fill="#006fff"/><rect x="103.4" fill="#0031ff"/></g>
<g class="h" transform="translate(417.8 354.87)"><rect x="0" fill="#00ff85"/><rect x="5.4" fill="#89ff00"/><rect x="10.9" fill="#6fff00"/><rect x="16.3" fill="#45ff00"/><rect x="21.8" fill="#23ff00"/><rect x="27.2" fill="#07ff00"/><rect x="32.6" fill="#03ff00"/><rect x="38.1" fill="#00ff80"/><rect x="43.5" fill="#00ff81"/><rect x="49" fill="#00ffb5"/><rect x="54.4" fill="#00faff"/><rect x="59.8" fill="#00ffff"/><rect x="65.3" fill="#00ffe7"/><rect x="70.7" fill="#00b7ff"/><rect x="76.2" fill="#00b5ff"/><rect x="81.6" fill="#00a9ff"/><rect x="87" fill="#0067ff"/><rect x="92.5" fill="#007eff"/><rect x="97.9" fill="#0041ff"/><rect x="103.4" fill="#002eff"/></g>
<g class="h" transform="translate(417.8 358.86)"><rect x="0" fill="#00eaff"/><rect x="5.4" fill="#7dff00"/><rect x="10.9" fill="#46ff00"/><rect x="16.3" fill="#31ff00"/><rect x="21.8" fill="#07ff00"/><rect x="27.2" fill="#05ff00"/><rect x="32.6" fill="#00ff27"/><rect x="38.1" fill="#00ffae"/><rect x="43.5" fill="#00ff9f"/><rect x="49" fill="#00ffdc"/><rect x="54.4" fill="#00fff8"/><rect x="59.8" fill="#00dfff"/><rect x="65.3" fill="#00f6ff"/><rect x="70.7" fill="#00cbff"/><rect x="76.2" fill="#00a8ff"/><rect x="81.6" fill="#008eff"/><rect x="87" fill="#005fff"/><rect x="92.5" fill="#0056ff"/><rect x="97.9" fill="#0035ff"/><rect x="103.4" fill="#0023ff"/></g>
<g class="h" transform="translate(417.8 362.84)"><rect x="0" fill="#00fcff"/><rect x="5.4" fill="#5aff00"/><rect x="10.9" fill="#3eff00"/><rect x="16.3" fill="#45ff00"/><rect x="21.8" fill="#1eff00"/><rect x="27.2" fill="#00ff58"/><rect x="32.6" fill="#00ff6b"/><rect x="38.1" fill="#00ff53"/><rect x="43.5" fill="#00ffc3"/><rect x="49" fill="#00ffdf"/><rect x="54.4" fill="#00ffe4"/><rect x="59.8" fill="#00d4ff"/><rect x="65.3" fill="#00ccff"/><rect x="70.7" fill="#00afff"/><rect x="76.2" fill="#0080ff"/><rect x="81.6" fill="#0096ff"/><rect x="87" fill="#0053ff"/><rect x="92.5" fill="#005bff"/><rect x="97.9" fill="#003bff"/><rect x="103.4" fill="#0a0bff"/></g>
<g class="h" transform="translate(417.8 366.83)"><rect x="0" fill="#00fffb"/><rect x="5.4" fill="#4aff00"/><rect x="10.9" fill="#30ff00"/><rect x="16.3" fill="#18ff00"/><rect x="21.8" fill="#17ff00"/><rect x="27.2" fill="#00ff79"/><rect x="32.6" fill="#00ff8e"/><rect x="38.1" fill="#00ff8d"/><rect x="43.5" fill="#00ffbf"/><rect x="49" fill="#00ecff"/><rect x="54.4" fill="#00ffee"/><rect x="59.8" fill="#0095ff"/><rect x="65.3" fill="#00d6ff"/><rect x="70.7" fill="#009dff"/><rect x="76.2" fill="#00d5ff"/><rect x="81.6" fill="#007bff"/><rect x="87" fill="#006dff"/><rect x="92.5" fill="#003dff"/><rect x="97.9" fill="#0024ff"/><rect x="103.4" fill="#0418ff"/></g>
<g class="h" transform="translate(417.8 370.82)"><rect x="0" fill="#00bfff"/><rect x="5.4" fill="#28ff00"/><rect x="10.9" fill="#2fff00"/><rect x="16.3" fill="#08ff00"/><rect x="21.8" fill="#21ff00"/><rect x="27.2" fill="#00ff67"/><rect x="32.6" fill="#00ffce"/><rect x="38.1" fill="#00ffbd"/><rect x="43.5" fill="#00fff8"/><rect x="49" fill="#00ffe7"/><rect x="54.4" fill="#00c9ff"/><rect x="59.8" fill="#00c2ff"/><rect x="65.3" fill="#00acff"/><rect x="70.7" fill="#007eff"/><rect x="76.2" fill="#005bff"/><rect x="81.6" fill="#005dff"/><rect x="87" fill="#007eff"/><rect x="92.5" fill="#0032ff"/><rect x="97.9" fill="#031bff"/><rect x="103.4" fill="#021bff"/></g>
<g class="h" transform="translate(417.8 374.81)"><rect x="0" fill="#00ffdc"/><rect x="5.4" fill="#30ff00"/><rect x="10.9" fill="#19ff00"/><rect x="16.3" fill="#00ff04"/><rect x="21.8" fill="#00ff36"/><rect x="27.2" fill="#00ffa0"/><rect x="32.6" fill="#00ffc8"/><rect x="38.1" fill="#00ffda"/><rect x="43.5" fill="#00edff"/><rect x="49" fill="#00f6ff"/><rect x="54.4" fill="#00ffff"/><rect x="59.8" fill="#00bbff"/><rect x="65.3" fill="#008aff"/><rect x="70.7" fill="#004cff"/><rect x="76.2" fill="#00b2ff"/><rect x="81.6" fill="#0072ff"/><rect x="87" fill="#0061ff"/><rect x="92.5" fill="#002cff"/><rect x="97.9" fill="#0027ff"/><rect x="103.4" fill="#0c07ff"/></g>
<g class="h" transform="translate(417.8 378.80)"><rect x="0" fill="#00d2ff"/><rect x="5.4" fill="#29ff00"/><rect x="10.9" fill="#04ff00"/><rect x="16.3" fill="#00ff85"/><rect x="21.8" fill="#00ff9f"/><rect x="27.2" fill="#00ff82"/><rect x="32.6" fill="#00eaff"/><rect x="38.1" fill="#00ffe1"/><rect x="43.5" fill="#00e1ff"/><rect x="49" fill="#00e4ff"/><rect x="54.4" fill="#00d3ff"/><rect x="59.8" fill="#00c4ff"/><rect x="65.3" fill="#0089ff"/><rect x="70.7" fill="#0099ff"/><rect x="76.2" fill="#008fff"/><rect x="81.6" fill="#0069ff"/><rect x="87" fill="#0043ff"/><rect x="92.5" fill="#005aff"/><rect x="97.9" fill="#0a0cff"/><rect x="103.4" fill="#0a0dff"/></g>
<g class="h" transform="translate(417.8 382.79)"><rect x="0" fill="#00d5ff"/><rect x="5.4" fill="#00ff19"/><rect x="10.9" fill="#00ff33"/><rect x="16.3" fill="#00ff86"/><rect x="21.8" fill="#00ff94"/><rect x="27.2" fill="#00ffba"/><rect x="32.6" fill="#00ffb1"/><rect x="38.1" fill="#00fbff"/><rect x="43.5" fill="#00eaff"/><rect x="49" fill="#00fff0"/><rect x="54.4" fill="#00b2ff"/><rect x="59.8" fill="#007cff"/><rect x="65.3" fill="#0087ff"/><rect x="70.7" fill="#005fff"/><rect x="76.2" fill="#006cff"/><rect x="81.6" fill="#0068ff"/><rect x="87" fill="#0039ff"/><rect x="92.5" fill="#002cff"/><rect x="97.9" fill="#011eff"/><rect x="103.4" fill="#2200fe"/></g>
<g class="h" transform="translate(417.8 386.77)"><rect x="0" fill="#00e0ff"/><rect x="5.4" fill="#0dff00"/><rect x="10.9" fill="#00ff59"/><rect x="16.3" fill="#00ff94"/><rect x="21.8" fill="#00ffd3"/><rect x="27.2" fill="#00e7ff"/><rect x="32.6" fill="#00ffef"/><rect x="38.1" fill="#00fff8"/><rect x="43.5" fill="#00a5ff"/><rect x="49" fill="#007bff"/><rect x="54.4" fill="#00beff"/><rect x="59.8" fill="#00b5ff"/><rect x="65.3" fill="#00abff"/><rect x="70.7" fill="#0072ff"/><rect x="76.2" fill="#0059ff"/><rect x="81.6" fill="#004cff"/><rect x="87" fill="#011fff"/><rect x="92.5" fill="#0030ff"/><rect x="97.9" fill="#0614ff"/><rect x="103.4" fill="#0b0aff"/></g>
<g class="h" transform="translate(417.8 390.76)"><rect x="0" fill="#00b9ff"/><rect x="5.4" fill="#00ff51"/><rect x="10.9" fill="#00ffa6"/><rect x="16.3" fill="#00ffa1"/><rect x="21.8" fill="#00f7ff"/><rect x="27.2" fill="#00f4ff"/><rect x="32.6" fill="#00d3ff"/><rect x="38.1" fill="#00c2ff"/><rect x="43.5" fill="#00c6ff"/><rect x="49" fill="#00b3ff"/><rect x="54.4" fill="#00cbff"/><rect x="59.8" fill="#00a0ff"/><rect x="65.3" fill="#0087ff"/><rect x="70.7" fill="#0085ff"/><rect x="76.2" fill="#0050ff"/><rect x="81.6" fill="#011fff"/><rect x="87" fill="#0034ff"/><rect x="92.5" fill="#002cff"/><rect x="97.9" fill="#0713ff"/><rect x="103.4" fill="#2100fe"/></g>
<g class="h" transform="translate(417.8 394.75)"><rect x="0" fill="#00abff"/><rect x="5.4" fill="#00ff4a"/><rect x="10.9" fill="#00ff9c"/><rect x="16.3" fill="#00ffb8"/><rect x="21.8" fill="#00f8ff"/><rect x="27.2" fill="#00d4ff"/><rect x="32.6" fill="#00deff"/><rect x="38.1" fill="#00c1ff"/><rect x="43.5" fill="#00c1ff"/><rect x="49" fill="#008cff"/><rect x="54.4" fill="#0071ff"/><rect x="59.8" fill="#007cff"/><rect x="65.3" fill="#006eff"/><rect x="70.7" fill="#0060ff"/><rect x="76.2" fill="#0058ff"/><rect x="81.6" fill="#0043ff"/><rect x="87" fill="#0029ff"/><rect x="92.5" fill="#0516ff"/><rect x="97.9" fill="#0d05ff"/><rect x="103.4" fill="#3600fd"/></g>
<g class="h" transform="translate(417.8 398.74)"><rect x="0" fill="#00c4ff"/><rect x="5.4" fill="#00ff93"/><rect x="10.9" fill="#00ffc3"/><rect x="16.3" fill="#00ffe9"/><rect x="21.8" fill="#00f0ff"/><rect x="27.2" fill="#00fff7"/><rect x="32.6" fill="#0099ff"/><rect x="38.1" fill="#00c7ff"/><rect x="43.5" fill="#00b1ff"/><rect x="49" fill="#006bff"/><rect x="54.4" fill="#00aaff"/><rect x="59.8" fill="#0091ff"/><rect x="65.3" fill="#0077ff"/><rect x="70.7" fill="#006aff"/><rect x="76.2" fill="#0041ff"/><rect x="81.6" fill="#0025ff"/><rect x="87" fill="#0516ff"/><rect x="92.5" fill="#0516ff"/><rect x="97.9" fill="#1800ff"/><rect x="103.4" fill="#2200fe"/></g>
<g class="h" transform="translate(417.8 402.73)"><rect x="0" fill="#00c6ff"/><rect x="5.4" fill="#00ff8e"/><rect x="10.9" fill="#00ff75"/><rect x="16.3" fill="#00ffec"/><rect x="21.8" fill="#00ecff"/><rect x="27.2" fill="#00fff1"/><rect x="32.6" fill="#00ffe0"/><rect x="38.1" fill="#00adff"/><rect x="43.5" fill="#00b6ff"/><rect x="49" fill="#0082ff"/><rect x="54.4" fill="#008bff"/><rect x="59.8" fill="#007fff"/><rect x="65.3" fill="#007cff"/><rect x="70.7" fill="#0059ff"/><rect x="76.2" fill="#0057ff"/><rect x="81.6" fill="#0035ff"/><rect x="87" fill="#0613ff"/><rect x="92.5" fill="#0418ff"/><rect x="97.9" fill="#1600ff"/><rect x="103.4" fill="#2900fe"/></g>
<g class="h" transform="translate(417.8 406.72)"><rect x="0" fill="#00dfff"/><rect x="5.4" fill="#00ff37"/><rect x="10.9" fill="#00ffcb"/><rect x="16.3" fill="#00ffda"/><rect x="21.8" fill="#00e5ff"/><rect x="27.2" fill="#00fffc"/><rect x="32.6" fill="#00beff"/><rect x="38.1" fill="#00aaff"/><rect x="43.5" fill="#00b5ff"/><rect x="49" fill="#00c4ff"/><rect x="54.4" fill="#008eff"/><rect x="59.8" fill="#007bff"/><rect x="65.3" fill="#007fff"/><rect x="70.7" fill="#006aff"/><rect x="76.2" fill="#002cff"/><rect x="81.6" fill="#002bff"/><rect x="87" fill="#0022ff"/><rect x="92.5" fill="#0b0aff"/><rect x="97.9" fill="#0f02ff"/><rect x="103.4" fill="#1e00fe"/></g>
<g class="h" transform="translate(417.8 410.70)"><rect x="0" fill="#00bdff"/><rect x="5.4" fill="#00ff5a"/><rect x="10.9" fill="#00ffd0"/><rect x="16.3" fill="#00ffe1"/><rect x="21.8" fill="#00e5ff"/><rect x="27.2" fill="#00b3ff"/><rect x="32.6" fill="#00b7ff"/><rect x="38.1" fill="#00a5ff"/><rect x="43.5" fill="#0096ff"/><rect x="49" fill="#007eff"/><rect x="54.4" fill="#0086ff"/><rect x="59.8" fill="#0072ff"/><rect x="65.3" fill="#0077ff"/><rect x="70.7" fill="#002cff"/><rect x="76.2" fill="#0054ff"/><rect x="81.6" fill="#031aff"/><rect x="87" fill="#002eff"/><rect x="92.5" fill="#090dff"/><rect x="97.9" fill="#2500fe"/><rect x="103.4" fill="#1800ff"/></g>
<g class="h" transform="translate(417.8 414.69)"><rect x="0" fill="#00a3ff"/><rect x="5.4" fill="#00ff45"/><rect x="10.9" fill="#00ff9d"/><rect x="16.3" fill="#00fdff"/><rect x="21.8" fill="#00fff1"/><rect x="27.2" fill="#00b8ff"/><rect x="32.6" fill="#00b5ff"/><rect x="38.1" fill="#00fdff"/><rect x="43.5" fill="#00c8ff"/><rect x="49" fill="#00a8ff"/><rect x="54.4" fill="#007dff"/><rect x="59.8" fill="#0098ff"/><rect x="65.3" fill="#0082ff"/><rect x="70.7" fill="#004aff"/><rect x="76.2" fill="#0056ff"/><rect x="81.6" fill="#0020ff"/><rect x="87" fill="#0036ff"/><rect x="92.5" fill="#0c08ff"/><rect x="97.9" fill="#2800fe"/><rect x="103.4" fill="#1700ff"/></g>
<g class="h" transform="translate(417.8 418.68)"><rect x="0" fill="#00ffe8"/><rect x="5.4" fill="#00ff29"/><rect x="10.9" fill="#00ffd6"/><rect x="16.3" fill="#00ffe6"/><rect x="21.8" fill="#00cfff"/><rect x="27.2" fill="#00f8ff"/><rect x="32.6" fill="#00dcff"/><rect x="38.1" fill="#00b4ff"/><rect x="43.5" fill="#0082ff"/><rect x="49" fill="#0099ff"/><rect x="54.4" fill="#00a3ff"/><rect x="59.8" fill="#0074ff"/><rect x="65.3" fill="#006eff"/><rect x="70.7" fill="#004cff"/><rect x="76.2" fill="#0043ff"/><rect x="81.6" fill="#0034ff"/><rect x="87" fill="#031bff"/><rect x="92.5" fill="#003fff"/><rect x="97.9" fill="#1400ff"/><rect x="103.4" fill="#4100fc"/></g>
<g class="h" transform="translate(417.8 422.67)"><rect x="0" fill="#00c2ff"/><rect x="5.4" fill="#00ff51"/><rect x="10.9" fill="#00ff8c"/><rect x="16.3" fill="#00e0ff"/><rect x="21.8" fill="#00f9ff"/><rect x="27.2" fill="#00d7ff"/><rect x="32.6" fill="#00bbff"/><rect x="38.1" fill="#00c0ff"/><rect x="43.5" fill="#009eff"/><rect x="49" fill="#006cff"/><rect x="54.4" fill="#0093ff"/><rect x="59.8" fill="#004dff"/><rect x="65.3" fill="#0066ff"/><rect x="70.7" fill="#004fff"/><rect x="76.2" fill="#0027ff"/><rect x="81.6" fill="#0418ff"/><rect x="87" fill="#090eff"/><rect x="92.5" fill="#0a0cff"/><rect x="97.9" fill="#0d06ff"/><rect x="103.4" fill="#4900fc"/></g>
<g class="h" transform="translate(417.8 426.66)"><rect x="0" fill="#00d4ff"/><rect x="5.4" fill="#00ff5d"/><rect x="10.9" fill="#00ffda"/><rect x="16.3" fill="#00f1ff"/><rect x="21.8" fill="#00eaff"/><rect x="27.2" fill="#00ceff"/><rect x="32.6" fill="#00afff"/><rect x="38.1" fill="#007aff"/><rect x="43.5" fill="#009fff"/><rect x="49" fill="#00b3ff"/><rect x="54.4" fill="#0094ff"/><rect x="59.8" fill="#006dff"/><rect x="65.3" fill="#0073ff"/><rect x="70.7" fill="#0065ff"/><rect x="76.2" fill="#002bff"/><rect x="81.6" fill="#0319ff"/><rect x="87" fill="#021cff"/><rect x="92.5" fill="#090eff"/><rect x="97.9" fill="#0d06ff"/><rect x="103.4" fill="#2300fe"/></g>
<g class="h" transform="translate(417.8 430.65)"><rect x="0" fill="#00d8ff"/><rect x="5.4" fill="#00ff4a"/><rect x="10.9" fill="#00ffcb"/><rect x="16.3" fill="#00fff9"/><rect x="21.8" fill="#00f7ff"/><rect x="27.2" fill="#00ccff"/><rect x="32.6" fill="#00bbff"/><rect x="38.1" fill="#00c2ff"/><rect x="43.5" fill="#00adff"/><rect x="49" fill="#00a6ff"/><rect x="54.4" fill="#0063ff"/><rect x="59.8" fill="#00a5ff"/><rect x="65.3" fill="#006fff"/><rect x="70.7" fill="#0041ff"/><rect x="76.2" fill="#0055ff"/><rect x="81.6" fill="#0039ff"/><rect x="87" fill="#002aff"/><rect x="92.5" fill="#002dff"/><rect x="97.9" fill="#2600fe"/><rect x="103.4" fill="#2900fe"/></g>
<g class="h" transform="translate(417.8 434.63)"><rect x="0" fill="#00eeff"/><rect x="5.4" fill="#00ff6e"/><rect x="10.9" fill="#00ffc6"/><rect x="16.3" fill="#00fff0"/><rect x="21.8" fill="#00fffb"/><rect x="27.2" fill="#00c3ff"/><rect x="32.6" fill="#00d8ff"/><rect x="38.1" fill="#00baff"/><rect x="43.5" fill="#009aff"/><rect x="49" fill="#00a6ff"/><rect x="54.4" fill="#0083ff"/><rect x="59.8" fill="#008aff"/><rect x="65.3" fill="#0031ff"/><rect x="70.7" fill="#0060ff"/><rect x="76.2" fill="#002dff"/><rect x="81.6" fill="#0038ff"/><rect x="87" fill="#002eff"/><rect x="92.5" fill="#0614ff"/><rect x="97.9" fill="#0e04ff"/><rect x="103.4" fill="#2700fe"/></g>
<g class="h" transform="translate(417.8 438.62)"><rect x="0" fill="#00d2ff"/><rect x="5.4" fill="#00ffa4"/><rect x="10.9" fill="#00fffc"/><rect x="16.3" fill="#00ccff"/><rect x="21.8" fill="#00e9ff"/><rect x="27.2" fill="#009fff"/><rect x="32.6" fill="#0092ff"/><rect x="38.1" fill="#00c1ff"/><rect x="43.5" fill="#00acff"/><rect x="49" fill="#0095ff"/><rect x="54.4" fill="#0057ff"/><rect x="59.8" fill="#007dff"/><rect x="65.3" fill="#0075ff"/><rect x="70.7" fill="#0037ff"/><rect x="76.2" fill="#0042ff"/><rect x="81.6" fill="#0029ff"/><rect x="87" fill="#0614ff"/><rect x="92.5" fill="#0811ff"/><rect x="97.9" fill="#021cff"/><rect x="103.4" fill="#1600ff"/></g>
<g class="h" transform="translate(417.8 442.61)"><rect x="0" fill="#00c1ff"/><rect x="5.4" fill="#00ff45"/><rect x="10.9" fill="#00ffe4"/><rect x="16.3" fill="#00fff5"/><rect x="21.8" fill="#00e6ff"/><rect x="27.2" fill="#00cdff"/><rect x="32.6" fill="#00f5ff"/><rect x="38.1" fill="#00c6ff"/><rect x="43.5" fill="#00bfff"/><rect x="49" fill="#008eff"/><rect x="54.4" fill="#0063ff"/><rect x="59.8" fill="#0081ff"/><rect x="65.3" fill="#006fff"/><rect x="70.7" fill="#0086ff"/><rect x="76.2" fill="#0048ff"/><rect x="81.6" fill="#002cff"/><rect x="87" fill="#011dff"/><rect x="92.5" fill="#0a0cff"/><rect x="97.9" fill="#2700fe"/><rect x="103.4" fill="#2900fe"/></g>
<g class="h" transform="translate(417.8 446.60)"><rect x="0" fill="#00cbff"/><rect x="5.4" fill="#00ff3d"/><rect x="10.9" fill="#00ffd0"/><rect x="16.3" fill="#00fff7"/><rect x="21.8" fill="#00ffdc"/><rect x="27.2" fill="#00ccff"/><rect x="32.6" fill="#00d7ff"/><rect x="38.1" fill="#0098ff"/><rect x="43.5" fill="#0096ff"/><rect x="49" fill="#0093ff"/><rect x="54.4" fill="#005fff"/><rect x="59.8" fill="#007fff"/><rect x="65.3" fill="#0078ff"/><rect x="70.7" fill="#0058ff"/><rect x="76.2" fill="#003dff"/><rect x="81.6" fill="#003bff"/><rect x="87" fill="#0615ff"/><rect x="92.5" fill="#090eff"/><rect x="97.9" fill="#0c08ff"/><rect x="103.4" fill="#0f02ff"/></g>
<g class="h" transform="translate(417.8 450.59)"><rect x="0" fill="#00b5ff"/><rect x="5.4" fill="#00ffac"/><rect x="10.9" fill="#00ffd9"/><rect x="16.3" fill="#00ebff"/><rect x="21.8" fill="#00bcff"/><rect x="27.2" fill="#00ccff"/><rect x="32.6" fill="#0097ff"/><rect x="38.1" fill="#00b7ff"/><rect x="43.5" fill="#00baff"/><rect x="49" fill="#0093ff"/><rect x="54.4" fill="#008eff"/><rect x="59.8" fill="#006eff"/><rect x="65.3" fill="#0045ff"/><rect x="70.7" fill="#004dff"/><rect x="76.2" fill="#0026ff"/><rect x="81.6" fill="#0b0aff"/><rect x="87" fill="#0d06ff"/><rect x="92.5" fill="#0811ff"/><rect x="97.9" fill="#0c09ff"/><rect x="103.4" fill="#4c00fb"/></g>
<g class="h" transform="translate(417.8 454.58)"><rect x="0" fill="#00f2ff"/><rect x="5.4" fill="#00ff33"/><rect x="10.9" fill="#00ff82"/><rect x="16.3" fill="#00e3ff"/><rect x="21.8" fill="#00ffe7"/><rect x="27.2" fill="#00dbff"/><rect x="32.6" fill="#00c7ff"/><rect x="38.1" fill="#008eff"/><rect x="43.5" fill="#00c7ff"/><rect x="49" fill="#0092ff"/><rect x="54.4" fill="#007dff"/><rect x="59.8" fill="#0058ff"/><rect x="65.3" fill="#0074ff"/><rect x="70.7" fill="#0050ff"/><rect x="76.2" fill="#0045ff"/><rect x="81.6" fill="#0516ff"/><rect x="87" fill="#0810ff"/><rect x="92.5" fill="#0517ff"/><rect x="97.9" fill="#1700ff"/><rect x="103.4" fill="#0f03ff"/></g>
<g class="h" transform="translate(417.8 458.56)"><rect x="0" fill="#00d3ff"/><rect x="5.4" fill="#00ff5d"/><rect x="10.9" fill="#00ffb2"/><rect x="16.3" fill="#00e8ff"/><rect x="21.8" fill="#00b1ff"/><rect x="27.2" fill="#00cfff"/><rect x="32.6" fill="#00c8ff"/><rect x="38.1" fill="#00bcff"/><rect x="43.5" fill="#008dff"/><rect x="49" fill="#0098ff"/><rect x="54.4" fill="#006dff"/><rect x="59.8" fill="#0055ff"/><rect x="65.3" fill="#0060ff"/><rect x="70.7" fill="#0060ff"/><rect x="76.2" fill="#002dff"/><rect x="81.6" fill="#0037ff"/><rect x="87" fill="#003fff"/><rect x="92.5" fill="#0e05ff"/><rect x="97.9" fill="#2e00fd"/><rect x="103.4" fill="#3b00fd"/></g>
<g class="h" transform="translate(417.8 462.55)"><rect x="0" fill="#00e0ff"/><rect x="5.4" fill="#0aff00"/><rect x="10.9" fill="#00ffa7"/><rect x="16.3" fill="#00f3ff"/><rect x="21.8" fill="#00f8ff"/><rect x="27.2" fill="#00afff"/><rect x="32.6" fill="#00dcff"/><rect x="38.1" fill="#00a7ff"/><rect x="43.5" fill="#009dff"/><rect x="49" fill="#008dff"/><rect x="54.4" fill="#00adff"/><rect x="59.8" fill="#007dff"/><rect x="65.3" fill="#0069ff"/><rect x="70.7" fill="#0061ff"/><rect x="76.2" fill="#005fff"/><rect x="81.6" fill="#0034ff"/><rect x="87" fill="#002dff"/><rect x="92.5" fill="#090eff"/><rect x="97.9" fill="#1c00fe"/><rect x="103.4" fill="#2700fe"/></g>
<g class="h" transform="translate(417.8 466.54)"><rect x="0" fill="#00ceff"/><rect x="5.4" fill="#00ff79"/><rect x="10.9" fill="#00ffc2"/><rect x="16.3" fill="#00ffbb"/><rect x="21.8" fill="#00edff"/><rect x="27.2" fill="#00bfff"/><rect x="32.6" fill="#00d6ff"/><rect x="38.1" fill="#00a3ff"/><rect x="43.5" fill="#00d0ff"/><rect x="49" fill="#0095ff"/><rect x="54.4" fill="#008cff"/><rect x="59.8" fill="#0070ff"/><rect x="65.3" fill="#006dff"/><rect x="70.7" fill="#0025ff"/><rect x="76.2" fill="#008fff"/><rect x="81.6" fill="#004cff"/><rect x="87" fill="#0028ff"/><rect x="92.5" fill="#0712ff"/><rect x="97.9" fill="#0a0cff"/><rect x="103.4" fill="#1300ff"/></g>
<g class="h" transform="translate(417.8 470.53)"><rect x="0" fill="#00fff7"/><rect x="5.4" fill="#00ff3e"/><rect x="10.9" fill="#00ff9f"/><rect x="16.3" fill="#00dcff"/><rect x="21.8" fill="#00fff6"/><rect x="27.2" fill="#008dff"/><rect x="32.6" fill="#00abff"/><rect x="38.1" fill="#00c0ff"/><rect x="43.5" fill="#0090ff"/><rect x="49" fill="#007cff"/><rect x="54.4" fill="#00a9ff"/><rect x="59.8" fill="#00a9ff"/><rect x="65.3" fill="#004fff"/><rect x="70.7" fill="#0071ff"/><rect x="76.2" fill="#002eff"/><rect x="81.6" fill="#011eff"/><rect x="87" fill="#0040ff"/><rect x="92.5" fill="#0a0cff"/><rect x="97.9" fill="#1200ff"/><rect x="103.4" fill="#3300fd"/></g>
<g class="h" transform="translate(417.8 474.52)"><rect x="0" fill="#00dcff"/><rect x="5.4" fill="#00ff8c"/><rect x="10.9" fill="#00ffc5"/><rect x="16.3" fill="#00ffee"/><rect x="21.8" fill="#00c3ff"/><rect x="27.2" fill="#00c0ff"/><rect x="32.6" fill="#009fff"/><rect x="38.1" fill="#00afff"/><rect x="43.5" fill="#0088ff"/><rect x="49" fill="#00b3ff"/><rect x="54.4" fill="#009aff"/><rect x="59.8" fill="#0065ff"/><rect x="65.3" fill="#0077ff"/><rect x="70.7" fill="#0064ff"/><rect x="76.2" fill="#0040ff"/><rect x="81.6" fill="#0052ff"/><rect x="87" fill="#031bff"/><rect x="92.5" fill="#090eff"/><rect x="97.9" fill="#0b0aff"/><rect x="103.4" fill="#0d06ff"/></g>
<g class="h" transform="translate(417.8 478.51)"><rect x="0" fill="#00abff"/><rect x="5.4" fill="#00ff89"/><rect x="10.9" fill="#00ff98"/><rect x="16.3" fill="#00ffe2"/><rect x="21.8" fill="#00ffdb"/><rect x="27.2" fill="#00ffef"/><rect x="32.6" fill="#00fffc"/><rect x="38.1" fill="#00d2ff"/><rect x="43.5" fill="#009eff"/><rect x="49" fill="#0085ff"/><rect x="54.4" fill="#008cff"/><rect x="59.8" fill="#0065ff"/><rect x="65.3" fill="#0065ff"/><rect x="70.7" fill="#0077ff"/><rect x="76.2" fill="#0058ff"/><rect x="81.6" fill="#0027ff"/><rect x="87" fill="#0515ff"/><rect x="92.5" fill="#0c07ff"/><rect x="97.9" fill="#0417ff"/><rect x="103.4" fill="#0711ff"/></g>
<g class="h" transform="translate(417.8 482.49)"><rect x="0" fill="#00a5ff"/><rect x="5.4" fill="#00ff6b"/><rect x="10.9" fill="#00ffd7"/><rect x="16.3" fill="#00fff5"/><rect x="21.8" fill="#00ffe1"/><rect x="27.2" fill="#00b6ff"/><rect x="32.6" fill="#00bfff"/><rect x="38.1" fill="#0092ff"/><rect x="43.5" fill="#009aff"/><rect x="49" fill="#00b6ff"/><rect x="54.4" fill="#008aff"/><rect x="59.8" fill="#0066ff"/><rect x="65.3" fill="#0083ff"/><rect x="70.7" fill="#0057ff"/><rect x="76.2" fill="#002aff"/><rect x="81.6" fill="#004bff"/><rect x="87" fill="#0024ff"/><rect x="92.5" fill="#0712ff"/><rect x="97.9" fill="#1500ff"/><rect x="103.4" fill="#1500ff"/></g>
<g class="h" transform="translate(417.8 486.48)"><rect x="0" fill="#00f3ff"/><rect x="5.4" fill="#00ff8b"/><rect x="10.9" fill="#00ffa4"/><rect x="16.3" fill="#00fdff"/><rect x="21.8" fill="#00e9ff"/><rect x="27.2" fill="#00e4ff"/><rect x="32.6" fill="#00b5ff"/><rect x="38.1" fill="#009bff"/><rect x="43.5" fill="#00d0ff"/><rect x="49" fill="#008cff"/><rect x="54.4" fill="#008eff"/><rect x="59.8" fill="#0085ff"/><rect x="65.3" fill="#0071ff"/><rect x="70.7" fill="#0040ff"/><rect x="76.2" fill="#0049ff"/><rect x="81.6" fill="#0037ff"/><rect x="87" fill="#0039ff"/><rect x="92.5" fill="#0516ff"/><rect x="97.9" fill="#0c08ff"/><rect x="103.4" fill="#0c08ff"/></g>
<g class="h" transform="translate(417.8 490.47)"><rect x="0" fill="#00e8ff"/><rect x="5.4" fill="#00ff88"/><rect x="10.9" fill="#00ffe2"/><rect x="16.3" fill="#00ffeb"/><rect x="21.8" fill="#00bcff"/><rect x="27.2" fill="#00c3ff"/><rect x="32.6" fill="#00b6ff"/><rect x="38.1" fill="#00acff"/><rect x="43.5" fill="#00a9ff"/><rect x="49" fill="#00acff"/><rect x="54.4" fill="#008bff"/><rect x="59.8" fill="#007bff"/><rect x="65.3" fill="#006eff"/><rect x="70.7" fill="#0038ff"/><rect x="76.2" fill="#021bff"/><rect x="81.6" fill="#0022ff"/><rect x="87" fill="#0712ff"/><rect x="92.5" fill="#021cff"/><rect x="97.9" fill="#0020ff"/><rect x="103.4" fill="#1200ff"/></g>
<g class="h" transform="translate(417.8 494.46)"><rect x="0" fill="#00d8ff"/><rect x="5.4" fill="#00ffa5"/><rect x="10.9" fill="#00fcff"/><rect x="16.3" fill="#00fffd"/><rect x="21.8" fill="#00cfff"/><rect x="27.2" fill="#00c0ff"/><rect x="32.6" fill="#00c8ff"/><rect x="38.1" fill="#00a6ff"/><rect x="43.5" fill="#00a1ff"/><rect x="49" fill="#0072ff"/><rect x="54.4" fill="#00a6ff"/><rect x="59.8" fill="#00bdff"/><rect x="65.3" fill="#006fff"/><rect x="70.7" fill="#0046ff"/><rect x="76.2" fill="#002dff"/><rect x="81.6" fill="#003dff"/><rect x="87" fill="#0417ff"/><rect x="92.5" fill="#021bff"/><rect x="97.9" fill="#0f01ff"/><rect x="103.4" fill="#0c08ff"/></g>
<g class="h" transform="translate(417.8 498.45)"><rect x="0" fill="#00feff"/><rect x="5.4" fill="#00ff96"/><rect x="10.9" fill="#00ff90"/><rect x="16.3" fill="#00ffc7"/><rect x="21.8" fill="#00deff"/><rect x="27.2" fill="#00ddff"/><rect x="32.6" fill="#00ffed"/><rect x="38.1" fill="#009dff"/><rect x="43.5" fill="#00cfff"/><rect x="49" fill="#00a8ff"/><rect x="54.4" fill="#008cff"/><rect x="59.8" fill="#004eff"/><rect x="65.3" fill="#0073ff"/><rect x="70.7" fill="#0047ff"/><rect x="76.2" fill="#004aff"/><rect x="81.6" fill="#0024ff"/><rect x="87" fill="#003dff"/><rect x="92.5" fill="#0614ff"/><rect x="97.9" fill="#0711ff"/><rect x="103.4" fill="#0a0cff"/></g>
<g class="h" transform="translate(417.8 502.44)"><rect x="0" fill="#00d9ff"/><rect x="5.4" fill="#00ff97"/><rect x="10.9" fill="#00ffc4"/><rect x="16.3" fill="#00ffeb"/><rect x="21.8" fill="#00e0ff"/><rect x="27.2" fill="#00fffe"/><rect x="32.6" fill="#00c7ff"/><rect x="38.1" fill="#00b1ff"/><rect x="43.5" fill="#00b1ff"/><rect x="49" fill="#00a3ff"/><rect x="54.4" fill="#0086ff"/><rect x="59.8" fill="#008dff"/><rect x="65.3" fill="#0078ff"/><rect x="70.7" fill="#004cff"/><rect x="76.2" fill="#0074ff"/><rect x="81.6" fill="#031aff"/><rect x="87" fill="#0319ff"/><rect x="92.5" fill="#0711ff"/><rect x="97.9" fill="#0517ff"/><rect x="103.4" fill="#0d07ff"/></g>
<g class="h" transform="translate(417.8 506.42)"><rect x="0" fill="#00f3ff"/><rect x="5.4" fill="#00ff8a"/><rect x="10.9" fill="#00ffc8"/><rect x="16.3" fill="#00e9ff"/><rect x="21.8" fill="#00f4ff"/><rect x="27.2" fill="#00ffe0"/><rect x="32.6" fill="#00edff"/><rect x="38.1" fill="#00cbff"/><rect x="43.5" fill="#00a7ff"/><rect x="49" fill="#00c7ff"/><rect x="54.4" fill="#0090ff"/><rect x="59.8" fill="#007dff"/><rect x="65.3" fill="#0082ff"/><rect x="70.7" fill="#0063ff"/><rect x="76.2" fill="#031aff"/><rect x="81.6" fill="#0034ff"/><rect x="87" fill="#0c08ff"/><rect x="92.5" fill="#0712ff"/><rect x="97.9" fill="#0614ff"/><rect x="103.4" fill="#1400ff"/></g>
<g class="h" transform="translate(417.8 510.41)"><rect x="0" fill="#00f0ff"/><rect x="5.4" fill="#00ff69"/><rect x="10.9" fill="#00ff63"/><rect x="16.3" fill="#00fffc"/><rect x="21.8" fill="#00fff5"/><rect x="27.2" fill="#00c6ff"/><rect x="32.6" fill="#00d1ff"/><rect x="38.1" fill="#00ceff"/><rect x="43.5" fill="#00cfff"/><rect x="49" fill="#009fff"/><rect x="54.4" fill="#0097ff"/><rect x="59.8" fill="#0095ff"/><rect x="65.3" fill="#0049ff"/><rect x="70.7" fill="#0063ff"/><rect x="76.2" fill="#0036ff"/><rect x="81.6" fill="#0319ff"/><rect x="87" fill="#021bff"/><rect x="92.5" fill="#090eff"/><rect x="97.9" fill="#0c07ff"/><rect x="103.4" fill="#1900ff"/></g>
<rect x="417.8" y="275.1" width="108.8" height="239.3" fill="none" stroke="#222" stroke-width="1"/>
<path d="M420.5 275.1v-4.8M431.4 275.1v-2.4M442.3 275.1v-2.4M453.1 275.1v-2.4M464 275.1v-2.4M474.9 275.1v-4.8M485.8 275.1v-2.4M496.7 275.1v-2.4M507.5 275.1v-2.4M518.4 275.1v-2.4M417.8 276.7h-4.6M417.8 284.7h-2.4M417.8 292.6h-2.4M417.8 300.6h-2.4M417.8 308.6h-2.4M417.8 316.6h-2.4M417.8 324.5h-2.4M417.8 332.5h-2.4M417.8 340.5h-2.4M417.8 348.4h-2.4M417.8 356.4h-4.6M417.8 364.4h-2.4M417.8 372.3h-2.4M417.8 380.3h-2.4M417.8 388.3h-2.4M417.8 396.3h-2.4M417.8 404.2h-2.4M417.8 412.2h-2.4M417.8 420.2h-2.4M417.8 428.1h-2.4M417.8 436.1h-4.6M417.8 444.1h-2.4M417.8 452h-2.4M417.8 460h-2.4M417.8 468h-2.4M417.8 476h-2.4M417.8 483.9h-2.4M417.8 491.9h-2.4M417.8 499.9h-2.4M417.8 507.8h-2.4" stroke="#333" stroke-width="1" fill="none"/>
<text x="479" y="255.6" font-size="11.7" fill="#0c0c0c" stroke="#0c0c0c" text-anchor="middle">Stimulus no.</text>
<text x="422.8" y="269" font-size="10.3" fill="#0c0c0c" stroke="#0c0c0c" text-anchor="middle">1</text>
<text x="449.1" y="269" font-size="10.3" fill="#0c0c0c" stroke="#0c0c0c" text-anchor="middle">5</text>
<text x="476.3" y="269" font-size="10.3" fill="#0c0c0c" stroke="#0c0c0c" text-anchor="middle">10</text>
<text x="503.2" y="269" font-size="10.3" fill="#0c0c0c" stroke="#0c0c0c" text-anchor="middle">15</text>
<text x="526.7" y="269" font-size="10.3" fill="#0c0c0c" stroke="#0c0c0c" text-anchor="middle">20</text>
<text transform="translate(409.5 276.3) rotate(-90)" font-size="12" fill="#0c0c0c" stroke="#0c0c0c" text-anchor="middle">0</text>
<text transform="translate(410.5 395.6) rotate(-90)" font-size="10.9" fill="#0c0c0c" stroke="#0c0c0c" text-anchor="middle">10</text>
<text transform="translate(410.8 511.3) rotate(-90)" font-size="12" fill="#0c0c0c" stroke="#0c0c0c" text-anchor="middle">20</text>
<path d="M400 276.4l-9.9 -2.5l0.5 2.5l-0.5 2.5z" fill="#3535f5"/>
<path d="M398.3 512.2l-9.9 -2.5l0.5 2.5l-0.5 2.5z" fill="#8aaafc"/>
<linearGradient id="cbG"><stop offset="0%" stop-color="#800000"/><stop offset="11%" stop-color="#a00000"/><stop offset="20%" stop-color="#d80000"/><stop offset="27%" stop-color="#ff0000"/><stop offset="36%" stop-color="#ff1000"/><stop offset="42%" stop-color="#ff8000"/><stop offset="47%" stop-color="#ffd000"/><stop offset="50%" stop-color="#ffff00"/><stop offset="56.5%" stop-color="#a0ff00"/><stop offset="63%" stop-color="#30ff00"/><stop offset="66%" stop-color="#00ff00"/><stop offset="69%" stop-color="#00ff80"/><stop offset="73.5%" stop-color="#00ffff"/><stop offset="78.5%" stop-color="#0080ff"/><stop offset="83%" stop-color="#0020ff"/><stop offset="86%" stop-color="#1000ff"/><stop offset="91%" stop-color="#6000e0"/><stop offset="95.5%" stop-color="#8000c0"/><stop offset="100%" stop-color="#7a0096"/></linearGradient>
<rect x="439.2" y="518.1" width="61.6" height="7" fill="url(#cbG)" stroke="#333" stroke-width="0.8"/>
<path d="M440.2 525.1v5M455.2 525.1v5M470.2 525.1v5M485.2 525.1v5M500.2 525.1v5" stroke="#222" stroke-width="1.1" fill="none"/>
<text transform="translate(443.6 533.7) rotate(-45)" font-size="9.6" fill="#0c0c0c" stroke="#0c0c0c" text-anchor="end">-1.0</text>
<text transform="translate(458.6 533.7) rotate(-45)" font-size="9.6" fill="#0c0c0c" stroke="#0c0c0c" text-anchor="end">-0.5</text>
<text transform="translate(473.6 533.7) rotate(-45)" font-size="9.6" fill="#0c0c0c" stroke="#0c0c0c" text-anchor="end">0.0</text>
<text transform="translate(488.6 533.7) rotate(-45)" font-size="9.6" fill="#0c0c0c" stroke="#0c0c0c" text-anchor="end">+0.5</text>
<text transform="translate(503.6 533.7) rotate(-45)" font-size="9.6" fill="#0c0c0c" stroke="#0c0c0c" text-anchor="end">+1.0</text>
<text x="505.5" y="534.8" font-size="9.6" fill="#0c0c0c" stroke="#0c0c0c">ms</text>
<g class="h" transform="translate(586.8 275.80)"><rect x="0" fill="#d0ff00"/><rect x="5.4" fill="#ff9300"/><rect x="10.9" fill="#ffa100"/><rect x="16.3" fill="#ffad00"/><rect x="21.8" fill="#ffbd00"/><rect x="27.2" fill="#ffcc00"/><rect x="32.6" fill="#ffe100"/><rect x="38.1" fill="#fff700"/><rect x="43.5" fill="#fff900"/><rect x="49" fill="#f8ff00"/><rect x="54.4" fill="#efff00"/><rect x="59.8" fill="#deff00"/><rect x="65.3" fill="#cdff00"/><rect x="70.7" fill="#cbff00"/><rect x="76.2" fill="#beff00"/><rect x="81.6" fill="#c3ff00"/><rect x="87" fill="#afff00"/><rect x="92.5" fill="#a5ff00"/><rect x="97.9" fill="#a4ff00"/><rect x="103.4" fill="#a2ff00"/></g>
<g class="h" transform="translate(586.8 279.79)"><rect x="0" fill="#c6ff00"/><rect x="5.4" fill="#ff9d00"/><rect x="10.9" fill="#ffb900"/><rect x="16.3" fill="#ffba00"/><rect x="21.8" fill="#ffcc00"/><rect x="27.2" fill="#ffd900"/><rect x="32.6" fill="#ffeb00"/><rect x="38.1" fill="#ffee00"/><rect x="43.5" fill="#eeff00"/><rect x="49" fill="#e7ff00"/><rect x="54.4" fill="#e1ff00"/><rect x="59.8" fill="#d7ff00"/><rect x="65.3" fill="#c7ff00"/><rect x="70.7" fill="#beff00"/><rect x="76.2" fill="#b8ff00"/><rect x="81.6" fill="#acff00"/><rect x="87" fill="#a1ff00"/><rect x="92.5" fill="#9dff00"/><rect x="97.9" fill="#92ff00"/><rect x="103.4" fill="#89ff00"/></g>
<g class="h" transform="translate(586.8 283.78)"><rect x="0" fill="#c0ff00"/><rect x="5.4" fill="#ffa300"/><rect x="10.9" fill="#ffb600"/><rect x="16.3" fill="#ffce00"/><rect x="21.8" fill="#ffde00"/><rect x="27.2" fill="#ffe700"/><rect x="32.6" fill="#ffdf00"/><rect x="38.1" fill="#fffb00"/><rect x="43.5" fill="#ebff00"/><rect x="49" fill="#d8ff00"/><rect x="54.4" fill="#d0ff00"/><rect x="59.8" fill="#cdff00"/><rect x="65.3" fill="#c3ff00"/><rect x="70.7" fill="#b9ff00"/><rect x="76.2" fill="#a1ff00"/><rect x="81.6" fill="#9fff00"/><rect x="87" fill="#9cff00"/><rect x="92.5" fill="#84ff00"/><rect x="97.9" fill="#7bff00"/><rect x="103.4" fill="#83ff00"/></g>
<g class="h" transform="translate(586.8 287.76)"><rect x="0" fill="#b6ff00"/><rect x="5.4" fill="#ffc000"/><rect x="10.9" fill="#ffcf00"/><rect x="16.3" fill="#ffd100"/><rect x="21.8" fill="#ffe600"/><rect x="27.2" fill="#fff800"/><rect x="32.6" fill="#fcff00"/><rect x="38.1" fill="#f7ff00"/><rect x="43.5" fill="#e5ff00"/><rect x="49" fill="#d5ff00"/><rect x="54.4" fill="#cbff00"/><rect x="59.8" fill="#c9ff00"/><rect x="65.3" fill="#abff00"/><rect x="70.7" fill="#abff00"/><rect x="76.2" fill="#aaff00"/><rect x="81.6" fill="#96ff00"/><rect x="87" fill="#9aff00"/><rect x="92.5" fill="#81ff00"/><rect x="97.9" fill="#71ff00"/><rect x="103.4" fill="#54ff00"/></g>
<g class="h" transform="translate(586.8 291.75)"><rect x="0" fill="#a7ff00"/><rect x="5.4" fill="#ffca00"/><rect x="10.9" fill="#ffdc00"/><rect x="16.3" fill="#ffe800"/><rect x="21.8" fill="#ffef00"/><rect x="27.2" fill="#f8ff00"/><rect x="32.6" fill="#f0ff00"/><rect x="38.1" fill="#deff00"/><rect x="43.5" fill="#d5ff00"/><rect x="49" fill="#d5ff00"/><rect x="54.4" fill="#c8ff00"/><rect x="59.8" fill="#bcff00"/><rect x="65.3" fill="#b1ff00"/><rect x="70.7" fill="#a0ff00"/><rect x="76.2" fill="#96ff00"/><rect x="81.6" fill="#8cff00"/><rect x="87" fill="#70ff00"/><rect x="92.5" fill="#64ff00"/><rect x="97.9" fill="#60ff00"/><rect x="103.4" fill="#5bff00"/></g>
<g class="h" transform="translate(586.8 295.74)"><rect x="0" fill="#a4ff00"/><rect x="5.4" fill="#ffcf00"/><rect x="10.9" fill="#ffdc00"/><rect x="16.3" fill="#ffe900"/><rect x="21.8" fill="#fffc00"/><rect x="27.2" fill="#f6ff00"/><rect x="32.6" fill="#e9ff00"/><rect x="38.1" fill="#e4ff00"/><rect x="43.5" fill="#d0ff00"/><rect x="49" fill="#bbff00"/><rect x="54.4" fill="#bbff00"/><rect x="59.8" fill="#b2ff00"/><rect x="65.3" fill="#93ff00"/><rect x="70.7" fill="#95ff00"/><rect x="76.2" fill="#8dff00"/><rect x="81.6" fill="#74ff00"/><rect x="87" fill="#71ff00"/><rect x="92.5" fill="#61ff00"/><rect x="97.9" fill="#49ff00"/><rect x="103.4" fill="#46ff00"/></g>
<g class="h" transform="translate(586.8 299.73)"><rect x="0" fill="#a2ff00"/><rect x="5.4" fill="#ffe300"/><rect x="10.9" fill="#fff000"/><rect x="16.3" fill="#ffee00"/><rect x="21.8" fill="#feff00"/><rect x="27.2" fill="#ebff00"/><rect x="32.6" fill="#e2ff00"/><rect x="38.1" fill="#d1ff00"/><rect x="43.5" fill="#c9ff00"/><rect x="49" fill="#c1ff00"/><rect x="54.4" fill="#b6ff00"/><rect x="59.8" fill="#a8ff00"/><rect x="65.3" fill="#97ff00"/><rect x="70.7" fill="#9cff00"/><rect x="76.2" fill="#88ff00"/><rect x="81.6" fill="#6dff00"/><rect x="87" fill="#5aff00"/><rect x="92.5" fill="#54ff00"/><rect x="97.9" fill="#40ff00"/><rect x="103.4" fill="#39ff00"/></g>
<g class="h" transform="translate(586.8 303.72)"><rect x="0" fill="#99ff00"/><rect x="5.4" fill="#ffeb00"/><rect x="10.9" fill="#fff400"/><rect x="16.3" fill="#fffb00"/><rect x="21.8" fill="#fcff00"/><rect x="27.2" fill="#e9ff00"/><rect x="32.6" fill="#dcff00"/><rect x="38.1" fill="#cfff00"/><rect x="43.5" fill="#c0ff00"/><rect x="49" fill="#b7ff00"/><rect x="54.4" fill="#a7ff00"/><rect x="59.8" fill="#99ff00"/><rect x="65.3" fill="#80ff00"/><rect x="70.7" fill="#74ff00"/><rect x="76.2" fill="#6fff00"/><rect x="81.6" fill="#69ff00"/><rect x="87" fill="#4cff00"/><rect x="92.5" fill="#45ff00"/><rect x="97.9" fill="#27ff00"/><rect x="103.4" fill="#2bff00"/></g>
<g class="h" transform="translate(586.8 307.71)"><rect x="0" fill="#8aff00"/><rect x="5.4" fill="#ffff00"/><rect x="10.9" fill="#fffe00"/><rect x="16.3" fill="#f4ff00"/><rect x="21.8" fill="#eaff00"/><rect x="27.2" fill="#e5ff00"/><rect x="32.6" fill="#cfff00"/><rect x="38.1" fill="#caff00"/><rect x="43.5" fill="#b9ff00"/><rect x="49" fill="#a0ff00"/><rect x="54.4" fill="#a2ff00"/><rect x="59.8" fill="#8eff00"/><rect x="65.3" fill="#86ff00"/><rect x="70.7" fill="#68ff00"/><rect x="76.2" fill="#68ff00"/><rect x="81.6" fill="#59ff00"/><rect x="87" fill="#47ff00"/><rect x="92.5" fill="#38ff00"/><rect x="97.9" fill="#2bff00"/><rect x="103.4" fill="#14ff00"/></g>
<g class="h" transform="translate(586.8 311.69)"><rect x="0" fill="#82ff00"/><rect x="5.4" fill="#fffc00"/><rect x="10.9" fill="#ffff00"/><rect x="16.3" fill="#f6ff00"/><rect x="21.8" fill="#e8ff00"/><rect x="27.2" fill="#dbff00"/><rect x="32.6" fill="#d2ff00"/><rect x="38.1" fill="#beff00"/><rect x="43.5" fill="#b1ff00"/><rect x="49" fill="#9eff00"/><rect x="54.4" fill="#93ff00"/><rect x="59.8" fill="#83ff00"/><rect x="65.3" fill="#6fff00"/><rect x="70.7" fill="#6bff00"/><rect x="76.2" fill="#4fff00"/><rect x="81.6" fill="#48ff00"/><rect x="87" fill="#3bff00"/><rect x="92.5" fill="#25ff00"/><rect x="97.9" fill="#1dff00"/><rect x="103.4" fill="#00ff0e"/></g>
<g class="h" transform="translate(586.8 315.68)"><rect x="0" fill="#75ff00"/><rect x="5.4" fill="#fff900"/><rect x="10.9" fill="#faff00"/><rect x="16.3" fill="#edff00"/><rect x="21.8" fill="#e2ff00"/><rect x="27.2" fill="#d2ff00"/><rect x="32.6" fill="#c1ff00"/><rect x="38.1" fill="#b1ff00"/><rect x="43.5" fill="#a5ff00"/><rect x="49" fill="#a1ff00"/><rect x="54.4" fill="#85ff00"/><rect x="59.8" fill="#75ff00"/><rect x="65.3" fill="#7bff00"/><rect x="70.7" fill="#62ff00"/><rect x="76.2" fill="#51ff00"/><rect x="81.6" fill="#44ff00"/><rect x="87" fill="#27ff00"/><rect x="92.5" fill="#1bff00"/><rect x="97.9" fill="#0bff00"/><rect x="103.4" fill="#02ff00"/></g>
<g class="h" transform="translate(586.8 319.67)"><rect x="0" fill="#7cff00"/><rect x="5.4" fill="#fcff00"/><rect x="10.9" fill="#f2ff00"/><rect x="16.3" fill="#e8ff00"/><rect x="21.8" fill="#e4ff00"/><rect x="27.2" fill="#d6ff00"/><rect x="32.6" fill="#c1ff00"/><rect x="38.1" fill="#aeff00"/><rect x="43.5" fill="#a4ff00"/><rect x="49" fill="#93ff00"/><rect x="54.4" fill="#82ff00"/><rect x="59.8" fill="#74ff00"/><rect x="65.3" fill="#5cff00"/><rect x="70.7" fill="#5bff00"/><rect x="76.2" fill="#43ff00"/><rect x="81.6" fill="#3fff00"/><rect x="87" fill="#1bff00"/><rect x="92.5" fill="#0eff00"/><rect x="97.9" fill="#00ff11"/><rect x="103.4" fill="#00ff31"/></g>
<g class="h" transform="translate(586.8 323.66)"><rect x="0" fill="#66ff00"/><rect x="5.4" fill="#f9ff00"/><rect x="10.9" fill="#e5ff00"/><rect x="16.3" fill="#d4ff00"/><rect x="21.8" fill="#e1ff00"/><rect x="27.2" fill="#bcff00"/><rect x="32.6" fill="#bcff00"/><rect x="38.1" fill="#a6ff00"/><rect x="43.5" fill="#9fff00"/><rect x="49" fill="#89ff00"/><rect x="54.4" fill="#71ff00"/><rect x="59.8" fill="#6cff00"/><rect x="65.3" fill="#4dff00"/><rect x="70.7" fill="#4bff00"/><rect x="76.2" fill="#34ff00"/><rect x="81.6" fill="#30ff00"/><rect x="87" fill="#1fff00"/><rect x="92.5" fill="#0eff00"/><rect x="97.9" fill="#00ff26"/><rect x="103.4" fill="#00ff78"/></g>
<g class="h" transform="translate(586.8 327.65)"><rect x="0" fill="#60ff00"/><rect x="5.4" fill="#f3ff00"/><rect x="10.9" fill="#e5ff00"/><rect x="16.3" fill="#deff00"/><rect x="21.8" fill="#c8ff00"/><rect x="27.2" fill="#c0ff00"/><rect x="32.6" fill="#b8ff00"/><rect x="38.1" fill="#a5ff00"/><rect x="43.5" fill="#8cff00"/><rect x="49" fill="#7eff00"/><rect x="54.4" fill="#75ff00"/><rect x="59.8" fill="#5bff00"/><rect x="65.3" fill="#50ff00"/><rect x="70.7" fill="#4aff00"/><rect x="76.2" fill="#31ff00"/><rect x="81.6" fill="#0fff00"/><rect x="87" fill="#1eff00"/><rect x="92.5" fill="#00ff1d"/><rect x="97.9" fill="#00ff31"/><rect x="103.4" fill="#00ff7c"/></g>
<g class="h" transform="translate(586.8 331.64)"><rect x="0" fill="#59ff00"/><rect x="5.4" fill="#e5ff00"/><rect x="10.9" fill="#ddff00"/><rect x="16.3" fill="#d1ff00"/><rect x="21.8" fill="#c2ff00"/><rect x="27.2" fill="#b8ff00"/><rect x="32.6" fill="#b5ff00"/><rect x="38.1" fill="#9aff00"/><rect x="43.5" fill="#83ff00"/><rect x="49" fill="#74ff00"/><rect x="54.4" fill="#68ff00"/><rect x="59.8" fill="#6dff00"/><rect x="65.3" fill="#45ff00"/><rect x="70.7" fill="#34ff00"/><rect x="76.2" fill="#1aff00"/><rect x="81.6" fill="#29ff00"/><rect x="87" fill="#0dff00"/><rect x="92.5" fill="#00ff08"/><rect x="97.9" fill="#00ff46"/><rect x="103.4" fill="#00ff4b"/></g>
<g class="h" transform="translate(586.8 335.62)"><rect x="0" fill="#5bff00"/><rect x="5.4" fill="#e4ff00"/><rect x="10.9" fill="#d9ff00"/><rect x="16.3" fill="#c2ff00"/><rect x="21.8" fill="#c4ff00"/><rect x="27.2" fill="#b8ff00"/><rect x="32.6" fill="#a1ff00"/><rect x="38.1" fill="#9bff00"/><rect x="43.5" fill="#7eff00"/><rect x="49" fill="#71ff00"/><rect x="54.4" fill="#69ff00"/><rect x="59.8" fill="#5bff00"/><rect x="65.3" fill="#42ff00"/><rect x="70.7" fill="#37ff00"/><rect x="76.2" fill="#25ff00"/><rect x="81.6" fill="#20ff00"/><rect x="87" fill="#00ff10"/><rect x="92.5" fill="#00ff1a"/><rect x="97.9" fill="#00ff57"/><rect x="103.4" fill="#00ff8f"/></g>
<g class="h" transform="translate(586.8 339.61)"><rect x="0" fill="#5cff00"/><rect x="5.4" fill="#deff00"/><rect x="10.9" fill="#d2ff00"/><rect x="16.3" fill="#ceff00"/><rect x="21.8" fill="#c5ff00"/><rect x="27.2" fill="#a9ff00"/><rect x="32.6" fill="#a3ff00"/><rect x="38.1" fill="#92ff00"/><rect x="43.5" fill="#84ff00"/><rect x="49" fill="#61ff00"/><rect x="54.4" fill="#5fff00"/><rect x="59.8" fill="#61ff00"/><rect x="65.3" fill="#35ff00"/><rect x="70.7" fill="#3cff00"/><rect x="76.2" fill="#19ff00"/><rect x="81.6" fill="#14ff00"/><rect x="87" fill="#00ff44"/><rect x="92.5" fill="#00ff61"/><rect x="97.9" fill="#00ff73"/><rect x="103.4" fill="#00ffcd"/></g>
<g class="h" transform="translate(586.8 343.60)"><rect x="0" fill="#3dff00"/><rect x="5.4" fill="#daff00"/><rect x="10.9" fill="#c6ff00"/><rect x="16.3" fill="#c0ff00"/><rect x="21.8" fill="#b4ff00"/><rect x="27.2" fill="#b2ff00"/><rect x="32.6" fill="#a2ff00"/><rect x="38.1" fill="#81ff00"/><rect x="43.5" fill="#78ff00"/><rect x="49" fill="#6cff00"/><rect x="54.4" fill="#42ff00"/><rect x="59.8" fill="#34ff00"/><rect x="65.3" fill="#28ff00"/><rect x="70.7" fill="#35ff00"/><rect x="76.2" fill="#18ff00"/><rect x="81.6" fill="#00ff29"/><rect x="87" fill="#17ff00"/><rect x="92.5" fill="#00ff17"/><rect x="97.9" fill="#00ff71"/><rect x="103.4" fill="#00ffd0"/></g>
<g class="h" transform="translate(586.8 347.59)"><rect x="0" fill="#4aff00"/><rect x="5.4" fill="#ceff00"/><rect x="10.9" fill="#c7ff00"/><rect x="16.3" fill="#beff00"/><rect x="21.8" fill="#abff00"/><rect x="27.2" fill="#8eff00"/><rect x="32.6" fill="#92ff00"/><rect x="38.1" fill="#7bff00"/><rect x="43.5" fill="#76ff00"/><rect x="49" fill="#51ff00"/><rect x="54.4" fill="#4bff00"/><rect x="59.8" fill="#39ff00"/><rect x="65.3" fill="#31ff00"/><rect x="70.7" fill="#2aff00"/><rect x="76.2" fill="#1aff00"/><rect x="81.6" fill="#15ff00"/><rect x="87" fill="#05ff00"/><rect x="92.5" fill="#00ffb5"/><rect x="97.9" fill="#00ffa9"/><rect x="103.4" fill="#00ffde"/></g>
<g class="h" transform="translate(586.8 351.58)"><rect x="0" fill="#43ff00"/><rect x="5.4" fill="#d4ff00"/><rect x="10.9" fill="#c3ff00"/><rect x="16.3" fill="#c0ff00"/><rect x="21.8" fill="#b2ff00"/><rect x="27.2" fill="#a1ff00"/><rect x="32.6" fill="#8dff00"/><rect x="38.1" fill="#7dff00"/><rect x="43.5" fill="#6bff00"/><rect x="49" fill="#5bff00"/><rect x="54.4" fill="#43ff00"/><rect x="59.8" fill="#21ff00"/><rect x="65.3" fill="#00ff02"/><rect x="70.7" fill="#00ff00"/><rect x="76.2" fill="#0cff00"/><rect x="81.6" fill="#00ff25"/><rect x="87" fill="#00ff7e"/><rect x="92.5" fill="#00ffa6"/><rect x="97.9" fill="#00ffd1"/><rect x="103.4" fill="#00fff5"/></g>
<g class="h" transform="translate(586.8 355.57)"><rect x="0" fill="#40ff00"/><rect x="5.4" fill="#c8ff00"/><rect x="10.9" fill="#c8ff00"/><rect x="16.3" fill="#b1ff00"/><rect x="21.8" fill="#a5ff00"/><rect x="27.2" fill="#9fff00"/><rect x="32.6" fill="#88ff00"/><rect x="38.1" fill="#7aff00"/><rect x="43.5" fill="#69ff00"/><rect x="49" fill="#40ff00"/><rect x="54.4" fill="#40ff00"/><rect x="59.8" fill="#07ff00"/><rect x="65.3" fill="#1dff00"/><rect x="70.7" fill="#1cff00"/><rect x="76.2" fill="#00ff08"/><rect x="81.6" fill="#00ffa4"/><rect x="87" fill="#00ff51"/><rect x="92.5" fill="#00ff9f"/><rect x="97.9" fill="#00ff3c"/><rect x="103.4" fill="#00ffe9"/></g>
<g class="h" transform="translate(586.8 359.56)"><rect x="0" fill="#4aff00"/><rect x="5.4" fill="#c3ff00"/><rect x="10.9" fill="#b2ff00"/><rect x="16.3" fill="#b4ff00"/><rect x="21.8" fill="#a0ff00"/><rect x="27.2" fill="#95ff00"/><rect x="32.6" fill="#84ff00"/><rect x="38.1" fill="#6fff00"/><rect x="43.5" fill="#58ff00"/><rect x="49" fill="#49ff00"/><rect x="54.4" fill="#35ff00"/><rect x="59.8" fill="#33ff00"/><rect x="65.3" fill="#33ff00"/><rect x="70.7" fill="#04ff00"/><rect x="76.2" fill="#00ff05"/><rect x="81.6" fill="#00ff46"/><rect x="87" fill="#00ff9e"/><rect x="92.5" fill="#00ffb8"/><rect x="97.9" fill="#00ff91"/><rect x="103.4" fill="#00ffe4"/></g>
<g class="h" transform="translate(586.8 363.54)"><rect x="0" fill="#3dff00"/><rect x="5.4" fill="#c0ff00"/><rect x="10.9" fill="#c3ff00"/><rect x="16.3" fill="#b2ff00"/><rect x="21.8" fill="#9fff00"/><rect x="27.2" fill="#88ff00"/><rect x="32.6" fill="#7eff00"/><rect x="38.1" fill="#74ff00"/><rect x="43.5" fill="#50ff00"/><rect x="49" fill="#44ff00"/><rect x="54.4" fill="#35ff00"/><rect x="59.8" fill="#16ff00"/><rect x="65.3" fill="#01ff00"/><rect x="70.7" fill="#03ff00"/><rect x="76.2" fill="#03ff00"/><rect x="81.6" fill="#00ff1c"/><rect x="87" fill="#00ffa0"/><rect x="92.5" fill="#00ff98"/><rect x="97.9" fill="#00ffd6"/><rect x="103.4" fill="#00ff87"/></g>
<g class="h" transform="translate(586.8 367.53)"><rect x="0" fill="#40ff00"/><rect x="5.4" fill="#bdff00"/><rect x="10.9" fill="#b4ff00"/><rect x="16.3" fill="#b3ff00"/><rect x="21.8" fill="#9bff00"/><rect x="27.2" fill="#7cff00"/><rect x="32.6" fill="#73ff00"/><rect x="38.1" fill="#68ff00"/><rect x="43.5" fill="#58ff00"/><rect x="49" fill="#4cff00"/><rect x="54.4" fill="#26ff00"/><rect x="59.8" fill="#26ff00"/><rect x="65.3" fill="#11ff00"/><rect x="70.7" fill="#00ff45"/><rect x="76.2" fill="#00ff74"/><rect x="81.6" fill="#00ff80"/><rect x="87" fill="#00ff0c"/><rect x="92.5" fill="#00ff8c"/><rect x="97.9" fill="#00feff"/><rect x="103.4" fill="#00ffab"/></g>
<g class="h" transform="translate(586.8 371.52)"><rect x="0" fill="#33ff00"/><rect x="5.4" fill="#b8ff00"/><rect x="10.9" fill="#a7ff00"/><rect x="16.3" fill="#a5ff00"/><rect x="21.8" fill="#9aff00"/><rect x="27.2" fill="#87ff00"/><rect x="32.6" fill="#65ff00"/><rect x="38.1" fill="#60ff00"/><rect x="43.5" fill="#55ff00"/><rect x="49" fill="#2eff00"/><rect x="54.4" fill="#39ff00"/><rect x="59.8" fill="#16ff00"/><rect x="65.3" fill="#00ff0b"/><rect x="70.7" fill="#00ff2e"/><rect x="76.2" fill="#00ff5f"/><rect x="81.6" fill="#00ff5a"/><rect x="87" fill="#10ff00"/><rect x="92.5" fill="#00ffbf"/><rect x="97.9" fill="#00ffcd"/><rect x="103.4" fill="#00ffe1"/></g>
<g class="h" transform="translate(586.8 375.51)"><rect x="0" fill="#36ff00"/><rect x="5.4" fill="#b1ff00"/><rect x="10.9" fill="#a9ff00"/><rect x="16.3" fill="#94ff00"/><rect x="21.8" fill="#7eff00"/><rect x="27.2" fill="#79ff00"/><rect x="32.6" fill="#6cff00"/><rect x="38.1" fill="#61ff00"/><rect x="43.5" fill="#42ff00"/><rect x="49" fill="#46ff00"/><rect x="54.4" fill="#06ff00"/><rect x="59.8" fill="#00ff09"/><rect x="65.3" fill="#0cff00"/><rect x="70.7" fill="#00ff55"/><rect x="76.2" fill="#01ff00"/><rect x="81.6" fill="#00ff0d"/><rect x="87" fill="#00ffbd"/><rect x="92.5" fill="#00ff7d"/><rect x="97.9" fill="#00ffe0"/><rect x="103.4" fill="#00ffe7"/></g>
<g class="h" transform="translate(586.8 379.50)"><rect x="0" fill="#2dff00"/><rect x="5.4" fill="#b2ff00"/><rect x="10.9" fill="#9fff00"/><rect x="16.3" fill="#96ff00"/><rect x="21.8" fill="#8fff00"/><rect x="27.2" fill="#7fff00"/><rect x="32.6" fill="#73ff00"/><rect x="38.1" fill="#51ff00"/><rect x="43.5" fill="#52ff00"/><rect x="49" fill="#35ff00"/><rect x="54.4" fill="#40ff00"/><rect x="59.8" fill="#18ff00"/><rect x="65.3" fill="#00ff35"/><rect x="70.7" fill="#0aff00"/><rect x="76.2" fill="#00ff1a"/><rect x="81.6" fill="#00ff44"/><rect x="87" fill="#00ffa4"/><rect x="92.5" fill="#00ff4f"/><rect x="97.9" fill="#00ffd8"/><rect x="103.4" fill="#00ffe8"/></g>
<g class="h" transform="translate(586.8 383.49)"><rect x="0" fill="#3dff00"/><rect x="5.4" fill="#b9ff00"/><rect x="10.9" fill="#a0ff00"/><rect x="16.3" fill="#94ff00"/><rect x="21.8" fill="#83ff00"/><rect x="27.2" fill="#79ff00"/><rect x="32.6" fill="#62ff00"/><rect x="38.1" fill="#55ff00"/><rect x="43.5" fill="#44ff00"/><rect x="49" fill="#2cff00"/><rect x="54.4" fill="#20ff00"/><rect x="59.8" fill="#22ff00"/><rect x="65.3" fill="#19ff00"/><rect x="70.7" fill="#00ff4a"/><rect x="76.2" fill="#00ff24"/><rect x="81.6" fill="#0cff00"/><rect x="87" fill="#00f2ff"/><rect x="92.5" fill="#00ff33"/><rect x="97.9" fill="#00ffdd"/><rect x="103.4" fill="#00ffb1"/></g>
<g class="h" transform="translate(586.8 387.47)"><rect x="0" fill="#30ff00"/><rect x="5.4" fill="#b2ff00"/><rect x="10.9" fill="#9fff00"/><rect x="16.3" fill="#97ff00"/><rect x="21.8" fill="#88ff00"/><rect x="27.2" fill="#65ff00"/><rect x="32.6" fill="#5bff00"/><rect x="38.1" fill="#47ff00"/><rect x="43.5" fill="#32ff00"/><rect x="49" fill="#2aff00"/><rect x="54.4" fill="#0eff00"/><rect x="59.8" fill="#00ff4a"/><rect x="65.3" fill="#00ff76"/><rect x="70.7" fill="#00ff4a"/><rect x="76.2" fill="#00ff87"/><rect x="81.6" fill="#00ffa2"/><rect x="87" fill="#00ff67"/><rect x="92.5" fill="#00f3ff"/><rect x="97.9" fill="#00ffdf"/><rect x="103.4" fill="#00ff81"/></g>
<g class="h" transform="translate(586.8 391.46)"><rect x="0" fill="#2fff00"/><rect x="5.4" fill="#b6ff00"/><rect x="10.9" fill="#a1ff00"/><rect x="16.3" fill="#8fff00"/><rect x="21.8" fill="#81ff00"/><rect x="27.2" fill="#69ff00"/><rect x="32.6" fill="#4cff00"/><rect x="38.1" fill="#49ff00"/><rect x="43.5" fill="#37ff00"/><rect x="49" fill="#1eff00"/><rect x="54.4" fill="#13ff00"/><rect x="59.8" fill="#00ff68"/><rect x="65.3" fill="#00ff5c"/><rect x="70.7" fill="#00ff61"/><rect x="76.2" fill="#00ff4c"/><rect x="81.6" fill="#16ff00"/><rect x="87" fill="#00ff2a"/><rect x="92.5" fill="#00ffa0"/><rect x="97.9" fill="#00ffdb"/><rect x="103.4" fill="#00ffd3"/></g>
<g class="h" transform="translate(586.8 395.45)"><rect x="0" fill="#31ff00"/><rect x="5.4" fill="#acff00"/><rect x="10.9" fill="#a6ff00"/><rect x="16.3" fill="#94ff00"/><rect x="21.8" fill="#82ff00"/><rect x="27.2" fill="#5eff00"/><rect x="32.6" fill="#5eff00"/><rect x="38.1" fill="#35ff00"/><rect x="43.5" fill="#1fff00"/><rect x="49" fill="#2eff00"/><rect x="54.4" fill="#13ff00"/><rect x="59.8" fill="#00ff3b"/><rect x="65.3" fill="#0aff00"/><rect x="70.7" fill="#00ff10"/><rect x="76.2" fill="#00ff54"/><rect x="81.6" fill="#00ffc7"/><rect x="87" fill="#00ffba"/><rect x="92.5" fill="#00ff8a"/><rect x="97.9" fill="#00ff7b"/><rect x="103.4" fill="#00ff91"/></g>
<g class="h" transform="translate(586.8 399.44)"><rect x="0" fill="#2fff00"/><rect x="5.4" fill="#bcff00"/><rect x="10.9" fill="#a4ff00"/><rect x="16.3" fill="#8bff00"/><rect x="21.8" fill="#82ff00"/><rect x="27.2" fill="#66ff00"/><rect x="32.6" fill="#4eff00"/><rect x="38.1" fill="#31ff00"/><rect x="43.5" fill="#29ff00"/><rect x="49" fill="#14ff00"/><rect x="54.4" fill="#0bff00"/><rect x="59.8" fill="#00ff0a"/><rect x="65.3" fill="#19ff00"/><rect x="70.7" fill="#00ff65"/><rect x="76.2" fill="#00ff0d"/><rect x="81.6" fill="#00ff6a"/><rect x="87" fill="#00ff53"/><rect x="92.5" fill="#00deff"/><rect x="97.9" fill="#00ffd1"/><rect x="103.4" fill="#00a0ff"/></g>
<g class="h" transform="translate(586.8 403.43)"><rect x="0" fill="#35ff00"/><rect x="5.4" fill="#b0ff00"/><rect x="10.9" fill="#95ff00"/><rect x="16.3" fill="#91ff00"/><rect x="21.8" fill="#76ff00"/><rect x="27.2" fill="#5bff00"/><rect x="32.6" fill="#4fff00"/><rect x="38.1" fill="#3bff00"/><rect x="43.5" fill="#22ff00"/><rect x="49" fill="#0aff00"/><rect x="54.4" fill="#03ff00"/><rect x="59.8" fill="#00ff4a"/><rect x="65.3" fill="#00ff12"/><rect x="70.7" fill="#00ff19"/><rect x="76.2" fill="#05ff00"/><rect x="81.6" fill="#00ff59"/><rect x="87" fill="#00ff69"/><rect x="92.5" fill="#00ffa9"/><rect x="97.9" fill="#00ff95"/><rect x="103.4" fill="#00ffbe"/></g>
<g class="h" transform="translate(586.8 407.42)"><rect x="0" fill="#33ff00"/><rect x="5.4" fill="#a8ff00"/><rect x="10.9" fill="#a1ff00"/><rect x="16.3" fill="#91ff00"/><rect x="21.8" fill="#71ff00"/><rect x="27.2" fill="#59ff00"/><rect x="32.6" fill="#4eff00"/><rect x="38.1" fill="#38ff00"/><rect x="43.5" fill="#2cff00"/><rect x="49" fill="#26ff00"/><rect x="54.4" fill="#0aff00"/><rect x="59.8" fill="#00ff4f"/><rect x="65.3" fill="#00ff93"/><rect x="70.7" fill="#00ff7d"/><rect x="76.2" fill="#00ff2b"/><rect x="81.6" fill="#00ff95"/><rect x="87" fill="#00ff19"/><rect x="92.5" fill="#00ffaa"/><rect x="97.9" fill="#00ff85"/><rect x="103.4" fill="#00ffe8"/></g>
<g class="h" transform="translate(586.8 411.40)"><rect x="0" fill="#27ff00"/><rect x="5.4" fill="#a0ff00"/><rect x="10.9" fill="#9cff00"/><rect x="16.3" fill="#8aff00"/><rect x="21.8" fill="#82ff00"/><rect x="27.2" fill="#66ff00"/><rect x="32.6" fill="#41ff00"/><rect x="38.1" fill="#2eff00"/><rect x="43.5" fill="#1bff00"/><rect x="49" fill="#10ff00"/><rect x="54.4" fill="#00ff2a"/><rect x="59.8" fill="#03ff00"/><rect x="65.3" fill="#00ff18"/><rect x="70.7" fill="#00ffe4"/><rect x="76.2" fill="#00ff09"/><rect x="81.6" fill="#00ff90"/><rect x="87" fill="#00ff79"/><rect x="92.5" fill="#00f8ff"/><rect x="97.9" fill="#00ffba"/><rect x="103.4" fill="#00ffd2"/></g>
<g class="h" transform="translate(586.8 415.39)"><rect x="0" fill="#33ff00"/><rect x="5.4" fill="#a7ff00"/><rect x="10.9" fill="#a3ff00"/><rect x="16.3" fill="#96ff00"/><rect x="21.8" fill="#77ff00"/><rect x="27.2" fill="#63ff00"/><rect x="32.6" fill="#47ff00"/><rect x="38.1" fill="#38ff00"/><rect x="43.5" fill="#24ff00"/><rect x="49" fill="#12ff00"/><rect x="54.4" fill="#03ff00"/><rect x="59.8" fill="#00ff3c"/><rect x="65.3" fill="#00ff29"/><rect x="70.7" fill="#1eff00"/><rect x="76.2" fill="#00ff51"/><rect x="81.6" fill="#00ff6f"/><rect x="87" fill="#00ff8a"/><rect x="92.5" fill="#00ffcc"/><rect x="97.9" fill="#00ffb8"/><rect x="103.4" fill="#00dbff"/></g>
<g class="h" transform="translate(586.8 419.38)"><rect x="0" fill="#33ff00"/><rect x="5.4" fill="#a3ff00"/><rect x="10.9" fill="#a3ff00"/><rect x="16.3" fill="#9bff00"/><rect x="21.8" fill="#7cff00"/><rect x="27.2" fill="#4cff00"/><rect x="32.6" fill="#4cff00"/><rect x="38.1" fill="#36ff00"/><rect x="43.5" fill="#1fff00"/><rect x="49" fill="#1aff00"/><rect x="54.4" fill="#05ff00"/><rect x="59.8" fill="#00ff0c"/><rect x="65.3" fill="#00ff9d"/><rect x="70.7" fill="#00ff91"/><rect x="76.2" fill="#00ff6d"/><rect x="81.6" fill="#00ff9d"/><rect x="87" fill="#00ffb4"/><rect x="92.5" fill="#00ff62"/><rect x="97.9" fill="#00f4ff"/><rect x="103.4" fill="#00ffbf"/></g>
<g class="h" transform="translate(586.8 423.37)"><rect x="0" fill="#2bff00"/><rect x="5.4" fill="#aaff00"/><rect x="10.9" fill="#95ff00"/><rect x="16.3" fill="#80ff00"/><rect x="21.8" fill="#70ff00"/><rect x="27.2" fill="#62ff00"/><rect x="32.6" fill="#4cff00"/><rect x="38.1" fill="#30ff00"/><rect x="43.5" fill="#23ff00"/><rect x="49" fill="#19ff00"/><rect x="54.4" fill="#0bff00"/><rect x="59.8" fill="#05ff00"/><rect x="65.3" fill="#00ff49"/><rect x="70.7" fill="#00ff1a"/><rect x="76.2" fill="#00ff5d"/><rect x="81.6" fill="#00ff2b"/><rect x="87" fill="#02ff00"/><rect x="92.5" fill="#00ffdb"/><rect x="97.9" fill="#00fcff"/><rect x="103.4" fill="#00ffc6"/></g>
<g class="h" transform="translate(586.8 427.36)"><rect x="0" fill="#2bff00"/><rect x="5.4" fill="#a8ff00"/><rect x="10.9" fill="#a2ff00"/><rect x="16.3" fill="#81ff00"/><rect x="21.8" fill="#81ff00"/><rect x="27.2" fill="#5eff00"/><rect x="32.6" fill="#44ff00"/><rect x="38.1" fill="#3cff00"/><rect x="43.5" fill="#16ff00"/><rect x="49" fill="#1bff00"/><rect x="54.4" fill="#00ff1c"/><rect x="59.8" fill="#01ff00"/><rect x="65.3" fill="#00ff54"/><rect x="70.7" fill="#00ff3a"/><rect x="76.2" fill="#00fff0"/><rect x="81.6" fill="#00ff8b"/><rect x="87" fill="#00ffcc"/><rect x="92.5" fill="#00ffd6"/><rect x="97.9" fill="#00ffd3"/><rect x="103.4" fill="#00ffd5"/></g>
<g class="h" transform="translate(586.8 431.35)"><rect x="0" fill="#2eff00"/><rect x="5.4" fill="#a3ff00"/><rect x="10.9" fill="#93ff00"/><rect x="16.3" fill="#84ff00"/><rect x="21.8" fill="#73ff00"/><rect x="27.2" fill="#58ff00"/><rect x="32.6" fill="#4fff00"/><rect x="38.1" fill="#34ff00"/><rect x="43.5" fill="#2dff00"/><rect x="49" fill="#1cff00"/><rect x="54.4" fill="#0bff00"/><rect x="59.8" fill="#18ff00"/><rect x="65.3" fill="#0cff00"/><rect x="70.7" fill="#00ff86"/><rect x="76.2" fill="#00ff83"/><rect x="81.6" fill="#00ffb5"/><rect x="87" fill="#00ffd6"/><rect x="92.5" fill="#00ffd3"/><rect x="97.9" fill="#00fff9"/><rect x="103.4" fill="#00fff7"/></g>
<g class="h" transform="translate(586.8 435.33)"><rect x="0" fill="#28ff00"/><rect x="5.4" fill="#b1ff00"/><rect x="10.9" fill="#99ff00"/><rect x="16.3" fill="#7fff00"/><rect x="21.8" fill="#6bff00"/><rect x="27.2" fill="#5bff00"/><rect x="32.6" fill="#4aff00"/><rect x="38.1" fill="#2dff00"/><rect x="43.5" fill="#21ff00"/><rect x="49" fill="#20ff00"/><rect x="54.4" fill="#00ff1c"/><rect x="59.8" fill="#03ff00"/><rect x="65.3" fill="#00ff38"/><rect x="70.7" fill="#16ff00"/><rect x="76.2" fill="#35ff00"/><rect x="81.6" fill="#00ff8f"/><rect x="87" fill="#00fff3"/><rect x="92.5" fill="#03ff00"/><rect x="97.9" fill="#00ffaa"/><rect x="103.4" fill="#00f9ff"/></g>
<g class="h" transform="translate(586.8 439.32)"><rect x="0" fill="#2fff00"/><rect x="5.4" fill="#a7ff00"/><rect x="10.9" fill="#97ff00"/><rect x="16.3" fill="#8dff00"/><rect x="21.8" fill="#69ff00"/><rect x="27.2" fill="#54ff00"/><rect x="32.6" fill="#44ff00"/><rect x="38.1" fill="#43ff00"/><rect x="43.5" fill="#15ff00"/><rect x="49" fill="#15ff00"/><rect x="54.4" fill="#00ff01"/><rect x="59.8" fill="#00ff72"/><rect x="65.3" fill="#00ff81"/><rect x="70.7" fill="#00ff3a"/><rect x="76.2" fill="#00ffa4"/><rect x="81.6" fill="#00ff97"/><rect x="87" fill="#00ff63"/><rect x="92.5" fill="#00ffb4"/><rect x="97.9" fill="#00ff4e"/><rect x="103.4" fill="#00ff87"/></g>
<g class="h" transform="translate(586.8 443.31)"><rect x="0" fill="#2fff00"/><rect x="5.4" fill="#9eff00"/><rect x="10.9" fill="#9dff00"/><rect x="16.3" fill="#7dff00"/><rect x="21.8" fill="#6fff00"/><rect x="27.2" fill="#4eff00"/><rect x="32.6" fill="#49ff00"/><rect x="38.1" fill="#20ff00"/><rect x="43.5" fill="#1eff00"/><rect x="49" fill="#17ff00"/><rect x="54.4" fill="#04ff00"/><rect x="59.8" fill="#21ff00"/><rect x="65.3" fill="#00ff42"/><rect x="70.7" fill="#00ff28"/><rect x="76.2" fill="#00ff83"/><rect x="81.6" fill="#00ff50"/><rect x="87" fill="#23ff00"/><rect x="92.5" fill="#0fff00"/><rect x="97.9" fill="#00ffa1"/><rect x="103.4" fill="#00ff9a"/></g>
<g class="h" transform="translate(586.8 447.30)"><rect x="0" fill="#2aff00"/><rect x="5.4" fill="#adff00"/><rect x="10.9" fill="#93ff00"/><rect x="16.3" fill="#86ff00"/><rect x="21.8" fill="#65ff00"/><rect x="27.2" fill="#5aff00"/><rect x="32.6" fill="#46ff00"/><rect x="38.1" fill="#3bff00"/><rect x="43.5" fill="#1fff00"/><rect x="49" fill="#0eff00"/><rect x="54.4" fill="#0bff00"/><rect x="59.8" fill="#00ff2e"/><rect x="65.3" fill="#0aff00"/><rect x="70.7" fill="#00ff2e"/><rect x="76.2" fill="#00ff7a"/><rect x="81.6" fill="#00ff4f"/><rect x="87" fill="#00ffd8"/><rect x="92.5" fill="#00ffd1"/><rect x="97.9" fill="#00ffa3"/><rect x="103.4" fill="#00ffae"/></g>
<g class="h" transform="translate(586.8 451.29)"><rect x="0" fill="#30ff00"/><rect x="5.4" fill="#aaff00"/><rect x="10.9" fill="#99ff00"/><rect x="16.3" fill="#8cff00"/><rect x="21.8" fill="#6aff00"/><rect x="27.2" fill="#5aff00"/><rect x="32.6" fill="#45ff00"/><rect x="38.1" fill="#2eff00"/><rect x="43.5" fill="#30ff00"/><rect x="49" fill="#15ff00"/><rect x="54.4" fill="#0dff00"/><rect x="59.8" fill="#00ff2c"/><rect x="65.3" fill="#00ff48"/><rect x="70.7" fill="#00ff67"/><rect x="76.2" fill="#00ffb1"/><rect x="81.6" fill="#17ff00"/><rect x="87" fill="#00ff36"/><rect x="92.5" fill="#00fff3"/><rect x="97.9" fill="#00e3ff"/><rect x="103.4" fill="#00ffb5"/></g>
<g class="h" transform="translate(586.8 455.28)"><rect x="0" fill="#29ff00"/><rect x="5.4" fill="#a0ff00"/><rect x="10.9" fill="#9fff00"/><rect x="16.3" fill="#88ff00"/><rect x="21.8" fill="#6dff00"/><rect x="27.2" fill="#5cff00"/><rect x="32.6" fill="#3bff00"/><rect x="38.1" fill="#30ff00"/><rect x="43.5" fill="#1cff00"/><rect x="49" fill="#1dff00"/><rect x="54.4" fill="#1dff00"/><rect x="59.8" fill="#0aff00"/><rect x="65.3" fill="#00ff82"/><rect x="70.7" fill="#00ffb3"/><rect x="76.2" fill="#00ff0b"/><rect x="81.6" fill="#00ff5f"/><rect x="87" fill="#1cff00"/><rect x="92.5" fill="#00fff7"/><rect x="97.9" fill="#00ff7d"/><rect x="103.4" fill="#00e5ff"/></g>
<g class="h" transform="translate(586.8 459.26)"><rect x="0" fill="#28ff00"/><rect x="5.4" fill="#adff00"/><rect x="10.9" fill="#9bff00"/><rect x="16.3" fill="#7fff00"/><rect x="21.8" fill="#66ff00"/><rect x="27.2" fill="#5fff00"/><rect x="32.6" fill="#4fff00"/><rect x="38.1" fill="#32ff00"/><rect x="43.5" fill="#1aff00"/><rect x="49" fill="#22ff00"/><rect x="54.4" fill="#17ff00"/><rect x="59.8" fill="#00ff43"/><rect x="65.3" fill="#00ff32"/><rect x="70.7" fill="#02ff00"/><rect x="76.2" fill="#00ff54"/><rect x="81.6" fill="#00ff8e"/><rect x="87" fill="#00ffcb"/><rect x="92.5" fill="#00ffbc"/><rect x="97.9" fill="#00ffc8"/><rect x="103.4" fill="#00ff83"/></g>
<g class="h" transform="translate(586.8 463.25)"><rect x="0" fill="#2dff00"/><rect x="5.4" fill="#a2ff00"/><rect x="10.9" fill="#93ff00"/><rect x="16.3" fill="#83ff00"/><rect x="21.8" fill="#6eff00"/><rect x="27.2" fill="#54ff00"/><rect x="32.6" fill="#4bff00"/><rect x="38.1" fill="#3dff00"/><rect x="43.5" fill="#1dff00"/><rect x="49" fill="#1bff00"/><rect x="54.4" fill="#0fff00"/><rect x="59.8" fill="#00ff1a"/><rect x="65.3" fill="#00ff12"/><rect x="70.7" fill="#00ff35"/><rect x="76.2" fill="#07ff00"/><rect x="81.6" fill="#00ffbf"/><rect x="87" fill="#00ff1d"/><rect x="92.5" fill="#00fff8"/><rect x="97.9" fill="#00ff7c"/><rect x="103.4" fill="#00ffbd"/></g>
<g class="h" transform="translate(586.8 467.24)"><rect x="0" fill="#33ff00"/><rect x="5.4" fill="#9fff00"/><rect x="10.9" fill="#93ff00"/><rect x="16.3" fill="#86ff00"/><rect x="21.8" fill="#78ff00"/><rect x="27.2" fill="#54ff00"/><rect x="32.6" fill="#48ff00"/><rect x="38.1" fill="#32ff00"/><rect x="43.5" fill="#24ff00"/><rect x="49" fill="#1dff00"/><rect x="54.4" fill="#01ff00"/><rect x="59.8" fill="#00ff11"/><rect x="65.3" fill="#00ff6c"/><rect x="70.7" fill="#00ff49"/><rect x="76.2" fill="#11ff00"/><rect x="81.6" fill="#00ff9f"/><rect x="87" fill="#00ff91"/><rect x="92.5" fill="#00ff9c"/><rect x="97.9" fill="#0fff00"/><rect x="103.4" fill="#00ffb5"/></g>
<g class="h" transform="translate(586.8 471.23)"><rect x="0" fill="#2fff00"/><rect x="5.4" fill="#a8ff00"/><rect x="10.9" fill="#92ff00"/><rect x="16.3" fill="#7eff00"/><rect x="21.8" fill="#6fff00"/><rect x="27.2" fill="#62ff00"/><rect x="32.6" fill="#45ff00"/><rect x="38.1" fill="#33ff00"/><rect x="43.5" fill="#25ff00"/><rect x="49" fill="#2cff00"/><rect x="54.4" fill="#1fff00"/><rect x="59.8" fill="#00ff2b"/><rect x="65.3" fill="#00ff0f"/><rect x="70.7" fill="#1fff00"/><rect x="76.2" fill="#00ff41"/><rect x="81.6" fill="#00ff6e"/><rect x="87" fill="#00ffb3"/><rect x="92.5" fill="#00ffc3"/><rect x="97.9" fill="#00ffdf"/><rect x="103.4" fill="#00ffbb"/></g>
<g class="h" transform="translate(586.8 475.22)"><rect x="0" fill="#3cff00"/><rect x="5.4" fill="#a7ff00"/><rect x="10.9" fill="#8aff00"/><rect x="16.3" fill="#8cff00"/><rect x="21.8" fill="#68ff00"/><rect x="27.2" fill="#66ff00"/><rect x="32.6" fill="#52ff00"/><rect x="38.1" fill="#35ff00"/><rect x="43.5" fill="#29ff00"/><rect x="49" fill="#1bff00"/><rect x="54.4" fill="#1eff00"/><rect x="59.8" fill="#00ff05"/><rect x="65.3" fill="#00ff56"/><rect x="70.7" fill="#16ff00"/><rect x="76.2" fill="#00ff80"/><rect x="81.6" fill="#00ff86"/><rect x="87" fill="#00ffbb"/><rect x="92.5" fill="#06ff00"/><rect x="97.9" fill="#00fffd"/><rect x="103.4" fill="#00ffa3"/></g>
<g class="h" transform="translate(586.8 479.21)"><rect x="0" fill="#32ff00"/><rect x="5.4" fill="#a6ff00"/><rect x="10.9" fill="#9aff00"/><rect x="16.3" fill="#88ff00"/><rect x="21.8" fill="#73ff00"/><rect x="27.2" fill="#5aff00"/><rect x="32.6" fill="#44ff00"/><rect x="38.1" fill="#38ff00"/><rect x="43.5" fill="#20ff00"/><rect x="49" fill="#17ff00"/><rect x="54.4" fill="#00ff0c"/><rect x="59.8" fill="#1cff00"/><rect x="65.3" fill="#00ff25"/><rect x="70.7" fill="#00ff31"/><rect x="76.2" fill="#00ff5a"/><rect x="81.6" fill="#00ff84"/><rect x="87" fill="#00ffbb"/><rect x="92.5" fill="#00ffb0"/><rect x="97.9" fill="#00ffe7"/><rect x="103.4" fill="#00ffd7"/></g>
<g class="h" transform="translate(586.8 483.19)"><rect x="0" fill="#31ff00"/><rect x="5.4" fill="#a7ff00"/><rect x="10.9" fill="#8bff00"/><rect x="16.3" fill="#7cff00"/><rect x="21.8" fill="#65ff00"/><rect x="27.2" fill="#5fff00"/><rect x="32.6" fill="#4aff00"/><rect x="38.1" fill="#26ff00"/><rect x="43.5" fill="#1eff00"/><rect x="49" fill="#29ff00"/><rect x="54.4" fill="#02ff00"/><rect x="59.8" fill="#00ff0d"/><rect x="65.3" fill="#00ff04"/><rect x="70.7" fill="#00ff1e"/><rect x="76.2" fill="#00ff01"/><rect x="81.6" fill="#00ff37"/><rect x="87" fill="#00ff4c"/><rect x="92.5" fill="#00ff53"/><rect x="97.9" fill="#00ffb1"/><rect x="103.4" fill="#00ffb4"/></g>
<g class="h" transform="translate(586.8 487.18)"><rect x="0" fill="#2cff00"/><rect x="5.4" fill="#9cff00"/><rect x="10.9" fill="#93ff00"/><rect x="16.3" fill="#83ff00"/><rect x="21.8" fill="#6aff00"/><rect x="27.2" fill="#5cff00"/><rect x="32.6" fill="#3bff00"/><rect x="38.1" fill="#49ff00"/><rect x="43.5" fill="#35ff00"/><rect x="49" fill="#26ff00"/><rect x="54.4" fill="#07ff00"/><rect x="59.8" fill="#00ff23"/><rect x="65.3" fill="#02ff00"/><rect x="70.7" fill="#00ff34"/><rect x="76.2" fill="#00ff33"/><rect x="81.6" fill="#00ff8c"/><rect x="87" fill="#00fbff"/><rect x="92.5" fill="#06ff00"/><rect x="97.9" fill="#00b9ff"/><rect x="103.4" fill="#00daff"/></g>
<g class="h" transform="translate(586.8 491.17)"><rect x="0" fill="#32ff00"/><rect x="5.4" fill="#9fff00"/><rect x="10.9" fill="#92ff00"/><rect x="16.3" fill="#7dff00"/><rect x="21.8" fill="#6aff00"/><rect x="27.2" fill="#56ff00"/><rect x="32.6" fill="#50ff00"/><rect x="38.1" fill="#33ff00"/><rect x="43.5" fill="#2aff00"/><rect x="49" fill="#1dff00"/><rect x="54.4" fill="#02ff00"/><rect x="59.8" fill="#0bff00"/><rect x="65.3" fill="#00ff2d"/><rect x="70.7" fill="#00ff4d"/><rect x="76.2" fill="#00ff57"/><rect x="81.6" fill="#02ff00"/><rect x="87" fill="#00ffaa"/><rect x="92.5" fill="#00ffb4"/><rect x="97.9" fill="#00b7ff"/><rect x="103.4" fill="#00ffae"/></g>
<g class="h" transform="translate(586.8 495.16)"><rect x="0" fill="#29ff00"/><rect x="5.4" fill="#a4ff00"/><rect x="10.9" fill="#93ff00"/><rect x="16.3" fill="#74ff00"/><rect x="21.8" fill="#6eff00"/><rect x="27.2" fill="#56ff00"/><rect x="32.6" fill="#48ff00"/><rect x="38.1" fill="#3eff00"/><rect x="43.5" fill="#28ff00"/><rect x="49" fill="#1fff00"/><rect x="54.4" fill="#12ff00"/><rect x="59.8" fill="#00ff5d"/><rect x="65.3" fill="#00ff38"/><rect x="70.7" fill="#1fff00"/><rect x="76.2" fill="#00ffcf"/><rect x="81.6" fill="#00ff88"/><rect x="87" fill="#00ffc3"/><rect x="92.5" fill="#00f8ff"/><rect x="97.9" fill="#00ff9b"/><rect x="103.4" fill="#00fdff"/></g>
<g class="h" transform="translate(586.8 499.15)"><rect x="0" fill="#31ff00"/><rect x="5.4" fill="#a3ff00"/><rect x="10.9" fill="#92ff00"/><rect x="16.3" fill="#7eff00"/><rect x="21.8" fill="#65ff00"/><rect x="27.2" fill="#56ff00"/><rect x="32.6" fill="#47ff00"/><rect x="38.1" fill="#2fff00"/><rect x="43.5" fill="#36ff00"/><rect x="49" fill="#1aff00"/><rect x="54.4" fill="#09ff00"/><rect x="59.8" fill="#00ff0a"/><rect x="65.3" fill="#00ff76"/><rect x="70.7" fill="#00ff42"/><rect x="76.2" fill="#00ffb2"/><rect x="81.6" fill="#00ff5c"/><rect x="87" fill="#00ffb8"/><rect x="92.5" fill="#00ffb1"/><rect x="97.9" fill="#00ffbe"/><rect x="103.4" fill="#00f2ff"/></g>
<g class="h" transform="translate(586.8 503.14)"><rect x="0" fill="#2cff00"/><rect x="5.4" fill="#a6ff00"/><rect x="10.9" fill="#89ff00"/><rect x="16.3" fill="#80ff00"/><rect x="21.8" fill="#6cff00"/><rect x="27.2" fill="#6eff00"/><rect x="32.6" fill="#4aff00"/><rect x="38.1" fill="#45ff00"/><rect x="43.5" fill="#22ff00"/><rect x="49" fill="#24ff00"/><rect x="54.4" fill="#16ff00"/><rect x="59.8" fill="#06ff00"/><rect x="65.3" fill="#17ff00"/><rect x="70.7" fill="#00ff36"/><rect x="76.2" fill="#0bff00"/><rect x="81.6" fill="#00ff59"/><rect x="87" fill="#00ffc2"/><rect x="92.5" fill="#00fff7"/><rect x="97.9" fill="#00dfff"/><rect x="103.4" fill="#00ffe3"/></g>
<g class="h" transform="translate(586.8 507.12)"><rect x="0" fill="#37ff00"/><rect x="5.4" fill="#9dff00"/><rect x="10.9" fill="#84ff00"/><rect x="16.3" fill="#84ff00"/><rect x="21.8" fill="#63ff00"/><rect x="27.2" fill="#5cff00"/><rect x="32.6" fill="#5cff00"/><rect x="38.1" fill="#38ff00"/><rect x="43.5" fill="#1bff00"/><rect x="49" fill="#14ff00"/><rect x="54.4" fill="#00ff03"/><rect x="59.8" fill="#00ff0c"/><rect x="65.3" fill="#21ff00"/><rect x="70.7" fill="#31ff00"/><rect x="76.2" fill="#06ff00"/><rect x="81.6" fill="#00ff49"/><rect x="87" fill="#00ff3c"/><rect x="92.5" fill="#00ff78"/><rect x="97.9" fill="#00fffc"/><rect x="103.4" fill="#00beff"/></g>
<g class="h" transform="translate(586.8 511.11)"><rect x="0" fill="#3cff00"/><rect x="5.4" fill="#a6ff00"/><rect x="10.9" fill="#8fff00"/><rect x="16.3" fill="#7fff00"/><rect x="21.8" fill="#7dff00"/><rect x="27.2" fill="#47ff00"/><rect x="32.6" fill="#45ff00"/><rect x="38.1" fill="#36ff00"/><rect x="43.5" fill="#35ff00"/><rect x="49" fill="#19ff00"/><rect x="54.4" fill="#22ff00"/><rect x="59.8" fill="#00ff11"/><rect x="65.3" fill="#00ff29"/><rect x="70.7" fill="#00ff36"/><rect x="76.2" fill="#00ff75"/><rect x="81.6" fill="#00ff37"/><rect x="87" fill="#00ff99"/><rect x="92.5" fill="#09ff00"/><rect x="97.9" fill="#00fff9"/><rect x="103.4" fill="#00ffe6"/></g>
<rect x="586.8" y="275.8" width="108.8" height="239.3" fill="none" stroke="#222" stroke-width="1"/>
<path d="M589.5 275.8v-4.8M600.4 275.8v-2.4M611.3 275.8v-2.4M622.1 275.8v-2.4M633 275.8v-2.4M643.9 275.8v-4.8M654.8 275.8v-2.4M665.7 275.8v-2.4M676.5 275.8v-2.4M687.4 275.8v-2.4M586.8 277.4h-4.6M586.8 285.4h-2.4M586.8 293.3h-2.4M586.8 301.3h-2.4M586.8 309.3h-2.4M586.8 317.3h-2.4M586.8 325.2h-2.4M586.8 333.2h-2.4M586.8 341.2h-2.4M586.8 349.1h-2.4M586.8 357.1h-4.6M586.8 365.1h-2.4M586.8 373h-2.4M586.8 381h-2.4M586.8 389h-2.4M586.8 397h-2.4M586.8 404.9h-2.4M586.8 412.9h-2.4M586.8 420.9h-2.4M586.8 428.8h-2.4M586.8 436.8h-4.6M586.8 444.8h-2.4M586.8 452.7h-2.4M586.8 460.7h-2.4M586.8 468.7h-2.4M586.8 476.7h-2.4M586.8 484.6h-2.4M586.8 492.6h-2.4M586.8 500.6h-2.4M586.8 508.5h-2.4" stroke="#333" stroke-width="1" fill="none"/>
<text x="646.6" y="255.6" font-size="11.7" fill="#0c0c0c" stroke="#0c0c0c" text-anchor="middle">Stimulus no.</text>
<text x="590.4" y="269" font-size="10.3" fill="#0c0c0c" stroke="#0c0c0c" text-anchor="middle">1</text>
<text x="616.8" y="269" font-size="10.3" fill="#0c0c0c" stroke="#0c0c0c" text-anchor="middle">5</text>
<text x="643.9" y="269" font-size="10.3" fill="#0c0c0c" stroke="#0c0c0c" text-anchor="middle">10</text>
<text x="670.9" y="269" font-size="10.3" fill="#0c0c0c" stroke="#0c0c0c" text-anchor="middle">15</text>
<text x="694.4" y="269" font-size="10.3" fill="#0c0c0c" stroke="#0c0c0c" text-anchor="middle">20</text>
<text transform="translate(578 276.3) rotate(-90)" font-size="12" fill="#0c0c0c" stroke="#0c0c0c" text-anchor="middle">0</text>
<text transform="translate(579 395.6) rotate(-90)" font-size="10.9" fill="#0c0c0c" stroke="#0c0c0c" text-anchor="middle">10</text>
<text transform="translate(579.3 511.3) rotate(-90)" font-size="12" fill="#0c0c0c" stroke="#0c0c0c" text-anchor="middle">20</text>
<path d="M566 276.4l-9.9 -2.5l0.5 2.5l-0.5 2.5z" fill="#8a35e8"/>
<path d="M566 512.2l-9.9 -2.5l0.5 2.5l-0.5 2.5z" fill="#c9acf0"/>
<linearGradient id="cbH"><stop offset="0%" stop-color="#800000"/><stop offset="11%" stop-color="#a00000"/><stop offset="20%" stop-color="#d80000"/><stop offset="27%" stop-color="#ff0000"/><stop offset="36%" stop-color="#ff1000"/><stop offset="42%" stop-color="#ff8000"/><stop offset="47%" stop-color="#ffd000"/><stop offset="50%" stop-color="#ffff00"/><stop offset="56.5%" stop-color="#a0ff00"/><stop offset="63%" stop-color="#30ff00"/><stop offset="66%" stop-color="#00ff00"/><stop offset="69%" stop-color="#00ff80"/><stop offset="73.5%" stop-color="#00ffff"/><stop offset="78.5%" stop-color="#0080ff"/><stop offset="83%" stop-color="#0020ff"/><stop offset="86%" stop-color="#1000ff"/><stop offset="91%" stop-color="#6000e0"/><stop offset="95.5%" stop-color="#8000c0"/><stop offset="100%" stop-color="#7a0096"/></linearGradient>
<rect x="609.5" y="519.3" width="61.6" height="7" fill="url(#cbH)" stroke="#333" stroke-width="0.8"/>
<path d="M610.5 526.3v5M625.5 526.3v5M640.5 526.3v5M655.5 526.3v5M670.5 526.3v5" stroke="#222" stroke-width="1.1" fill="none"/>
<text transform="translate(613.9 534.9) rotate(-45)" font-size="9.6" fill="#0c0c0c" stroke="#0c0c0c" text-anchor="end">-1.0</text>
<text transform="translate(628.9 534.9) rotate(-45)" font-size="9.6" fill="#0c0c0c" stroke="#0c0c0c" text-anchor="end">-0.5</text>
<text transform="translate(643.9 534.9) rotate(-45)" font-size="9.6" fill="#0c0c0c" stroke="#0c0c0c" text-anchor="end">0.0</text>
<text transform="translate(658.9 534.9) rotate(-45)" font-size="9.6" fill="#0c0c0c" stroke="#0c0c0c" text-anchor="end">+0.5</text>
<text transform="translate(673.9 534.9) rotate(-45)" font-size="9.6" fill="#0c0c0c" stroke="#0c0c0c" text-anchor="end">+1.0</text>
<text x="675.8" y="536" font-size="9.6" fill="#0c0c0c" stroke="#0c0c0c">ms</text>
<text transform="translate(29.9 389.4) rotate(-90)" font-size="13.6" fill="#111" stroke="#111" font-weight="bold" text-anchor="middle">Control vs</text>
<text transform="translate(57.5 393.4) rotate(-90)" font-size="11.8" fill="#0c0c0c" stroke="#0c0c0c" text-anchor="middle">Time [min]</text>
<text transform="translate(225 395.1) rotate(-90)" font-size="13.6" fill="#ff1c1c" stroke="#ff1c1c" font-weight="bold" text-anchor="middle">AIR</text>
<text transform="translate(394.2 394.8) rotate(-90)" font-size="14.1" fill="#4568ee" stroke="#4568ee" font-weight="bold" text-anchor="middle">D<tspan font-weight="normal" font-family="Liberation Serif, serif">&#946;</tspan>Hb 0.1mM + AIR</text>
<text transform="translate(563.4 387.9) rotate(-90)" font-size="14.1" fill="#9a3dee" stroke="#9a3dee" font-weight="bold" text-anchor="middle">D<tspan font-weight="normal" font-family="Liberation Serif, serif">&#946;</tspan>Hb 1mM + AIR</text>
<g shape-rendering="crispEdges">
<rect x="88.1" y="600.6" width="16.5" height="12.1" fill="#ffff88"/>
<rect x="104.4" y="600.6" width="16.5" height="12.1" fill="#b9ff85"/>
<rect x="136.9" y="600.6" width="32.7" height="12.1" fill="#b9ff85"/>
<rect x="169.4" y="600.6" width="16.5" height="12.1" fill="#ffff88"/>
<rect x="77.3" y="612.6" width="11" height="12.1" fill="#ffff88"/>
<rect x="88.1" y="612.6" width="97.8" height="12.1" fill="#b9ff85"/>
<rect x="77.3" y="624.5" width="11" height="12.1" fill="#ffff88"/>
<rect x="88.1" y="624.5" width="97.8" height="12.1" fill="#b9ff85"/>
<rect x="88.1" y="636.4" width="97.8" height="12.1" fill="#b9ff85"/>
<rect x="88.1" y="648.4" width="97.8" height="12.1" fill="#b9ff85"/>
<rect x="88.1" y="660.3" width="16.5" height="12.1" fill="#b9ff85"/>
<rect x="104.4" y="660.3" width="16.5" height="12.1" fill="#ffff88"/>
<rect x="120.7" y="660.3" width="65.2" height="12.1" fill="#b9ff85"/>
<rect x="77.3" y="672.2" width="27.3" height="12.1" fill="#ffff88"/>
<rect x="104.4" y="672.2" width="32.7" height="12.1" fill="#b9ff85"/>
<rect x="136.9" y="672.2" width="16.5" height="12.1" fill="#ffff88"/>
<rect x="153.2" y="672.2" width="32.7" height="12.1" fill="#b9ff85"/>
<rect x="77.3" y="684.1" width="11" height="12.1" fill="#ffff88"/>
<rect x="88.1" y="684.1" width="16.5" height="12.1" fill="#b9ff85"/>
<rect x="104.4" y="684.1" width="65.2" height="12.1" fill="#ffff88"/>
<rect x="169.4" y="684.1" width="16.5" height="12.1" fill="#b9ff85"/>
<rect x="88.1" y="696.1" width="16.5" height="12.1" fill="#ffff88"/>
<rect x="104.4" y="696.1" width="49" height="12.1" fill="#b9ff85"/>
<rect x="153.2" y="696.1" width="32.7" height="12.1" fill="#ffff88"/>
<rect x="88.1" y="708" width="32.7" height="12.1" fill="#ffff88"/>
<rect x="120.7" y="708" width="16.5" height="12.1" fill="#b9ff85"/>
<rect x="136.9" y="708" width="16.5" height="12.1" fill="#ffff88"/>
<rect x="153.2" y="708" width="32.7" height="12.1" fill="#b9ff85"/>
<rect x="88.1" y="719.9" width="16.5" height="12.1" fill="#b9ff85"/>
<rect x="104.4" y="719.9" width="16.5" height="12.1" fill="#ffff88"/>
<rect x="120.7" y="719.9" width="65.2" height="12.1" fill="#b9ff85"/>
<rect x="77.3" y="731.9" width="11" height="12.1" fill="#ffff88"/>
<rect x="88.1" y="731.9" width="97.8" height="12.1" fill="#b9ff85"/>
<rect x="77.3" y="743.8" width="11" height="12.1" fill="#ffff88"/>
<rect x="88.1" y="743.8" width="97.8" height="12.1" fill="#b9ff85"/>
<rect x="77.3" y="755.7" width="11" height="12.1" fill="#ffff88"/>
<rect x="88.1" y="755.7" width="49" height="12.1" fill="#b9ff85"/>
<rect x="136.9" y="755.7" width="16.5" height="12.1" fill="#ffff88"/>
<rect x="153.2" y="755.7" width="32.7" height="12.1" fill="#b9ff85"/>
<rect x="88.1" y="767.7" width="32.7" height="12.1" fill="#b9ff85"/>
<rect x="120.7" y="767.7" width="32.7" height="12.1" fill="#ffff88"/>
<rect x="153.2" y="767.7" width="32.7" height="12.1" fill="#b9ff85"/>
<rect x="88.1" y="779.6" width="32.7" height="12.1" fill="#ffff88"/>
<rect x="120.7" y="779.6" width="65.2" height="12.1" fill="#b9ff85"/>
<rect x="77.3" y="791.5" width="11" height="12.1" fill="#ffff88"/>
<rect x="88.1" y="791.5" width="16.5" height="12.1" fill="#b9ff85"/>
<rect x="136.9" y="791.5" width="49" height="12.1" fill="#b9ff85"/>
<rect x="104.4" y="803.4" width="32.7" height="12.1" fill="#ffff88"/>
<rect x="136.9" y="803.4" width="16.5" height="12.1" fill="#b9ff85"/>
<rect x="153.2" y="803.4" width="16.5" height="12.1" fill="#ffff88"/>
<rect x="169.4" y="803.4" width="16.5" height="12.1" fill="#b9ff85"/>
<rect x="88.1" y="815.4" width="16.5" height="12.1" fill="#b9ff85"/>
<rect x="120.7" y="815.4" width="16.5" height="12.1" fill="#b9ff85"/>
<rect x="136.9" y="815.4" width="32.7" height="12.1" fill="#ffff88"/>
<rect x="169.4" y="815.4" width="16.5" height="12.1" fill="#b9ff85"/>
</g>
<rect x="77.3" y="588.7" width="108.4" height="238.6" fill="none" stroke="#222" stroke-width="1"/>
<path d="M78.5 588.7v-4.8M89.4 588.7v-2.4M100.3 588.7v-2.4M111.1 588.7v-2.4M122 588.7v-2.4M132.9 588.7v-4.8M143.8 588.7v-2.4M154.7 588.7v-2.4M165.5 588.7v-2.4M176.4 588.7v-2.4M77.3 588.7h-4.6M77.3 596.7h-2.4M77.3 604.6h-2.4M77.3 612.6h-2.4M77.3 620.6h-2.4M77.3 628.6h-2.4M77.3 636.5h-2.4M77.3 644.5h-2.4M77.3 652.5h-2.4M77.3 660.4h-2.4M77.3 668.4h-4.6M77.3 676.4h-2.4M77.3 684.3h-2.4M77.3 692.3h-2.4M77.3 700.3h-2.4M77.3 708.2h-2.4M77.3 716.2h-2.4M77.3 724.2h-2.4M77.3 732.2h-2.4M77.3 740.1h-2.4M77.3 748.1h-4.6M77.3 756.1h-2.4M77.3 764h-2.4M77.3 772h-2.4M77.3 780h-2.4M77.3 788h-2.4M77.3 795.9h-2.4M77.3 803.9h-2.4M77.3 811.9h-2.4M77.3 819.8h-2.4" stroke="#333" stroke-width="1" fill="none"/>
<text x="133.2" y="568.3" font-size="11.7" fill="#0c0c0c" stroke="#0c0c0c" text-anchor="middle">Stimulus no.</text>
<text x="77" y="582.3" font-size="10.3" fill="#0c0c0c" stroke="#0c0c0c" text-anchor="middle">1</text>
<text x="103.3" y="582.3" font-size="10.3" fill="#0c0c0c" stroke="#0c0c0c" text-anchor="middle">5</text>
<text x="130.5" y="582.3" font-size="10.3" fill="#0c0c0c" stroke="#0c0c0c" text-anchor="middle">10</text>
<text x="157.4" y="582.3" font-size="10.3" fill="#0c0c0c" stroke="#0c0c0c" text-anchor="middle">15</text>
<text x="180.9" y="582.3" font-size="10.3" fill="#0c0c0c" stroke="#0c0c0c" text-anchor="middle">20</text>
<text transform="translate(69.9 589.7) rotate(-90)" font-size="12" fill="#0c0c0c" stroke="#0c0c0c" text-anchor="middle">0</text>
<text transform="translate(72.2 828) rotate(-90)" font-size="12" fill="#0c0c0c" stroke="#0c0c0c" text-anchor="middle">20</text>
<rect x="28.4" y="777.2" width="9.2" height="9.2" fill="#b9ff85" stroke="#3a3a3a" stroke-width="1.1"/>
<text x="39.4" y="785.4" font-size="9.3" fill="#2a2a2a" stroke="#2a2a2a" style="stroke-width:.1px">p&lt;0.05</text>
<rect x="28.4" y="789.9" width="9.2" height="9.2" fill="#ffff88" stroke="#3a3a3a" stroke-width="1.1"/>
<text x="39.4" y="798.1" font-size="9.3" fill="#2a2a2a" stroke="#2a2a2a" style="stroke-width:.1px">p&lt;0.1</text>
<rect x="28.4" y="802.6" width="9.2" height="9.2" fill="#fff" stroke="#3a3a3a" stroke-width="1.1"/>
<text x="39.4" y="810.8" font-size="9.3" fill="#2a2a2a" stroke="#2a2a2a" style="stroke-width:.1px">p&gt;0.1</text>
<rect x="248.2" y="589.7" width="108.4" height="238.6" fill="none" stroke="#222" stroke-width="1"/>
<path d="M249.4 589.7v-4.8M260.3 589.7v-2.4M271.2 589.7v-2.4M282 589.7v-2.4M292.9 589.7v-2.4M303.8 589.7v-4.8M314.7 589.7v-2.4M325.6 589.7v-2.4M336.4 589.7v-2.4M347.3 589.7v-2.4M248.2 589.7h-4.6M248.2 597.7h-2.4M248.2 605.6h-2.4M248.2 613.6h-2.4M248.2 621.6h-2.4M248.2 629.6h-2.4M248.2 637.5h-2.4M248.2 645.5h-2.4M248.2 653.5h-2.4M248.2 661.4h-2.4M248.2 669.4h-4.6M248.2 677.4h-2.4M248.2 685.3h-2.4M248.2 693.3h-2.4M248.2 701.3h-2.4M248.2 709.2h-2.4M248.2 717.2h-2.4M248.2 725.2h-2.4M248.2 733.2h-2.4M248.2 741.1h-2.4M248.2 749.1h-4.6M248.2 757.1h-2.4M248.2 765h-2.4M248.2 773h-2.4M248.2 781h-2.4M248.2 789h-2.4M248.2 796.9h-2.4M248.2 804.9h-2.4M248.2 812.9h-2.4M248.2 820.8h-2.4" stroke="#333" stroke-width="1" fill="none"/>
<text x="302.4" y="568.3" font-size="11.7" fill="#0c0c0c" stroke="#0c0c0c" text-anchor="middle">Stimulus no.</text>
<text x="246.2" y="582.3" font-size="10.3" fill="#0c0c0c" stroke="#0c0c0c" text-anchor="middle">1</text>
<text x="272.5" y="582.3" font-size="10.3" fill="#0c0c0c" stroke="#0c0c0c" text-anchor="middle">5</text>
<text x="299.7" y="582.3" font-size="10.3" fill="#0c0c0c" stroke="#0c0c0c" text-anchor="middle">10</text>
<text x="326.6" y="582.3" font-size="10.3" fill="#0c0c0c" stroke="#0c0c0c" text-anchor="middle">15</text>
<text x="350.1" y="582.3" font-size="10.3" fill="#0c0c0c" stroke="#0c0c0c" text-anchor="middle">20</text>
<text transform="translate(239.6 589.7) rotate(-90)" font-size="12" fill="#0c0c0c" stroke="#0c0c0c" text-anchor="middle">0</text>
<text transform="translate(242.3 828) rotate(-90)" font-size="12" fill="#0c0c0c" stroke="#0c0c0c" text-anchor="middle">20</text>
<rect x="199.9" y="777.3" width="9.2" height="9.2" fill="#b9ff85" stroke="#3a3a3a" stroke-width="1.1"/>
<text x="210.9" y="785.5" font-size="9.3" fill="#2a2a2a" stroke="#2a2a2a" style="stroke-width:.1px">p&lt;0.05</text>
<rect x="199.9" y="790" width="9.2" height="9.2" fill="#ffff88" stroke="#3a3a3a" stroke-width="1.1"/>
<text x="210.9" y="798.2" font-size="9.3" fill="#2a2a2a" stroke="#2a2a2a" style="stroke-width:.1px">p&lt;0.1</text>
<rect x="199.9" y="802.7" width="9.2" height="9.2" fill="#fff" stroke="#3a3a3a" stroke-width="1.1"/>
<text x="210.9" y="810.9" font-size="9.3" fill="#2a2a2a" stroke="#2a2a2a" style="stroke-width:.1px">p&gt;0.1</text>
<text x="302.5" y="707.4" font-size="9.3" fill="#222" stroke="#222" text-anchor="middle">n.s.</text>
<rect x="416" y="590.9" width="108.4" height="238.6" fill="none" stroke="#222" stroke-width="1"/>
<path d="M417.2 590.9v-4.8M428.1 590.9v-2.4M439 590.9v-2.4M449.8 590.9v-2.4M460.7 590.9v-2.4M471.6 590.9v-4.8M482.5 590.9v-2.4M493.4 590.9v-2.4M504.2 590.9v-2.4M515.1 590.9v-2.4M416 590.9h-4.6M416 598.9h-2.4M416 606.8h-2.4M416 614.8h-2.4M416 622.8h-2.4M416 630.8h-2.4M416 638.7h-2.4M416 646.7h-2.4M416 654.7h-2.4M416 662.6h-2.4M416 670.6h-4.6M416 678.6h-2.4M416 686.5h-2.4M416 694.5h-2.4M416 702.5h-2.4M416 710.4h-2.4M416 718.4h-2.4M416 726.4h-2.4M416 734.4h-2.4M416 742.3h-2.4M416 750.3h-4.6M416 758.3h-2.4M416 766.2h-2.4M416 774.2h-2.4M416 782.2h-2.4M416 790.1h-2.4M416 798.1h-2.4M416 806.1h-2.4M416 814.1h-2.4M416 822h-2.4" stroke="#333" stroke-width="1" fill="none"/>
<text x="472.3" y="568.3" font-size="11.7" fill="#0c0c0c" stroke="#0c0c0c" text-anchor="middle">Stimulus no.</text>
<text x="416.1" y="582.3" font-size="10.3" fill="#0c0c0c" stroke="#0c0c0c" text-anchor="middle">1</text>
<text x="442.4" y="582.3" font-size="10.3" fill="#0c0c0c" stroke="#0c0c0c" text-anchor="middle">5</text>
<text x="469.6" y="582.3" font-size="10.3" fill="#0c0c0c" stroke="#0c0c0c" text-anchor="middle">10</text>
<text x="496.5" y="582.3" font-size="10.3" fill="#0c0c0c" stroke="#0c0c0c" text-anchor="middle">15</text>
<text x="520" y="582.3" font-size="10.3" fill="#0c0c0c" stroke="#0c0c0c" text-anchor="middle">20</text>
<text transform="translate(408.9 589.7) rotate(-90)" font-size="12" fill="#0c0c0c" stroke="#0c0c0c" text-anchor="middle">0</text>
<text transform="translate(409.8 828) rotate(-90)" font-size="12" fill="#0c0c0c" stroke="#0c0c0c" text-anchor="middle">20</text>
<rect x="368.1" y="778.4" width="9.2" height="9.2" fill="#b9ff85" stroke="#3a3a3a" stroke-width="1.1"/>
<text x="379.1" y="786.6" font-size="9.3" fill="#2a2a2a" stroke="#2a2a2a" style="stroke-width:.1px">p&lt;0.05</text>
<rect x="368.1" y="791.1" width="9.2" height="9.2" fill="#ffff88" stroke="#3a3a3a" stroke-width="1.1"/>
<text x="379.1" y="799.3" font-size="9.3" fill="#2a2a2a" stroke="#2a2a2a" style="stroke-width:.1px">p&lt;0.1</text>
<rect x="368.1" y="803.8" width="9.2" height="9.2" fill="#fff" stroke="#3a3a3a" stroke-width="1.1"/>
<text x="379.1" y="812" font-size="9.3" fill="#2a2a2a" stroke="#2a2a2a" style="stroke-width:.1px">p&gt;0.1</text>
<text x="470.5" y="708.4" font-size="9.3" fill="#222" stroke="#222" text-anchor="middle">n.s.</text>
<g shape-rendering="crispEdges">
<rect x="587.7" y="604.8" width="11" height="12.1" fill="#ffff88"/>
<rect x="647.3" y="604.8" width="16.5" height="12.1" fill="#b9ff85"/>
<rect x="663.6" y="604.8" width="32.7" height="12.1" fill="#ffff88"/>
<rect x="631.1" y="616.8" width="65.2" height="12.1" fill="#b9ff85"/>
<rect x="598.5" y="628.7" width="16.5" height="12.1" fill="#ffff88"/>
<rect x="614.8" y="628.7" width="49" height="12.1" fill="#b9ff85"/>
<rect x="663.6" y="628.7" width="16.5" height="12.1" fill="#ffff88"/>
<rect x="679.8" y="628.7" width="16.5" height="12.1" fill="#b9ff85"/>
<rect x="663.6" y="640.6" width="16.5" height="12.1" fill="#b9ff85"/>
<rect x="679.8" y="640.6" width="16.5" height="12.1" fill="#ffff88"/>
<rect x="587.7" y="652.5" width="11" height="12.1" fill="#b9ff85"/>
<rect x="679.8" y="652.5" width="16.5" height="12.1" fill="#b9ff85"/>
<rect x="587.7" y="664.5" width="11" height="12.1" fill="#ffff88"/>
<rect x="598.5" y="664.5" width="32.7" height="12.1" fill="#b9ff85"/>
<rect x="631.1" y="664.5" width="16.5" height="12.1" fill="#ffff88"/>
<rect x="679.8" y="664.5" width="16.5" height="12.1" fill="#b9ff85"/>
<rect x="587.7" y="676.4" width="27.3" height="12.1" fill="#b9ff85"/>
<rect x="663.6" y="676.4" width="16.5" height="12.1" fill="#ffff88"/>
<rect x="679.8" y="676.4" width="16.5" height="12.1" fill="#b9ff85"/>
<rect x="587.7" y="688.3" width="27.3" height="12.1" fill="#b9ff85"/>
<rect x="663.6" y="688.3" width="32.7" height="12.1" fill="#b9ff85"/>
<rect x="587.7" y="700.3" width="11" height="12.1" fill="#b9ff85"/>
<rect x="598.5" y="700.3" width="16.5" height="12.1" fill="#ffff88"/>
<rect x="663.6" y="700.3" width="32.7" height="12.1" fill="#ffff88"/>
<rect x="587.7" y="712.2" width="11" height="12.1" fill="#b9ff85"/>
<rect x="598.5" y="712.2" width="16.5" height="12.1" fill="#ffff88"/>
<rect x="663.6" y="712.2" width="32.7" height="12.1" fill="#ffff88"/>
<rect x="587.7" y="724.1" width="11" height="12.1" fill="#b9ff85"/>
<rect x="598.5" y="724.1" width="16.5" height="12.1" fill="#ffff88"/>
<rect x="679.8" y="724.1" width="16.5" height="12.1" fill="#b9ff85"/>
<rect x="587.7" y="736.1" width="27.3" height="12.1" fill="#b9ff85"/>
<rect x="663.6" y="736.1" width="16.5" height="12.1" fill="#ffff88"/>
<rect x="679.8" y="736.1" width="16.5" height="12.1" fill="#b9ff85"/>
<rect x="587.7" y="748" width="43.6" height="12.1" fill="#b9ff85"/>
<rect x="631.1" y="748" width="16.5" height="12.1" fill="#ffff88"/>
<rect x="647.3" y="748" width="49" height="12.1" fill="#b9ff85"/>
<rect x="587.7" y="759.9" width="108.6" height="12.1" fill="#b9ff85"/>
<rect x="587.7" y="771.8" width="27.3" height="12.1" fill="#b9ff85"/>
<rect x="614.8" y="771.8" width="16.5" height="12.1" fill="#ffff88"/>
<rect x="631.1" y="771.8" width="65.2" height="12.1" fill="#b9ff85"/>
<rect x="587.7" y="783.8" width="108.6" height="12.1" fill="#b9ff85"/>
<rect x="587.7" y="795.7" width="108.6" height="12.1" fill="#b9ff85"/>
<rect x="587.7" y="807.6" width="108.6" height="12.1" fill="#b9ff85"/>
<rect x="587.7" y="819.6" width="108.6" height="12.1" fill="#b9ff85"/>
</g>
<rect x="587.7" y="592.9" width="108.4" height="238.6" fill="none" stroke="#222" stroke-width="1"/>
<path d="M588.9 592.9v-4.8M599.8 592.9v-2.4M610.7 592.9v-2.4M621.5 592.9v-2.4M632.4 592.9v-2.4M643.3 592.9v-4.8M654.2 592.9v-2.4M665.1 592.9v-2.4M675.9 592.9v-2.4M686.8 592.9v-2.4M587.7 592.9h-4.6M587.7 600.9h-2.4M587.7 608.8h-2.4M587.7 616.8h-2.4M587.7 624.8h-2.4M587.7 632.8h-2.4M587.7 640.7h-2.4M587.7 648.7h-2.4M587.7 656.7h-2.4M587.7 664.6h-2.4M587.7 672.6h-4.6M587.7 680.6h-2.4M587.7 688.5h-2.4M587.7 696.5h-2.4M587.7 704.5h-2.4M587.7 712.4h-2.4M587.7 720.4h-2.4M587.7 728.4h-2.4M587.7 736.4h-2.4M587.7 744.3h-2.4M587.7 752.3h-4.6M587.7 760.3h-2.4M587.7 768.2h-2.4M587.7 776.2h-2.4M587.7 784.2h-2.4M587.7 792.1h-2.4M587.7 800.1h-2.4M587.7 808.1h-2.4M587.7 816.1h-2.4M587.7 824h-2.4" stroke="#333" stroke-width="1" fill="none"/>
<text x="640.2" y="568.3" font-size="11.7" fill="#0c0c0c" stroke="#0c0c0c" text-anchor="middle">Stimulus no.</text>
<text x="584" y="582.3" font-size="10.3" fill="#0c0c0c" stroke="#0c0c0c" text-anchor="middle">1</text>
<text x="610.3" y="582.3" font-size="10.3" fill="#0c0c0c" stroke="#0c0c0c" text-anchor="middle">5</text>
<text x="637.5" y="582.3" font-size="10.3" fill="#0c0c0c" stroke="#0c0c0c" text-anchor="middle">10</text>
<text x="664.4" y="582.3" font-size="10.3" fill="#0c0c0c" stroke="#0c0c0c" text-anchor="middle">15</text>
<text x="687.9" y="582.3" font-size="10.3" fill="#0c0c0c" stroke="#0c0c0c" text-anchor="middle">20</text>
<text transform="translate(578.6 589.7) rotate(-90)" font-size="12" fill="#0c0c0c" stroke="#0c0c0c" text-anchor="middle">0</text>
<text transform="translate(580.3 828) rotate(-90)" font-size="12" fill="#0c0c0c" stroke="#0c0c0c" text-anchor="middle">20</text>
<rect x="538" y="779.9" width="9.2" height="9.2" fill="#b9ff85" stroke="#3a3a3a" stroke-width="1.1"/>
<text x="549" y="788.1" font-size="9.3" fill="#2a2a2a" stroke="#2a2a2a" style="stroke-width:.1px">p&lt;0.05</text>
<rect x="538" y="792.6" width="9.2" height="9.2" fill="#ffff88" stroke="#3a3a3a" stroke-width="1.1"/>
<text x="549" y="800.8" font-size="9.3" fill="#2a2a2a" stroke="#2a2a2a" style="stroke-width:.1px">p&lt;0.1</text>
<rect x="538" y="805.3" width="9.2" height="9.2" fill="#fff" stroke="#3a3a3a" stroke-width="1.1"/>
<text x="549" y="813.5" font-size="9.3" fill="#2a2a2a" stroke="#2a2a2a" style="stroke-width:.1px">p&gt;0.1</text>
<text transform="translate(17.6 709.2) rotate(-90)" font-size="13.6" fill="#111" stroke="#111" font-weight="bold" text-anchor="middle">Control vs</text>
<text transform="translate(35.5 706.3) rotate(-90)" font-size="13.6" fill="#ff1c1c" stroke="#ff1c1c" font-weight="bold" text-anchor="middle">AIR</text>
<text transform="translate(56.6 711.7) rotate(-90)" font-size="11.8" fill="#0c0c0c" stroke="#0c0c0c" text-anchor="middle">Time [min]</text>
<text transform="translate(70.4 713.5) rotate(-90)" font-size="10.8" fill="#0c0c0c" stroke="#0c0c0c" text-anchor="middle">10</text>
<text transform="translate(215.8 709.2) rotate(-90)" font-size="13.6" fill="#111" stroke="#111" font-weight="bold" text-anchor="middle">Control vs</text>
<text transform="translate(234.9 699) rotate(-90)" font-size="14.1" fill="#9a3dee" stroke="#9a3dee" font-weight="bold" text-anchor="middle">D<tspan font-weight="normal" font-family="Liberation Serif, serif">&#946;</tspan>Hb 1mM + AIR</text>
<text transform="translate(384 704.8) rotate(-90)" font-size="13.6" fill="#ff1c1c" stroke="#ff1c1c" font-weight="bold" text-anchor="middle">AIR vs</text>
<text transform="translate(402.9 700.9) rotate(-90)" font-size="14.1" fill="#4568ee" stroke="#4568ee" font-weight="bold" text-anchor="middle">D<tspan font-weight="normal" font-family="Liberation Serif, serif">&#946;</tspan>Hb 0.1mM + AIR</text>
<text transform="translate(554 706.5) rotate(-90)" font-size="13.6" fill="#ff1c1c" stroke="#ff1c1c" font-weight="bold" text-anchor="middle">AIR vs</text>
<text transform="translate(572.3 699.7) rotate(-90)" font-size="14.1" fill="#9a3dee" stroke="#9a3dee" font-weight="bold" text-anchor="middle">D<tspan font-weight="normal" font-family="Liberation Serif, serif">&#946;</tspan>Hb 1mM + AIR</text>
</svg>
</body></html>
